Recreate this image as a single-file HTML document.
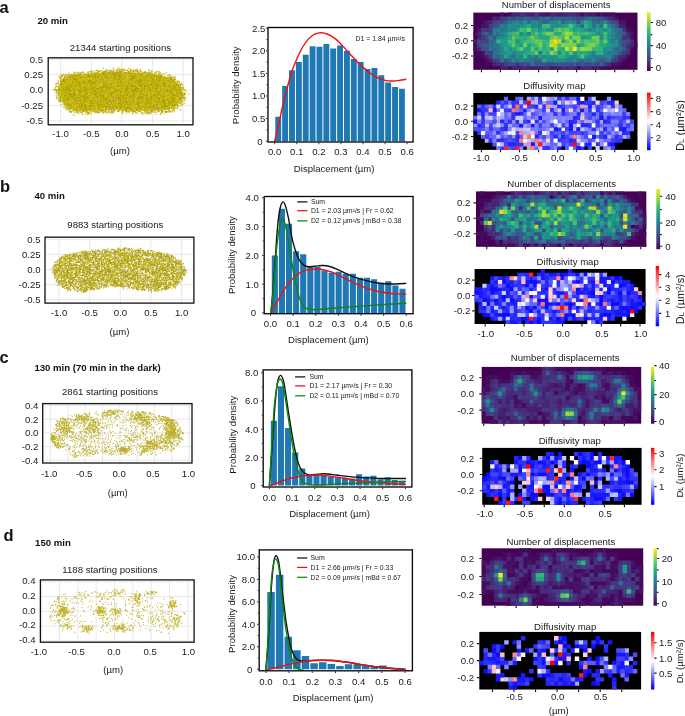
<!DOCTYPE html>
<html lang="en"><head><meta charset="utf-8"><title>Figure</title>
<style>html,body{margin:0;padding:0;background:#fff}svg{display:block}text{font-family:'Liberation Sans', sans-serif}</style>
</head><body>
<svg width="685" height="716" viewBox="0 0 685 716" font-size="9.6" fill="#1a1a1a">
<rect width="685" height="716" fill="#fff"/>
<text x="-.5" y="13.1" font-weight="bold" font-size="16.5" fill="#111">a</text>
<text x="0" y="191.7" font-weight="bold" font-size="16.5" fill="#111">b</text>
<text x="-.5" y="362.9" font-weight="bold" font-size="16.5" fill="#111">c</text>
<text x="3.6" y="541" font-weight="bold" font-size="16.5" fill="#111">d</text>
<text x="37.4" y="24.2" font-weight="bold" fill="#111">20 min</text>
<text x="34.5" y="198.9" font-weight="bold" fill="#111">40 min</text>
<text x="34.4" y="371" font-weight="bold" fill="#111">130 min (70 min in the dark)</text>
<text x="35.1" y="545.9" font-weight="bold" fill="#111">150 min</text>
<path d="M60.6 57.8V124.8M91.25 57.8V124.8M121.9 57.8V124.8M152.55 57.8V124.8M183.2 57.8V124.8M48.2 59.2H193M48.2 74.6H193M48.2 90H193M48.2 105.4H193M48.2 120.8H193" stroke="#e2e2e2" stroke-width=".8" fill="none"/>
<path d="M58.09 90L59.85 83.5L63.36 77.8L75.07 75.36L92.63 73.47L121.9 71.84L151.17 73.74L171.66 78.35L178.69 84.58L183.37 94.88L181.61 100.3L175.76 106.26L168.73 109.24L151.17 110.87L121.9 108.97L92.63 110.33L75.07 110.87L66.29 105.72L60.43 97.59" fill="#c6b60e"/>
<path d="m72.8 77.1h0m46 18.5h0m45.9-1h0m-50.8-15.8h0m-54.4 11.4h0m24.9 4.6h0m28.2-4h0m-28.9 2.3h0m80.8-3.4h0m-93.9 11.2h0m108.2-4.3h0m-82.2-7.3h0m25.7-1.9h0m38.1 6.6h0m-14-11.1h0m-25.8-3.5h0m-58.2 3.3h0m40.8 23.5h0m53.5-15.7h0m-35.4-18.4h0m-30.8 17.3h0m68.9-10.7h0m.6 12.5h0m-31.6 13.7h0m-28.2-6.1h0m36.1-5.6h0m-56.6-3.7h0m79.9-14.4h0m-16 34.9h0m11.9-8.4h0m-54.4 7.8h0m-24.3-6.5h0m21.7-10.4h0m13.8 11.2h0m7.9 2.1h0m-44.9-25.6h0m69.4 6.1h0m15.3 2.7h0m-53.9-2.4h0m-40.9 14.4h0m29-28.1h0m58.5 22.2h0m-20.6 13.5h0m14.5-18.2h0m-65.3-6.9h0m-12.9-.7h0m29.6-7.6h0m-14.4 24.2h0m14.9 7h0m80.3-6.7h0m-60-31.7h0m-51.9 38.6h0m88.4-18.5h0m-54.5 13.9h0m-27.7-12.9h0m-7.9-11.6h0m34.8 10.1h0m30.8 15.7h0m42.3-14h0m-81.6-10.3h0m53.4 29h0m40.4-13.5h0m-96.4-15.4h0m16.7-7.9h0m-15.8 20.3h0m93.1 9.9h0m-83.9 11.2h0m-14.2-26.1h0m60.5-3.7h0m-49 19.5h0m86.8-7h0m-5 .1h0m-80.7-18.6h0m.1 13.6h0m-10.2 21.9h0m41.6-2.5h0m-38.1-31.3h0m-15.4 13.5h0m104.8 17.6h0m-16.2-11h0m12.2 2.5h0m-78.8-24.9h0m67.7 5.1h0m-53.7 27.2h0m-21 2.9h0m37.5-20.6h0m-20.9 7.6h0m32.5-3h0m-37.2 11.5h0m60.2-11.8h0m-38.8-2.5h0m21.5-12.8h0m-28.6 23.1h0m-25-18h0m31.7-11.9h0m46.8 29.1h0m-66.4-17.8h0m77.7 3.2h0m-97.7 1.4h0m59.9-8.2h0m-63.6-.2h0m80.8 2.6h0m-5-5.1h0m-41.1-5.1h0m46.2 20.7h0m-26.3 1.3h0m-46.2-14.4h0m49.4 7.1h0m-45.6 .4h0m-3.6-2.4h0m91.8 3.8h0m-25.2-1.7h0m-84.4-11.2h0m56-2.3h0m-54.7 17.8h0m48.9 5.9h0m-8.3-5.3h0m43.3-9.3h0m-50.4 21.3h0m28.7-28.7h0m50.9 18.4h0m-91.2 12.9h0m10.1-13.7h0m29.3-11.1h0m-14.8-.4h0m17.9 14.9h0m30.3-15.7h0m-66.5 23.2h0m26.9 3.8h0m-12.9 3.6h0m-3.9-13.6h0m10.8-25.3h0m24.5 13.2h0m27.7 14.6h0m-51.7-3.2h0m-45-10.5h0m13.9-1.9h0m-12.2-5.6h0m72-3.7h0m-15.6 23h0m22.8 7h0m26.8-10.7h0m-50.4 7.1h0m-62.1-21.8h0m14.5 2.5h0m-17.9 13.2h0m9 16.6h0m5.3 1.6h0m97.5-29.7h0m-108.7-2.3h0m48.9 13.9h0m41.4-2.6h0m-15.3 7h0m12.6-26h0m-30-3.1h0m25.6 35.6h0m-79.6-23.3h0m-1.6 11.6h0m91.7 15.8h0m-27.5-28.3h0m2.1 15.9h0m2 3.1h0m-10.6-2.7h0m-8.5 10.8h0m-43.2-36.2h0m68.7 9h0m19.4-7.1h0m-8.4 14.6h0m-99.6-.4h0m47.4-7.4h0m17 27.7h0m-64.6-12.5h0m13.5-17h0m22 12.6h0m4 8.4h0m31.9 8.5h0m31.1-27h0m2.8 16.6h0m-42.3 8.3h0m-62.3-29.7h0m33.1 17.9h0m29.1-8.1h0m-21.5 9.5h0m20-23h0m-51.6 17.6h0m88.6-8.6h0m19.7 .7h0m6.4 5.1h0m-38.1-.3h0m-36.4-7.9h0m17.9 20h0m11-11.2h0m29.4-7.1h0m-108.7 16h0m31.2-23.4h0m81.2 20.6h0m-20.3-18.6h0m-69.5 4.5h0m38.9 15.2h0m12 15.7h0m-52.7-12.4h0m-7.5 1h0m108.6-11.3h0m-55.7 2.1h0m-17-7.6h0m10 4h0m-39.8-3.3h0m48.5 10.2h0m47.8-10h0m-10.8 10.5h0m-61.1-15.8h0m11.2 27.1h0m-25.7-31.3h0m33.6 5.9h0m34.7 11.5h0m-88.8 14.6h0m48.5-37.9h0m45 42.1h0m-35.9-24.8h0m1.8 8.1h0m-39.6 5.4h0m79.7-21.8h0m-61.6 3.3h0m68.4 26.4h0m-68-36.9h0m4.5 2.3h0m8.2-.1h0m35.7 24.5h0m-66.3-9.8h0m77 12.7h0m-55.7 4.8h0m22.4-35h0m-57.7 22h0m14.9 9.7h0m11.3-18.7h0m46.7 5.1h0m-.6-2.1h0m-50.5 3.8h0m-21.3 10.2h0m72.1-11.9h0m-64.7-.2h0m13.7-3.4h0m3.7 1.1h0m-1.3 18.3h0m47.9 5.6h0m-77.6-11.7h0m38.3-26.3h0m36.3 28.7h0m36.9-1.9h0m-13.5-12.1h0m-24-1.2h0m-15.8 10.8h0m-.4 14.1h0m-44-16.7h0m7-4.7h0m-21.6 8.4h0m58.4-20.3h0m-67.4 22.6h0m116.7 7.3h0m-11.3-34.1h0m-89.1 1.3h0m-4.8 10h0m92.7 1.6h0m11.6-2.7h0m-3.4 10.9h0m-62.1-23.6h0m-45.2 21h0m4.6 15.2h0m106.6-20.8h0m-87.8-10.5h0m15.2 33.1h0m-7.3-36.2h0m-33.5 20.5h0m99.9 2.1h0m-39.6 17.7h0m-45.4-28.4h0m29.6-10.1h0m-36.3 24.2h0m86.7-6.2h0m.4-12.6h0m-28.7 9h0m-53.3 7.5h0m-9.9 10.5h0m96.5-9.2h0m-105.4-.6h0m118.5-7.8h0m-1.1-6.2h0m-43.7 6.4h0m47.4-6.6h0m-36.5 4.4h0m-71.3-3.7h0m70.6 8.5h0m-45.5 7.9h0m.9-11h0m13.4 16h0m-27.9-28.6h0m48.8 1h0m21.8 20.2h0m-51.4 3.1h0m-27.3-.8h0m50.5 3.4h0m6.8-15.2h0m7 22.1h0m15.1-12.5h0m-79.5-8.8h0m30.5 14.7h0m-1.1-29.5h0m.4 14.2h0m-20.7 2.2h0m50.9-3.6h0m-71-12.5h0m120.7 9.4h0m-43.9 17.1h0m7.3-25.9h0m-73.2 6.3h0m-1.7 24.2h0m47.1-21.2h0m22.7-11.9h0m-28.6 27.4h0m-40.5-11.5h0m8.8-10.9h0m93.5 32h0m-61.9-15.3h0m-32.9-3.4h0m25.2-16.2h0m11.1 1.1h0m59.9 24.6h0m-16.6-23.4h0m16.5 16.2h0m-2.3-1.7h0m-78.3 16.6h0m-2.7-31h0m68 9.7h0m-62.4 10.8h0m32.3-3.9h0m-16.2-2.4h0m-36.9 5.1h0m-2.9 10.9h0m93.4-21h0m-29.8-12.5h0m-10.6 14.5h0m-37.2 19.5h0m-.4-5.1h0m64.9-.2h0m7.6 5h0m4.9-.4h0m-14.4 3.2h0m-19.1-25.4h0m-63.6 23.1h0m23.4-4.4h0m5.9-32.1h0m-8.5 17.3h0m-22.7-12h0m13.7 23.7h0m25.4-16.8h0m39.2 17.1h0m-7.6-16.5h0m10.7 13.3h0m.2-19.2h0m-21.7 10.6h0m17.6-.1h0m-29-11h0m12.1 .4h0m-31.2 7.9h0m73.2 16.3h0m5.3-19.1h0m-64.5-.2h0m42.4 16.5h0m-20.6-20.6h0m-65.3 29.1h0m5.9-25h0m73.6 23.6h0m-17.1-10.8h0m-5.5-2.7h0m9.7-6.6h0m-25.2 14.4h0m45.6-26.7h0m-59.3 17.2h0m9.5-1.7h0m-8.9-2.7h0m32.1 13.9h0m-64.1-9.5h0m90.3-11.4h0m-49 22.1h0m20 7h0m-61.7-28h0m-7.4 8h0m24.3 11.3h0m6 4.1h0m40.9-12.5h0m11.9-13.3h0m35.4 32.6h0m-100.1-35.3h0m17 22.7h0m68.3-15.5h0m-4.7 25.5h0m-71.2-9.5h0m3.8 11.8h0m14.6-16.6h0m32.5-20.4h0m-45.7 4.3h0m47.3 28.9h0m37.3-16.2h0m-20.7 5.5h0m-45.3-4.3h0m-29.2-2.7h0m-4.3 3.9h0m-8.5-9.1h0m11.4-10.3h0m52.2 1.1h0m16.2 33.6h0m-63.9-10.9h0m88-20.9h0m-25 19.1h0m-8.8-26.5h0m29.6 28.5h0m-99.3 7.3h0m6.9-3.6h0m101.5-11.5h0m-63.9-15h0m11.3 22h0m-39.3-18.5h0m-5 18.1h0m57.8-13.3h0m3.3 19.7h0m26.5-19.7h0m-68.3 8.3h0m6.6-3.7h0m-10.4-6.1h0m40.1-7.7h0m-21.9 35h0m-33.5-12.8h0m7.4 2.9h0m9.8-14.7h0m80.6 17.5h0m-47.8-13.4h0m-31.6 7.9h0m32.2-23.1h0m-41.4 5.2h0m-28.6 12.7h0m115.7-13h0m-119.1 11h0m23.7-3h0m83.5 9h0m-67.2 15h0m-17.2-14.2h0m52.4-27.4h0m39 42.9h0m-96.8-10.1h0m5.6-28.2h0m48.3 20.4h0m-47.4-7.5h0m79.6 14.2h0m-53.7-14.7h0m5.8-9.7h0m-47.4 4.3h0m47.8 23.9h0m70-12.9h0m-24.8 14.5h0m.8-17h0m20.6 15.1h0m-4.6 4.1h0m3.4-15.6h0m-48.8 3h0m-7.9 8.4h0m15.9 0h0m-20.5-30h0m-10.9 24.7h0m14.7-4.2h0m12.4 5.6h0m-13.5-7h0m9 8.8h0m1.4-15.8h0m3.4 6.5h0m-6.1 10.1h0m8.1 2.3h0m22.2-5.9h0m-54-11.2h0m56.3-13.4h0m-51.2 8.4h0m.8-9.3h0m49.8 1.9h0m-22.5 21.7h0m-21.9-20.5h0m-38.3 16.5h0m77.7 13h0m-10.9-23.6h0m-58.4 23.7h0m49.4 .3h0m26.3-25.1h0m-56.6 22.6h0m18.2-32.6h0m8.2 34.9h0m44.9-9.2h0m-49.3-22.5h0m22.6 37.4h0m12.9-34.4h0m-53 34.7h0m16.5-27.5h0m-19.5 14.1h0m-.3-10.6h0m-17.9 25.1h0m52.5-26.2h0m-28.7-10.2h0m38.6 8h0m-18 25.5h0m-7.7-25.2h0m-35.7-.8h0m6.7 7.6h0m17.9 .5h0m16.2-8.8h0m.4 11.9h0m-10.5-15.3h0m15-6.1h0m-61.4 9h0m103.1 17.8h0m-44-13.1h0m2.2 13.7h0m-14.5-13h0m29.3 4.6h0m-24.9-7.6h0m-13.9-2.2h0m30.2 15.8h0m26.3 4.2h0m-35.3-6.5h0m-14.5-15.4h0m10.4-2.3h0m21.9 7.5h0m-13.8 .7h0m-21.2-1.2h0m32.6 18.3h0m-84.8-18.1h0m16.7 20.4h0m23.8-24h0m-27.7 2.2h0m18.7-13.6h0m-1.4 19.7h0m-9-12.5h0m82.7 16.3h0m-60-22.2h0m-1.1 1.1h0m-12.3 8.8h0m-19.5 1.3h0m88.7-1.9h0m0 .2h0m-3.3 11h0m12.7-7.6h0m-56 4h0m16.4 14.2h0m2.3-31.1h0m-23.4 8.9h0m-35.1 24.1h0m65.4-3.3h0m-47.2-27.5h0m-15.7 9.3h0m66.3-10.2h0m11.9 27.6h0m-22 8.9h0m-12.2-35.1h0m42.3 18.5h0m10.4 16.1h0m-111.9-12h0m76.5-22.1h0m.4-3.4h0m12 26.8h0m-50.6 .3h0m71.4-22.1h0m-93.7 23.3h0m52.2-27h0m-32.1-1.4h0m-13.5 6.6h0m-1.4 5.9h0m32.7 24h0m9.2-27.5h0m55.7 11.5h0m-94.4 12.3h0m4.8-8h0m-24.8-5.1h0m105.2 9.8h0m-33.4-19.1h0m-50.2 11.7h0m87.7 15h0m-84.1-19.5h0m35.5 9.4h0m-18.8-26.6h0m-44.7 24.9h0m106.5-15.7h0m1.6 28.7h0m-61.3-15.3h0m-25.7-13h0m-24.6 4h0m67.7 18.7h0m-64.2-29.2h0m99.6-.5h0m-43.7 31.3h0m50.9 2.3h0m-46-10.8h0m44.3-4.4h0m-61.2-9.5h0m28.9-7.6h0m-2.7 36.3h0m6.2-33.4h0m-16.6-5.1h0m11 5h0m-56.2 5h0m43.6 11.7h0m-26 14.8h0m47.8-6.9h0m-37.9-18h0m55.8 8h0m-30.7-5.9h0m-34.7 2.2h0m5.9-14.6h0m22.7 19.8h0m-14.7 9.6h0m28.5 1.4h0m42.4-23.2h0m-14.5 4h0m-44.1 11.2h0m-55.3-21.8h0m44.7-.7h0m13.1 29.4h0m-31.3-5.5h0m34.6-.9h0m44.9-17.5h0m-29.6 20.2h0m-53.4 11.1h0m-13.1-17.4h0m51.9-11.1h0m-65.4 8.5h0m73.4 16.7h0m44.7-15h0m-68.6 2.1h0m39.2-3.7h0m-20.5-21.6h0m-55.5 10.2h0m12.8 5.1h0m69.6 13.6h0m-49.4-8.7h0m-41.1 2.8h0m44.7-8.6h0m-44.9 2.8h0m61.9 3.4h0m20.5 3.4h0m-57.9-.2h0m-4.7-16.1h0m-28.1 3.3h0m99.9-6.7h0m-45 12.4h0m57.5-8h0m-110.3-3.8h0m80.2 20.4h0m33.2-16.9h0m-69.9 14.6h0m55.8-2.8h0m-82.7-2.3h0m105.7 14.3h0m-76.5-32.7h0m-25.7 24.9h0m91.2-12.2h0m-37.8-13.7h0m17.2 8.2h0m-12.6 22.1h0m7.4-24.3h0m-28.8 2.3h0m47 30.1h0m-102.6-13.1h0m99.5 11.9h0m8.6-.6h0m-47.4-27.9h0m40.9 32.1h0m-94.3-1.3h0m26.3-8.7h0m65.6-10.2h0m-75.6-4.5h0m19.5-5.2h0m37.6 18.5h0m-58.5-27.9h0m53 32.4h0m-66.1-21.2h0m-.8 26.6h0m12.3-4.6h0m21-30.2h0m-27.3 3.5h0m15.3 25.1h0m50.8-24.6h0m-64.7 23.5h0m76.8-14.7h0m6.1-7.8h0m-95.5 4.2h0m100.3 21.7h0m-64.6-5.8h0m34.3-16.4h0m-41 13.2h0m71.6 6.6h0m-75.1 10.5h0m-12-32.3h0m88.3 13.5h0m-90.1-6.5h0m99.8 1.9h0m-34.7 12h0m-81-1.3h0m80.9-2h0m-44.7-.6h0m34.2-8.2h0m30.3 7.3h0m-16.6-24.7h0m-65.3 .8h0m102.7 25.8h0m-73.3 10.4h0m-23.2-13h0m-26.3-5.1h0m93.6-13.5h0m6.9 22h0m-53.6-27.6h0m3.2 23.8h0m-10.8-9.2h0m24.5 23.4h0m18.7-34.9h0m44.9 15.3h0m-41.8 13.6h0m-56.6 6.3h0m58.3-11.5h0m-67.8 2.3h0m27.9 5.7h0m-42.2-27.1h0m61-.2h0m-13 6.4h0m-4.6 8h0m8.2-3.9h0m-34.9-2.9h0m13.5 14.3h0m43.7-3.3h0m-54.3-23.5h0m-.1 30h0m55.6-19.5h0m-.3 13.4h0m10-29.7h0m-41.1 6.5h0m-16.5-.7h0m41 31.5h0m24.9-2.3h0m-11.2-16.2h0m27.2 5.1h0m-55.3 10.9h0m53.7 7.4h0m3.4-22.9h0m-5.6 22.7h0m-85.4-29.8h0m-.7 26.3h0m76.1-35h0m-32.1 32.3h0m29.6 3.1h0m6.9 .9h0m-92.6-27.2h0m91.1 26.1h0m-29.9-5.9h0m-55.2 8.3h0m68.3-9.6h0m39.4-11.1h0m-31.4-2.3h0m-30.1 18.4h0m2.3-17.1h0m3.8 20.6h0m-27.1-15.3h0m12.5-10.4h0m-40.1 20.6h0m7.3-20.3h0m-16 18.9h0m99.7-11.7h0m-19.1 7.6h0m-47.6 2.8h0m53.3-30.2h0m-33.3 20.8h0m55-6.5h0m-37-14.5h0m28.5 41.1h0m.6-7.6h0m-45.3-22.1h0m-20.2 27.3h0m80.8-7.3h0m-79.7-19.2h0m59.3 3.6h0m14.3 15.4h0m-39.1 7.1h0m-9.1-15.5h0m33.7-14.6h0m17.4 18.1h0m-69.5-22.1h0m-7.2 1.3h0m57.9 2.2h0m-7.6-8.2h0m-52.8-.3h0m-19.6 22.5h0m82.9-.9h0m-12.8 10.3h0m35-9.8h0m-64.4 2.5h0m-33.2-5h0m71.4-7.8h0m-54.8-11h0m25.1 2.9h0m-54.4 8.6h0m-.6-8.2h0m-14.1 26.3h0m16-25.1h0m73.4 5.3h0m-38.8 16h0m8.3-26.9h0m48.3 21.6h0m-8.9 12.9h0m-74-28.5h0m.9 33.8h0m16.5-.5h0m-21.3-30.9h0m66.3 13.6h0m-66.1 18.2h0m97.8-24.1h0m-114.4-3.6h0m38.4 16.4h0m-1.5-18.9h0m-2.6 21.5h0m45.9 4.9h0m-65.5-19.5h0m13.6 .9h0m36.6-1.2h0m-64.6 5h0m88.4-18.2h0m-41.3 39.4h0m13.9-7h0m-25.8-2.9h0m29.5 2.1h0m-7.7-32.5h0m4.8 28.8h0m-59.5-27.9h0m76.7 38.9h0m-47.5-40.7h0m12.6 26.5h0m31.9-17h0m.7 22.8h0m41-2.6h0m-65.5-12h0m3.1 19.6h0m31.1-24.3h0m-12.6-13.8h0m13.3 32.7h0m-59.5-11.7h0m-22.2-10.1h0m73.8 12.9h0m3.8 1h0m-81.8-6.5h0m19.1 2.6h0m93.6 6.7h0m-66.8-14.2h0m-7.2 19.4h0m13.4-26.8h0m20.2 24.1h0m40.4-5.2h0m-53.7-17.6h0m51.8 22.5h0m-11.2-5.9h0m-79 13.9h0m19.7-32.4h0m-13.7 22.8h0m-.1-14.1h0m52.3-3.1h0m-20.3-5h0m17.5 22.9h0m-27.4-1.4h0m70.7 4.5h0m-84.5-25.6h0m81.6 17.1h0m-104 17.8h0m59.4-25.2h0m23.7 26.9h0m-54.5-6h0m-.1-18.3h0m57.1 3h0m-106.7-2h0m9.9 2.9h0m95.9-19.4h0m-60.3 11.4h0m66.5 16.5h0m-69.8 8.7h0m31.1 .6h0m-15.9-12.6h0m2.8 9h0m24.6-.5h0m-52.2-16.2h0m31.2 6.3h0m5.9-11.4h0m-34.7 22.9h0m89.2-6.4h0m-106.2-5.1h0m27.4 4.6h0m41.6-28.6h0m16.6 12.3h0m3.1 10.7h0m9.3-9h0m-61.2-3.2h0m-4.2 12.4h0m16 12.2h0m-49-28.9h0m-7.9 .9h0m57.1 19.7h0m18.1-22.2h0m-66.7 28.6h0m99.6-18.9h0m-102.3-13.7h0m83 32.1h0m-74.6-8.5h0m-14.2 .6h0m62.2-27.8h0m-33.6 39.6h0m45.7-.9h0m-47.1-17.4h0m91.9-2.3h0m-25.6-6.2h0m-6.6-1.9h0m-43.2-1.6h0m59.6 8.2h0m-64.6 16.7h0m58.8-12.3h0m6.4-18.4h0m.4 7.4h0m-11.1 12.6h0m-14.4 4.7h0m-1.5-21.8h0m17.5 6h0m17.5 1.9h0m-60.9-6.7h0m16.5 31.6h0m-63.4-11.3h0m57-19.7h0m18.5-.9h0m21.7 18.4h0m-2.2-7.1h0m-3.3 4.4h0m2 10h0m-83.3 .3h0m29.5-1.3h0m19.7 2.8h0m-36 1h0m83.8-13.2h0m-18.1 6.7h0m-47.6-25.2h0m-48.6 27.1h0m62.9 2.6h0m26.7-14h0m-30.6-17.3h0m34.7 21.3h0m-81.9-6.8h0m58.7-13.6h0m21.6 32.8h0m-94.7-7.1h0m83.3-19.2h0m-38 11.1h0m41.7 14h0m-10.7-23.8h0m-2.3 19.5h0m-63.4 6.7h0m94.7-35.7h0m-20.8 16.1h0m-35.4 5h0m58.2-1.8h0m-17.8 1.1h0m-25.4 5.2h0m-56-25.2h0m55 21h0m-2.3 12h0m-23.1-25.2h0m31.7 13.9h0m-16.8-18h0m37.9 29.9h0m-67.9-26.6h0m6 22.3h0m83.5-2.4h0m-111.4-3.5h0m104.5-11.2h0m-47.5 19.9h0m38.2-24h0m-23.2-1.5h0m-14.2 13.8h0m-18.2 17h0m46.4-21.3h0m-82.5 13.5h0m49.4 8.6h0m48.5-1.6h0m10.8-2.2h0m-68.7-11.7h0m-32.9-5h0m-2.7-6.9h0m69 10.5h0m22.6-19h0m-50 19.9h0m4.7-1.9h0m21.9 14.1h0m19.7-1.1h0m-60.9 4.7h0m-41.2-23.2h0m30.1-13.1h0m11.9 24.9h0m-23.3 7h0m101.3-2.4h0m-55.7-32.3h0m-11.2 29.5h0m28.2-27.2h0m-66.3 18.6h0m93.3 .7h0m-35.8-15.6h0m42.2 6.2h0m-104.2 13.5h0m77.8-3.7h0m-82.6-2.7h0m17.8 0h0m72.1 20.6h0m-72.2 1.1h0m95.3-25.5h0m-57 17h0m62.8-6.1h0m-18.6 3.3h0m18.9-16.3h0m-75.8 12.4h0m29.7 10.7h0m-34-5.9h0m-8.3-16.8h0m48.1-11.6h0m35.8 34.3h0m-93.2-2.8h0m29-6.7h0m39.4-10.4h0m22.2 .6h0m-51.7 2.4h0m56 16.2h0m-73.7-2.6h0m46.1-10.2h0m-28.8-8.4h0m32.9-8.4h0m-40 17.3h0m-25.4 13.4h0m15.8 .4h0m-15.1-7h0m72.8 4.8h0m-45.8 .1h0m-51.4-1.4h0m65.2-13.7h0m11.1 2.5h0m-57.5 3.5h0m94.2 8.6h0m-69.3-7.7h0m68.3-6.5h0m-30.6 15.3h0m14.2-32.9h0m-90.1 24h0m.3-3.9h0m91.3 14h0m-56.7-22.5h0m47.5 23.4h0m-.6-5.4h0m-54.2-14.4h0m26.9-6.9h0m-18.1 21.7h0m41.6-9.3h0m-11.6-9.3h0m12.8-5.6h0m-41.1 .8h0m-30.1 23.2h0m31.3-33.5h0m39 29.7h0m-45-22.7h0m13.5 19.8h0m5-27.3h0m-7.1 10.6h0m59-2.1h0m-88.9 18.7h0m76-17.3h0m-73 24.4h0m15.8-28.8h0m1 23.9h0m71.4-4.4h0m-114.3-3.9h0m21.3-2h0m7.5 7.6h0m5.7-9.8h0m66.5 9.1h0m-38.3 1.2h0m-25-23.7h0m11.2 35.3h0m-49.6-16.5h0m31.9-6h0m31.8-13.9h0m53.9 10.8h0m-23.9 11.6h0m-28.1-17.6h0m-39.7 2.5h0m83 21.4h0m-64-32h0m60.5 42.3h0m-38.9-11.5h0m-9.8-2.9h0m19.9-11h0m-23.2-9.9h0m45.8 22.2h0m-94 3.5h0m34.3-7.5h0m40.5 8.7h0m-12.5-13.3h0m2-10.4h0m-18.4-.4h0m65 26.2h0m-73.9-30.4h0m58 28.5h0m-50.7-9.1h0m52.2 9.5h0m-54.3-5.8h0m-28.4-23.6h0m41.1 10.6h0m-20.9 19.4h0m-13.1-.8h0m2.7-25.2h0m.4-7.3h0m29.4 22.5h0m4.9 4.1h0m-13.9-5.8h0m12.2-5.8h0m-16.3 1.5h0m47.2-4.8h0m1.3 1h0m-10.8 17.5h0m-34-24.2h0m56 34.2h0m-45.5-9.7h0m-12.9-9.9h0m-23.7 13h0m84.5-13.9h0m-37.9 3.5h0m-36.3 7.6h0m-33.9-21.4h0m80.5 26.1h0m-23.3-15.3h0m-8.5-17.3h0m-4.2 21.5h0m35.2-26.6h0m-35 42.6h0m46.2-31.9h0m-33.5 11.2h0m61.4 3.2h0m-12.2 10.5h0m-77.5 .8h0m34.6-32.8h0m-28.9 9.7h0m-2.6-9.5h0m1.8 19.7h0m74.2 .1h0m-107.5-7.2h0m43.4 25.5h0m-28.7-39h0m40.9 26.4h0m58.1 5.6h0m-14.8 3.6h0m-36.7-17.7h0m58.5 1.7h0m-72.4 14h0m60.6-20.2h0m-84 5.4h0m-18-14.9h0m5 34.8h0m62.1-25.9h0m41 7.1h0m-64.2 2.9h0m-28.6 13.2h0m90.6-27h0m-36.7 25.3h0m-21-24.2h0m-46.9 11.7h0m76.5-3.6h0m-83.7-14.8h0m55.1 10.6h0m19.6-15.7h0m-24.9 15.1h0m34.1 7.1h0m-86.1-5.1h0m122.9 1.1h0m-82.5 9.9h0m11.7-6.8h0m41.9 17.9h0m4-8.2h0m9.9-24.1h0m5 28h0m-80.2-18.2h0m-20.9-3.2h0m64.5-.5h0m7.6-11.3h0m14.8-.7h0m-70.7 1.2h0m78.5 15.5h0m-100.2 12.3h0m44.6-14.3h0m-16.4 10h0m68.4-1.9h0m-15.7 2.5h0m-50.3-16.6h0m5.5 30.5h0m38.4-.2h0m-50.6 .7h0m-15.4-7.2h0m56.2-9.9h0m7.3 16.7h0m-14.8-5.6h0m1.8-13.4h0m24.4-8.4h0m-19.3-9.7h0m-36.1 4.5h0m-15.9 4.6h0m59.7-7.6h0m-18.6 8.2h0m63.1 1.5h0m-39-12.1h0m13 30.2h0m-21.5 8h0m27.9-28.2h0m-20.4 7.5h0m-68.6 1.9h0m83-5.9h0m-29-14.3h0m10.3 17.5h0m-36 20.2h0m28.5-23.4h0m46.5 3.7h0m-1 .4h0m-50.1 15.7h0m-33.1-31.3h0m31.1 13.9h0m30.3 6.9h0m-22.6 2.2h0m19.1-5.1h0m-1.9-8.2h0m-18.4 8.3h0m-66.3-11h0m92.3 17.4h0m-57.9-4.4h0m82.8-1.4h0m-25.6-6.5h0m-97.5-2.2h0m40.7-9.4h0m51.1 9.9h0m-44.6-4.9h0m-29.4 5.3h0m-13.6 1.3h0m22.7 4.1h0m11.5-9.7h0m-27.9 11h0m55 7.7h0m18.9-4h0m-29.2-5.5h0m45-2.7h0m-53.7 18.2h0m-39.5-8.8h0m111.2-15.3h0m-69.9 21.2h0m-50.3-19.4h0m51.8 27.8h0m70.9-19.1h0m-24.3-1.4h0m-77.6 13.5h0m51.6-12h0m-35.3-7.6h0m27.1 15.5h0m31.3-20.1h0m-4.1 13.4h0m-37.1 7.6h0m-8.8 2.3h0m-35.4 1.7h0m38.9-17.3h0m20.5-15.7h0m40.1 16.4h0m-5.9-13h0m-76 17.1h0m66.4 8.5h0m7-9.4h0m-16.6 10h0m-44.1-16.8h0m59.7 21.7h0m-55.7-30.9h0m-38.6 18.1h0m16-3.5h0m41.7-9.6h0m22.2 11.5h0m12.3-1.2h0m-53.1-20.7h0m.6 14.7h0m-40.2 3.9h0m43.7 20.3h0m-28.2-1.7h0m29-12.6h0m-14.9-4.4h0m-15.9 10.6h0m71.8 12.5h0m-66.6-17.8h0m55.9 14.4h0m-37.3-14.8h0m21.7-2.4h0m-37.3-6.9h0m1.6-11.9h0m45.1 30.3h0m-21-27.9h0m-23.3 32.4h0m55.1-14.5h0m12.5-19.4h0m-61.1 28.1h0m33.9-23.4h0m7.2-5.2h0m-74.9 17.1h0m55.1-5.7h0m11.6-6.7h0m-46.4 2h0m57.4-6.9h0m6.5 23.3h0m-52-7.8h0m22.9 6.4h0m-51.3 2.8h0m33.6-28.9h0m54.5 32.9h0m19.9-13.5h0m-67.1 20.3h0m7.1-33.5h0m21.8 9.4h0m-24.9-10h0m37.7 12.6h0m-11.6 2.6h0m-48.3 6h0m72 6.4h0m-87.4-26.9h0m21.3 31.3h0m35.1 .8h0m10.1-28.8h0m-57.3 1.6h0m90.3 28.4h0m-30.1-27.4h0m-14 12.5h0m45.9-9.6h0m-66.6 23.7h0m63.1-30.6h0m-67.1 6h0m51.7 6.9h0m-43.5 11.1h0m27.6 2.4h0m7.3-27h0m3.3 33.4h0m-45.3-36.3h0m-22.4 2.8h0m54.2 10.3h0m9.4 4.6h0m-56.8 15.3h0m86.6-18.1h0m1.1 7.9h0m-22.2 7.7h0m-52.9-17.3h0m-19.1-10.5h0m4.4 33.7h0m30.4-23.7h0m-51.7-2.6h0m45.5-9.3h0m55.3 21.9h0m-66.1-14h0m41.9 2.6h0m-16.9 17.7h0m6.2-18.2h0m-16-7.3h0m-1.8 10.8h0m41.6-3.8h0m-5.8-12.9h0m-74.7 35.2h0m31.7-35.6h0m-43.2 25.9h0m54 9.9h0m19.5-36.4h0m-14.2 35.8h0m-44.5-19.4h0m89.1 5.8h0m-10.3-3.1h0m-73.9 19.9h0m32.3-16.2h0m60.3 4.5h0m-47.8-15.3h0m-42.1 9.1h0m-6.8-3.5h0m79.3-14.9h0m-69.3 10.9h0m58 9.4h0m1.3-6.5h0m6.6-16.8h0m12.9 9.5h0m18.1 6.5h0m-90.6 13.3h0m-29.1-4.5h0m31-15.3h0m5.5 20.6h0m20.6-22.1h0m-4.9-3.2h0m.6 13.9h0m-11.5 14.8h0m-1-26.4h0m56.3 31.7h0m-16.7-17h0m6 17.7h0m-36.1-39.4h0m49.6 27.1h0m-75.9-18.1h0m79.1 25.2h0m-55.5-26h0m3.8-1.6h0m34.3 30.7h0m-19.1-5.9h0m-52.4-4.7h0m8.6 10.3h0m90-9.5h0m-1.2-9.3h0m-78.2 1.5h0m25.9 9.9h0m-48 8.7h0m7.7-10.9h0m6-11.4h0m50.9-15.2h0m38.1 28.1h0m-109.1-5.1h0m6-16.2h0m88.7 13.2h0m-60.1 17.9h0m44.6-1.5h0m-16.3-36.4h0m-46.5 9.9h0m48.2-.9h0m36.1 29.3h0m-24.3-17.4h0m14.1 5.1h0m-97.5-9.5h0m30.6 19.9h0m41.6-15.4h0m37.6-2.6h0m-98.8 11.6h0m29-22.5h0m73 2.4h0m-116.8 9.8h0m34.2-18h0m34.9 .2h0m40.5 9.2h0m-51.1 13.9h0m-47.2-19.3h0m78.5 9.1h0m12.3 9.7h0m-2.5-20.6h0m-66.8-.5h0m-21.9-1h0m82.2 22.8h0m18.7-13.9h0m-35.5-2.9h0m-52-5.4h0m11.4 20.9h0m21.7 14h0m-6-34.1h0m-28.6 34.5h0m94.8-26.9h0m-71.1 28.7h0m.6-27.4h0m46-5.7h0m5.3-5.7h0m-43.7 9.2h0m-42.2 17.7h0m32.5 8.2h0m-26.2-20.3h0m104.8 11.6h0m-40.6-2.6h0m-47.6 1h0m33.7 2.4h0m-8.9-4.1h0m27.2 13.6h0m-13-39.8h0m-25.6 33.8h0m24 0h0m-45.3-24.7h0m62 22.2h0m29.4 3h0m-19.9 4.1h0m-17.3-17.5h0m-54.3-8.2h0m-23.9 8.8h0m77 14.2h0m-29.6-9.5h0m-11.2-12.8h0m19.3-11.1h0m36.3 20.3h0m-74.5-8.3h0m-6.4 5.3h0m11.4 1.2h0m29.7 8.9h0m-3.9-25.7h0m3.1 37.6h0m35.2-23.1h0m33-4.8h0m-52.6-9.4h0m-7.2 11.5h0m27.3 4h0m-65.9 14.6h0m-4-5h0m76.3-21.8h0m-80.2 9.1h0m52.2 18.1h0m1.1-17.8h0m5.3 23.5h0m-11-28.7h0m-32.7-3.7h0m3.8 12.5h0m-21.8 20.2h0m32.1-18.8h0m19.3 11.8h0m-12.2-20.3h0m39.4 12.3h0m35.6 1.1h0m-32.1-1.3h0m-32.4-8h0m-52 11.7h0m-4-24.7h0m79.3 26.4h0m22.3 6.6h0m-87.9-27.2h0m67 20h0m22.2 3.1h0m-32.1-30.7h0m-34.9 11.6h0m30.7 16.9h0m42.1-.9h0m-61.1-.4h0m.6-28.4h0m-34.6 37.4h0m56.6-23.2h0m22.8 0h0m-1.2 27.8h0m-74-36h0m-1.1 13.5h0m85.5 8.6h0m11.1-16.1h0m-6.3 12.1h0m-22 12.7h0m21.7-31.9h0m-16.4 31.7h0m-36.9 2.1h0m16.6 .4h0m46.7-20.3h0m-56.8-20.1h0m-20.7-2.3h0m7.6 13.1h0m-40.2-2.6h0m34.6-7.4h0m-30.7 10.5h0m53.3 29.6h0m24.5-5.1h0m18.3-29.2h0m-92.2 22.7h0m73 7.9h0m-68.4-29.2h0m13 10.2h0m27.1 20.2h0m-6.3-13h0m-39.4-23.4h0m73.2 10.6h0m-9.2 11.5h0m-25.4-13.9h0m57.1 13.6h0m-68.6-8h0m34.6 24h0m-57.1-31.6h0m55.2 31h0m-15.9-38.3h0m-52.3 18h0m32.7 8h0m-19.3-11.6h0m-5.2 21.6h0m44-20.9h0m22.2-13.1h0m-16.4 35.1h0m-16.8-22.7h0m49.3-9.9h0m-55.2 .8h0m6.4-3.8h0m26 17.3h0m-15.5-.6h0m-1.6-8.2h0m46.8 .6h0m-93.5 24.4h0m54.2 4.5h0m-69.5-21.4h0m59.4-15.1h0m32.3 26.6h0m5.4 5.7h0m-74.2-3.6h0m17.1-29.5h0m37.5 9.8h0m9.4 15.4h0m-20.4 8.5h0m-34.9-27.1h0m47.7-11.7h0m-12.9 .3h0m-28.4 12.3h0m-7.3 12.7h0m-7.9-10.9h0m24 15.1h0m77.7 2h0m-83.8-4.6h0m44.7-3.3h0m-24.7 18.4h0m-41.5-7.4h0m30.2-33.1h0m-50.4 16.1h0m72 24.5h0m1.8-40.8h0m-13.2-.9h0m1.3 22.6h0m-40.8 5.7h0m82.6 5.4h0m-10.8-6.5h0m-47.1 12.2h0m-23.2-26.3h0m42.8 24.7h0m1.9-21.9h0m-49.8 30.1h0m58.7-11.8h0m-55.4-7.7h0m54.7-16.6h0m24.4 24h0m-39.4-31.8h0m-9.3 5.6h0m-31.2 33.4h0m70.9-5.6h0m7.4-16.5h0m-48.2 1.7h0m-3.5 3h0m-4.7-10.6h0m7.8 19.9h0m64.5-.1h0m-46.5-15.5h0m23.7 27.2h0m-86.6-19.9h0m31.5 7.5h0m13.2-9.8h0m47.5 5.6h0m-43.5 11.5h0m-45.1-18.2h0m59.7-1.1h0m31.2 9.7h0m-84.2 1.3h0m100.4-9.2h0m3.9 4.2h0m-100.4 16.2h0m44.1-40.9h0m-17.8 22.1h0m-18.1 12.3h0m-8.8-12h0m16.2 14.6h0m-11-13.6h0m42.6-21.6h0m28.7 31.4h0m-59.5-23.4h0m10.3 3.2h0m1.1 10.2h0m-42.4 11h0m67.8-16.8h0m.3 7.6h0m41.2 9.5h0m-26.3-11.1h0m-62.8 7h0m28.7-27.8h0m-44.3 31.3h0m91.5-32.7h0m-14.2 32.9h0m11.8-18.3h0m-41.8-18.1h0m49.3 41.2h0m-86.2-22.7h0m55.9 .3h0m-4.1-15.3h0m-.1 16.4h0m-33.1 7h0m31.6 6.8h0m21.8 9.9h0m-76.7-12h0m-8.2-14h0m104.8 16.7h0m-45.9-8h0m-32.4-9.1h0m81.9 22.5h0m-48.5-19h0m43.5 2.9h0m-70.2-16.3h0m64.8 16.2h0m-78.4 .1h0m66.5-16.6h0m-88.8 15.4h0m107.3-2.8h0m-84.5-15.6h0m85.2 8.2h0m-86.1 26h0m99.6-21.9h0m-48 2.4h0m30 22.3h0m-4.7-14.3h0m-23.4-19.3h0m-23.1 20.6h0m43.8-18.4h0m20 3.7h0m-30.3-2.1h0m-27.6-8.9h0m57.1 30.6h0m-40.4 5.1h0m30.1-16.9h0m.9 8.7h0m-96.5-8h0m31.9-17.6h0m9.3 10.7h0m27.7 3.5h0m-40.9 18.7h0m46.9-11.7h0m-44.9-3.2h0m-34.7 14.1h0m13.5-6.4h0m17-8h0m-25.9 7.3h0m73 8.6h0m3.9-7.6h0m-51.6-6.5h0m26.4-15h0m24.8 17.6h0m20.6 1.2h0m-60.7 13.2h0m-23.4-1.6h0m.6-9.9h0m48.6 12.3h0m28.3-9.9h0m8.8 10.6h0m-56.1-29.9h0m66.3 13.5h0m.3 7.1h0m-49.2-29.6h0m-16 11.1h0m-18.7 26.7h0m22.1-6.2h0m45.4-10.9h0m-51 4.5h0m57.8-13h0m-4.9-5.3h0m-47.7-4.5h0m-43.9 30.5h0m100-14.7h0m-107.4 16h0m60.8-30.2h0m-58.1 3.6h0m97.9 8.5h0m-83.7 12.6h0m-12.7-12.1h0m96.4 24h0m13.9-15.3h0m-32.1-3.6h0m-40.5-13.6h0m-9.9 4.1h0m-1.7 19.8h0m-13.9-9.2h0m36.5-7h0m-7.1-15.9h0m-31.1 24.6h0m58.7-17.9h0m15.4 18.3h0m-89-12.4h0m19.9 24.6h0m4.1-17.7h0m66.6 8.9h0m-63.6-22.8h0m33.1 7.9h0m-45.8 3.6h0m-16.6-14.8h0m111.7 29.4h0m-72.9-30.1h0m-29.7 5.9h0m10.6 9.1h0m-10.3 3.8h0m31.2-11.1h0m15.8 20.5h0m-21.6-25.6h0m-33.8 6h0m16.9-1.9h0m82-.3h0m-92.1 5.6h0m55-7.3h0m-47.9-5.8h0m62.8 10.7h0m-57.8 27.3h0m3.6-2.8h0m33.9-37.8h0m-5.6 11.1h0m17.2 2.4h0m40.2-3.5h0m-102.4 18.6h0m101.5 8.1h0m-21 1.8h0m-91.3-21h0m83.2-5.5h0m-52.1 9.3h0m74.2 6.1h0m-34.7 5.4h0m-8.1-30.2h0m-19.6 17.8h0m28.2-18.1h0m-34.9 5.6h0m5 12.3h0m71.5-2.6h0m-90.8 25.7h0m34.3-13h0m-38.5 2.9h0m44.3 5.5h0m-6.1-33.3h0m-58.4 21.5h0m41.6-23.3h0m18.7 19.9h0m12 14.9h0m14.8-11.8h0m-70.5-11.5h0m63.6-8.6h0m10.2 22.5h0m-77.5-12.3h0m14.3-6.9h0m16.6 29.6h0m22.4-15.9h0m-46.8 7.5h0m91.5-6.8h0m-77 3h0m1.2 14.8h0m62.9-28.2h0m-26.1 4.8h0m-1.3 15.6h0m-30.7-10.5h0m-15.2-14.7h0m2.7 4.5h0m44.6-8.9h0m35.1 13.2h0m-14.1-7.1h0m-44.2 26.8h0m18.1-16.8h0m-38.9 20.1h0m-12.4-1.4h0m37.9-11.1h0m60.9 7h0m-80.1-8.4h0m63.6-21.4h0m-2 28.9h0m-35-3.8h0m-24.6-3.6h0m9.6 14.3h0m-23.4-1.2h0m58-3.4h0m-34.3 6.6h0m-31.2-27.6h0m116.3 8.8h0m-75.4 9.2h0m66.4-9h0m-100.4-20.3h0m-12.9 8.4h0m45.3 22.5h0m2.3-22.9h0m40.4 5.3h0m-93.4-8.6h0m5.8-.8h0m-1.8 27.6h0m108.4-14.1h0m-90.3-17h0m62.1 10.9h0m6.1-8.7h0m-88 25h0m20.3-15.9h0m11-4.4h0m50.4 24.5h0m-57.4-1h0m-.9 1.9h0m88.2-27.7h0m-83.5-7.2h0m-23.3 7h0m61.4 9.9h0m-60.2-10h0m-7.5-2.3h0m78.4 1.2h0m-75.9 6.3h0m52.5 24.5h0m-38.1-.8h0m-6.3-5.1h0m74.6 9h0m-4.6-39.2h0m-62.2 39.3h0m99.5-19.2h0m-21.3-3h0m-.9 5.7h0m-8.6 .4h0m-73.7 9.4h0m10.3-23.1h0m89.2 19.8h0m-103.5-16.8h0m94.8 21.1h0m-88.4-7.3h0m23.7 0h0m30.3 1.6h0m-42.5 3.3h0m53.6-18.4h0m-46.2 20.9h0m-39.5-15.3h0m92.7-18.7h0m-82.9 15.9h0m12.8 10.4h0m22.9-2.6h0m64.5-17.1h0m9.7 5.2h0m-47.8 10.7h0m-58.1-2h0m86.9-.3h0m5.6 6.1h0m-41 13.9h0m-66-22.1h0m111.7 15.1h0m-108.3-4.4h0m53.8-15.7h0m-39-6.5h0m54.7 8.7h0m10.9 18.7h0m-10.9-37.5h0m-14.7 33h0m-4.4-16.2h0m27.3-13.7h0m9.3 28.6h0m-32.2-6.7h0m-18.6 6.5h0m-27.4-14.9h0m86.9-4.9h0m-24.5 9.7h0m-46.7 6.9h0m-.8 6.1h0m5.3 7.5h0m23.8 .9h0m-11.8-5.6h0m66.1-12.1h0m-23.7 12.6h0m-27 1.9h0m-14.5-6.2h0m2-24.1h0m-13.9 20.2h0m45.9-3h0m-34.5-12.1h0m68.4 18.8h0m-14.2 1.4h0m-28.5 4.3h0m-40.3 3h0m53.2-27h0m-45.5-5.1h0m41.6 17.6h0m-43.9 17h0m78-30.5h0m-14.7 13.5h0m23.9-10.3h0m3.8 11.9h0m-29.1-5.1h0m-13.1-12.3h0m-9.6 1.7h0m-32.1 22.1h0m30.1-18.6h0m36.4-6.5h0m-39.4 8.9h0m55 8.3h0m-51.6 1h0m-19 .8h0m-29 14.4h0m43.2-16.3h0m30.6-18.5h0m-50.1 7.8h0m0-9.1h0m56.7 34.5h0m-53.8-36h0m17.4 28.8h0m31.5-26.3h0m11.3 20.1h0m-22.5 13.8h0m-68.8-16.3h0m-13.2 .2h0m57.3-2h0m8.4-18.6h0m45.5 6h0m-41.6-10.2h0m-27.7 18.9h0m24.6 17.9h0m32.7-3.8h0m-74.9-.5h0m52-31.9h0m-7.9 33.6h0m30.4 2.1h0m-79.9-21.2h0m77 9.6h0m-45 9.7h0m-13.4-23.2h0m-11.2 12.8h0m-4.7 17.6h0m81.7-30.7h0m-74.7-9.7h0m.9 26.8h0m3.5-23.9h0m13-2.3h0m-9.4 22h0m45.4-1h0m-38.7-13.1h0m-40.7-3.4h0m8.6 21.3h0m59.7-12.8h0m18 8.1h0m-14.8-9.9h0m-35.9-1h0m81.1 4.9h0m-66.9-5.7h0m-26.5 26.4h0m27-32.6h0m37.9 33.2h0m-6.2-15.6h0m13.5 3.2h0m-59-1.6h0m-34-19.5h0m77.8 13.9h0m-39.4 23.6h0m-47.2-26.3h0m51.2-3.9h0m21.5 28.9h0m-66.2-14.3h0m70.6-11.4h0m7 19.4h0m-34.2-28h0m-17.8-2.3h0m54.3 38.3h0m-21.4-2h0m-10.1-12.9h0m-31.4-23.6h0m-5.9 4h0m40.6 6.8h0m-57.3-5.6h0m61.9 10.1h0m-18.8-11.5h0m44.7 19.5h0m-27.7 2.7h0m-29.9-4h0m-7.2 1.1h0m34.6-4.5h0m-15.8-13.5h0m-26.1-3.8h0m62.8 35.8h0m-8-5.8h0m-27.9-26.3h0m66.2 13.4h0m-9.8 10.8h0m22.6-13.5h0m-100.5 9.2h0m15.9-13.7h0m24.9 21.2h0m-16.5-36h0m4.7 31.1h0m49.4-3.6h0m-97.1-18h0m77.6 22.5h0m-10.7 7.2h0m32.3-16.4h0m-83.4 13.6h0m94.8-9.2h0m-57 6.6h0m-.4-19.2h0m61.2 23.1h0m-22.1-23h0m-.4 25.3h0m-71.9-15.6h0m-3.9 16.4h0m22.5-25.6h0m83.2 14.8h0m-100.8-25.2h0m28.5 37.7h0m-19.4-10.9h0m-1.2-9.1h0m59.1-16.7h0m-55.1 29.2h0m-31.9-21.2h0m4.1-4.9h0m90.1-5.5h0m-5.5 37.2h0m-62-39.9h0m37.2 21.6h0m-16.5-11.7h0m11.9-3.4h0m10.3 10.8h0m-45.2 23.9h0m14.8-28.5h0m1 22.8h0m7.9-27.5h0m49.7-1.8h0m-87 24.7h0m86.9-22.6h0m7.5 30h0m-97.9-9.5h0m87.3-24.5h0m-30.9-1h0m-50.2 6h0m46.5 .5h0m-31.7 21.5h0m66.3 .3h0m-48.2-11.4h0m74.8 2.6h0m-70.6-17.4h0m-11.4 8.2h0m-5.9-.6h0m37-8h0m24.6 35.2h0m-54-27h0m-10.1 27.8h0m65.6-2h0m-69.4-20.3h0m31.8-17.6h0m-66.6 13.9h0m111.1 16.9h0m-100.9-27.7h0m62.8 29.7h0m13.8-15.5h0m-14.6 4.8h0m-30 11.2h0m44.9-17.2h0m-49.6 8.4h0m-27.5 9.1h0m97.3-21.8h0m-46.3 10.5h0m22.4 14.8h0m3.8-13.9h0m-21.2-1.5h0m-54.7 8.9h0m75.6-28h0m-10.4-.9h0m-59 35.1h0m48.6-37.6h0m32.8 37.6h0m22.6-11.5h0m-80-13h0m6.3 8.7h0m3.1-6.2h0m-8.2 23.5h0m-24.2-36.6h0m76.8 37.5h0m-54.4-8.6h0m80.1-14.7h0m-51.3-6.8h0m.8 28.5h0m.5-29h0m-43.7 23.2h0m79.5-9.6h0m-99.3-15.4h0m101.4 23.1h0m-62.1 3.6h0m38.4-30.1h0m1.1 .4h0m37.6 27.3h0m-98.3-25.8h0m24.7 9.5h0m-29.7-11.9h0m101 25.9h0m-82.3-15.1h0m58.7 17.9h0m-52.8-18.4h0m42.9-10.8h0m-13.1 30.1h0m-34.8-23.3h0m36.1 2h0m-6.7 11.8h0m55.6 6.4h0m-120.8-19.1h0m43.3-5.2h0m44.1 2.1h0m36.4 20.3h0m-9.5-20.1h0m-107.5-1.5h0m88.6-6.8h0m-97.4 22.1h0m57.7-.1h0m-.9 11.6h0m-53-3.4h0m13-23.9h0m6.5 16.2h0m54.1-23h0m-29.9 14.9h0m35.4-14.1h0m-64.5 34.1h0m-.4-30.4h0m63.6 36.3h0m-.8-7.3h0m-13.1 8.6h0m14.8-25h0m-29.2-1.7h0m20.3-8.9h0m-57.4-.2h0m56 8.8h0m-29.3 12.5h0m18.2 3.8h0m39.7-6h0m-13.7 4.2h0m-69.7-.4h0m86.7-17.9h0m-70.8 22.8h0m4.4 6.9h0m52.8-38.3h0m-50.3-3.3h0m-30.9 23.1h0m103.5 14.7h0m-14.3-29.4h0m-56.2 28.9h0m-34.3-6.1h0m77.4-3.3h0m-36.7-25h0m17.2 19.6h0m-53.4 14.2h0m16.1-19.1h0m47.2-12.7h0m-44.4-2h0m88.2 8.2h0m-83.3 18.2h0m60-19.4h0m-86.7 7.2h0m68.4 5.5h0m13.3 16.1h0m-47.3-8h0m-42.2-16.5h0m80.7-2.4h0m-60.7 17.7h0m-4.5 6h0m63.3-3.5h0m-13.3-7.3h0m-12.7 5.2h0m50.1-14.5h0m-19.2 10.4h0m-25.5-3.9h0m56.1-15.7h0m-27.9 6.2h0m-36.4 3.9h0m23.6 2h0m17.2-8.1h0m-1 19.3h0m-15.2-7.9h0m-64.7-13h0m46.6 21.1h0m63.6 9.6h0m-28-20.2h0m-14.8 17.8h0m-75.6-14.4h0m-2.7 .2h0m106.8 18.4h0m8.5-12.8h0m-88.2 9.8h0m40.9-1.1h0m-28.6-4.1h0m22 4.4h0m-50.3-26.1h0m36.8 18.8h0m-8.1-10.4h0m-1.2 5h0m48.5 14.7h0m-58.9-25.2h0m15 18.3h0m61.9-20h0m-26.3 2h0m-65.6 25.9h0m36.3-32.9h0m-29.6 29.2h0m-4.4-27.3h0m84.3-5h0m-81.6 9h0m26.7 15.1h0m-38.1 5.6h0m105.7-17h0m-103.1 14.2h0m.1-4.3h0m-3.8 5.5h0m-6.1-26h0m66 .7h0m-3.3 9h0m32.7-.6h0m11 13.4h0m-30.2-17h0m-57.3 31h0m43.6-20.1h0m-34.1-1.5h0m3.3 16h0m-16-2.5h0m-6.9-23.2h0m89.7 12.3h0m-13.8-.7h0m-61.6 3.5h0m55.9-25.5h0m-62.2 9h0m69.5-7.9h0m35.2 14.6h0m-73 7.5h0m17.9-19.5h0m-10.3 8.7h0m33.7 12.2h0m-44.1-22.3h0m2.6-.9h0m-40.8 30h0m101.4-13.9h0m-82.9-10.5h0m37.2-5.9h0m20.4 26.4h0m-17.1-3.2h0m40.9-16.1h0m-61.7 3.4h0m-19.7 3.4h0m92.8 9.2h0m-121.2 2.7h0m81-22h0m41.7 17.4h0m-119.3-5.4h0m78 4.7h0m-79.7-12.9h0m21.6 30.6h0m86.3-4h0m-78.1-30.1h0m-5 28.6h0m87.7 2h0m4.2-10.8h0m-14.9-19.6h0m-17.9 33.3h0m-17.4-27.6h0m11.8 14.2h0m-32.5 5.7h0m-10.9 6.1h0m61.4-34.1h0m-80.8 4.9h0m106.1 16.4h0m-68.9 4.2h0m-7.4-6.4h0m2.8 15.6h0m25.4-3.7h0m32.4-2.8h0m-81.2-6.2h0m-21.6-6.7h0m85.8 1.8h0m-22.9-8.2h0m-12.5 16h0m15.6-14.5h0m-52.6 18.7h0m-13.4-14.5h0m89.6-3.3h0m-5.2 13.7h0m-81.4-1.1h0m74.3-25.9h0m-67.6 23.4h0m61.9-11.4h0m31.2-.9h0m-73.8 10.9h0m-4.2-7.7h0m-10.6 19.3h0m22.3-28.9h0m80.6 25.6h0m-91.8-29.7h0m-11.1 13.8h0m61.5 6h0m16.8-.5h0m-17-4.2h0m17.3-4.7h0m-41.8 16.4h0m4.1-2.3h0m.4-9.2h0m32.1-9.8h0m-77.5 21.3h0m-5.7-8.9h0m31.3-17.5h0m8.7 35.3h0m61.3-7.3h0m-21.4-7.8h0m-26 11.3h0m18.1-13h0m-54.5 14.3h0m10.3 4.6h0m78.9-17.7h0m-37.3-1.2h0m30 9.7h0m-97-1.6h0m16.9 8.9h0m41.6-14.8h0m43.6-7.9h0m-26.4-11.8h0m-56.9 9.2h0m72.4-1.7h0m-85-3.2h0m75.7 27.3h0m-40.6-35.4h0m28 9.2h0m-43.4 14.1h0m-6-16.3h0m35.1 10.6h0m-61.4 9.3h0m100.5 10.7h0m-57.3-11h0m9.5-25.5h0m40.4 8h0m-38.3-8.6h0m50.8 37.1h0m-20.3 2.2h0m-59.7 4h0m34.8-12.7h0m-6.9 5.3h0m-6.7-13.6h0m-41.8 16h0m68.6-3.5h0m-60.2-29.3h0m101.5 24.7h0m-44.4 3.9h0m-11.1-.9h0m-52-15.7h0m58 1h0m-35.4-16.6h0m22.7 11h0m-35.3-.8h0m25.7 12.6h0m-26.9-4.7h0m38.9-9.9h0m-28.4 16.6h0m19-.2h0m-20-19.2h0m33-4.3h0m13.5 4.3h0m4 18.1h0m-16.6-19.2h0m28.7 6.8h0m29.3 5.2h0m-70.2 23h0m-24.5-24.9h0m82.2 15.4h0m-1.7-11.4h0m-36.6 5.8h0m-18.4 11.1h0m-17.6-9.9h0m70.9-15.9h0m-5.4-7h0m-83.3 29h0m-6-6.8h0m108-16.3h0m-113.8 14.5h0m47.5-5.9h0m42.5 14.5h0m30.7-11.1h0m-27.2-13h0m-94.2 19.2h0m10.2 1.9h0m97-21.7h0m-94.6 32.2h0m71.7-3.5h0m11.6-32.8h0m-54.3 30.9h0m-13.7-8.6h0m-9-8.6h0m50.5 .6h0m-6.1 13.8h0m-42.3 3.8h0m43-18.7h0m-42.3 9.9h0m75.4 6.1h0m-54.4 .9h0m45.7-32.8h0m24.3 22h0m-86.4-7.1h0m21.6-9.8h0m18-7.1h0m24.1 39.8h0m-60.7-22.6h0m7.8-10.2h0m-25.2-5.6h0m-10.7 29.2h0m-10-12.4h0m6.8-.5h0m38 2.6h0m22.8 18.9h0m27.2-7.6h0m20.4-21.8h0m-50.9 4.8h0m20.3-14.4h0m-78.5 29.8h0m72-28.6h0m-39.4 4.6h0m53.2 11h0m-51.4 1.3h0m61.3-9.6h0m6 9.4h0m-94.7 2.3h0m63.5 1.4h0m-36.3 12.3h0m60.3 3.5h0m-87.3-8.7h0m31.6 4.6h0m67.1-9.1h0m-1-17.8h0m-6.5 8.9h0m2.2-12h0m-2.8 29.2h0m24.1-8.9h0m-43.2-16.3h0m-64.7-2.9h0m35.7 3.9h0m7.7-.2h0m28.2-3.5h0m-7.4 6h0m-65.4 7.5h0m6 9.9h0m-11.5 .1h0m37.5-17.9h0m70.1 17.2h0m-6.4-6.7h0m-14.6 11.7h0m20.1-4.8h0m-52.2-24.5h0m33.1 5.7h0m-79.9 5.8h0m12.5-9.6h0m48.1-6.2h0m28.3 15h0m-69.8 8.5h0m80.8 11.3h0m-74.6 .7h0m70.6-20.2h0m-33.1-13.9h0m-3.1 35.6h0m-3.6-25.4h0m-19.9 12.4h0m71.4-3.6h0m-112.8 7.2h0m70.1-15.3h0m3.3 31.8h0m-28.2-29.8h0m65.7 3.3h0m-97.9 5.3h0m-19.9 1.6h0m32.3-21.5h0m-25.9 34h0m55.5-2.9h0m22-30.8h0m15.2 6.9h0m-48.5 21.1h0m-24.1-9.1h0m33.3-10h0m15.3 28.5h0m-64.4-14.7h0m.1-11.6h0m72.3 11.5h0m-57.1 .4h0m71.5-8h0m-47.8 15.4h0m-21.5-26.6h0m56.3 21.8h0m32.3-17.3h0m-15.1 3.1h0m-31.4 10h0m-42.1 7.9h0m-1.2-10.5h0m-3-7.4h0m35 23.3h0m49.3-32h0m-6.3 .6h0m-33.7 16.8h0m35.5 8.6h0m-22.5-26.6h0m-81.8 12.9h0m69.1-.7h0m-38.8 20.6h0m13.6-5.7h0m-9.1 .9h0m-3.9-28h0m41.9 14.3h0m-5.1 6.5h0m32.6 15.2h0m-3.1-10.4h0m-30.1 3.5h0m-55.9-15h0m42-11.2h0m-18.7 12h0m-.3 8.8h0m25.7 11.5h0m-15-10.2h0m2.5-1.2h0m-39.4 3.2h0m88.9 .2h0m-71.2-15.3h0m-2.3-13h0m71.6 23.4h0m-10.9 8h0m-48.5-5.4h0m48.3-7.6h0m30.2-5.8h0m-53.9-.2h0m-40.8-11.9h0m12.3 29.1h0m76 3.5h0m-80.9-18.6h0m-5.1 20.7h0m-15.2-1.5h0m54.5 3h0m10.8-26.7h0m-44.3 4.6h0m26.6 15.7h0m39.9-6.9h0m5.9-11.9h0m-40.2 14.5h0m.8 7.4h0m-40.2-9h0m56.9-25.3h0m-2.2 21.7h0m-37.1-15h0m32 8.7h0m49.3-.5h0m-123 1.4h0m78.3-2.4h0m19.5-6.8h0m-89.6 27.9h0m76.3-20.8h0m37.6-3.1h0m-45.8-3.7h0m-35.1-10h0m-34.8 33.5h0m46.7 .6h0m-8.2-2.7h0m68.9 4h0m-93.4 .6h0m78.2-15.8h0m-48.7-15.9h0m27.1 22h0m-6.4-11.9h0m31.2-13h0m-80.6 38.3h0m-7.4-25.8h0m-1.1-4.2h0m34.6 2.6h0m46.3 25.9h0m30.4-10.5h0m-60.5 6.2h0m27.8-11.8h0m-75.6-7h0m20.8-9.2h0m46.2 32h0m33.1-6.8h0m-22.6-11.5h0m-90-10h0m12.4 19.2h0m47.1-18.9h0m11 13.5h0m-44.9-6h0m4.7 21.3h0m23-23.2h0m-2.9-4h0m61.9-1.4h0m-55.4 25.3h0m-30.5-.3h0m18.4-16.3h0m6.2-11.1h0m61.4 28.5h0m-40.2 .4h0m17 6.1h0m.4-27.3h0m7.7 4.9h0m-19.8-10.1h0m-2.8 .6h0m-9.8-6.2h0m-7.5 1.8h0m28.1 10.9h0m-56.8-10.3h0m34.2 1.4h0m-21.2-2.7h0m-42.5 11h0m25.2-7.6h0m44.2 24.5h0m-4 3.6h0m-63.1-28.8h0m4.7 22.4h0m44.6-14.2h0m7.6 12.4h0m-6.7-.8h0m8.2-13.3h0m-8.8 14.7h0m-40.4-16.5h0m47.3 25.8h0m6-22.9h0m-32.7 6.1h0m16.3 0h0m-15.8-18.7h0m31.4 8.2h0m37.6 8.8h0m-41.6 13.9h0m2.7 3.3h0m12.1 4.5h0m-2.8-26.8h0m-55.6 19.8h0m62.4-9.8h0m-26-.9h0m-51.2 4h0m84.4-11.9h0m-37 11.5h0m-37.3-24.3h0m101.2 28.6h0m-75-31.6h0m47.3 20.5h0m-38.4 12.9h0m31.9-31.4h0m-58.9 34.3h0m57.9-31.7h0m26.1 19.3h0m-41.1-9.1h0m-47.4 3.5h0m64.5-11.7h0m-31.4-3.2h0m11.1 6.3h0m-37.7 30h0m10.3-31.3h0m50.3 6.7h0m-55.9 25.8h0m2.6-28.1h0m-1-3.3h0m.9-.5h0m8.5 14.3h0m78.8-2.2h0m-98-6.2h0m95.7 18.3h0m-72.1-33.2h0m25.8 40.4h0m40.5-36.9h0m-102.8 32.7h0m3.6-9.2h0m-7 2.7h0m25.8-22.5h0m17 26.3h0m18.5-11.2h0m-17.4-11.9h0m8.1 18.6h0m-8.9-13.7h0m-20.6-5h0m64.2 31.1h0m-36-3.6h0m-44.5-23h0m109.8-1.9h0m-103.6 6h0m44.7-15.8h0m-19.2 32.6h0m18.4-18.5h0m36.9 10.8h0m-36.1-21.4h0m38.1 13.1h0m26.6 7.2h0m-52.2-21.4h0m-52.7 .2h0m58.2 17.9h0m-42.3-7.4h0m-13.1 2.4h0m30.5 1.7h0m-20.9 18.1h0m20.1-11.8h0m28.2-16.9h0m-49.6 4.2h0m47.5 20.9h0m37.5-17.6h0m-38.2-15.7h0m43.4 32.7h0m-108.6 1.6h0m34.9-9.1h0m42-20.7h0m-75 19.1h0m107.2-13.7h0m-87.7-6h0m4.1-6.1h0m-18.7 38.5h0m19.7-29.5h0m42.5-2.9h0m-36.9-5.1h0m-.6 40.7h0m-12.7-23.3h0m-6.3-2.3h0m38.3 15.1h0m-18.2-19.1h0m26.3 12.5h0m30.6 .8h0m-40-2.1h0m27.4-10.7h0m-12.5 3h0m-43.5 12.1h0m33 12.8h0m-38.9-30.1h0m38.5 11.3h0m-69.6 2.6h0m104.5 18h0m17.3-18h0m-107.5-10.1h0m102.6 23.9h0m-44.1-17.6h0m-63.2 6.6h0m80.3 1.6h0m2.4-9.4h0m4.3 9.7h0m-64.8-28.1h0m15.4 21.4h0m51.9-3.4h0m-13.2 15.6h0m-45.5-1.3h0m31.9-5.6h0m-19.6-18.4h0m17.7 12.3h0m6.3-16.5h0m33 33.3h0m-73-28.6h0m52.6 3.3h0m-68.3 15.4h0m76.7-18.9h0m-63 11.7h0m11.8 4.1h0m45.1-8.3h0m14.9 11.6h0m-55.9 7.7h0m56.1-20.7h0m-96.6 17h0m22-20.6h0m77.9 4h0m-91.4 3.9h0m66.7 5.6h0m-58.5 14.7h0m34.9-12h0m12.7-12.8h0m-33.8-4.9h0m9.8 16.5h0m-.9-3.3h0m-45.1-7.6h0m65.9 17.7h0m44.8-26.6h0m-100.1 34.1h0m88.4-32.3h0m-23.3 26.3h0m-67.5-8.6h0m45-19.2h0m9.7-5.2h0m-45.9 3.2h0m55.6 19.3h0m-29.7 8.5h0m.3-21.7h0m-3.8 8.3h0m46.6 2.6h0m31.1-.6h0m-112.8-4.7h0m22.8 22.7h0m9.6 .6h0m-7.4-25.2h0m-23.9 4.2h0m35.9-3.5h0m44.5 18.8h0m14.2-20.8h0m-28.1 19.9h0m-59.1-14.3h0m15.4 22.9h0m11.9-33.6h0m-21.9 28.4h0m89.4-8.2h0m6.5-5.3h0m-83-12.1h0m24.6 10.9h0m38.6 15.8h0m-82.5-9.9h0m76.7-9.2h0m-33.7-6.9h0m2.7 4.9h0m-3.2 15.8h0m-15.8-3h0m-21.6-23.9h0m96.2 25.4h0m3.7-21.7h0m-62.7 8.2h0m40.7 10.9h0m-76.1 7.7h0m76.1-16.3h0m4.2-17.5h0m-66.8 6.8h0m66.6 2h0m-20.9 9.5h0m-75.4-9.1h0m84.2 18.8h0m-26.3-6.4h0m43.4-12h0m-97.2 23.5h0m14.6-14h0m9.6-18.9h0m64 16h0m-72.1 11.8h0m-14.6-25.8h0m-4 .6h0m109.5 9.5h0m-100.5 22.1h0m42.1-19.3h0m-12.1 6.5h0m43.7 16.9h0m-53.6-30.6h0m24.1-9.4h0m-62.3 17.4h0m62 1.6h0m-11-13.6h0m12.4-8.5h0m58 27.9h0m-105-7.3h0m32.4-16.7h0m4.7-2.7h0m5.1-.3h0m61.3 29.8h0m-51.9-22.4h0m28.3 29.4h0m-89.2-17.1h0m21.1-13.4h0m34.2 1.9h0m-11.8 2.9h0m3.3 30.8h0m36.8-26.3h0m3.8 10h0m-37.1 .8h0m-2.2 9.4h0m.2-4.2h0m-51.3-9.9h0m109.8 2.3h0m-9.2 5.4h0m-58.6-14.7h0m13.9 10.9h0m19.1-8.5h0m-60.1-10.5h0m48.3 1.2h0m-51.9 34.1h0m27.7-13.2h0m-38.5-21.4h0m6 1.4h0m20.9 20.7h0m12.4 3.6h0m37.1-17.6h0m-49.5-7.5h0m-23.5 29.2h0m85.2-7.5h0m-60.3 4.1h0m-3.6 5.6h0m67-6.6h0m-40-13.6h0m1.1 20h0m43.1-1.7h0m-9.2-27.2h0m-37.8 18.3h0m3.4 12.5h0m-51.4-25.4h0m69.7 .7h0m-13.6 2.9h0m34.6-.7h0m-78.7 20.1h0m34.4-10.4h0m48.3-11.3h0m-31.6-12.6h0m-19.1 25h0m75.6-10.5h0m-83.6-9.4h0m3.6-6.4h0m29.5 4.6h0m42.1 14.8h0m-13.4-1.1h0m-57.9 2.9h0m-35.7-13.5h0m19.8-6.6h0m49 33.7h0m-4-29.6h0m28.4 31.2h0m-70.8-32.1h0m15 6.2h0m26.4-6.6h0m45.3 24.6h0m-8.7-6.2h0m-89.6 15.8h0m92.9-14.9h0m-78.6 2.2h0m46.7 14.6h0m-42.8-34.2h0m26-3.7h0m-60.2 14.1h0m54.4-15.2h0m-12.4 37.3h0m69.9-3.3h0m-52.4 1.3h0m-39.4-34.4h0m51.2 1.6h0m31.5 18.9h0m-80.2 14.2h0m17.2 .2h0m-30.1-7h0m40.6-23.2h0m12.9 .8h0m-27.8 18.1h0m2-23.4h0m20.8-4.9h0" stroke="#cdbd10" stroke-width="1.5" stroke-linecap="round" fill="none"/>
<path d="m68.5 88.9h0m-5.5 11.3h0m55.2-14.5h0m44.3 25.7h0m-54.2-32.7h0m-25.5 26h0m95.2-17.3h0m-72.4 3.7h0m-21 10.2h0m26.7-17.9h0m62.2 15.5h0m-106.4 .3h0m70.7 3.1h0m-58.6 1.9h0m59-11.5h0m-18.1 14.1h0m60.9-15.7h0m-122.8-1.3h0m27-1.9h0m11.6 4.5h0m-24.3-14.6h0m106.7 15.9h0m-75.5-2.8h0m-43.2-6.6h0m37 16.9h0m78.7-7.1h0m-106 1.1h0m29.2 10.3h0m-15.4-17.6h0m17.4-12.2h0m55.2 3.6h0m-70.7 11.4h0m-27.3 4.6h0m57.4 13h0m11.7-21.7h0m-48.6-3.1h0m79 17.6h0m20.4 5h0m-64-13.2h0m35.9-17.8h0m17.6 5.6h0m-66.4 14h0m19.1-2.6h0m16.2 6.1h0m-42 14.7h0m-29.5-24.9h0m46.4 23.4h0m11.9 1.2h0m9.2-26.7h0m31.6 8.7h0m-59.3-12.3h0m-21.3 28.2h0m-14.9-6h0m55-35.3h0m32 19.8h0m-28.8-11.2h0m22.8 23.6h0m-29-18.6h0m-24 18.6h0m-11.6-13.1h0m66.4 23h0m-24.4-22.9h0m19.4-5.5h0m-88.3 12h0m62.6 9.5h0m28.5 1.8h0m-17.7-14.5h0m-20.5-20.5h0m-22.4 31.7h0m30.7-27.7h0m-.4 2h0m22.6 8.8h0m-43.4 26.6h0m-3.2-25.5h0m-17.9 20.1h0m35.5 3.1h0m-11.7-28.4h0m52.6 14.4h0m-51.8 8.5h0m46-30.5h0m-41.9 33.5h0m65.5-30.7h0m-60.9 24.4h0m45-29h0m-44.2-1.6h0m2.4 28.8h0m-34.6-23.8h0m45.9 .6h0m10 13.5h0m-54 7.4h0m91.8-1.8h0m-69.1 7.8h0m41.5 .1h0m-81.8-11.4h0m99.7-8.5h0m-12.2 20h0m-70.1-3.7h0m100.5-10h0m-72.7 15.3h0m22.6-20.2h0m6.5 6.1h0m-3 5.4h0m12 2.3h0m19.5 1.8h0m-7.4-1.5h0m-40.3-1h0m-38.8-3.1h0m64.7-14.9h0m-49.3 10h0m13.6 2.4h0m15 5.1h0m50.3-3.7h0m-50.8 8.1h0m8.1-5.9h0m-44.7 8.8h0m7.4-22.4h0m-14.7 7.9h0m16.2 4h0m45.8-12.5h0m-27.4 8.9h0m66.2 14.8h0m-35.1-19.5h0m-34.9 6.3h0m38.5 16h0m-38.5-8.6h0m24.7-5.6h0m19.1 12.7h0m-34.2-10.3h0m41.8 12.5h0m8.5-27h0m-45 19.2h0m-27.8-4.2h0m23.5-24.9h0m-48.8 39.7h0m92.9-2.2h0m-34.5-1h0m-56.5-28.4h0m-3.7 27.7h0m-.2-17.6h0m-1.6 10.5h0m7.3-8.1h0m72.2 14.6h0m-41.2-20.2h0m2.2-14.7h0m8.5 1h0m44.1 28.6h0m-.3 4.1h0m-24-17h0m23.5 3.4h0m-6.1-9.2h0m-52.1-3.8h0m-1.7 11.9h0m-37.7-3.8h0m61.6-1.4h0m25.5-12.1h0m-26.4 28.8h0m-29.5-29.6h0m-31.7 29.2h0m110.9-25.7h0m-89.6-.5h0m40.8 32.1h0m50.3-10.2h0m-47.7 9.1h0m6-12.6h0m-60.1-.1h0m91.5 12.5h0m-24.3-23h0m-34.7 12.3h0m38.2 .9h0m-69.9-13.9h0m59.9 12.4h0m15.9 17.1h0m-67.8-2.6h0m-11.9-1.5h0m110.6-24.5h0m-62.5-4.8h0m-6-6.9h0m20.6 28.8h0m-4.6-25.4h0m1.8 14.1h0m-28.2 17.3h0m40-17.6h0m-29.5 10.8h0m9.9 2.7h0m-1.9 6.4h0m-29.3-.6h0m72.9-7.3h0m-2.8-25h0m-42 17.3h0m47.5-16.7h0m-55.8 34.2h0m53.8-27.7h0m-49.8 22h0m13.3-18.1h0m-2.3 21h0m4.4-34.1h0m.1 22h0m37.9 2.3h0m-54.8 10.2h0m23.8-38.8h0m8.7 13h0m12 27.6h0m14.9-18.3h0m-67.7 17.3h0m39.8-14.6h0m13.2 2.7h0m-81.1 2.2h0m34.1-30h0m-8.4 17.2h0m40-8.2h0m-22.4 19h0m18.3-18.8h0m-4.3 14.8h0m-52.3-3.9h0m14.9 13.9h0m70.8 7.2h0m-52.4-5.9h0m47.5-2.9h0m-89.5-9.8h0m21.7-17.2h0m6.8 25.1h0m54.3-23.4h0m-22.7 13.3h0m-10.9 5.3h0m16.5-10.2h0m-34.2 2.8h0m24 8.3h0m-26.4-10.5h0m66.6-4.8h0m-58.7 5.7h0m53.8 9.5h0m-59.9-25h0m-22.1 41.3h0m58.8-34.1h0m9.2 19.4h0m-55.5-7.7h0m62.8 2.3h0m-41.2 4.1h0m-42.9 4h0m57.2 1.2h0m14.1-29.5h0m-45.5 31.4h0m34.5-33.3h0m31.8 35h0m-37.4-33.7h0m-59.3 17h0m80 23.4h0m-80.4-12.7h0m21.3 9.1h0m-19.9-17.7h0m49.2 13h0m-39.1-4.3h0m6.4-15.8h0m4.4-8.3h0m14.9-4.1h0m76.3 15.2h0m-96.8 12.1h0m-18.5-10h0m51.1-15.6h0m33.6 10.4h0m3.8 8.2h0m-66.6 13.4h0m75-23h0m-46.7 13h0m-54-18.6h0m27 3.7h0m-11.4 9.2h0m-7.2 22.3h0m-7.5-32.7h0m40.2-5.7h0m22.4-.6h0m54 11.6h0m-41.8 21.4h0m6.4 7.5h0m-30.2-36.6h0m50.5 5.3h0m-11.4 23.2h0m18.7-3.9h0m-31.9-30.2h0m24.3 33.8h0m-77.8-7h0m74.7 4.9h0m-15.5 2.3h0m-56.5 7.3h0m11.4-36.6h0m-10.7 19.4h0m-11.4 1.9h0m41.2-5h0m14.5-20.1h0m-54.7 20h0m66.1 15.7h0m2.7-4.9h0m-68.5-26.2h0m46.1 11.1h0m-35.4-11.9h0m27.3 22.6h0m23.3-24.9h0m-24.4 35.5h0m-1.3-10.9h0m25.1 4.2h0m34.8-3.3h0m-13.3-9.2h0m-7.7-4.3h0m4.5 13.5h0m-29.5-20.8h0m4.1-1.8h0m-1.7 34.1h0m14.6-12.1h0m10.7-13h0m-70.8 11.5h0m34.7-19.3h0m51.3 16h0m-16.8-2.8h0m15.5 16h0m-71.1-4.8h0m-9.4 7.2h0m-32.8-22.8h0m69.8-2.4h0m-48.2-1.3h0m-23.8 2.9h0m110.7 4.8h0m-12.3 18.3h0m-80-14.5h0m32.5 14.5h0m1.2 3.6h0m-42-33.5h0m44.2-2.8h0m66.6 32.2h0m-27.7-5.3h0m-75.1-10.5h0m74.1-2.6h0m-57.8-3.7h0m41.4 .2h0m47.9 11h0m-55-24.9h0m-11.7 35.1h0m-18.2-25.8h0m-16.4 10.2h0m75.7 20.2h0m2.1-30.2h0m-68.2 26.5h0m86.7-6.1h0m-40.5 5.8h0m-70.4-19.8h0m92.5-12.1h0m-82.4 19.2h0m44.5-13.4h0m-50.1 23.6h0m14-2.8h0m92.1-24.8h0m-39.8 21.2h0m22.3-10.9h0m-49.6-3.5h0m15.6-15.5h0m-39.1 12h0m68 17.1h0m-84.2-12.3h0m109.6-4h0m-28.5 5.1h0m10.1-3.8h0m-94.2-1.7h0m76.5-1.2h0m-40.5 9.4h0m47.3-1.7h0m-8.7-12.1h0m-14.8 2.5h0m-17.6 6.1h0m13 18.2h0m51.9-9.6h0m-76.1-11.7h0m14 28h0m70.5-10.8h0m-70.6-5.9h0m49.2-.3h0m-7.3-17.3h0m-21.8 32h0m-49.3-29.8h0m73.7 33.7h0m-40.7-11.9h0m.4-20.9h0m-27.5 31.3h0m71-34.4h0m-2.5-3.3h0m-19.5 14h0m-30.4 .3h0m-19.1 12.7h0m82.7-13.4h0m-53.1-9.2h0m-30.4 6.5h0m78.5 10.6h0m8.9-16.7h0m-117.2 15.4h0m76.1 1.7h0m2.5 6.8h0m18.1 .7h0m-6.6-15.6h0m9.1 9.1h0m13.4 14.4h0m-74.5-16.3h0m79-15.9h0m-61.3 28.8h0m42.8-1.2h0m-64.2-24.6h0m38.6 27.9h0m-42.3 3.4h0m9.8-19.6h0m79.9 3.5h0m-108.5-3.9h0m3.3-6.3h0m39.4-13h0m64.1 23.6h0m-1-2.3h0m-23.5-4.6h0m-48.5-1.1h0m-2.3 0h0m32.7 5.7h0m9.9-20.4h0m27.6 12.9h0m-109.6 9h0m17.5-15.6h0m1.8 18.9h0m26.3 6.5h0m-11.5-10.7h0m11.8-7.8h0m-9.5 6.7h0m-8.1 8.5h0m19.9-.8h0m17 5.4h0m-61-2.1h0m68.9-19.8h0m-47.6 14.6h0m30 1.5h0m36.7 0h0m-79-4.2h0m90.5 3.2h0m18.9-2h0m-110.8-7.2h0m56.9 14.2h0m22.6-25.6h0m-69-5.4h0m90.5 24h0m-63.5-8.4h0m58.5 1h0m-52 20.3h0m52.7-11.5h0m-50.7-7.3h0m-14.4-12.9h0m-21.3 30.6h0m81.1-19h0m-88.1 1h0m2.4 17.2h0m75.6 3.2h0m30.7-7.7h0m-36.1-17.7h0m22.6 5.2h0m-1.9 17.1h0m15.4-11.8h0m-6.6-11.8h0m-8.8 6h0m-1.9 2.9h0m-94.8 11.3h0m74.3-33.4h0m-47.9 13.7h0m69 15.1h0m-49.9-25.2h0m-35.7 30.2h0m67-16.9h0m-50.1 9.9h0m37.4 1.8h0m-18.1-26.4h0m17.7 22.2h0m-54.4-6.9h0m64.9-1.9h0m-43.6 .3h0m15-6.2h0m-34.3-9.5h0m-23.5 16.7h0m44.1-15.2h0m35.7 32.7h0m-35.2-8h0m26.7 13.8h0m17.8-31.6h0m-55.9 13.1h0m38.3-14.1h0m28.8 12.9h0m-5.4 14h0m2.9-8.7h0m-14.4-11.9h0m27.7 .5h0m-7.3 13.7h0m-20.8 2.3h0m-9 9h0m-10.4-1.9h0m-25.9-1.1h0m28.3-3.1h0m11.4-13.5h0m-15.6 1.2h0m22 5.9h0m7.2-25.7h0m-34.8 29.7h0m28.8-26.6h0m-74.4 7.9h0m15.8 11.9h0m83.4-7.6h0m-34.9 23.7h0m-42.8-8.6h0m-3.6-11.9h0m78.3-3.6h0m-46.3-4.6h0m-1.5 20.2h0m34.2 8.7h0m-92.8-17.4h0m61.4-12h0m-40 5.4h0m44.1 1.5h0m-43.5-12.6h0m36.1-5h0m31 13.4h0m14.2 9.1h0m-80.6 10.4h0m.8-8.9h0m77.9-.5h0m-1.4 14.1h0m-68-4h0m25.8-34.7h0m34.1 30.5h0m5.4-23.9h0m-55.8 25h0m76-17.9h0m-69.6 9.2h0m48.9 17.2h0m-13.6-27.6h0m12.2 9.3h0m-.8 13.3h0m19.2-11.8h0m-110.7 0h0m21.9-12h0m54.1-9.5h0m35.7 34.8h0m-45-25.5h0m-60.8 20.2h0m61.9-9.1h0m-5.1 11.3h0m13.5-9.3h0m-77.9 1.2h0m110.2 5.3h0m-73.3-21h0m66.8 25.1h0m10.3 1.1h0m-41.7-28.6h0m-40.7 30.8h0m-24.7-22.5h0m38.4 2.9h0m69.7-.2h0m-53.7 6.7h0m-.5 9h0m-31.3-24.8h0m62.8-6.3h0m-27.8 32.2h0m-12.9-.7h0m-52.7-9.2h0m84.9-13h0m-76 20.3h0m34.7-25.6h0m36.2 26.8h0m16-21.9h0m-53.5 6.5h0m-1.8 16h0m-35.4-12.1h0m1.3-10.8h0m106.4-5.2h0m-5.6 14.2h0m-46.8 9h0m11.8-4.4h0m2.2 8.9h0m21.1-21.3h0m-34.4 18.2h0m-2.3 .7h0m46-15.6h0m-81.6 4h0m64.6 11.7h0m-3.4-7.7h0m-12.9-19.9h0m-37.9 7.2h0m48.5-8.3h0m-51.8 34.8h0m21.9-13.3h0m52.3-10.8h0m3.3-4.1h0m-18.2 27.3h0m28.7-11h0m-96.1-23.9h0m90.6 32.5h0m-46.4-14.9h0m-34.1-15.8h0m-8.7 32.6h0m5.1-25.7h0m42.6 14.9h0m-57.8-3.5h0m62.4-11.1h0m-61.7 13.6h0m12.8-5h0m68.8 18.2h0m-86.1-11.7h0m50.2 13.8h0m-49.8 1.2h0m99.7-6.5h0m-47.5-5.3h0m54.1 1.6h0m-68.1-3.4h0m38.9-1.2h0m33-7.2h0m-94.5 15.2h0m94.4-19.7h0m-33.2 7.8h0m24.7-14.1h0m-64.6 6.5h0m-16 8.8h0m44.1 7h0m5.4-13.4h0m34.4 16.3h0m-38.5-13.7h0m18.5 15.1h0m-26-31.5h0m-61.8 17.9h0m73 4.2h0m-8.4 8.8h0m-15-26.5h0m-39.2 2.8h0m56.1-3h0m32 10.7h0m-38.5 12.6h0m13.1-20.3h0m-44.6-4.7h0m28.8 21.9h0m-32.7 11.9h0m37.2-27.6h0m3.3-3.4h0m36.6 .2h0m-17.2-2.8h0m-43.8 24.9h0m-39.6 1.9h0m94.3 7.6h0m-40.8-41.8h0m18.3 30.1h0m-33.1-1.4h0m2.3-3.7h0m-36.4 5.5h0m91.7 .7h0m-79.1-10.9h0m80.6 14h0m8-25.2h0m-88 28.4h0m13-30.2h0m29.1 10.1h0m-32.1 13.8h0m19.3-24.8h0m56.9 9.4h0m-58.5-13.2h0m-29.6 5.4h0m62.9 30.3h0m34-20.3h0m-29.2 23.2h0m-21.1-35.1h0m-61.5 16.5h0m-1.1 4.9h0m41.6 5.4h0m1.6 7.4h0m-34.3-25.1h0m-15.7 5h0m19.6 2h0m54.6-5.4h0m9.7 3.9h0m-7.7-10.1h0m19.2 15.8h0m-45.4-19.7h0m68.8 25.9h0m-57-24.7h0m10 18.5h0m-42.1-14.6h0m-10.6 22h0m-5.7 .3h0m10.6-5.2h0m44.6-6.8h0m9.1 9.9h0m-.5-26.2h0m-6.5 20.3h0m-62.2-7.6h0m39.9-10.8h0m48.6 24.7h0m-83.8-28.4h0m-12.4 4.6h0m80.5 7.9h0m-9.6-13h0m-75 19h0m65.3-23.3h0m36.8 38.2h0m-93.1-20.9h0m61.3 21.1h0m-43.9-10.9h0m51.5-22h0m-6.7 6.1h0m43 26h0m-97.3-13.4h0m110.2 .9h0m-87.8-21.1h0m13.2 .9h0m-41.5 4.9h0m66 23.4h0m-33.2 9.7h0m-11.2-16.6h0m25.5-21.1h0m35.5 10.4h0m-17.3-13.7h0m-56.7 15.4h0m27.3 5.6h0m69.5 8h0m-88.7-13.5h0m48.1-5.4h0m-7.1 29.2h0m-48.9-10h0m-6.5-3.8h0m53.7-25.4h0m29.5 38.7h0m-68.9-13h0m55.9-10.4h0m-9.8 18.8h0m15.5-6.9h0m-65.6-6h0m37-5.8h0m-49.2-2.2h0m55.3 17.1h0m-38.1-26.8h0m83.3 33.6h0m-10.9-.7h0m-71-30.5h0m33.2 32h0m-20.4-13.4h0m72.7-5.5h0m-43.7 5h0m-64.6-.1h0m73.4-6.1h0m35.7-8.3h0m-97.2 21.8h0m85.7 5.1h0m-9.6-26.1h0m-21.9-.7h0m41.1 23.9h0m-47.4-22.6h0m11.2 6.2h0m-29.5-3.3h0m58.5-2.6h0m-66.4 28.8h0m38.4-.2h0m-60.7-35.9h0m42.4 20.1h0m41.6-14.5h0m-78.4 26.2h0m89.7-27.2h0m3.6 26.8h0m-12.8-18.3h0m-64.2 11h0m35.4 4.8h0m32.5 .9h0m-14.2 7h0m-41.3-2.5h0m-43.5-8.7h0m90.7 11.4h0m-44.6-10.6h0m-25.7-9.5h0m73.1 11h0m-46.8-4.8h0m-15.3 7.6h0m54.6-26.3h0m-60.1 2.1h0m-11.4 16h0m61.7-2.5h0m-62.3 17.5h0m-3.5-8.2h0m28.2-12.6h0m40.1 1.4h0m32.6-6.1h0m-69.6 17.2h0m9.9-17.9h0m-15.2 20.1h0m59-9h0m-8.2-9.1h0m-34.4-12.7h0m-55.8 27.9h0m71.3 8.2h0m-49.8-22.2h0m77.2 15.2h0m12-26.3h0m-103.6 31.6h0m88.9-2.6h0m-61.2-17h0m35.7 .5h0m-21.4-16.7h0m20.5 37.4h0m.5-33.3h0m-18.8-3.9h0m66 16.3h0m-5.3 2.1h0m-43.8 12.1h0m-60.3 4.5h0m66.1-.9h0m-26.3 1h0m47.7-15.6h0m-55.7-1.2h0m70.5 17.5h0m-63.7-39.8h0m41.5 13.5h0m8.4 16.4h0m-15.4 11.2h0m-17.3-16.3h0m28.5-3.3h0m-52.1-8.9h0m-25.3 18.7h0m32.9 9.3h0m-34.4 .1h0m20.6-26.4h0m32.7-6.4h0m45.1 9.5h0m-68.5-14.1h0m35.2 3.2h0m-22.4 30.1h0m-4.8-29h0m-2.1 26.5h0m-32.1-13.8h0m40.5-16.6h0m17.9 7.9h0m19.9-2.5h0m-56.4 33.3h0m24.8-17.6h0m48.9-10.5h0m.1 14.5h0m-57.5 4.5h0m-35.1-16.3h0m29.7 11.6h0m-8.1-.2h0m.4-21.1h0m-40.5 32.4h0m106 .2h0m-41.5-36.5h0m20.1-1.2h0m-2.3 22.5h0m-54.8-22.7h0m66.3 38.9h0m-58-6.5h0m-40-22.6h0m33 13.5h0m23.3 13.6h0m-3.3-19.9h0m-8.6 21.5h0m-1.3-16.1h0m68-13.6h0m-59.4 12.4h0m-19.3 17.5h0m49.5-4.3h0m-8.8-32.7h0m-13.2 21.7h0m7.2-9.4h0m-72.3 .8h0m48.3-1.2h0m-24.9 8.9h0m85 2.6h0m-83.8-19.4h0m9.6 32.1h0m14.5-30.4h0m-37.2 9.6h0m100.2 11.4h0m7.2-17.8h0m-55.8-10h0m50.4 7.7h0m-73.1 9.3h0m55.8 7.2h0m-19.4-20.7h0m42.2 2.5h0m-9.1 4.5h0m-37.4 8.8h0m48.6-8h0m-102.6 5.7h0m4-.1h0m75.6 6.6h0m-13.6 .5h0m36-11h0m-66.3-.7h0m63 15.6h0m-51-.7h0m31-12.8h0m-49-13.2h0m2.8 .3h0m43.7 21.4h0m-76.7-18.4h0m83 9.2h0m-86.3-9.8h0m73.9 11.7h0m-10.2-3.9h0m-23 .1h0m-22.5-8.2h0m39.9-4.2h0m18.2 16.4h0m25.8 12.8h0m-98.3-14.9h0m52.4-3.3h0m-59.6 16.5h0m50.2-1.5h0m21.7-17.2h0m-59 11.6h0m-8.7 2.2h0m36.5 13h0m66.7-7.7h0m-100.8 6.8h0m52.3 4.6h0m36.9-21.1h0m-93.2 8h0m93.5-6.9h0m.7 11.1h0m-9.2-15.5h0m-39.1 9.3h0m54.9-6.1h0m1.1-3.6h0m-82.2 18.4h0m83.6-1.4h0m-105.9-26.4h0m16.7-4.6h0m78.9 23.4h0m-28.2-20.5h0m-41.1 19.4h0m33.5-1.3h0m28.5 14.4h0m-61.2 2.4h0m91.9-12.4h0m-25.6-7.9h0m-76.1 17.6h0m-8.2-12.6h0m25 4.2h0m60.2 11.9h0m-81.1-38.8h0m-13.4 14.3h0m24.3-2.8h0m-5.4 21.5h0m-23.1-15.4h0m117.3-3.9h0m-20.7 12.2h0m-50.1-6.5h0m35-6h0m27.6 19.6h0m-68.4 5.1h0m34.4-22.2h0m9.2 11.4h0m-76.8 6.8h0m-1.6-12h0m35.5-20.7h0m6.8 26h0m-53.8-8.8h0m80.1 12.3h0m20.2 4h0m-49.8-6.7h0m31.7 2.7h0m-1.6 .9h0m-71.2-9h0m106.3-7.9h0m-103.7 17.4h0m72.4-6.1h0m33.7-13.2h0m-33.7 28.1h0m-48.6-7.5h0m-12.3-32.3h0m87.1 33h0m-37.7-16.1h0m28.2 7.5h0m-43.6-11.1h0m14.1 1.4h0m6.6 10.9h0m-45-7.2h0m8.9 2.8h0m34.5-24.6h0m-6.6 10.1h0m-16 12.6h0m-5.4 17.4h0m57-3.4h0m-103-9.1h0m104.8 10h0m18.6-12.1h0m-95 2.6h0m-20.4-11.6h0m-2.2 3.4h0m62.4-16.7h0m43.6 5.5h0m-3.8 22.2h0m-78.6-17.6h0m38.3 18.2h0m-12.4-29.8h0m15.5 16.2h0m16.3 6.5h0m-21.8 10.4h0m-5.6-12h0m-45.1-4.6h0m111.1 8.6h0m-109-17h0m32.2-7.9h0m-10 5.7h0m-1.5 14.6h0m25.7 9.4h0m25.5-.8h0m-87.1-13.4h0m56.4-2.8h0m3.2-3.6h0m-32.2-5.6h0m91.3 22.4h0m-21.5-13.9h0m-70.2-7.4h0m22.2-5.9h0m4.4 3.5h0m-2.9 .7h0m3.3 8.8h0m-12.1-.3h0m-9.4 19.2h0m61.9-21.2h0m-100.1 2.4h0m102.5 14.2h0m16.9-9.5h0m-17.3 5.5h0m-60.3-20.8h0m-17.2-.1h0m90.9 18.2h0m-92.4-17h0m55.1 24.2h0m-5.1-8.5h0m-72.8-6.5h0m34.1 5.6h0m10.3-14.4h0m43.2-2.2h0m22.4 6h0m-85.5 29h0m-25.5-18.4h0m115.5 3.4h0m-20 6.3h0m28.3 3.5h0m-101.1-5.3h0m31.8 3h0m-9.4 10.7h0m-13.4-.2h0m31.4-30.7h0m-41.1 4.8h0m31.2 16.6h0m5.8 4.5h0m-23-23.5h0m-19.5 28.8h0m48.5-35.5h0m13.4 7.9h0m-1.6 5.8h0m-59.8-15.1h0m25.9 27.7h0m-20.8-26.2h0m30.7 11.7h0m13.3-12h0m-55.7 23.7h0m85.8 6.1h0m-56.4 1.2h0m68.8-6.4h0m-42.8-8.8h0m22.6 7.8h0m-34.6-18.5h0m-42 9.5h0m15.3 14.6h0m32.7-26.6h0m37 6.7h0m-42.8 3h0m-25.3 22.5h0m-19.4-6.1h0m47.5-.3h0m23.1-4h0m29.2-13.6h0m-48.2-11.9h0m-36.7 19.8h0m100.6-.7h0m-36.5 8.2h0m-85.2-3h0m59.9-10.5h0m-2.5 21.4h0m34.1-25.1h0m15.9 6.8h0m-46.4 17.7h0m-49.8-32.3h0m66.7 27.5h0m-73.6-19.6h0m7.9 26.9h0m90.4-35.6h0m-104.3 14.2h0m54.7 2.6h0m-12.4-3.8h0m-6.8-5.2h0m-21.7-7.9h0m77.8 16.4h0m-71 6.9h0m-8.4 .2h0m78.2 11.5h0m-6-30.9h0m-55.8 1.7h0m5.2 8.4h0m21.7 1.6h0m-4.5 .3h0m-14.8-15.7h0m87.8 16.4h0m-47.2-2.3h0m-14.6 7.4h0m23.5 .6h0m-49.5-9.5h0m8-9h0m-24.6 17.7h0m5.7 1.9h0m69-3.7h0m-68.1 5.9h0m92.5-11h0m-78 21.9h0m66.2-38.8h0m-77.3 20.5h0m67.5-14.1h0m-1.2-.1h0m4.4-7.2h0m8 34.9h0m-8.5-23.4h0m-39.5-5.3h0m41.4 16.5h0m6 9.7h0m-106.4-11.4h0m94.2-20.7h0m-.5-1.2h0m-52.3 24.6h0m39.7 4.7h0m-35.5-6.2h0m70.2-7h0m-38.7 17h0m-36.1-32.7h0m7.2 16.6h0m10.8 19.8h0m20.9-25.1h0m-46 19.5h0m11.5-16h0m38.2 3.4h0m-60.6 12.6h0m29.4-10h0m-30-8.8h0m53-5.4h0m-44.6-5.5h0m8 16.1h0m-17.2 11.8h0m22.1-11.2h0m53.7 7.9h0m-90.6-1.2h0m2.4 10.1h0m35.8-1.5h0m34.4-18.3h0m-11.7 4.8h0m24.6-21.4h0m23.5 29.2h0m-23.4-22.6h0m-72.8 26.2h0m85.7-6.8h0m-93.3-5.7h0m25.4 3.3h0m47.9-6h0m-32.5 .5h0m-21.3-16.7h0m-20.7 33.4h0m50.8-7.4h0m-31.7 .4h0m85.5-12.2h0m-38.9-5.1h0m-6.5 9h0m41.3 14.3h0m-11.1-13.7h0m-56.1 5.4h0m-14.7 16.6h0m41.2-6.1h0m-29.6 .5h0m72.1-3.9h0m-102.3-8.7h0m27-17.8h0m-33.3 5.2h0m71-3.9h0m5.4 20.4h0m-18.6 .1h0m-37.6 6.6h0m48.7-6.2h0m-62.2-5.9h0m110.5 6.6h0m-44.1-22.3h0m-77.7 6h0m51.4 6.6h0m-39.9 19.3h0m94.3-6.9h0m2-16.8h0m-38.5 13.4h0m24.1-18.5h0m4.3 .4h0m-52 20h0m33.9-19.1h0m-39.6-5.4h0m16 4.1h0m-10.6 25h0m-23.2-20.9h0m52-4.8h0m23.4 32.4h0m-68.4-17.6h0m52.6 15.5h0m19.2-29.4h0m-71 20.1h0m-17.8-1.5h0m78.5 .3h0m-17.6-1.9h0m27.5 10.7h0m-7.7-8.4h0m-29.1 5.7h0m-47.2-28.7h0m9.9 25.4h0m30.1-27.7h0m32-2.6h0m27 36.9h0m-53-1.1h0m2.7-25.9h0m-26.8 27.7h0m15.4-28h0m22.2-4.9h0m-6.2 12.7h0m38.3 16.3h0m-51.2-8.8h0m62-4.6h0m-17.4-14.4h0m-50.5 30.2h0m39.1-35.6h0m-50 20.8h0m5.2-20.3h0m-20.5-.7h0m87.7 4.7h0m-105.4 6.6h0m36.3-11.9h0m69.4 30.8h0m-18.6-25.2h0m-52.1 30.1h0m-12.1-18.2h0m19.6-12.8h0m-29.7 34.8h0m32.6-11.9h0m6.4-8.2h0m17.2 16.8h0m-2.3-32.2h0m-31 12.4h0m10.4 3.5h0m20.2-21.7h0m-59.2 28.6h0m3.8-19.9h0m76.9 .8h0m-53 20.5h0m75.1-4.4h0m8.1-1.3h0m-58.6 1.5h0m36.2-10h0m-43.7 21h0m-10.8 2.1h0m-5.3-13.9h0m39-.9h0m8.1 2.2h0m8.6-10h0m-71 14.4h0m40.8-14.1h0m29.1 14.6h0m-94.7 .4h0m98.3 8.7h0m-39.1-34.9h0m24.9-3.3h0m-64.2 31.5h0m4.8 .9h0m-19.5-12.5h0m65.8 17.3h0m-11.1-39.5h0m37.9 24.8h0m-36.9-7.6h0m-13.8-14.6h0m6.4 15.7h0m3.3 23.7h0m45.9-29.5h0m-76.5 5.6h0m93.1 9.8h0m-76.2-1.7h0m-37.9-.8h0m7.6 19h0m62.6-37.7h0m5 17h0m-36-16.5h0m-39.6-1.4h0m112.5 19.9h0m-76 3h0m51.8-10.3h0m-42.5 10.4h0m-28.6-15.3h0m15.4-5.7h0m75 11.4h0m-52.1 7h0m-29.2 4.1h0m92.1-1h0m-64.8 8h0m-59.7-11.3h0m104.9 5h0m-91.7-18h0m46.5-7.7h0m56.8 4.2h0m-20.7-2.9h0m19.7 5.8h0m-43.4 4.6h0m8 10.8h0m-42-26.8h0m-23.2 28.6h0m67.3-4.9h0m-20.8-15.4h0m19.2 28.1h0m-1.8 2.5h0m-67-34.1h0m80.2 14h0m-62.7-6.9h0m57 12.2h0m-70.8-9.4h0m-5.1-10h0m113.6 13.5h0m-108.4-9.1h0m-3.3 14h0m56.4-4.2h0m34.5-9.5h0m-45.3-3.6h0m-31.1 30.9h0m23.7 1.7h0m50.1-.7h0m-10.5-18.7h0m-85.8-.5h0m57.6-17.5h0m33.6 2.9h0m-63.9 12.3h0m62.2 .1h0m-29.4 14.2h0m-18.1-29.8h0m14.7 14.3h0m6.1 3.6h0m18.9-3.8h0m19.1 17.7h0m-26.4-11.9h0m30.7-5.7h0m-53.5-3.2h0m20.7-11.7h0m4.3 11h0m-47.1 2.3h0m60.5 10h0m-10.8 2.4h0m-16.6 14.5h0m57.7-12.8h0m-32-13.5h0m-57.6 13h0m16.7-24.3h0m63.4 33.1h0m-105.9-31.7h0m64.5 .9h0m-45 37h0m68.9-26.8h0m-82.6-10.7h0m65.7 11.1h0m-47.1-.4h0m-8.4-8.2h0m78.9 19.2h0m-12.8 10.6h0m-88-26.1h0m85.7 19.1h0m-76.4 5.7h0m92.3-11.3h0m16.6-10.5h0m-17-1.2h0m.8 22.9h0m-12.9-9.1h0m-78.1-21.4h0m19.9 6.7h0m8.3-3h0m-9.1 23.7h0m-21.4-7h0m41.9-25h0m-12.6 18.8h0m77-1h0m-36.8-7.9h0m-35.5 17.6h0m-29.7-19h0m57.3 11.3h0m21.8-16.8h0m11.1 37.5h0m-82.7-.2h0m-4.3-19.8h0m85.8 3.5h0m-73.1-8.4h0m27.9 2.8h0m2.3-3.7h0m62.6 10.8h0m-32-6.1h0m-29.9-3.8h0m-58.6-6.1h0m96.4-3.7h0m-76 18.6h0m51.2-21.5h0m-9.8 21.1h0m12.9-11.8h0m-37.2 27.1h0m48.5 1.2h0m-2.1-21h0m-85.5 .4h0m46.2 12.3h0m-47.5-21.2h0m40.6 13.5h0m73.4-8.1h0m-65.8-.1h0m52.2 2.2h0m-94.2-12.1h0m66.1 18h0m-65-15.7h0m83.3 17h0m-39.5-13h0m38.9 6h0m-47.4-5.2h0m39.1-3.6h0m-34.5 7.5h0m18.1 15h0m7.9-11.1h0m31.3-7.1h0m-77.6 8.5h0m63.4-18.9h0m-10.1 21.6h0m-69.3 8h0m104.8-18.6h0m-40.7 3.4h0m-39.9 1.6h0m23.1 20.4h0m-48.8 .3h0m32.2-21.2h0m55.4 11.8h0m-22.2-13.2h0m9.1 18.8h0m26.1-17.8h0m-52.3-11h0m-21.8-3.6h0m7.5 35.4h0m48.2-3.4h0m-51.2-28.6h0m56.1 26.1h0m-60.8-7.7h0m54.8 13.3h0m-71.7-24.7h0m-7.1-1.8h0m109 8.6h0m-1 1.2h0m-20.7-15.5h0m-45.5-5h0m8.7 6.1h0m-32.7 27.6h0m-9.5-20h0m33 1.4h0m5.9-10.3h0m-8.4 16.7h0m-40.1-18.8h0m54.9 26.1h0m-5.1 4h0m-22.5 .9h0m49.5-5.7h0m-7.9-25.8h0m-54.3 14.5h0m51.1-1.3h0m-72.2-7.5h0m-.9 .3h0m16.4 8.5h0m59 7.8h0m-37.8-8.3h0m-2.7-7.2h0m1.1 30.3h0m38-8.8h0m-55.3 8.2h0m-7.4-37.9h0m79.7 38.5h0m-28.5-23.5h0m-52.3 15.2h0m38-10.4h0m28.3-19.8h0m-46.6 14.6h0m61.1 6.9h0m-49.3 11.7h0m-7.3 3h0m17.5-19h0m49.4-11.4h0m-74.2 21.5h0m12.5-14.1h0m-21.8-11.5h0m5.3 4.5h0m-14.8-4.3h0m85.2 31.5h0m-10.5 5.7h0m-74.5-27.7h0m2.6-5.6h0m57.6 29.8h0m24.6-5.6h0m-63.4-15h0m63.8 20.7h0m6.8-26h0m-66.3 19h0m58.1 4.8h0m-70-16.5h0m-.6 2h0m74.4-12.3h0m-101.1 8.3h0m11.9-14.6h0m51.5 9.9h0m-18.6-5.5h0m40.8 33.9h0m-44.9-15.1h0m29.3-14.6h0m-52.6 7.6h0m62.2-9.7h0m-59.7 25.8h0m9.9-25.7h0m59.2-1.1h0m9.5 1.7h0m-86.1 5.2h0m51.2-2.6h0m51.4 3.7h0m-39.4 1.5h0m-69.8 .7h0m10.2 5.4h0m65.5-17.1h0m-55.7 29.2h0m-24.1-8h0m120.2 4.6h0m-38.2-15.2h0m5 7.9h0m25.7-10.7h0m-67.4-9.8h0m-45 21.4h0m24.6 2.1h0m23.3-24.9h0m-28 11.1h0m-19.7 3.8h0m32.4-2.2h0m-7.6 1.1h0m60.1 12.6h0m31.5-9.1h0m-45.4 3.9h0m20.1-1.8h0m-59-6.6h0m46.5-2h0m24.2 14.9h0m-27.6 7.2h0m1.7-8.9h0m10.4-.9h0m-72.2-3.9h0m-.7 18.7h0m69.4-2.3h0m-31 1.9h0m7.5-26.9h0m39.3 1.3h0m-27.2-15.7h0m11.6 33.4h0m-71-13.9h0m100.4-5.8h0m-51.6 23.8h0m14.5-5.5h0m2.2-23h0m-32.7 6.4h0m-4.3 24h0m-.1-14.9h0m22.9-3.5h0m-10.1-19h0m-35.5 33.8h0m79.3-21.4h0m-22.7 3.6h0m46.1 6.6h0m-92.8-15.1h0m91.4 12.6h0m-40.9 17.9h0m-43.6-18h0m-15.3-19.1h0m41.4-3.1h0m23.1 30.9h0m-13.4 .2h0m31.8-21.2h0m-.3 32.3h0m14.3-16.8h0m-66.3 6h0m16.1-16.6h0m29.4 8.7h0m-79.2 11.5h0m54.6-20.3h0m8.5 16.2h0m9.4 5.9h0m19.5-24.5h0m-36.9 17.8h0m-72.6-.5h0m79.6-15.7h0m-11.7 13.1h0m30-15.7h0m-35.3 17.4h0m-12.3-22.3h0m9.8 23.1h0m-36.3-19.6h0m-16 17.8h0m14.4-9.1h0m-21 11.4h0m22.7-19.4h0m59.6 26.2h0m-18.1-17.5h0m8.3 .5h0m-5.8 17.9h0m-1-38.1h0m-56.9 28.6h0m91.7 13.4h0m-13.6-31.2h0m-43.6 17.5h0m-26-11.7h0m48.4 7.2h0m14.6-18.9h0m22.6 26.2h0m-24.1-18.3h0m43.7 9.1h0m-125 6.5h0m47.2 .5h0m42.5-13.7h0m-27.8 22.6h0m24.8-22.3h0m.4 11h0m11.6 10.8h0m-54.4-10.6h0m28-19.2h0m14.8-1.8h0m-38.5 21h0m14.4-1.8h0m.8-10.4h0m3.7 19h0m-.6-1.4h0m-62.4-21.5h0m71.2 8.1h0m-41 8.4h0m49.8-14.3h0m-4.6 20.4h0m-61.3-24h0m47.6 28.5h0m-24.7 2h0m68.5-7.4h0m-79.2 3.6h0m35.4-36.5h0m-50.5 5.6h0m17 1.9h0m79.9 29h0m-21.6-7.7h0m-25.5-8.9h0m4.2 11h0m22.4-8.6h0m-75.4 5.4h0m56.2-20.8h0m-11.7 17.2h0m33.7 1.2h0m-50.5-22h0m37.7 18.9h0m-13.5-21.8h0m23 2.9h0m-21.3 9.8h0m-.6 1.2h0m-38.9-2.1h0m5.4 2.8h0m17.2 11.9h0m-40.7-20.9h0m73.5-3.9h0m15.4 6.1h0m-16.8 13.1h0m-79.9-11.9h0m21.7 25.4h0m80.2-25.8h0m-98.6 6h0m51.4 11.6h0m-19.1-3h0m37.2-6h0m-62.7 10.8h0m11 10.5h0m55.3-23.9h0m18.8 17.4h0m-77.9 4.9h0m2.3-23.6h0m-19.9 14.7h0m22.1-1.7h0m-4.7-.5h0m-13-1.8h0m58.7-21.2h0m-48.7 38h0m69.1-37h0m-35.1 12h0m-14.7 5.2h0m34.5 18.1h0m46.3-28.2h0m-67.8 22.8h0m28.4-14h0m11.4 12.3h0m-44.6-2.4h0m55.4 8.7h0m-31.2-3.3h0m-6.4-23h0m-29.1 12.6h0m62.7-10h0m-92.4 14.5h0m80.8-21.4h0m-26.7 21.3h0m24.4-2.7h0m-22.7-16.1h0m-45.8 18.9h0m97.6-.9h0m-109.1-22.8h0m22.4 12h0m-23.8 9.7h0m41.1-13.5h0m62.2 19.6h0m-81.9-12.2h0m39.7-5.5h0m5.7 4.5h0m-24.7-2.1h0m-12.1 12.4h0m-11.9-25.1h0m23 19.2h0m45.9 6.2h0m-12.8-18.4h0m36.6 8.1h0m-114.8-3.7h0m44.3-13.1h0m-11.1 10.4h0m-11.9-.5h0m-13.5 8.6h0m3.8 .1h0m22.2 10h0m-35-11.6h0m81.5 10.7h0m-45.6-9.7h0m-15.5 5.2h0m13.9-18.7h0m30.6 26.9h0m56.7-3.1h0m-8.4-.1h0m-82.5-18.8h0m21.3 9.7h0m48.8 12.6h0m-74.1-8.1h0m43.8-27h0m-5.8 5.5h0m35.3 12.5h0m-61-13.5h0m73.3 28.2h0m-15.9-19.1h0m-76.5-6.7h0m6 28.6h0m86.1-11h0m-20.3 8.2h0m-72.5-17.5h0m42-4.8h0m-55.5 19.7h0m98.7 9.6h0m-20.4-2.2h0m37.6-2.4h0m-47.9-19.9h0m-57.6 12.1h0m68.9 15.1h0m-9.1-29.3h0m-60.7 1.4h0m100.8 1.2h0m-12.4 6.2h0m-34.2 5.8h0m38.3 13.7h0m-98.3-36.7h0m18.1 22.2h0m62.8-20.1h0m-3 11.3h0m34 16.3h0m-81.8-9.3h0m-19.3-20.8h0m63.1 19.2h0m-46.2 7.1h0m-19.2-5.2h0m101 9.4h0m-44.8-30.8h0m9.9-3.6h0m14.9 23.4h0m9.6 7.3h0m-38.4 8.3h0m54.3-21.8h0m-52.6 16.3h0m-46-23.2h0m44.1 14.7h0m14.1 1.9h0m-.5-15.3h0m-16.1 15.4h0m3.3-6.3h0m33.1 4.2h0m-94.3 8.6h0m-5.7-3.4h0m30.4 .9h0m16.3-21.8h0m65.6 30.8h0m-68-25h0m74.3 6.4h0m-109.1 15h0m51.1-.1h0m31.3 .6h0m-35.2-18.8h0m-34 1.1h0m52.8-3.4h0m43.2-4h0m-63.2 3.5h0m-16.7-14.9h0m64 30.3h0m-72.2-.3h0m-15.7-13.5h0m20.4 13.6h0m29.4 8.8h0m25.5-3.6h0m-56.6-35.8h0m25.5 29.3h0m5.3-24.3h0m-7.6 10.9h0m-12.9 14.3h0m16.9 4h0m-56.7-2.2h0m11.8 .2h0m58.8-25.9h0m-12.7-6.7h0m-7.6 29.8h0m-10 6.4h0m-17.7-13.1h0m66.9 12.9h0m8.8-25.6h0m-16.5 29h0m2.7-37h0m-15.9 12.6h0m-7.3 13.9h0m52.1-9.7h0m-59.9 .4h0m-52.7 13.7h0m-3-9.5h0m56.7-15.7h0m40.2 16.8h0m-51.7 8.1h0m2 3.3h0m26.6-27.9h0m-28.1 17.6h0m1.8 4.5h0m12.9-9.5h0m7.7-1.9h0m-56.7-11.2h0m-12.8-.5h0m105.8 34.1h0m-39.2-2.9h0m7.7 3.1h0m-68.7-14.3h0m84.6-7.4h0m-26.3-1h0m13.2 10.5h0m-69.1-25.1h0m63.8 17.6h0m-36.2-4.2h0m25 19.3h0m8-4.3h0m45.9-26h0m-105.2 10.6h0m80.5 15.4h0m-92.2-10.3h0m14.7 4.4h0m-13.6-7.4h0m89.2-16.7h0m-27.3 1.5h0m-10.1-1.8h0m10.3 16.9h0m12.7-3.6h0m-64.2-7.3h0m76 15h0m-76.5-11.9h0m37.6 28.3h0m-6.5-20h0m-42.4 6.7h0m50.5 8h0m-49.3-16.1h0m11.3 1.5h0m105.8 15.6h0m-80.4-10.3h0m-9.4 14.7h0m-7.8-28.8h0m35.9 11h0m-44.5-15.1h0m55.9 30.1h0m41.3-18.1h0m-50.4 17.9h0m40.3-20.5h0m3.1-11.1h0m-79 16.8h0m49.6 10.1h0m3.3-10.2h0m30.5 13.8h0m-3.6 1.7h0m12-2.4h0m-96.1-23.9h0m39.8 22.3h0m-19.7 8.8h0m-1.9-35.2h0m-24.3 13.8h0m85.5 10.3h0m-35.5-17.9h0m37.5 7.4h0m-82.1-15.8h0m9.6 33.1h0m-27.8-27.1h0m13.3 15.7h0m91.9-13.7h0m-73.2 1.1h0m7.3-12.2h0m36.1 39.8h0m-11.3-23.5h0m-62 13.6h0m67.2-9.3h0m-8.4 10.9h0m11.5-30.2h0m-3.9 36.3h0m-16.1-15.4h0m19.6-11h0m30.8-9.3h0m-71.8 2.5h0m93.6 16.4h0m-113.2 1.2h0m54.5-16.5h0m23.3 32.7h0m-72.9-32.1h0m80.2 21.5h0m13.8 10.6h0m-6.3-25.2h0m-73.7 12.2h0m78 14.4h0m-92.4-32.5h0m49.2-.6h0m-15.8 10h0m-48.7 11.3h0m81.3-1.2h0m17.8-12h0m14.1 12.8h0m-89.9 5.9h0m12.4-29.4h0m5.9 15h0m14.3 8.4h0m31.8-3.7h0m-61.7 13.3h0m2.2-12.2h0m66-14.7h0m-49.5-1.7h0m50 18.3h0m-56.9-22.2h0m40.2 36.1h0m-69.1-23.6h0m26.9 13.9h0m25.1-31.9h0m-3.6 19.7h0m-30.8 3.3h0m9.5-15h0m17.4 13.4h0m12.8-6.9h0m-36.9 27h0m58-6.5h0m-51.9-14.6h0m74.1-.3h0m-57.7 11.2h0m58.3 6.1h0m-39.4 .9h0m-17.3-35.9h0m-15.2 38.5h0m8.1-36.1h0m-4.7 36h0m32.4-19.8h0m21.3-4.5h0m-28.4 1.3h0m29.6-.5h0m-58.7 15h0m58.3-23.1h0m-23.6-4.3h0m-6.3-5.5h0m33.8 7.1h0m-47.2 5.8h0m-6.4 27.8h0m-.9-39.9h0m17.3 5h0m59.8 22.2h0m-49.6-13.2h0m21.3 5.4h0m-26.2-19.9h0m5.3 27.4h0m-28.3-13.8h0m48 26.5h0m-42.7-39.9h0m72 24h0m-67.7 15.2h0m34.5-35.9h0m10.3 2.8h0m-91.6 9.3h0m66.7 12h0m-42-5.4h0m-18.6-11.2h0m92.2-6h0m-92.3 13.2h0m2.2 21h0m61.5-.5h0m-37.7-8.7h0m-14.5 8.7h0m-.2-8.1h0m45.4-18.7h0m-50.7 .1h0m71-6h0m21.2 31.9h0m-14.9 3.9h0m-18.4-40.9h0m26.2 29.4h0m-59.9-17.6h0m-6.6-2h0m34.4 .3h0m-11.6-8.8h0m-30.2 15.5h0m16.6 15h0m-21.6 3.7h0m74.7-9.1h0m7.7-2.6h0m8.9-5.6h0m-70.6-16.9h0m19.5 31.9h0m18.7-26.2h0m11.2 5h0m-84.6 10.6h0m105.6-1.2h0m-91.9 11.7h0m21.6-22h0m46 14.4h0m-90.1-21.9h0m41.7 21.9h0m36.9-13.5h0m-19.9 16.2h0m-29.6 5.9h0m4.6-24.3h0m62.1 26.3h0m12.5-5.5h0m-5.1-16.7h0m-67.5 2.9h0m38.5 5.6h0m-41.6 6.1h0m59.1-25.3h0m-61.1 7.4h0m-36 11h0m36.2 11h0m23.6-1.9h0m-55.8-27.3h0m46.2-3.7h0m13.8 30.3h0m24.9-23.6h0m-30 22.1h0m29-18.9h0m-48.5 29.9h0m-11.5-37.5h0m37.9 32.7h0m29.9-31.5h0m-10.4 28.1h0m14.8-11.9h0m-76.2 9.8h0m-8.8 7.7h0m22.1-33h0m22.2 14.1h0m-1-11h0m40.4 10.4h0m-46.2 17.6h0m-16.4-16.2h0m48.2 2.3h0m-10.2-19.5h0m38.5 3h0m-65.8 22.1h0m9.6 1.8h0m-42.3-5.8h0m64.4-23.2h0m-32.6 2.9h0m-9 9.5h0m-6.3 27.3h0m78-1.3h0m-82.6-9.5h0m65.3 0h0m-18.8-23.1h0m-62.3 18.4h0m57.2-.4h0m9.8-18.4h0m-67.9 25.6h0m104.2-14.4h0m-2.2 2.6h0m-56.4 4.2h0m36.8-9.3h0m-66.8 9.7h0m69.2 10.9h0m-56.7-28h0m79.9 20.8h0m-60.5 1.4h0m19.7-13.9h0m-68.4-5.1h0m77.9 28.5h0m26.3-7.2h0m-35.5-4h0m-75.3-4.8h0m33.5-5.4h0m9 13.5h0m-38.1-15.5h0m93.9-9.9h0m-45.7 31.4h0m1.6-20.8h0m5.8-7.7h0m64.5 25.6h0m-45.9-13.7h0m-28.8-14.5h0m-47 .8h0m112.5 24h0m-33.8 6.4h0m10.4 4.8h0m-87.9-29h0m101.5 9.1h0m-10.2-1h0m-72.1-8.9h0m63 10.8h0m-21.9 4.2h0m-2.3-15.7h0m37.5 28.7h0m6.5-11.9h0m-90 2.1h0m109.6-3.6h0m-51.4-9.2h0m7.8-2.3h0m-40 1.5h0m-2 .7h0m48 15.7h0m-46.2-11.2h0m72.8 4.6h0m-69.2-22.7h0m-25.2 17.9h0m59.7-8.9h0m-72.3 12.6h0m54.6 7.5h0m54.3-17.7h0m-26.7-9.9h0m18.4 11h0m4.1-.3h0m-37.5 2.5h0m-71.7-3.6h0m31 17.3h0m-8.5-5.7h0m15.3-21.7h0m12.7 11.7h0m29.9 9.6h0m-71.5-7.7h0m20.6-8.4h0m68 11.6h0m24 2.1h0m-15.5 11.5h0m-93.3-30.7h0m101.3 6h0m-56.4 30.1h0m14-18.5h0m43.9 4.7h0m-29.5-17.4h0m-34.9-10h0m-32.3 29.4h0m41.3-22.3h0m50.9 .9h0m-93.2 4.6h0m70.1-7.2h0m17.4 30.8h0m-59.8-.6h0m17.4-6.7h0m-47.1-18h0m38.8-4.6h0m-57 6.9h0m80.8 20h0m-49.7-27.8h0m21.8 9h0m-1.7-.8h0m-35.4 9h0m-.4 17.3h0m-4.6-23h0m37.3 24.6h0m12.7-21.3h0m-21.3 13.9h0m-25.9-22.3h0m97.9 9.3h0m-7.1-14.8h0m-17.9 35.7h0m-73.7-17.5h0m-7.3-16.9h0m-1.7 2.2h0m29.9 10h0m21.5 7.5h0m-8.5-14.5h0" stroke="#9a8c10" stroke-width="1" stroke-linecap="round" fill="none" opacity=".75"/>
<path d="m117.3 102.6h0m37.2-15.3h0m13.2 22.8h0m10.6-7.8h0m-66.1-2.6h0m-3.9-7.4h0m9.7-4h0m-8.7-7.1h0m-36.7 19.3h0m91-19.1h0m-72.4-3.5h0m-22.4 30.1h0m58.8-34.1h0m21.2 35.6h0m-11.7 1.9h0m-65.1-19.1h0m81.5 19.7h0m9.1-25h0m-83.2 15.3h0m75.2-11.5h0m-49.9 18h0m-22.9-10.7h0m93.9-5.3h0m-30.3 .6h0m32.8 5.3h0m3.7-8h0m-51.7-16.1h0m15.7 23.1h0m7.9-4.6h0m-47.8 3h0m-4-17.5h0m25.5-1.3h0m3.8 16.3h0m-34.6 6.8h0m69.4-20.8h0m-67.3 5.4h0m15.9 14.3h0m59.4-6.2h0m-9.1 .9h0m-66.3 4.1h0m1.6-8h0m69.9 16.1h0m-35.8-5.9h0m-32.1-16.3h0m-14.1 20.8h0m41.2-22.9h0m4.5 22.8h0m-22.6-21.9h0m39-8.5h0m-26.4 15.9h0m23.5-1.3h0m-3.9 19.8h0m-68.8-2.5h0m97 .4h0m4.6-8.2h0m-86-3.6h0m87.3-6.9h0m-93.3 24h0m9.2-16.5h0m-17-3.2h0m39.2-5.5h0m16.8-3h0m3.4 18.6h0m19.8-25.2h0m13 11.1h0m-9.7 19.4h0m-52.7-35.4h0m19.7 33.3h0m.9-33.9h0m-8.4 36.6h0m41.1-2.1h0m-9.3-5.3h0m-27.2-.5h0m6.1-10h0m-7.3-5.3h0m-44.3 8h0m64.5 11.2h0m20.6 5.4h0m-28.8-1.1h0m-2.8-9.2h0m-62.1-21h0m35.5 10.5h0m-18 15.2h0m50.8-9.9h0m-20.5-16.8h0m46 12.8h0m-52.4 1.5h0m15.9-21.2h0m-49.1 34.6h0m34.4 .3h0m10.5-10.5h0m50.1-7.1h0m-65.8 6.1h0m-41.1-9h0m36.4-.6h0m34 14.8h0m41.3-1h0m-54.5-21h0m16.5 10h0m9.4 8.8h0m-50.6-8.5h0m38.2 13.3h0m24.6 8.5h0m-44.4-24.8h0m65 8h0m-112.6 10h0m1.7-3.5h0m44.7-1.8h0m57.1-11h0m-67.5-6.3h0m-27.1 13.1h0m6.3-15h0m25.7 25.8h0m-43.1-25.6h0m30.3 31.1h0m5.1-35.1h0m6.5 34.6h0m24.5-2.5h0m-5-22.7h0m-17.8-7h0m-13.2 30.6h0m13.9-7.8h0m8.3-6.2h0m-38-16.8h0m69.2 .3h0m17.2 25.1h0m-11.6-19.6h0m-26.5-5.3h0m-45.8-1.3h0m46.2 14.8h0" stroke="#f1ecc0" stroke-width=".9" stroke-linecap="round" fill="none" opacity=".9"/>
<rect x="48.2" y="57.8" width="144.8" height="67" fill="none" stroke="#111" stroke-width="1.3"/>
<text x="120.4" y="50.96" text-anchor="middle">21344 starting positions</text>
<text x="60.6" y="136.86" text-anchor="middle">-1.0</text>
<text x="91.25" y="136.86" text-anchor="middle">-0.5</text>
<text x="121.9" y="136.86" text-anchor="middle">0.0</text>
<text x="152.55" y="136.86" text-anchor="middle">0.5</text>
<text x="183.2" y="136.86" text-anchor="middle">1.0</text>
<text x="43" y="62.66" text-anchor="end">0.5</text>
<text x="43" y="78.06" text-anchor="end">0.25</text>
<text x="43" y="93.46" text-anchor="end">0.0</text>
<text x="43" y="108.86" text-anchor="end">-0.25</text>
<text x="43" y="124.26" text-anchor="end">-0.5</text>
<text x="119.9" y="153.86" text-anchor="middle">(µm)</text>
<path d="M275.3 141.2H281.2V116.79H275.3ZM282.17 141.2H288.07V86.06H282.17ZM289.04 141.2H294.94V70.24H289.04ZM295.91 141.2H301.81V62.1H295.91ZM302.78 141.2H308.68V54.87H302.78ZM309.65 141.2H315.55V46.28H309.65ZM316.52 141.2H322.42V46.73H316.52ZM323.39 141.2H329.29V44.02H323.39ZM330.26 141.2H336.16V48.54H330.26ZM337.13 141.2H343.03V45.38H337.13ZM344 141.2H349.9V50.8H344ZM350.87 141.2H356.77V58.94H350.87ZM357.74 141.2H363.64V62.1H357.74ZM364.61 141.2H370.51V68.88H364.61ZM371.48 141.2H377.38V67.98H371.48ZM378.35 141.2H384.25V75.21H378.35ZM385.22 141.2H391.12V82.44H385.22ZM392.09 141.2H397.99V86.96H392.09ZM398.96 141.2H404.86V88.77H398.96Z" fill="#1f77b4"/>
<path d="M274.38 141.97C275.01 139.44 276.81 132.73 278.18 126.79C279.54 120.85 281.09 112.68 282.55 106.35C284.01 100.02 285.38 94.67 286.93 88.83C288.49 82.99 290.19 76.42 291.9 71.31C293.6 66.2 295.3 62.31 297.15 58.18C299 54.04 301.05 49.76 302.99 46.5C304.94 43.24 306.89 40.66 308.83 38.61C310.78 36.57 312.63 35.21 314.67 34.23C316.72 33.26 318.91 32.77 321.09 32.77C323.28 32.77 325.47 33.26 327.81 34.23C330.15 35.21 332.68 36.72 335.11 38.61C337.54 40.51 339.98 43.09 342.41 45.62C344.84 48.15 347.27 51.17 349.71 53.8C352.14 56.42 354.57 58.95 357.01 61.39C359.44 63.82 361.87 66.25 364.31 68.39C366.74 70.54 369.17 72.58 371.61 74.23C374.04 75.89 376.47 77.25 378.91 78.32C381.34 79.39 384.01 80.22 386.2 80.66C388.39 81.09 389.85 81 392.04 80.95C394.23 80.9 396.96 80.66 399.34 80.36C401.73 80.07 405.18 79.39 406.35 79.2" fill="none" stroke="#f01010" stroke-width="1.4" stroke-linejoin="round"/>
<rect x="268" y="27.5" width="145.1" height="114.5" fill="none" stroke="#0a0a0a" stroke-width="1.35"/>
<text x="274.7" y="155.06" text-anchor="middle">0.0</text>
<text x="296.76" y="155.06" text-anchor="middle">0.1</text>
<text x="318.82" y="155.06" text-anchor="middle">0.2</text>
<text x="340.88" y="155.06" text-anchor="middle">0.3</text>
<text x="362.94" y="155.06" text-anchor="middle">0.4</text>
<text x="385" y="155.06" text-anchor="middle">0.5</text>
<text x="407.06" y="155.06" text-anchor="middle">0.6</text>
<text x="265.4" y="31.66" text-anchor="end">2.5</text>
<text x="265.4" y="54.26" text-anchor="end">2.0</text>
<text x="265.4" y="76.86" text-anchor="end">1.5</text>
<text x="265.4" y="99.46" text-anchor="end">1.0</text>
<text x="265.4" y="122.06" text-anchor="end">0.5</text>
<text x="262.6" y="144.66" text-anchor="end">0</text>
<path d="M274.7 142.5v1.7M296.76 142.5v1.7M318.82 142.5v1.7M340.88 142.5v1.7M362.94 142.5v1.7M385 142.5v1.7M407.06 142.5v1.7M267.5 28.2h-1.7M267.5 50.8h-1.7M267.5 73.4h-1.7M267.5 96h-1.7M267.5 118.6h-1.7M267.5 141.2h-1.7M267.5 39.5h-1.1M267.5 62.1h-1.1M267.5 84.7h-1.1M267.5 107.3h-1.1M267.5 129.9h-1.1" stroke="#1c1c1c" stroke-width=".9" fill="none"/>
<text x="334.2" y="171.66" text-anchor="middle">Displacement (µm)</text>
<text x="238.66" y="85.3" text-anchor="middle" transform="rotate(-90 238.66 85.3)">Probability density</text>
<text x="355.5" y="41.08" font-size="6.9">D1 = 1.84 µm²/s</text>
<rect x="473.3" y="12.6" width="164.2" height="57.2" fill="#440154"/>
<path fill="#471365" d="M500.03 12.6h4.17v4.16h-4.17zM542.03 12.6h7.99v4.16h-7.99zM587.86 12.6h4.17v4.16h-4.17zM599.31 12.6h4.17v4.16h-4.17zM614.59 16.41h4.17v4.16h-4.17zM618.41 20.23h7.99v4.16h-7.99zM480.94 24.04h7.99v4.16h-7.99zM477.12 27.85h4.17v4.16h-4.17zM629.86 31.67h4.17v4.16h-4.17zM480.94 50.73h4.17v4.16h-4.17zM610.77 62.17h7.99v4.16h-7.99zM549.67 65.99h4.17v3.81h-4.17zM591.68 65.99h4.17v3.81h-4.17z"/>
<path fill="#460a5d" d="M507.67 12.6h4.17v4.16h-4.17zM580.22 12.6h4.17v4.16h-4.17zM595.5 12.6h4.17v4.16h-4.17zM603.13 12.6h11.81v4.16h-11.81zM480.94 20.23h4.17v4.16h-4.17zM626.04 27.85h7.99v4.16h-7.99zM473.3 31.67h4.17v4.16h-4.17zM629.86 35.48h4.17v4.16h-4.17zM473.3 43.11h4.17v4.16h-4.17zM633.68 43.11h3.82v4.16h-3.82zM473.3 46.92h4.17v4.16h-4.17zM629.86 46.92h4.17v4.16h-4.17zM477.12 50.73h4.17v4.16h-4.17zM480.94 54.55h4.17v4.16h-4.17zM626.04 54.55h4.17v4.16h-4.17zM484.76 58.36h4.17v4.16h-4.17zM622.23 58.36h4.17v4.16h-4.17zM484.76 62.17h4.17v4.16h-4.17zM618.41 62.17h4.17v4.16h-4.17zM507.67 65.99h4.17v3.81h-4.17zM576.4 65.99h4.17v3.81h-4.17zM599.31 65.99h11.81v3.81h-11.81z"/>
<path fill="#482475" d="M511.49 12.6h7.99v4.16h-7.99zM549.67 12.6h7.99v4.16h-7.99zM561.13 12.6h7.99v4.16h-7.99zM576.4 12.6h4.17v4.16h-4.17zM584.04 12.6h4.17v4.16h-4.17zM492.39 16.41h4.17v4.16h-4.17zM610.77 16.41h4.17v4.16h-4.17zM488.57 20.23h4.17v4.16h-4.17zM477.12 31.67h4.17v4.16h-4.17zM626.04 31.67h4.17v4.16h-4.17zM629.86 43.11h4.17v4.16h-4.17zM477.12 46.92h4.17v4.16h-4.17zM618.41 54.55h7.99v4.16h-7.99zM492.39 62.17h4.17v4.16h-4.17zM500.03 62.17h4.17v4.16h-4.17zM564.95 65.99h4.17v3.81h-4.17zM572.58 65.99h4.17v3.81h-4.17zM580.22 65.99h11.81v3.81h-11.81z"/>
<path fill="#472d7b" d="M519.12 12.6h7.99v4.16h-7.99zM568.77 12.6h7.99v4.16h-7.99zM606.95 16.41h4.17v4.16h-4.17zM622.23 27.85h4.17v4.16h-4.17zM626.04 35.48h4.17v4.16h-4.17zM629.86 39.29h4.17v4.16h-4.17zM626.04 43.11h4.17v4.16h-4.17zM626.04 50.73h4.17v4.16h-4.17zM496.21 62.17h4.17v4.16h-4.17zM515.3 62.17h4.17v4.16h-4.17zM606.95 62.17h4.17v4.16h-4.17zM522.94 65.99h4.17v3.81h-4.17zM542.03 65.99h7.99v3.81h-7.99zM561.13 65.99h4.17v3.81h-4.17zM568.77 65.99h4.17v3.81h-4.17z"/>
<path fill="#481c6e" d="M526.76 12.6h7.99v4.16h-7.99zM538.22 12.6h4.17v4.16h-4.17zM557.31 12.6h4.17v4.16h-4.17zM591.68 12.6h4.17v4.16h-4.17zM496.21 16.41h4.17v4.16h-4.17zM484.76 20.23h4.17v4.16h-4.17zM618.41 24.04h7.99v4.16h-7.99zM477.12 35.48h4.17v4.16h-4.17zM473.3 39.29h4.17v4.16h-4.17zM484.76 54.55h4.17v4.16h-4.17zM488.57 58.36h4.17v4.16h-4.17zM618.41 58.36h4.17v4.16h-4.17zM500.03 65.99h7.99v3.81h-7.99zM511.49 65.99h11.81v3.81h-11.81zM526.76 65.99h15.62v3.81h-15.62zM553.49 65.99h7.99v3.81h-7.99zM595.5 65.99h4.17v3.81h-4.17z"/>
<path fill="#443b84" d="M534.4 12.6h4.17v4.16h-4.17zM500.03 16.41h7.99v4.16h-7.99zM488.57 24.04h4.17v4.16h-4.17zM480.94 27.85h4.17v4.16h-4.17zM488.57 27.85h4.17v4.16h-4.17zM484.76 39.29h4.17v4.16h-4.17zM488.57 50.73h4.17v4.16h-4.17zM622.23 50.73h4.17v4.16h-4.17zM488.57 54.55h4.17v4.16h-4.17zM492.39 58.36h4.17v4.16h-4.17zM595.5 62.17h4.17v4.16h-4.17zM603.13 62.17h4.17v4.16h-4.17z"/>
<path fill="#38598c" d="M507.67 16.41h4.17v4.16h-4.17zM530.58 16.41h4.17v4.16h-4.17zM480.94 43.11h7.99v4.16h-7.99zM622.23 46.92h4.17v4.16h-4.17zM599.31 58.36h4.17v4.16h-4.17zM553.49 62.17h4.17v4.16h-4.17zM564.95 62.17h4.17v4.16h-4.17zM580.22 62.17h4.17v4.16h-4.17zM591.68 62.17h4.17v4.16h-4.17z"/>
<path fill="#414487" d="M511.49 16.41h4.17v4.16h-4.17zM603.13 16.41h4.17v4.16h-4.17zM492.39 20.23h4.17v4.16h-4.17zM614.59 20.23h4.17v4.16h-4.17zM488.57 31.67h4.17v4.16h-4.17zM480.94 39.29h4.17v4.16h-4.17zM477.12 43.11h4.17v4.16h-4.17zM484.76 50.73h4.17v4.16h-4.17zM610.77 58.36h4.17v4.16h-4.17zM503.85 62.17h4.17v4.16h-4.17zM526.76 62.17h4.17v4.16h-4.17zM568.77 62.17h4.17v4.16h-4.17z"/>
<path fill="#355f8d" d="M515.3 16.41h4.17v4.16h-4.17zM526.76 16.41h4.17v4.16h-4.17zM542.03 16.41h4.17v4.16h-4.17zM557.31 16.41h15.62v4.16h-15.62zM584.04 16.41h4.17v4.16h-4.17zM595.5 16.41h4.17v4.16h-4.17zM503.85 20.23h4.17v4.16h-4.17zM542.03 20.23h4.17v4.16h-4.17zM606.95 20.23h4.17v4.16h-4.17zM496.21 24.04h4.17v4.16h-4.17zM484.76 31.67h4.17v4.16h-4.17zM618.41 39.29h4.17v4.16h-4.17zM614.59 46.92h4.17v4.16h-4.17zM603.13 58.36h4.17v4.16h-4.17zM557.31 62.17h4.17v4.16h-4.17zM572.58 62.17h4.17v4.16h-4.17z"/>
<path fill="#3b528b" d="M519.12 16.41h4.17v4.16h-4.17zM549.67 16.41h4.17v4.16h-4.17zM572.58 16.41h4.17v4.16h-4.17zM580.22 16.41h4.17v4.16h-4.17zM599.31 16.41h4.17v4.16h-4.17zM576.4 20.23h4.17v4.16h-4.17zM614.59 24.04h4.17v4.16h-4.17zM622.23 31.67h4.17v4.16h-4.17zM492.39 35.48h4.17v4.16h-4.17zM622.23 39.29h4.17v4.16h-4.17zM484.76 46.92h4.17v4.16h-4.17zM618.41 50.73h4.17v4.16h-4.17zM503.85 58.36h4.17v4.16h-4.17zM507.67 62.17h4.17v4.16h-4.17zM522.94 62.17h4.17v4.16h-4.17zM534.4 62.17h11.81v4.16h-11.81zM561.13 62.17h4.17v4.16h-4.17z"/>
<path fill="#31668e" d="M522.94 16.41h4.17v4.16h-4.17zM538.22 16.41h4.17v4.16h-4.17zM553.49 16.41h4.17v4.16h-4.17zM591.68 16.41h4.17v4.16h-4.17zM580.22 24.04h4.17v4.16h-4.17zM618.41 27.85h4.17v4.16h-4.17zM618.41 31.67h4.17v4.16h-4.17zM618.41 35.48h4.17v4.16h-4.17zM488.57 39.29h4.17v4.16h-4.17zM488.57 43.11h4.17v4.16h-4.17zM618.41 43.11h4.17v4.16h-4.17zM492.39 46.92h4.17v4.16h-4.17zM496.21 54.55h4.17v4.16h-4.17zM610.77 54.55h4.17v4.16h-4.17zM507.67 58.36h4.17v4.16h-4.17zM534.4 58.36h4.17v4.16h-4.17zM580.22 58.36h4.17v4.16h-4.17zM595.5 58.36h4.17v4.16h-4.17z"/>
<path fill="#3e4a89" d="M534.4 16.41h4.17v4.16h-4.17zM576.4 16.41h4.17v4.16h-4.17zM496.21 20.23h7.99v4.16h-7.99zM610.77 20.23h4.17v4.16h-4.17zM492.39 24.04h4.17v4.16h-4.17zM480.94 31.67h4.17v4.16h-4.17zM484.76 35.48h4.17v4.16h-4.17zM477.12 39.29h4.17v4.16h-4.17zM626.04 39.29h4.17v4.16h-4.17zM622.23 43.11h4.17v4.16h-4.17zM480.94 46.92h4.17v4.16h-4.17zM614.59 54.55h4.17v4.16h-4.17zM496.21 58.36h4.17v4.16h-4.17zM511.49 62.17h4.17v4.16h-4.17zM519.12 62.17h4.17v4.16h-4.17zM545.85 62.17h7.99v4.16h-7.99zM576.4 62.17h4.17v4.16h-4.17zM584.04 62.17h7.99v4.16h-7.99z"/>
<path fill="#2c728e" d="M545.85 16.41h4.17v4.16h-4.17zM507.67 20.23h4.17v4.16h-4.17zM599.31 20.23h4.17v4.16h-4.17zM591.68 24.04h4.17v4.16h-4.17zM500.03 27.85h4.17v4.16h-4.17zM614.59 27.85h4.17v4.16h-4.17zM614.59 31.67h4.17v4.16h-4.17zM614.59 35.48h4.17v4.16h-4.17zM496.21 43.11h4.17v4.16h-4.17zM488.57 46.92h4.17v4.16h-4.17zM618.41 46.92h4.17v4.16h-4.17zM538.22 50.73h4.17v4.16h-4.17zM606.95 50.73h4.17v4.16h-4.17zM614.59 50.73h4.17v4.16h-4.17zM492.39 54.55h4.17v4.16h-4.17zM500.03 54.55h4.17v4.16h-4.17zM515.3 58.36h4.17v4.16h-4.17zM530.58 58.36h4.17v4.16h-4.17zM587.86 58.36h4.17v4.16h-4.17zM606.95 58.36h4.17v4.16h-4.17zM530.58 62.17h4.17v4.16h-4.17z"/>
<path fill="#2f6c8e" d="M587.86 16.41h4.17v4.16h-4.17zM526.76 20.23h4.17v4.16h-4.17zM545.85 20.23h4.17v4.16h-4.17zM561.13 20.23h4.17v4.16h-4.17zM591.68 20.23h7.99v4.16h-7.99zM599.31 24.04h4.17v4.16h-4.17zM610.77 24.04h4.17v4.16h-4.17zM492.39 39.29h4.17v4.16h-4.17zM492.39 50.73h4.17v4.16h-4.17zM511.49 54.55h4.17v4.16h-4.17zM538.22 58.36h4.17v4.16h-4.17zM599.31 62.17h4.17v4.16h-4.17z"/>
<path fill="#25848e" d="M511.49 20.23h7.99v4.16h-7.99zM549.67 20.23h4.17v4.16h-4.17zM557.31 24.04h4.17v4.16h-4.17zM606.95 24.04h4.17v4.16h-4.17zM496.21 27.85h4.17v4.16h-4.17zM511.49 27.85h4.17v4.16h-4.17zM587.86 27.85h4.17v4.16h-4.17zM492.39 31.67h4.17v4.16h-4.17zM500.03 31.67h4.17v4.16h-4.17zM496.21 35.48h4.17v4.16h-4.17zM610.77 35.48h4.17v4.16h-4.17zM500.03 46.92h4.17v4.16h-4.17zM511.49 50.73h4.17v4.16h-4.17zM507.67 54.55h4.17v4.16h-4.17zM542.03 54.55h4.17v4.16h-4.17zM572.58 54.55h4.17v4.16h-4.17zM587.86 54.55h7.99v4.16h-7.99zM591.68 58.36h4.17v4.16h-4.17z"/>
<path fill="#2a788e" d="M519.12 20.23h4.17v4.16h-4.17zM538.22 20.23h4.17v4.16h-4.17zM503.85 24.04h4.17v4.16h-4.17zM492.39 27.85h4.17v4.16h-4.17zM496.21 31.67h4.17v4.16h-4.17zM492.39 43.11h4.17v4.16h-4.17zM496.21 50.73h4.17v4.16h-4.17zM534.4 54.55h4.17v4.16h-4.17zM595.5 54.55h7.99v4.16h-7.99zM500.03 58.36h4.17v4.16h-4.17zM522.94 58.36h4.17v4.16h-4.17zM564.95 58.36h4.17v4.16h-4.17zM576.4 58.36h4.17v4.16h-4.17zM584.04 58.36h4.17v4.16h-4.17z"/>
<path fill="#21918c" d="M522.94 20.23h4.17v4.16h-4.17zM534.4 20.23h4.17v4.16h-4.17zM587.86 20.23h4.17v4.16h-4.17zM519.12 24.04h4.17v4.16h-4.17zM534.4 24.04h4.17v4.16h-4.17zM553.49 24.04h4.17v4.16h-4.17zM595.5 24.04h4.17v4.16h-4.17zM515.3 27.85h4.17v4.16h-4.17zM545.85 27.85h4.17v4.16h-4.17zM584.04 27.85h4.17v4.16h-4.17zM503.85 31.67h4.17v4.16h-4.17zM515.3 39.29h4.17v4.16h-4.17zM606.95 39.29h4.17v4.16h-4.17zM614.59 39.29h4.17v4.16h-4.17zM500.03 43.11h4.17v4.16h-4.17zM610.77 43.11h4.17v4.16h-4.17zM503.85 50.73h4.17v4.16h-4.17zM603.13 50.73h4.17v4.16h-4.17zM553.49 54.55h4.17v4.16h-4.17zM584.04 54.55h4.17v4.16h-4.17zM519.12 58.36h4.17v4.16h-4.17zM553.49 58.36h4.17v4.16h-4.17zM561.13 58.36h4.17v4.16h-4.17zM572.58 58.36h4.17v4.16h-4.17z"/>
<path fill="#238a8d" d="M530.58 20.23h4.17v4.16h-4.17zM553.49 20.23h4.17v4.16h-4.17zM568.77 20.23h4.17v4.16h-4.17zM580.22 20.23h4.17v4.16h-4.17zM603.13 20.23h4.17v4.16h-4.17zM511.49 24.04h7.99v4.16h-7.99zM530.58 24.04h4.17v4.16h-4.17zM576.4 24.04h4.17v4.16h-4.17zM507.67 27.85h4.17v4.16h-4.17zM549.67 27.85h4.17v4.16h-4.17zM591.68 27.85h4.17v4.16h-4.17zM603.13 27.85h4.17v4.16h-4.17zM519.12 31.67h4.17v4.16h-4.17zM610.77 31.67h4.17v4.16h-4.17zM500.03 35.48h4.17v4.16h-4.17zM614.59 43.11h4.17v4.16h-4.17zM603.13 46.92h4.17v4.16h-4.17zM500.03 50.73h4.17v4.16h-4.17zM557.31 50.73h4.17v4.16h-4.17zM530.58 54.55h4.17v4.16h-4.17zM568.77 54.55h4.17v4.16h-4.17zM606.95 54.55h4.17v4.16h-4.17zM511.49 58.36h4.17v4.16h-4.17zM545.85 58.36h7.99v4.16h-7.99zM557.31 58.36h4.17v4.16h-4.17z"/>
<path fill="#1e9c89" d="M557.31 20.23h4.17v4.16h-4.17zM522.94 24.04h4.17v4.16h-4.17zM561.13 24.04h4.17v4.16h-4.17zM587.86 24.04h4.17v4.16h-4.17zM572.58 27.85h4.17v4.16h-4.17zM599.31 27.85h4.17v4.16h-4.17zM599.31 31.67h4.17v4.16h-4.17zM606.95 31.67h4.17v4.16h-4.17zM580.22 35.48h7.99v4.16h-7.99zM503.85 43.11h4.17v4.16h-4.17zM507.67 50.73h4.17v4.16h-4.17zM587.86 50.73h4.17v4.16h-4.17zM538.22 54.55h4.17v4.16h-4.17zM564.95 54.55h4.17v4.16h-4.17zM576.4 54.55h4.17v4.16h-4.17z"/>
<path fill="#277e8e" d="M564.95 20.23h4.17v4.16h-4.17zM572.58 20.23h4.17v4.16h-4.17zM500.03 24.04h4.17v4.16h-4.17zM538.22 24.04h4.17v4.16h-4.17zM503.85 27.85h4.17v4.16h-4.17zM610.77 27.85h4.17v4.16h-4.17zM526.76 31.67h4.17v4.16h-4.17zM488.57 35.48h4.17v4.16h-4.17zM610.77 39.29h4.17v4.16h-4.17zM496.21 46.92h4.17v4.16h-4.17zM610.77 46.92h4.17v4.16h-4.17zM591.68 50.73h4.17v4.16h-4.17zM610.77 50.73h4.17v4.16h-4.17zM519.12 54.55h4.17v4.16h-4.17zM526.76 54.55h4.17v4.16h-4.17zM603.13 54.55h4.17v4.16h-4.17zM526.76 58.36h4.17v4.16h-4.17zM568.77 58.36h4.17v4.16h-4.17z"/>
<path fill="#22a884" d="M584.04 20.23h4.17v4.16h-4.17zM526.76 24.04h4.17v4.16h-4.17zM530.58 27.85h7.99v4.16h-7.99zM542.03 27.85h4.17v4.16h-4.17zM522.94 31.67h4.17v4.16h-4.17zM538.22 31.67h4.17v4.16h-4.17zM553.49 31.67h7.99v4.16h-7.99zM538.22 35.48h11.81v4.16h-11.81zM587.86 35.48h4.17v4.16h-4.17zM572.58 39.29h4.17v4.16h-4.17zM599.31 39.29h4.17v4.16h-4.17zM507.67 43.11h4.17v4.16h-4.17zM599.31 43.11h7.99v4.16h-7.99zM503.85 46.92h4.17v4.16h-4.17zM511.49 46.92h4.17v4.16h-4.17zM561.13 46.92h4.17v4.16h-4.17zM545.85 50.73h4.17v4.16h-4.17zM580.22 50.73h7.99v4.16h-7.99zM542.03 58.36h4.17v4.16h-4.17z"/>
<path fill="#1f968b" d="M507.67 24.04h4.17v4.16h-4.17zM549.67 24.04h4.17v4.16h-4.17zM538.22 27.85h4.17v4.16h-4.17zM595.5 31.67h4.17v4.16h-4.17zM503.85 35.48h4.17v4.16h-4.17zM599.31 35.48h4.17v4.16h-4.17zM606.95 35.48h4.17v4.16h-4.17zM503.85 39.29h4.17v4.16h-4.17zM519.12 43.11h4.17v4.16h-4.17zM576.4 43.11h4.17v4.16h-4.17zM606.95 43.11h4.17v4.16h-4.17zM507.67 46.92h4.17v4.16h-4.17zM549.67 46.92h4.17v4.16h-4.17zM606.95 46.92h4.17v4.16h-4.17zM515.3 50.73h7.99v4.16h-7.99zM572.58 50.73h4.17v4.16h-4.17zM515.3 54.55h4.17v4.16h-4.17zM545.85 54.55h7.99v4.16h-7.99z"/>
<path fill="#38b977" d="M542.03 24.04h7.99v4.16h-7.99zM511.49 31.67h4.17v4.16h-4.17zM572.58 31.67h4.17v4.16h-4.17zM580.22 31.67h4.17v4.16h-4.17zM526.76 35.48h4.17v4.16h-4.17zM534.4 35.48h4.17v4.16h-4.17zM603.13 35.48h4.17v4.16h-4.17zM522.94 39.29h4.17v4.16h-4.17zM542.03 39.29h4.17v4.16h-4.17zM580.22 39.29h4.17v4.16h-4.17zM545.85 46.92h4.17v4.16h-4.17zM595.5 46.92h4.17v4.16h-4.17zM561.13 50.73h4.17v4.16h-4.17z"/>
<path fill="#1fa287" d="M564.95 24.04h4.17v4.16h-4.17zM572.58 24.04h4.17v4.16h-4.17zM580.22 27.85h4.17v4.16h-4.17zM595.5 27.85h4.17v4.16h-4.17zM606.95 27.85h4.17v4.16h-4.17zM500.03 39.29h4.17v4.16h-4.17zM561.13 39.29h4.17v4.16h-4.17zM526.76 43.11h4.17v4.16h-4.17zM522.94 46.92h7.99v4.16h-7.99zM534.4 46.92h4.17v4.16h-4.17zM522.94 50.73h4.17v4.16h-4.17zM564.95 50.73h4.17v4.16h-4.17zM503.85 54.55h4.17v4.16h-4.17z"/>
<path fill="#50c46a" d="M568.77 24.04h4.17v4.16h-4.17zM515.3 31.67h4.17v4.16h-4.17zM534.4 31.67h4.17v4.16h-4.17zM530.58 39.29h4.17v4.16h-4.17zM564.95 39.29h4.17v4.16h-4.17zM591.68 39.29h4.17v4.16h-4.17zM584.04 43.11h4.17v4.16h-4.17zM538.22 46.92h4.17v4.16h-4.17zM576.4 46.92h4.17v4.16h-4.17zM553.49 50.73h4.17v4.16h-4.17zM568.77 50.73h4.17v4.16h-4.17zM580.22 54.55h4.17v4.16h-4.17z"/>
<path fill="#2fb47c" d="M584.04 24.04h4.17v4.16h-4.17zM522.94 27.85h4.17v4.16h-4.17zM568.77 27.85h4.17v4.16h-4.17zM507.67 31.67h4.17v4.16h-4.17zM530.58 31.67h4.17v4.16h-4.17zM587.86 31.67h4.17v4.16h-4.17zM515.3 35.48h7.99v4.16h-7.99zM568.77 35.48h4.17v4.16h-4.17zM496.21 39.29h4.17v4.16h-4.17zM545.85 39.29h4.17v4.16h-4.17zM530.58 43.11h4.17v4.16h-4.17zM515.3 46.92h4.17v4.16h-4.17zM557.31 46.92h4.17v4.16h-4.17zM591.68 46.92h4.17v4.16h-4.17zM599.31 46.92h4.17v4.16h-4.17zM530.58 50.73h4.17v4.16h-4.17zM542.03 50.73h4.17v4.16h-4.17zM522.94 54.55h4.17v4.16h-4.17z"/>
<path fill="#44bf70" d="M603.13 24.04h4.17v4.16h-4.17zM519.12 27.85h4.17v4.16h-4.17zM553.49 27.85h4.17v4.16h-4.17zM561.13 27.85h4.17v4.16h-4.17zM542.03 31.67h4.17v4.16h-4.17zM576.4 31.67h4.17v4.16h-4.17zM584.04 31.67h4.17v4.16h-4.17zM603.13 31.67h4.17v4.16h-4.17zM561.13 35.48h4.17v4.16h-4.17zM507.67 39.29h7.99v4.16h-7.99zM526.76 39.29h4.17v4.16h-4.17zM587.86 39.29h4.17v4.16h-4.17zM534.4 43.11h4.17v4.16h-4.17zM545.85 43.11h4.17v4.16h-4.17zM557.31 43.11h4.17v4.16h-4.17zM595.5 43.11h4.17v4.16h-4.17z"/>
<path fill="#463480" d="M484.76 27.85h4.17v4.16h-4.17zM480.94 35.48h4.17v4.16h-4.17zM622.23 35.48h4.17v4.16h-4.17zM626.04 46.92h4.17v4.16h-4.17zM614.59 58.36h4.17v4.16h-4.17z"/>
<path fill="#6ccd5a" d="M526.76 27.85h4.17v4.16h-4.17zM557.31 27.85h4.17v4.16h-4.17zM549.67 31.67h4.17v4.16h-4.17zM530.58 35.48h4.17v4.16h-4.17zM591.68 35.48h7.99v4.16h-7.99zM534.4 39.29h4.17v4.16h-4.17zM595.5 39.29h4.17v4.16h-4.17zM522.94 43.11h4.17v4.16h-4.17z"/>
<path fill="#5ec962" d="M564.95 27.85h4.17v4.16h-4.17zM561.13 31.67h4.17v4.16h-4.17zM511.49 35.48h4.17v4.16h-4.17zM549.67 35.48h4.17v4.16h-4.17zM557.31 35.48h4.17v4.16h-4.17zM538.22 39.29h4.17v4.16h-4.17zM584.04 39.29h4.17v4.16h-4.17zM603.13 39.29h4.17v4.16h-4.17zM511.49 43.11h4.17v4.16h-4.17zM519.12 46.92h4.17v4.16h-4.17zM530.58 46.92h4.17v4.16h-4.17zM568.77 46.92h4.17v4.16h-4.17zM534.4 50.73h4.17v4.16h-4.17z"/>
<path fill="#28ae80" d="M576.4 27.85h4.17v4.16h-4.17zM591.68 31.67h4.17v4.16h-4.17zM507.67 35.48h4.17v4.16h-4.17zM522.94 35.48h4.17v4.16h-4.17zM519.12 39.29h4.17v4.16h-4.17zM515.3 43.11h4.17v4.16h-4.17zM542.03 43.11h4.17v4.16h-4.17zM580.22 43.11h4.17v4.16h-4.17zM542.03 46.92h4.17v4.16h-4.17zM526.76 50.73h4.17v4.16h-4.17zM576.4 50.73h4.17v4.16h-4.17zM595.5 50.73h7.99v4.16h-7.99zM557.31 54.55h7.99v4.16h-7.99z"/>
<path fill="#7ad151" d="M545.85 31.67h4.17v4.16h-4.17zM572.58 35.48h7.99v4.16h-7.99zM538.22 43.11h4.17v4.16h-4.17zM564.95 43.11h11.81v4.16h-11.81zM587.86 43.11h7.99v4.16h-7.99zM587.86 46.92h4.17v4.16h-4.17z"/>
<path fill="#9bd93c" d="M564.95 31.67h4.17v4.16h-4.17zM553.49 46.92h4.17v4.16h-4.17zM580.22 46.92h4.17v4.16h-4.17z"/>
<path fill="#8bd646" d="M568.77 31.67h4.17v4.16h-4.17zM553.49 35.48h4.17v4.16h-4.17zM568.77 39.29h4.17v4.16h-4.17zM576.4 39.29h4.17v4.16h-4.17zM561.13 43.11h4.17v4.16h-4.17zM584.04 46.92h4.17v4.16h-4.17zM549.67 50.73h4.17v4.16h-4.17z"/>
<path fill="#addc30" d="M564.95 35.48h4.17v4.16h-4.17zM549.67 39.29h4.17v4.16h-4.17zM553.49 43.11h4.17v4.16h-4.17z"/>
<path fill="#efe51c" d="M553.49 39.29h4.17v4.16h-4.17z"/>
<path fill="#bddf26" d="M557.31 39.29h4.17v4.16h-4.17zM564.95 46.92h4.17v4.16h-4.17z"/>
<path fill="#cde11d" d="M549.67 43.11h4.17v4.16h-4.17z"/>
<path fill="#fde725" d="M572.58 46.92h4.17v4.16h-4.17z"/>
<text x="556.2" y="7.56" text-anchor="middle">Number of displacements</text>
<text x="468.2" y="29.03" text-anchor="end">0.2</text>
<text x="468.2" y="44.26" text-anchor="end">0.0</text>
<text x="468.2" y="59.49" text-anchor="end">-0.2</text>
<linearGradient id="gv1" x1="0" y1="0" x2="0" y2="1"><stop offset="0" stop-color="#fde725"/><stop offset=".1" stop-color="#bddf26"/><stop offset=".2" stop-color="#7ad151"/><stop offset=".3" stop-color="#44bf70"/><stop offset=".4" stop-color="#22a884"/><stop offset=".5" stop-color="#21918c"/><stop offset=".6" stop-color="#2a788e"/><stop offset=".7" stop-color="#355f8d"/><stop offset=".8" stop-color="#414487"/><stop offset=".9" stop-color="#482475"/><stop offset="1" stop-color="#440154"/></linearGradient>
<rect x="647" y="12.3" width="3.6" height="58.7" fill="url(#gv1)"/>
<text x="655.7" y="25.96">80</text>
<text x="655.7" y="49.06">40</text>
<text x="655.7" y="70.96">0</text>
<path d="M473.3 25.57h-2.4M473.3 40.8h-2.4M473.3 56.03h-2.4M481.45 69.8v2.4M500.49 69.8v2.4M519.52 69.8v2.4M538.56 69.8v2.4M557.6 69.8v2.4M576.64 69.8v2.4M595.68 69.8v2.4M614.71 69.8v2.4M633.75 69.8v2.4M650.6 22.5h2.2M650.6 45.6h2.2M650.6 67.5h2.2M650.6 34.6h1.6M650.6 58.5h1.6" stroke="#111" stroke-width="1.1" fill="none"/>
<rect x="473.3" y="93" width="164.2" height="56.9" fill="#000000"/>
<path fill="#6666ff" d="M503.85 96.79h4.17v4.14h-4.17zM530.58 96.79h4.17v4.14h-4.17zM568.77 96.79h7.99v4.14h-7.99zM545.85 100.59h7.99v4.14h-7.99zM477.12 104.38h4.17v4.14h-4.17zM484.76 104.38h4.17v4.14h-4.17zM564.95 104.38h4.17v4.14h-4.17zM519.12 108.17h4.17v4.14h-4.17zM599.31 108.17h4.17v4.14h-4.17zM622.23 108.17h4.17v4.14h-4.17zM503.85 111.97h4.17v4.14h-4.17zM522.94 111.97h4.17v4.14h-4.17zM534.4 111.97h4.17v4.14h-4.17zM542.03 111.97h4.17v4.14h-4.17zM584.04 111.97h4.17v4.14h-4.17zM503.85 115.76h4.17v4.14h-4.17zM522.94 115.76h4.17v4.14h-4.17zM530.58 115.76h4.17v4.14h-4.17zM584.04 115.76h4.17v4.14h-4.17zM503.85 119.55h4.17v4.14h-4.17zM564.95 119.55h4.17v4.14h-4.17zM580.22 119.55h4.17v4.14h-4.17zM511.49 123.35h7.99v4.14h-7.99zM599.31 123.35h4.17v4.14h-4.17zM614.59 123.35h4.17v4.14h-4.17zM492.39 127.14h7.99v4.14h-7.99zM538.22 127.14h4.17v4.14h-4.17zM626.04 127.14h4.17v4.14h-4.17zM488.57 130.93h4.17v4.14h-4.17zM614.59 130.93h4.17v4.14h-4.17zM480.94 134.73h4.17v4.14h-4.17zM488.57 134.73h7.99v4.14h-7.99zM538.22 134.73h4.17v4.14h-4.17zM595.5 134.73h4.17v4.14h-4.17zM591.68 138.52h4.17v4.14h-4.17zM603.13 138.52h4.17v4.14h-4.17zM549.67 142.31h7.99v4.14h-7.99zM564.95 142.31h4.17v4.14h-4.17zM534.4 146.11h4.17v3.79h-4.17zM549.67 146.11h4.17v3.79h-4.17zM572.58 146.11h4.17v3.79h-4.17z"/>
<path fill="#5858ff" d="M515.3 96.79h4.17v4.14h-4.17zM500.03 100.59h4.17v4.14h-4.17zM603.13 100.59h4.17v4.14h-4.17zM568.77 104.38h4.17v4.14h-4.17zM572.58 108.17h4.17v4.14h-4.17zM564.95 111.97h4.17v4.14h-4.17zM587.86 111.97h4.17v4.14h-4.17zM622.23 119.55h4.17v4.14h-4.17zM480.94 127.14h4.17v4.14h-4.17zM610.77 127.14h4.17v4.14h-4.17zM484.76 130.93h4.17v4.14h-4.17zM553.49 130.93h7.99v4.14h-7.99zM500.03 134.73h4.17v4.14h-4.17zM519.12 134.73h4.17v4.14h-4.17zM549.67 134.73h4.17v4.14h-4.17zM507.67 138.52h4.17v4.14h-4.17zM549.67 138.52h4.17v4.14h-4.17zM507.67 146.11h4.17v3.79h-4.17zM564.95 146.11h4.17v3.79h-4.17z"/>
<path fill="#7272ff" d="M519.12 96.79h4.17v4.14h-4.17zM561.13 96.79h4.17v4.14h-4.17zM507.67 100.59h4.17v4.14h-4.17zM576.4 104.38h4.17v4.14h-4.17zM618.41 104.38h4.17v4.14h-4.17zM496.21 108.17h4.17v4.14h-4.17zM534.4 108.17h7.99v4.14h-7.99zM477.12 111.97h4.17v4.14h-4.17zM568.77 111.97h4.17v4.14h-4.17zM595.5 111.97h4.17v4.14h-4.17zM606.95 111.97h4.17v4.14h-4.17zM473.3 115.76h4.17v4.14h-4.17zM492.39 115.76h4.17v4.14h-4.17zM507.67 115.76h4.17v4.14h-4.17zM591.68 115.76h7.99v4.14h-7.99zM603.13 115.76h4.17v4.14h-4.17zM488.57 119.55h4.17v4.14h-4.17zM557.31 119.55h4.17v4.14h-4.17zM591.68 119.55h4.17v4.14h-4.17zM603.13 123.35h11.81v4.14h-11.81zM622.23 123.35h4.17v4.14h-4.17zM629.86 123.35h4.17v4.14h-4.17zM542.03 127.14h4.17v4.14h-4.17zM587.86 127.14h4.17v4.14h-4.17zM629.86 127.14h4.17v4.14h-4.17zM500.03 130.93h4.17v4.14h-4.17zM534.4 130.93h4.17v4.14h-4.17zM564.95 130.93h4.17v4.14h-4.17zM603.13 130.93h4.17v4.14h-4.17zM503.85 134.73h4.17v4.14h-4.17zM557.31 134.73h4.17v4.14h-4.17zM568.77 134.73h4.17v4.14h-4.17zM580.22 134.73h4.17v4.14h-4.17zM610.77 134.73h4.17v4.14h-4.17zM626.04 134.73h4.17v4.14h-4.17zM542.03 138.52h4.17v4.14h-4.17zM606.95 138.52h4.17v4.14h-4.17zM576.4 142.31h4.17v4.14h-4.17z"/>
<path fill="#a6a6ff" d="M526.76 96.79h4.17v4.14h-4.17zM545.85 96.79h4.17v4.14h-4.17zM553.49 96.79h4.17v4.14h-4.17zM542.03 100.59h4.17v4.14h-4.17zM568.77 100.59h4.17v4.14h-4.17zM549.67 104.38h7.99v4.14h-7.99zM584.04 104.38h4.17v4.14h-4.17zM606.95 108.17h4.17v4.14h-4.17zM500.03 115.76h4.17v4.14h-4.17zM496.21 119.55h4.17v4.14h-4.17zM584.04 119.55h7.99v4.14h-7.99zM599.31 119.55h4.17v4.14h-4.17zM492.39 123.35h4.17v4.14h-4.17zM507.67 123.35h4.17v4.14h-4.17zM522.94 123.35h4.17v4.14h-4.17zM572.58 123.35h4.17v4.14h-4.17zM599.31 127.14h4.17v4.14h-4.17zM503.85 130.93h4.17v4.14h-4.17zM522.94 130.93h4.17v4.14h-4.17zM576.4 134.73h4.17v4.14h-4.17zM530.58 138.52h4.17v4.14h-4.17zM538.22 138.52h4.17v4.14h-4.17zM522.94 142.31h4.17v4.14h-4.17zM534.4 142.31h4.17v4.14h-4.17zM542.03 142.31h4.17v4.14h-4.17zM526.76 146.11h4.17v3.79h-4.17zM606.95 146.11h4.17v3.79h-4.17z"/>
<path fill="#b2b2ff" d="M534.4 96.79h4.17v4.14h-4.17zM530.58 100.59h4.17v4.14h-4.17zM591.68 104.38h4.17v4.14h-4.17zM606.95 104.38h4.17v4.14h-4.17zM614.59 104.38h4.17v4.14h-4.17zM500.03 111.97h4.17v4.14h-4.17zM580.22 111.97h4.17v4.14h-4.17zM496.21 115.76h4.17v4.14h-4.17zM549.67 119.55h4.17v4.14h-4.17zM515.3 127.14h7.99v4.14h-7.99zM572.58 127.14h4.17v4.14h-4.17zM526.76 130.93h4.17v4.14h-4.17zM618.41 130.93h4.17v4.14h-4.17zM606.95 134.73h4.17v4.14h-4.17zM622.23 134.73h4.17v4.14h-4.17zM484.76 138.52h4.17v4.14h-4.17z"/>
<path fill="#2626ff" d="M538.22 96.79h4.17v4.14h-4.17zM496.21 100.59h4.17v4.14h-4.17zM576.4 100.59h4.17v4.14h-4.17zM591.68 100.59h4.17v4.14h-4.17zM606.95 100.59h7.99v4.14h-7.99zM534.4 104.38h4.17v4.14h-4.17zM557.31 104.38h4.17v4.14h-4.17zM587.86 104.38h4.17v4.14h-4.17zM522.94 108.17h4.17v4.14h-4.17zM480.94 111.97h4.17v4.14h-4.17zM519.12 111.97h4.17v4.14h-4.17zM576.4 111.97h4.17v4.14h-4.17zM591.68 111.97h4.17v4.14h-4.17zM480.94 115.76h4.17v4.14h-4.17zM572.58 115.76h4.17v4.14h-4.17zM606.95 115.76h4.17v4.14h-4.17zM500.03 119.55h4.17v4.14h-4.17zM515.3 119.55h4.17v4.14h-4.17zM526.76 119.55h4.17v4.14h-4.17zM568.77 119.55h4.17v4.14h-4.17zM603.13 119.55h4.17v4.14h-4.17zM477.12 123.35h4.17v4.14h-4.17zM580.22 123.35h7.99v4.14h-7.99zM503.85 127.14h4.17v4.14h-4.17zM603.13 127.14h4.17v4.14h-4.17zM618.41 127.14h4.17v4.14h-4.17zM622.23 130.93h4.17v4.14h-4.17zM515.3 134.73h4.17v4.14h-4.17zM534.4 134.73h4.17v4.14h-4.17zM553.49 134.73h4.17v4.14h-4.17zM561.13 134.73h4.17v4.14h-4.17zM603.13 134.73h4.17v4.14h-4.17zM496.21 138.52h4.17v4.14h-4.17zM568.77 138.52h4.17v4.14h-4.17zM507.67 142.31h7.99v4.14h-7.99zM584.04 142.31h7.99v4.14h-7.99zM606.95 142.31h4.17v4.14h-4.17z"/>
<path fill="#f2f2ff" d="M542.03 96.79h4.17v4.14h-4.17zM572.58 100.59h4.17v4.14h-4.17zM500.03 108.17h4.17v4.14h-4.17zM603.13 108.17h4.17v4.14h-4.17zM576.4 123.35h4.17v4.14h-4.17zM561.13 127.14h4.17v4.14h-4.17zM507.67 130.93h4.17v4.14h-4.17zM595.5 130.93h4.17v4.14h-4.17zM595.5 138.52h4.17v4.14h-4.17zM603.13 142.31h4.17v4.14h-4.17z"/>
<path fill="#8c8cff" d="M549.67 96.79h4.17v4.14h-4.17zM606.95 96.79h4.17v4.14h-4.17zM526.76 108.17h4.17v4.14h-4.17zM553.49 108.17h4.17v4.14h-4.17zM576.4 108.17h4.17v4.14h-4.17zM484.76 111.97h4.17v4.14h-4.17zM507.67 111.97h4.17v4.14h-4.17zM549.67 111.97h4.17v4.14h-4.17zM610.77 111.97h4.17v4.14h-4.17zM618.41 111.97h4.17v4.14h-4.17zM526.76 115.76h4.17v4.14h-4.17zM549.67 115.76h7.99v4.14h-7.99zM561.13 115.76h4.17v4.14h-4.17zM511.49 119.55h4.17v4.14h-4.17zM538.22 119.55h4.17v4.14h-4.17zM561.13 119.55h4.17v4.14h-4.17zM576.4 119.55h4.17v4.14h-4.17zM473.3 123.35h4.17v4.14h-4.17zM500.03 123.35h4.17v4.14h-4.17zM553.49 123.35h4.17v4.14h-4.17zM564.95 123.35h4.17v4.14h-4.17zM545.85 127.14h4.17v4.14h-4.17zM584.04 127.14h4.17v4.14h-4.17zM595.5 127.14h4.17v4.14h-4.17zM492.39 130.93h4.17v4.14h-4.17zM591.68 130.93h4.17v4.14h-4.17zM610.77 130.93h4.17v4.14h-4.17zM511.49 134.73h4.17v4.14h-4.17zM545.85 134.73h4.17v4.14h-4.17zM580.22 138.52h7.99v4.14h-7.99zM599.31 138.52h4.17v4.14h-4.17zM545.85 142.31h4.17v4.14h-4.17zM599.31 142.31h4.17v4.14h-4.17zM519.12 146.11h4.17v3.79h-4.17zM553.49 146.11h4.17v3.79h-4.17z"/>
<path fill="#3232ff" d="M557.31 96.79h4.17v4.14h-4.17zM564.95 96.79h4.17v4.14h-4.17zM503.85 100.59h4.17v4.14h-4.17zM511.49 100.59h7.99v4.14h-7.99zM584.04 100.59h7.99v4.14h-7.99zM480.94 104.38h4.17v4.14h-4.17zM492.39 104.38h4.17v4.14h-4.17zM511.49 104.38h4.17v4.14h-4.17zM542.03 104.38h4.17v4.14h-4.17zM610.77 104.38h4.17v4.14h-4.17zM480.94 108.17h4.17v4.14h-4.17zM507.67 108.17h4.17v4.14h-4.17zM549.67 108.17h4.17v4.14h-4.17zM587.86 108.17h4.17v4.14h-4.17zM595.5 108.17h4.17v4.14h-4.17zM511.49 111.97h4.17v4.14h-4.17zM553.49 111.97h4.17v4.14h-4.17zM561.13 111.97h4.17v4.14h-4.17zM599.31 111.97h4.17v4.14h-4.17zM511.49 115.76h4.17v4.14h-4.17zM576.4 115.76h4.17v4.14h-4.17zM622.23 115.76h7.99v4.14h-7.99zM480.94 119.55h4.17v4.14h-4.17zM507.67 119.55h4.17v4.14h-4.17zM534.4 119.55h4.17v4.14h-4.17zM572.58 119.55h4.17v4.14h-4.17zM595.5 119.55h4.17v4.14h-4.17zM606.95 119.55h4.17v4.14h-4.17zM503.85 123.35h4.17v4.14h-4.17zM587.86 123.35h4.17v4.14h-4.17zM618.41 123.35h4.17v4.14h-4.17zM500.03 127.14h4.17v4.14h-4.17zM557.31 127.14h4.17v4.14h-4.17zM591.68 127.14h4.17v4.14h-4.17zM477.12 130.93h4.17v4.14h-4.17zM496.21 130.93h4.17v4.14h-4.17zM538.22 130.93h4.17v4.14h-4.17zM580.22 130.93h4.17v4.14h-4.17zM626.04 130.93h4.17v4.14h-4.17zM614.59 134.73h4.17v4.14h-4.17zM488.57 138.52h4.17v4.14h-4.17zM500.03 138.52h4.17v4.14h-4.17zM515.3 138.52h4.17v4.14h-4.17zM557.31 138.52h4.17v4.14h-4.17zM572.58 138.52h4.17v4.14h-4.17zM614.59 138.52h7.99v4.14h-7.99zM515.3 142.31h7.99v4.14h-7.99zM595.5 142.31h4.17v4.14h-4.17zM500.03 146.11h4.17v3.79h-4.17zM542.03 146.11h7.99v3.79h-7.99zM580.22 146.11h4.17v3.79h-4.17z"/>
<path fill="#1818ff" d="M576.4 96.79h4.17v4.14h-4.17zM553.49 100.59h4.17v4.14h-4.17zM580.22 100.59h4.17v4.14h-4.17zM477.12 108.17h4.17v4.14h-4.17zM492.39 108.17h4.17v4.14h-4.17zM561.13 108.17h4.17v4.14h-4.17zM580.22 108.17h4.17v4.14h-4.17zM515.3 111.97h4.17v4.14h-4.17zM538.22 115.76h4.17v4.14h-4.17zM599.31 115.76h4.17v4.14h-4.17zM473.3 119.55h4.17v4.14h-4.17zM519.12 123.35h4.17v4.14h-4.17zM530.58 123.35h4.17v4.14h-4.17zM568.77 123.35h4.17v4.14h-4.17zM553.49 127.14h4.17v4.14h-4.17zM568.77 127.14h4.17v4.14h-4.17zM576.4 127.14h4.17v4.14h-4.17zM622.23 127.14h4.17v4.14h-4.17zM591.68 134.73h4.17v4.14h-4.17zM530.58 142.31h4.17v4.14h-4.17zM610.77 142.31h4.17v4.14h-4.17zM557.31 146.11h4.17v3.79h-4.17zM576.4 146.11h4.17v3.79h-4.17z"/>
<path fill="#fffefe" d="M580.22 96.79h4.17v4.14h-4.17zM614.59 108.17h4.17v4.14h-4.17zM496.21 111.97h4.17v4.14h-4.17zM553.49 119.55h4.17v4.14h-4.17zM591.68 123.35h4.17v4.14h-4.17zM480.94 130.93h4.17v4.14h-4.17zM530.58 134.73h4.17v4.14h-4.17zM587.86 134.73h4.17v4.14h-4.17zM522.94 138.52h4.17v4.14h-4.17zM553.49 138.52h4.17v4.14h-4.17zM496.21 142.31h4.17v4.14h-4.17zM580.22 142.31h4.17v4.14h-4.17zM568.77 146.11h4.17v3.79h-4.17z"/>
<path fill="#4c4cff" d="M587.86 96.79h4.17v4.14h-4.17zM599.31 104.38h4.17v4.14h-4.17zM530.58 111.97h4.17v4.14h-4.17zM587.86 115.76h4.17v4.14h-4.17zM614.59 115.76h7.99v4.14h-7.99zM492.39 119.55h4.17v4.14h-4.17zM542.03 119.55h4.17v4.14h-4.17zM488.57 123.35h4.17v4.14h-4.17zM473.3 127.14h7.99v4.14h-7.99zM576.4 130.93h4.17v4.14h-4.17zM584.04 130.93h4.17v4.14h-4.17zM606.95 130.93h4.17v4.14h-4.17zM507.67 134.73h4.17v4.14h-4.17zM542.03 134.73h4.17v4.14h-4.17zM584.04 134.73h4.17v4.14h-4.17zM618.41 134.73h4.17v4.14h-4.17zM564.95 138.52h4.17v4.14h-4.17zM587.86 138.52h4.17v4.14h-4.17zM492.39 142.31h4.17v4.14h-4.17z"/>
<path fill="#c0c0ff" d="M591.68 96.79h4.17v4.14h-4.17zM519.12 100.59h4.17v4.14h-4.17zM534.4 100.59h4.17v4.14h-4.17zM507.67 104.38h4.17v4.14h-4.17zM530.58 108.17h4.17v4.14h-4.17zM557.31 108.17h4.17v4.14h-4.17zM610.77 108.17h4.17v4.14h-4.17zM484.76 115.76h4.17v4.14h-4.17zM519.12 119.55h4.17v4.14h-4.17zM626.04 119.55h4.17v4.14h-4.17zM484.76 123.35h4.17v4.14h-4.17zM522.94 127.14h4.17v4.14h-4.17zM549.67 127.14h4.17v4.14h-4.17zM580.22 127.14h4.17v4.14h-4.17zM545.85 130.93h4.17v4.14h-4.17zM496.21 134.73h4.17v4.14h-4.17zM500.03 142.31h4.17v4.14h-4.17z"/>
<path fill="#4040ff" d="M522.94 100.59h4.17v4.14h-4.17zM538.22 100.59h4.17v4.14h-4.17zM599.31 100.59h4.17v4.14h-4.17zM500.03 104.38h4.17v4.14h-4.17zM519.12 104.38h4.17v4.14h-4.17zM526.76 104.38h7.99v4.14h-7.99zM561.13 104.38h4.17v4.14h-4.17zM572.58 104.38h4.17v4.14h-4.17zM595.5 104.38h4.17v4.14h-4.17zM484.76 108.17h4.17v4.14h-4.17zM503.85 108.17h4.17v4.14h-4.17zM542.03 108.17h4.17v4.14h-4.17zM488.57 111.97h7.99v4.14h-7.99zM622.23 111.97h4.17v4.14h-4.17zM610.77 115.76h4.17v4.14h-4.17zM522.94 119.55h4.17v4.14h-4.17zM618.41 119.55h4.17v4.14h-4.17zM629.86 119.55h4.17v4.14h-4.17zM480.94 123.35h4.17v4.14h-4.17zM538.22 123.35h4.17v4.14h-4.17zM549.67 123.35h4.17v4.14h-4.17zM561.13 123.35h4.17v4.14h-4.17zM595.5 123.35h4.17v4.14h-4.17zM626.04 123.35h4.17v4.14h-4.17zM488.57 127.14h4.17v4.14h-4.17zM564.95 127.14h4.17v4.14h-4.17zM515.3 130.93h4.17v4.14h-4.17zM549.67 130.93h4.17v4.14h-4.17zM561.13 130.93h4.17v4.14h-4.17zM568.77 130.93h7.99v4.14h-7.99zM599.31 130.93h4.17v4.14h-4.17zM484.76 134.73h4.17v4.14h-4.17zM564.95 134.73h4.17v4.14h-4.17zM599.31 134.73h4.17v4.14h-4.17zM503.85 138.52h4.17v4.14h-4.17zM511.49 138.52h4.17v4.14h-4.17zM561.13 138.52h4.17v4.14h-4.17zM610.77 138.52h4.17v4.14h-4.17zM503.85 142.31h4.17v4.14h-4.17zM561.13 142.31h4.17v4.14h-4.17zM568.77 142.31h4.17v4.14h-4.17zM511.49 146.11h4.17v3.79h-4.17zM587.86 146.11h4.17v3.79h-4.17zM610.77 146.11h4.17v3.79h-4.17z"/>
<path fill="#ff0000" d="M526.76 100.59h4.17v4.14h-4.17z"/>
<path fill="#ccccff" d="M557.31 100.59h4.17v4.14h-4.17zM538.22 104.38h4.17v4.14h-4.17zM526.76 111.97h4.17v4.14h-4.17zM477.12 115.76h4.17v4.14h-4.17zM488.57 115.76h4.17v4.14h-4.17zM515.3 115.76h7.99v4.14h-7.99zM496.21 123.35h4.17v4.14h-4.17zM526.76 127.14h4.17v4.14h-4.17zM526.76 138.52h4.17v4.14h-4.17zM576.4 138.52h4.17v4.14h-4.17zM557.31 142.31h4.17v4.14h-4.17zM538.22 146.11h4.17v3.79h-4.17z"/>
<path fill="#8080ff" d="M561.13 100.59h4.17v4.14h-4.17zM488.57 104.38h4.17v4.14h-4.17zM503.85 104.38h4.17v4.14h-4.17zM603.13 104.38h4.17v4.14h-4.17zM515.3 108.17h4.17v4.14h-4.17zM564.95 108.17h4.17v4.14h-4.17zM584.04 108.17h4.17v4.14h-4.17zM618.41 108.17h4.17v4.14h-4.17zM538.22 111.97h4.17v4.14h-4.17zM545.85 111.97h4.17v4.14h-4.17zM557.31 111.97h4.17v4.14h-4.17zM572.58 111.97h4.17v4.14h-4.17zM603.13 111.97h4.17v4.14h-4.17zM614.59 111.97h4.17v4.14h-4.17zM626.04 111.97h4.17v4.14h-4.17zM534.4 115.76h4.17v4.14h-4.17zM542.03 115.76h7.99v4.14h-7.99zM557.31 115.76h4.17v4.14h-4.17zM564.95 115.76h7.99v4.14h-7.99zM477.12 119.55h4.17v4.14h-4.17zM484.76 119.55h4.17v4.14h-4.17zM545.85 119.55h4.17v4.14h-4.17zM610.77 119.55h7.99v4.14h-7.99zM526.76 123.35h4.17v4.14h-4.17zM534.4 123.35h4.17v4.14h-4.17zM542.03 123.35h7.99v4.14h-7.99zM484.76 127.14h4.17v4.14h-4.17zM507.67 127.14h4.17v4.14h-4.17zM530.58 127.14h7.99v4.14h-7.99zM606.95 127.14h4.17v4.14h-4.17zM587.86 130.93h4.17v4.14h-4.17zM492.39 138.52h4.17v4.14h-4.17zM496.21 146.11h4.17v3.79h-4.17zM603.13 146.11h4.17v3.79h-4.17z"/>
<path fill="#ffcccc" d="M564.95 100.59h4.17v4.14h-4.17zM614.59 100.59h4.17v4.14h-4.17zM568.77 108.17h4.17v4.14h-4.17zM545.85 138.52h4.17v4.14h-4.17z"/>
<path fill="#ffd8d8" d="M595.5 100.59h4.17v4.14h-4.17zM530.58 119.55h4.17v4.14h-4.17z"/>
<path fill="#d8d8ff" d="M496.21 104.38h4.17v4.14h-4.17zM545.85 108.17h4.17v4.14h-4.17zM591.68 108.17h4.17v4.14h-4.17zM557.31 123.35h4.17v4.14h-4.17zM511.49 127.14h4.17v4.14h-4.17zM595.5 146.11h4.17v3.79h-4.17z"/>
<path fill="#ff7272" d="M515.3 104.38h4.17v4.14h-4.17zM511.49 108.17h4.17v4.14h-4.17zM526.76 134.73h4.17v4.14h-4.17z"/>
<path fill="#ffbebe" d="M522.94 104.38h4.17v4.14h-4.17zM488.57 108.17h4.17v4.14h-4.17zM580.22 115.76h4.17v4.14h-4.17zM530.58 130.93h4.17v4.14h-4.17zM522.94 134.73h4.17v4.14h-4.17z"/>
<path fill="#ff9898" d="M545.85 104.38h4.17v4.14h-4.17zM580.22 104.38h4.17v4.14h-4.17z"/>
<path fill="#fff2f2" d="M614.59 127.14h4.17v4.14h-4.17zM511.49 130.93h4.17v4.14h-4.17zM542.03 130.93h4.17v4.14h-4.17zM591.68 142.31h4.17v4.14h-4.17z"/>
<path fill="#ff7e7e" d="M519.12 130.93h4.17v4.14h-4.17zM572.58 134.73h4.17v4.14h-4.17zM519.12 138.52h4.17v4.14h-4.17zM534.4 138.52h4.17v4.14h-4.17zM530.58 146.11h4.17v3.79h-4.17z"/>
<path fill="#ff8c8c" d="M526.76 142.31h4.17v4.14h-4.17z"/>
<path fill="#ff1818" d="M538.22 142.31h4.17v4.14h-4.17zM515.3 146.11h4.17v3.79h-4.17z"/>
<path fill="#ff0c0c" d="M572.58 142.31h4.17v4.14h-4.17z"/>
<path fill="#ff2626" d="M503.85 146.11h4.17v3.79h-4.17z"/>
<text x="554.4" y="89.06" text-anchor="middle">Diffusivity map</text>
<text x="468.2" y="109.53" text-anchor="end">0.2</text>
<text x="468.2" y="124.76" text-anchor="end">0.0</text>
<text x="468.2" y="139.99" text-anchor="end">-0.2</text>
<text x="481.45" y="160.96" text-anchor="middle">-1.0</text>
<text x="519.52" y="160.96" text-anchor="middle">-0.5</text>
<text x="557.6" y="160.96" text-anchor="middle">0.0</text>
<text x="595.68" y="160.96" text-anchor="middle">0.5</text>
<text x="633.75" y="160.96" text-anchor="middle">1.0</text>
<linearGradient id="gb1" x1="0" y1="0" x2="0" y2="1"><stop offset="0" stop-color="#ff0000"/><stop offset=".1" stop-color="#ff3232"/><stop offset=".2" stop-color="#ff6666"/><stop offset=".3" stop-color="#ff9898"/><stop offset=".4" stop-color="#ffcccc"/><stop offset=".5" stop-color="#fffefe"/><stop offset=".6" stop-color="#ccccff"/><stop offset=".7" stop-color="#9898ff"/><stop offset=".8" stop-color="#6666ff"/><stop offset=".9" stop-color="#3232ff"/><stop offset="1" stop-color="#0000ff"/></linearGradient>
<rect x="647" y="92.6" width="3.6" height="57.6" fill="url(#gb1)"/>
<text x="655.7" y="101.86">8</text>
<text x="655.7" y="115.06">6</text>
<text x="655.7" y="128.26">4</text>
<text x="655.7" y="141.16">2</text>
<path d="M473.3 106.07h-2.4M473.3 121.3h-2.4M473.3 136.53h-2.4M481.45 149.9v2.4M500.49 149.9v2.4M519.52 149.9v2.4M538.56 149.9v2.4M557.6 149.9v2.4M576.64 149.9v2.4M595.68 149.9v2.4M614.71 149.9v2.4M633.75 149.9v2.4M650.6 98.4h2.2M650.6 111.6h2.2M650.6 124.8h2.2M650.6 137.7h2.2" stroke="#111" stroke-width="1.1" fill="none"/>
<text x="683.83" y="125.5" text-anchor="middle" transform="rotate(-90 683.83 125.5)" font-size="11.2">D<tspan font-size="7.84">L</tspan> (µm²/s)</text>
<path d="M59 237.2V303.1M89.65 237.2V303.1M120.3 237.2V303.1M150.95 237.2V303.1M181.6 237.2V303.1M45 239.3H193.9M45 254.4H193.9M45 269.5H193.9M45 284.6H193.9M45 299.7H193.9" stroke="#e2e2e2" stroke-width=".8" fill="none"/>
<path d="m163.5 260.4h0m-30.9 5.3h0m-23.5 11.4h0m69.5-9.1h0m-65.7 9h0m9.3-9.7h0m-29.6 18.8h0m50.6-1.4h0m7.1-31h0m1.7 6.8h0m-36-8.9h0m-16.2 2.3h0m27.9-1.2h0m-46.4 25.4h0m92.8 2.4h0m5.2-19.3h0m-40.4 4.6h0m-18.7-14.4h0m42 9.1h0m-10.9 29.3h0m-68.5-36.6h0m83.9 26.6h0m-57.6-19.3h0m-32.8 1.2h0m85 22.3h0m-105.7-6.3h0m12-.7h0m87.9-16.6h0m11.4 .7h0m-25.9 16.5h0m27.4 9.1h0m-47.1-1h0m12.6-12.2h0m-63 15.8h0m-8.5-25h0m20.4 7.2h0m52.5-13.9h0m-26.7 11.4h0m40.6 12.1h0m-67.3 1.4h0m11.7-20.1h0m16.1 7.3h0m-1.8-1h0m49.9 7.4h0m-23.5 3.2h0m-68.5 .2h0m-12.8-7.7h0m27.1-5.8h0m22.7-15.4h0m-26 15.9h0m76.3 7.9h0m-15.5-24.1h0m2.4 8.6h0m-40.2 13.6h0m23.8-1.1h0m-32.7 10.3h0m19-18.9h0m50 22.9h0m-88.3-12.1h0m66.9 12.2h0m2.4-23.9h0m-73 6.8h0m-3.5 1.2h0m107.2 2.6h0m-43.1 13h0m3.4-32.8h0m-15.9 23.2h0m31-4.4h0m4.8-6.9h0m-70.8-.4h0m-28.2 8.9h0m87.9-16.9h0m10.1 10.1h0m-85.6-9.4h0m86.8 8.2h0m-82.4-.1h0m58.6 4.7h0m-12.1-13.2h0m.4 5.5h0m-53.6-4h0m93.5 17.4h0m11.6 10h0m-53-6.4h0m65.7-2.9h0m-70-23.1h0m6.1 15.6h0m44.7 11h0m-22-4.6h0m-4.2 .1h0m23.3-11.1h0m-45.9 16h0m-46.5-24.2h0m27.8 32.6h0m18.3-8.2h0m-.7-15.9h0m-46.2 16.2h0m36.6-3.6h0m57.1-13.4h0m-60.7-9.5h0m45.8-2.2h0m-53.7 13.6h0m14.9 19h0m11-33.1h0m-48.1 38.8h0m85.1-17.1h0m9.9 .9h0m-91.1 4.3h0m-1.5 4h0m14.5-5.8h0m47.5-.1h0m33.2-2.8h0m-44.7-19.5h0m13.1 20.7h0m-19.6-11.1h0m15.1 3.2h0m-17.4 7.2h0m31.1-22.2h0m-77.4 24.4h0m76.5 11.8h0m-58.9-16.9h0m77.7-.6h0m-90.7-.3h0m-4 12.3h0m36.8-16.5h0m44.9 4h0m-83-13.4h0m36.2 22h0m3.9-20.6h0m9.8 23.6h0m-33.2-19.3h0m-26.2 5.1h0m72.7-2.8h0m18.6 6.2h0m14.8-15.2h0m-84.7 32.2h0m37-9.9h0m32.2 2.4h0m-39.6-5.7h0m33.1 12.5h0m33.4-5.4h0m-68.6-12.5h0m50.7-6.7h0m-43.4 14.2h0m-34.5-6.3h0m51.5 7.1h0m37.2 5.4h0m4-21.2h0m-4.8 17h0m-87.5-1h0m70.1-1h0m-18 8.6h0m0-32.5h0m-56.5 26.4h0m6-17.3h0m66.4 6.7h0m-85.4-6.5h0m44.3 10.9h0m10.6 1.8h0m9.1-19.4h0m17.4 34.8h0m-21.7-20h0m26-10.5h0m-30 26h0m6.5-19.3h0m-56.5 .6h0m43.7 17.8h0m4.8-34.5h0m61.7 14.4h0m-76.9-13.1h0m72.5 18.1h0m-73.7-14.3h0m68 33.4h0m-56.2-14.8h0m-51.2-7.7h0m83.2 12.8h0m-56.9-21.1h0m88.2 29.2h0m-89.8-3.6h0m35-3.8h0m1.1-11.8h0m-51.8 5.1h0m113.6-6h0m-70.9-15.6h0m-36.8 14h0m53.5 15.2h0m-18.7-1.8h0m-15.6-23.4h0m34.9 5.4h0m-28.4-6.1h0m24.9 13.4h0m26.9 5.4h0m.9-10.1h0m-22.2 .7h0m50.5 11.5h0m-35.3 1h0m-74.4-13.2h0m48-13.9h0m54.3 16.9h0m-16.9-12.7h0m20.9 23h0m-101.7-21.5h0m57.4 19.4h0m-77.2-4.1h0m41.8 1.6h0m71.2-7.9h0m-35.3 19h0m-6.1-23.2h0m-8 5.4h0m-35.2-8.4h0m46.8 25.1h0m-11.4 2.2h0m-18.9-1.4h0m34-25.9h0m-71.5 .4h0m43.1-2.1h0m-14 11.6h0m65.7-13.9h0m2.4 16.4h0m-80 3.5h0m34.3 10.1h0m42.4 1.1h0m-21-26.2h0m-72.1 .2h0m71.3 18.7h0m-57.1-9.1h0m60.1-6.3h0m-67.1-1.6h0m46 18.7h0m-17.8-24h0m28.1-.9h0m49.2 13.8h0m-79.7 19.7h0m10.3-23.3h0m68.4-.8h0m5.5-.1h0m-78.7 11h0m-14.5-5.5h0m76.2-8.9h0m-29.7 1.5h0m-16 20.2h0m-52.8-.1h0m61.6-22.7h0m-29 22.1h0m-23 4.3h0m33.4-22.6h0m-5.6 15.4h0m-15.5 2.1h0m72.6-1.8h0m5.1-19.4h0m-6.2 20.8h0m-30.1-1.6h0m34.2-8h0m-89.8 13.6h0m111.9-10.1h0m-65.3-20.5h0m39.8 33h0m-16.8-3.3h0m-16.4-29.5h0m32.3 .3h0m3.5 16.1h0m-76.1 21.8h0m70.3-8.4h0m23.2-19.1h0m-120.9 12.3h0m84.1-22.6h0m-36 27.9h0m-37.5-20.7h0m4.3-3.7h0m108.5 9.6h0m-27.2 5.2h0m-21-5.6h0m-54.1-4.6h0m-24.4 5.5h0m9.9-3.1h0m42.7 18.7h0m40.3-14.5h0m-64.4 12.1h0m58.9 4h0m36.7-17.2h0m-35-13.6h0m13.5 27.1h0m-81.4 1.8h0m84.5-14.5h0m-68.9 20h0m42-11.1h0m2.9 11.1h0m-53.7-23.7h0m49.9 6.5h0m-31.9-7.3h0m-3.9 14.4h0m18.9 0h0m-24.3-19.7h0m-12.5-2.7h0m-13.9 12.6h0m87.1 17.3h0m9.7 4h0m-38.7-7.7h0m31-2.5h0m-41.7-14.5h0m-16.6 24.6h0m57.1-35.3h0m-43.9 3.2h0m-21 8.3h0m42.1 17.4h0m-14.5-20.6h0m-3.3 12.1h0m34.1-19.7h0m-8.1-.6h0m-16.2 20h0m30.7-20.4h0m16.8 1.5h0m-2.3 3h0m-64.3 16.1h0m-33.4-10.3h0m15.7-6h0m11.5 30h0m68.3-.5h0m-85.5-5.5h0m-.7-10.8h0m-23.9 3.3h0m67.7-18.6h0m40.1 27.8h0m-92.1-15.7h0m24.2-9.4h0m41.2 16.3h0m-.9 13.3h0m45.2-27.2h0m-101 4.9h0m74.3 5.7h0m-23.5 1.5h0m-46.1 8.2h0m62.3-19.1h0m18.2-1.1h0m-60.1 13.4h0m-15.4-15.3h0m48.7 23.6h0m33.8-5.8h0m-106.4-16h0m95.2 19.8h0m-6.6 .1h0m-24.7-13.3h0m-9.1 19.1h0m21.7 1.4h0m23.8-7h0m-113-10.5h0m117.5 12.8h0m-6-3h0m17.3-16.2h0m-97-.5h0m16.8 15.1h0m-26.7-20.4h0m69.7-4.9h0m-79.1 20.2h0m114.7-11.3h0m-118.8 9.3h0m99.2 4.2h0m13.7-3.9h0m-56.5 9.5h0m65.5-6.4h0m-91 8h0m5.1-26.6h0m20.5 11.5h0m47.9 13.3h0m-50-16.1h0m62.6 6.9h0m-55.2 12.7h0m-1.6-5.6h0m15.8-16.7h0m18 .1h0m-27 11h0m13.5-16.2h0m-58 9.5h0m63.6-14.6h0m-69.9 39.5h0m26.9-24.4h0m-10.5 .1h0m35.8 4.5h0m27.5 11.8h0m-44.7-6.8h0m-25.5 11.3h0m15-13.3h0m34.7 6.9h0m-36.1-22.5h0m-.7 19.4h0m19.1-10.3h0m5.5 7.9h0m-41-2.3h0m36.8-9.4h0m-56.2 21.1h0m41-16h0m44.9 18.2h0m8.3-24.6h0m-55-7h0m27.4 3.7h0m26.2 15.2h0m-34.1 10.6h0m-43.9 3.8h0m81.3-6h0m-105-10.6h0m36.6 12.5h0m54.3 1.3h0m-89.2-25.7h0m88.3 21h0m-62.6-20.4h0m22.8-.3h0m55.4 19.5h0m-29.3-22.4h0m3.2 11.7h0m45.5-6.2h0m-65-6.9h0m-4.3 21.8h0m-17 10h0m4.7-25.1h0m-28.2 16.3h0m57.9-31.3h0m-37.8 36.1h0m-28.1-14.6h0m107.5-3.2h0m-21.7-4.9h0m32 9.1h0m-87.8-18.6h0m27.3 16.3h0m-20.3-10.1h0m29.8 17.9h0m-44.1 3.8h0m22.3-5.9h0m11.4-19h0m-33.6 14.2h0m-25.3-10.6h0m54.4 26.2h0m10.3-4.8h0m36.6-15.8h0m-48.1 5.6h0m12.8-10.1h0m24.4 4h0m6.2 15h0m-33.5-29h0m-6.6 9.6h0m-30.7 6.6h0m34.5 8.8h0m47.1 2.1h0m-82.9 11.5h0m35.3-15.7h0m24.9-5.3h0m-34.4-10.7h0m-16.3 28.2h0m-.8-5.4h0m52.9-6.2h0m-72.3-17.6h0m33 10.9h0m16.4 .9h0m-34.8 19.5h0m82.9-21.4h0m-21.3-1.5h0m32.2 8.7h0m-69.9-4.9h0m69.5 5.8h0m-42.2 7.6h0m34.1-9h0m-23.5 11.6h0m-77.9-19h0m82 9.8h0m-88.8-6.9h0m31.1 8h0m72.8-16.1h0m-89.2-.8h0m38.4 14.1h0m-41.6-19h0m79.7-1.2h0m-69.8 30.3h0m52.6-21.5h0m-27.2 11.1h0m30.6-14.8h0m-18.3 6.7h0m23-12.6h0m-90.1 13.3h0m42.4-5.8h0m5.2 12.8h0m15.9-6h0m33.4-5.3h0m-51.2-7.3h0m-36.1 7.8h0m87.9-7.8h0m-38.5 23.8h0m-40.3-21.8h0m9.8 13.6h0m7.9 4.9h0m45.9-16.1h0m-67.1 12.8h0m40.1 13.7h0m49-5.8h0m-20.3-13.9h0m8 4.3h0m-87 2.1h0m43.2-12.2h0m-46.8 .9h0m16.6-3.9h0m14.2 27.8h0m-10.1-27.9h0m103.5 14.4h0m-105 8.3h0m37.7-9.7h0m-40.9 3.5h0m30.2-18.3h0m26.2 24.2h0m-11-23h0m-44.5-2.1h0m55.6-2.3h0m23.2 29.3h0m16.7-3.4h0m-33.9 2.9h0m38.6-17.1h0m-90.1-9.9h0m48.9 10.4h0m11.9-13.2h0m-59.9 25.6h0m-2.8 13.4h0m24.3-2.9h0m-3-16h0m33.8-20.6h0m-5.2 22.4h0m-8.3-18.9h0m-3 10.8h0m-5.6 1.6h0m-27.8-12.6h0m2.7 27.7h0m9-16.6h0m-28.5 4.9h0m72.3 12.1h0m18.8-13.8h0m-105.7-7.4h0m76.8 16.1h0m25.5 7.5h0m-72.5-30.2h0m79.3 15h0m-30 10.2h0m-14.1-24.9h0m20.2 25.4h0m-63.4-4.3h0m-2.7-2.8h0m8.3 14.7h0m-12.1-24.9h0m49.5-8.7h0m13.4 28.7h0m4.8-25.9h0m-12.8 12h0m-24.1-9.6h0m45 4.5h0m6.5-7.4h0m-45.7 4.1h0m65.2-1.5h0m-9.3 26.3h0m-20.2-26.1h0m-26.7 23h0m8.1-4.1h0m45.8-20.8h0m-108.2-2.1h0m12.1 27.3h0m8.4 2.5h0m44-12.3h0m-46.7 14.8h0m3.9-19.8h0m7.1 9.6h0m35.5-9.2h0m-15.6-9.7h0m-21.4 20h0m30.4-28.2h0m-16.2 31.6h0m-10.1-23.4h0m-6.7 2.5h0m24.8 21.4h0m-16-26.6h0m-1.7 14.1h0m-10.7 19.7h0m71.9-23.6h0m-43.2-1.9h0m17.5-1.6h0m-61.5 15h0m43.4-9.6h0m-53.5-4.7h0m110.3 6.8h0m-101.1 .9h0m88.1-3.4h0m-52.6-16.4h0m55.6 31.5h0m-57.6-18.5h0m73.5 3.9h0m-109.9 18.4h0m48.5-17.8h0m45.7-8.2h0m-20.4 27.8h0m-48.1-.4h0m5.6-13.7h0m-31.1-16.9h0m61.5 19h0m-31.2-16.9h0m19.9-5h0m10.5 0h0m-64 8.1h0m50.9-8.9h0m38.4 7.4h0m1.9-6.6h0m7.9 12.3h0m-94.1 15h0m89.2-28.3h0m-97.5 28.5h0m18.9-11.2h0m63.8 3.9h0m-51.3 10.4h0m38.9-13.3h0m-55-3.8h0m31.9 14.3h0m53-.8h0m-57.2 7.6h0m80.6-13.4h0m-121.7 1.3h0m3.1-10.1h0m96.5 0h0m-.4 .3h0m-18-13.6h0m-26.3 16.8h0m9.9 6.8h0m-62.9-12.9h0m85-2h0m16.6 8.9h0m-59.7 9.7h0m-13.9-9.2h0m-24.9 18.1h0m-11-16.6h0m99.6 18.1h0m5.3-32.3h0m-.6 11.2h0m-80.6-1.3h0m44.8 4.4h0m-12.7 8h0m-50.9-7.3h0m114.3 8.6h0m-99.6-8.7h0m-11 13.8h0m11.4-3.3h0m105.7-5h0m-10.4 3.1h0m-83.8 6.2h0m2.6-11.6h0m76 7.7h0m16.4-13.5h0m-23.5 .2h0m-24.4 15.2h0m-32.6-15.5h0m-12.4-13.4h0m86 5.5h0m-95.4 2.2h0m93.1-3.5h0m-17.8 20.5h0m-85.4-24.1h0m17.2-2.1h0m41.3 7.7h0m-10.6-1.6h0m-43.6 15.9h0m-9.4 8.3h0m101-30.4h0m-62.5 4.4h0m-1.3-7.6h0m76.8 30.3h0m-74-31.6h0m-32.4 32.7h0m61-12.7h0m47.1 6.8h0m-88.2-26.2h0m11.8 34.6h0m62-18.8h0m-27.5-2.4h0m-15.9 17.5h0m-63.4-23.7h0m54.9-5.1h0m61.7 19.9h0m-33.1-3.7h0m14 11.8h0m-23.6 1.2h0m20.3-17.1h0m-67.5 4h0m80.4-13.6h0m-76.8 15.1h0m-5.1 17.2h0m11-23.6h0m18.9 5.3h0m9.5-21.6h0m-15.8 11.9h0m42.8 30.5h0m-77.7-30.8h0m33.5 24.1h0m11.4-35.3h0m-49.6 9.4h0m91 4.1h0m-91-.7h0m27 10.4h0m18.5-4.5h0m11.5-19.7h0m25.9 9.6h0m-6.1 6.2h0m-35.1 17h0m39.5-14.6h0m18.5-9.7h0m-74.8 14.9h0m76.2 .9h0m-84.4 11.7h0m70.4-28.9h0m-28 23.1h0m-41.7-16.2h0m-22.9-2.3h0m84.7 6.1h0m-33.6-8.2h0m-12.4 25.8h0m26.6-24.7h0m17.7 29.5h0m-37.9-26.7h0m-20.7 .5h0m77.5-2.7h0m-21.3 7.5h0m6 15.9h0m12.5-14.6h0m-103.1 .9h0m117.1 7.3h0m-118.9-2.9h0m43.1 7h0m-20.1 1.3h0m68.4-1.3h0m-1.6-21h0m.7-7.7h0m2.3 33.2h0m16.5 2.8h0m-105.8-27.7h0m15.2 22.5h0m-9 5.9h0m21.6-20.6h0m-27.5 3.7h0m54.6-7.1h0m8.8-11.8h0m61.5 18.4h0m-62.2-22.5h0m-50.1 10.7h0m65.8 13.8h0m-78.4 11.6h0m112.9-4.4h0m-35.9 8.1h0m11.3-24.6h0m-31.8-9.1h0m-34.2 3.4h0m28.2 5.4h0m-17.7 10.3h0m-29.6 2.6h0m54.1 .3h0m-57.9-.9h0m1.1-18.9h0m109.6 18.1h0m-31.2 2.1h0m12.6-11h0m-28.8-5h0m15.4 23.6h0m-54.9-31.9h0m30.3 .6h0m-8.9 .5h0m10.3 27.8h0m-20.4-25.1h0m54.5 6.5h0m-91.6 19.5h0m54.5-33h0m46.8 27.2h0m-69.5-16.2h0m86.4 18h0m-86.4 5.4h0m-7.6-12.5h0m83.8-13.8h0m-5.4 1.8h0m-63.4 17.7h0m60.9-18h0m-13.2 6.3h0m-79.3-8.7h0m81.8 4.1h0m36.4 10.2h0m-30.1-10.6h0m-49.1-3.6h0m38 27.7h0m16.5-12.5h0m-55.6 .6h0m34.8 12.5h0m-23.4-2.6h0m60.1-2.5h0m-42-22.5h0m-42-2.1h0m30.3 4.5h0m.6 3.2h0m45-2.5h0m-19-8.1h0m-6.5-1.4h0m-23.2 19.1h0m8.4 4h0m45.6 1.6h0m-43.1-25.4h0m-70.8 17.5h0m89.9-11.6h0m-34.6 25.7h0m65.4-13.5h0m-58.5-2.2h0m-38.8-8h0m64.9 10.9h0m-41.5-1h0m-16.2 6.7h0m12-5.9h0m37.3 13h0m9.5-25.3h0m-62 27.4h0m57-14.9h0m23.9 19.5h0m-30-24.4h0m15.5 19h0m-43.6-26.8h0m28.8 2.8h0m-4.1 19.6h0m-19.4-8.5h0m35.3-3.6h0m-15.2 .9h0m-18.1-.7h0m-41.3 7.7h0m70.6-15.6h0m-50.2 .7h0m83.2 20.1h0m-13.3 3.5h0m-59.9 3.6h0m34.9-6.8h0m-36.4-2.8h0m-11.7 7.1h0m72.2-2.4h0m-26.8 8.1h0m15.2-37.4h0m26 30.7h0m-122.1-20.8h0m18.6 12.5h0m30.7 10.8h0m-7.8-11.6h0m68.9-9.7h0m9.2 10.3h0m-120.9-7.3h0m73 19.2h0m-55.8-7.8h0m4-15.6h0m74.8 17.7h0m-62 .5h0m43.3-6.4h0m34.4-5.2h0m-2.4-10.8h0m-13.9 23.5h0m-63.6-22.5h0m-12.4 16.2h0m93.1-12.4h0m15.3 10.7h0m-106.2-19.7h0m60.9 26.7h0m-40.6-3.9h0m-26.8 8h0m111.1-20.7h0m-121.9 16.7h0m63.7 7.4h0m16.6-5.2h0m-2.8-5.5h0m12.9 9h0m-42-7.3h0m26.9-11.4h0m-53.4 12.9h0m30 0h0m20.3-17.8h0m8.9 24.4h0m-50.8-21.2h0m8.7 16.3h0m65.6-12.5h0m-48.1 10.9h0m-51.3-15.1h0m74.5 .4h0m-63.3 1.7h0m8.3-3.2h0m92.5-4.1h0m-107.2 13h0m-6.3 1.5h0m47.9-19h0m35.8 4.4h0m4.9-.6h0m-2.5-.5h0m-25 .7h0m46.9 3.7h0m-103 4.7h0m84.4 16.4h0m-94.9-9.7h0m114-19.8h0m-43.6 .5h0m-30.6 13.5h0m-6.6 17.6h0m30.4-21.8h0m11.8-10.5h0m23.9 28.3h0m-95.7-2.4h0m22.4-5.2h0m52.8 7.9h0m2-24.2h0m2.5-2.2h0m29.7 1.6h0m-61.3 17.6h0m15.1-16.9h0m8.2 18.3h0m-58.1-8.2h0m57.5 9.3h0m-65.8-8.1h0m77.3-19h0m-37.3 18.3h0m39.9 1h0m-90.1-9.5h0m113 6h0m-88.6-15.6h0m27.3 15h0m15.5 18.4h0m-27.9-2.8h0m76.3-27.3h0m-3.2 4.8h0m-84 17.9h0m-10.8 3.9h0m12 3.3h0m-.2-6.1h0m43.4-2h0m7.5-1.4h0m2-24.6h0m28.4 20.7h0m-92.8 6.5h0m76.7-.8h0m-20.6-13.7h0m-32.5 24.1h0m68.2-21.2h0m7.3 3.7h0m-47.2-15.4h0m-35.8 31.6h0m48.3-29.8h0m-17.6 24.4h0m-32.2 .5h0m20.8 0h0m-17 6.5h0m-2.9-34.9h0m-2.2 5.6h0m17.6-6h0m-41.2 17.7h0m117.1 7.2h0m-70-25.8h0m21.8 33.5h0m29.8-15.7h0m-47.8-1h0m20.8 15.3h0m-51.7-15.7h0m60.4 21.4h0m-36-26.8h0m-3.8-5.5h0m-28.8 17.1h0m35.1 10.9h0m-18.5-12h0m75.9 2.3h0m-111.2-10.9h0m102-11h0m-41.8 29.1h0m-39.4-26.7h0m.3 6h0m75.2 21.8h0m-62.4-6.5h0m4.8-10.6h0m47.6 19.8h0m-33.5-26.6h0m27.8 3.9h0m-34.5-3.1h0m14.8 15.1h0m40.3 .3h0m-99.9-14.5h0m2.9 20.4h0m79.1-33.5h0m-41.9 14.1h0m49 23.8h0m-77.9-27.6h0m-2.6 13.2h0m100 0h0m1.4-15.4h0m-84.4 17h0m55.6 0h0m-70.4 13.8h0m60.2-11.2h0m-35.1 3.1h0m18.6-5.8h0m-28.1-15.6h0m40 16.9h0m-20-11.8h0m-49.5 9.9h0m42.4 13.5h0m-10-23.7h0m61-9.7h0m11.6 21.7h0m-94.2-.9h0m8.5 15.5h0m61.5-34.6h0m-44 21.8h0m.5-18.3h0m-23.2 21.5h0m62.4-3.2h0m-64 1.4h0m9.2-24.4h0m107.6 21.5h0m-30.9 .5h0m-8.8-6.9h0m10.8-.1h0m-21.9-4h0m-49.9-12.6h0m-4.5 27.5h0m18.8-15.6h0m-39.7 10.6h0m122.9-7.7h0m-83-12.2h0m-18.4 20.2h0m39.1-14.2h0m-26.5-1.9h0m54.7 18.5h0m-78-22.6h0m-8.5 2.4h0m37.6 6.4h0m-34.2 22.5h0m12.7-16.2h0m-3.7-6.3h0m68.8 25.3h0m-26.4-31.4h0m20.1-.2h0m-12.4 15.6h0m-27.9-.3h0m-17.3-11.9h0m52.9 11.9h0m44.1-1.6h0m-54.4-17.3h0m-16.6 12.1h0m-21.5 12.5h0m83.1-9.6h0m-51.8 15.5h0m24.6 5.5h0m-51-12.5h0m68.8-4.2h0m-50 13.9h0m-13.1-10.9h0m82.3-1.7h0m-14.7-21h0m-35 27.1h0m-40.2-14.2h0m52.1-10.1h0m-60.7 30.9h0m91.9-25.3h0m-42.5-1.4h0m48.8 3.4h0m-28.7 12.1h0m-25.7 1.2h0m-36.3-5h0m47.6-12.4h0m-14-4.7h0m-32.3 30.4h0m57.1-10.9h0m16.4-11.1h0m-64.7-8.4h0m68.1 26.1h0m-2.6-7.1h0m12.4-8.6h0m-29.1 20h0m-63.8-16.2h0m2.1 19.6h0m-.7-36.8h0m-14 33.1h0m46.9-26.9h0m-33.1-2.6h0m27.9-3.3h0m4.5 25.8h0m-45.4 4.3h0m-5.7-20.9h0m4.4 10.7h0m112.6 5.9h0m-74.5 1h0m23.3-5.1h0m-29.7-6.1h0m48.7 3.1h0m-27.7-18.9h0m-45.1 14.8h0m37.9 9.3h0m-3.6-18.6h0m39 .9h0m-16.7 25.2h0m6.5-12.3h0m12.3 2.2h0m-87-11.2h0m47.2-3.3h0m30.2 11.2h0m-23.7 11.9h0m43.1-12.7h0m-88.2 12.5h0m11.1-16h0m49-14.2h0m-37.7 30.3h0m46.9-2.4h0m29-5h0m-7.4-14.2h0m22.3 14.3h0m-64.3-2.5h0m-15.3-21.8h0m-32 25.2h0m58.1 3h0m31-15h0m-39.5 15.6h0m52.7-.4h0m-109.2-2.9h0m-.4-21.4h0m100.2 34.1h0m4.1-3.6h0m-23.8-25.2h0m-27.9 6h0m39.3 23.1h0m-14.6-1.9h0m-8.6-18.6h0m-54.7 4.2h0m13.8-16.6h0m15.6 3.6h0m10.9 22h0m-16.3-14.6h0m38 2h0m-56.4-14.6h0m.6 1h0m-6.5 15.4h0m67.3-16.3h0m8.1 19.3h0m21.3 .4h0m-95.6-2.8h0m-15.5 5h0m84 3.5h0m-22 1.4h0m-61.8-20.1h0m32.3 26.4h0m-9.9-35h0m83.7 9.9h0m-39 15.4h0m-13.8-13.5h0m8.3-2.5h0m12.7-5.1h0m36.6 26.6h0m-83-5.6h0m-18.7-12.9h0m104.9 12.8h0m-93.2-25.5h0m26.6 16.7h0m-46.3-10.6h0m65.4 21.4h0m-63.3-9.6h0m79.3-.2h0m-84.1 4h0m27.4-3h0m47.9 11.1h0m3.2-13.7h0m9.2 18.6h0m-12.6-27.6h0m31.6 3.1h0m-86.5 10.9h0m43.8 9.3h0m-64.9-19.4h0m96.5 7.6h0m16.5 15.4h0m-101.1 1h0m-8.3-18.8h0m27.2-7.9h0m18.4 10.3h0m21.7-19.1h0m-10.8 28.3h0m38.3-26.4h0m-40.3 19.8h0m32.1-20.9h0m-16.6 20.7h0m-43.1 6.7h0m21.5-17.7h0m18.2 6.4h0m9.1 3.7h0m-49.8 8h0m6.5-30.5h0m33.8 19.4h0m8.7-9.9h0m-66.4 19.8h0m20.8-25.2h0m72.4 23.6h0m-27.9-7.9h0m-15.8 16.2h0m-62.5-9.6h0m111-2.7h0m-66-15.1h0m58 14.1h0m-1.7 8.6h0m-17.9-20.9h0m37.1 2.8h0m-37.4 15.3h0m-18.4-29.8h0m3.4 30.5h0m-18.8-8.5h0m-.2-2.6h0m-5.2-5.5h0m71.2 1.4h0m-96.1 24.2h0m81.1-18.5h0m-66.6-7.3h0m-.7-9.5h0m6.7 6.2h0m7.9 1.8h0m-7.9-1.3h0m71.7 9.3h0m-90.6-13.5h0m47.6-1.2h0m-31.4 11.8h0m-20.2 9.4h0m92.8-15.4h0m-57.2 6.4h0m-21.5 14.3h0m48.3-27.6h0m-41.7 18.8h0m78-7.5h0m-94.4 16.3h0m20.1-16.1h0m40.9-.4h0m-46.4 23.6h0m-16.4 1.6h0m100.5-12.1h0m-8.2 7.1h0m-68.1 2.7h0m49.8-27.1h0m-1.9-5.1h0m7.5 27.3h0m-21.5 7.2h0m-30.5-35.9h0m-21.3 5.2h0m76.4 .7h0m-17.1 9.5h0m-16.8 6.8h0m23.1-4.1h0m-20.9-13.2h0m-35.2 10.1h0m54-5.8h0m26.7-1.4h0m-17.8 9.3h0m-32.5 4.4h0m-33.6-11.1h0m77.3 23.2h0m-37-4.2h0m-71-1.7h0m12.2 3.2h0m13.9-30.5h0m-16.2 10.9h0m56.4 11.1h0m-35.6 1.3h0m64.1-6h0m-30.7 4.9h0m41-19.3h0m-23.9-4.7h0m16.5 32.7h0m-88.7-21.3h0m24.8 22.1h0m2.3-13.4h0m-5 5.9h0m28.3-20.3h0m52.8 24.9h0m-50.8 3.6h0m29.4-18.8h0m-63.3 6.7h0m46.1 .6h0m18.8-20.1h0m-96.2 23h0m10.2 10.7h0m-7.2-25h0m113.6-.3h0m-29.7 8.1h0m8.3 17.8h0m20.1-21.3h0m-2.4-.9h0m-107.8 6.6h0m23.2-9.4h0m68.6-2.5h0m-40.3 10.5h0m6.3-.9h0m55.1 10.6h0m-54-20.3h0m52.9 20.9h0m-33.3-27.5h0m-12 6.8h0m-9.3-3.7h0m40 11.3h0m-12.8-4.2h0m-59.7 17.4h0m38.2-27h0m-16.4 17.2h0m-48.4 10.9h0m-3.8-12h0m74.6-13.2h0m7 29.2h0m27.1-20.9h0m-61.7-8.9h0m42.8 .7h0m-43.3-6.5h0m7.3 24.1h0m47-18.4h0m-9.9 5h0m-40.4 .7h0m-6.9-6.7h0m68.5 16.8h0m-90.3-13.9h0m-8.1 23.3h0m48.6-18.7h0m1.7-10.5h0m8.6 15.9h0m38-7.5h0m-43.6 1.1h0m-69.4 5.2h0m128.1 1.5h0m-89.5 5.3h0m16.1-4.2h0m57.8-5.3h0m-64.8 20.5h0m-15-7.1h0m20.1-8.6h0m52.5-3.8h0m-55.1-15.2h0m34 12.9h0m10.8 3.2h0m-69.6-3.7h0m83.2 .3h0m-76.8 9.5h0m25.8 2.2h0m-22.9-17.7h0m66.4 3.8h0m-71.6 23.8h0m25.4-18.2h0m-23.1 10h0m26.9-18.2h0m31.2 26.5h0m-79.9-19.7h0m3 15.3h0m17.1 .7h0m70.6-.9h0m11.8-17.2h0m-58.4-7.7h0m-49.8 10.1h0m56.4 17.2h0m60.2-.9h0m-52.7-4.2h0m-54.8-19.1h0m50.2 4.8h0m-16.8-9.9h0m42.9 16.3h0m-8.8-4.8h0m-19.9-9.2h0m36.7 27.9h0m-87.2-28h0m-8.2 25.3h0m29.4 7.7h0m96.5-16.3h0m-59.3-10.3h0m49.1 13.9h0m-14.1-1.7h0m-23.4-19.8h0m-44 4.3h0m-12 12.3h0m1.2 19.8h0m76-19.3h0m-76.5-3.4h0m69.1 4.4h0m-17-6.3h0m4.1-2.9h0m18.1 22.3h0m-18.6-30.5h0m-3.4 1.8h0m28 22.6h0m-72.8-1.5h0m70.1 1.5h0m1.6-16.1h0m-88.4-5.1h0m2.9 4.9h0m45.4-7.6h0m-21.8-.2h0m-41.9 17.2h0m30.9-17h0m-10.5 20h0m78.6-.7h0m-83.2-8.4h0m25.5-4.4h0m39.2 25.8h0m-11.3-22.3h0m-32.8 16.3h0m-7.6-20.9h0m86.4 6.2h0m-36.8 0h0m-63.1 7h0m60.6-5.9h0m-11.4-18.8h0m-51.7 26.6h0m87.9 13.1h0m18.1-5.7h0m-85-17.1h0m-15.9 18.4h0m38.6-9.1h0m26.4-14.2h0m-37.8 12.8h0m27.2-12.1h0m-43.8 .3h0m23.7 12.1h0m22.2 6.8h0m-4.7-24.3h0m-66.5 19.8h0m125.3-4.9h0m-85.8 2.9h0m-3.5-15.6h0m-42.4 9.9h0m74.5-.5h0m-8.8-7.6h0m7.7-2h0m-70.6 16.1h0m17.4 3.6h0m46.9-30.5h0m-31.1 4.3h0m52.7 36.1h0m-53.2-36.1h0m77.8 22.1h0m-58.6-27.4h0m12.6 9.3h0m34.3 21.7h0m-81.6 1.7h0m109.5-7.9h0m-122-14.7h0m101.5 25.9h0m-92.3-4.7h0m21.1-5.9h0m-16.4-6.2h0m-5-6.4h0m52.8 4.4h0m7.3-13.2h0m-26.4 24.8h0m30.1 9.2h0m-75.6-8.7h0m38.9-20.8h0m-25.3 14.9h0m67.2 6.7h0m-3.3-9.9h0m-44.6-9.1h0m4.9 20.5h0m41.1 6.3h0m-54.7 3.8h0m61.3-27.1h0m-27.9-8.2h0m.8 11.4h0m21.5 21.3h0m-69.8-21.7h0m86.9-.2h0m-3.6 8.7h0m-21.4-18.8h0m33 21.7h0m-42.7-12h0m21.9-9.4h0m-83.7 24.8h0m49.5 .4h0m-15.7-.6h0m38.7-13.3h0m-14.2 7.3h0m-58.3-4h0m109.3-1.6h0m-90.8 8.2h0m-1.4-18.2h0m37.2 25.9h0m32.4-2.2h0m-25.2-10.1h0m44.1 1.4h0m-25.6-13.9h0m-37.4 27.2h0m64.4-27.1h0m-70.9 15.9h0m62.2-12.9h0m-101.8 8.9h0m91.8-19h0m-80.8 10.7h0m-7.5 4h0m110.9-3h0m-112 6h0m29.1 .2h0m36.7-22h0m-6.4 32.4h0m-21.6-8.4h0m48-21.6h0m18.9 34.4h0m-7.4-23.7h0m-63.2 16.2h0m-8.6 9.7h0m15.5-10.9h0m44.7-23.9h0m-47.3 31.3h0m-13.8 1.7h0m76.2-15.6h0m-25.8 6.5h0m-35 2.6h0m84.7-5.3h0m-92.6-7.2h0m47.6 6.4h0m-49.3-17h0m65.2-2.2h0m-78 1.1h0m9.3 3.8h0m12.7 15.5h0m72.1-14.8h0m-81.2-1.2h0m-25.9 17.7h0m43.8-8.7h0m-12 2h0m-34.5-6.1h0m56.6 8.9h0m52.1-7.4h0m-40.5-6.5h0m32.3 17.9h0m-27.8-21.9h0m-63 17.8h0m7.7-.5h0m-5.3-12.4h0m71 23.8h0m-19.9 3.2h0m32-22.2h0m-30.1-5.5h0m27.3 13h0m-67.2-9.7h0m65.6 19.8h0m-58 3.6h0m20.8-13.6h0m-26.5-3.2h0m49.4-12h0m-21.4 8.8h0m24-13.7h0m-15.2 10.8h0m-36.2 25.7h0m82.3-16.8h0m-31.8 14.8h0m-75.4-5.3h0m81.6-19.8h0m10.8 25.3h0m-62.6 2.3h0m31.5-11.4h0m-3.1-21.6h0m12 28.1h0m15.7-28.5h0m-76.3 22.7h0m79.3 3.8h0m-57.1-8.8h0m25.9-3.1h0m31.7-4.3h0m-59.3-6.5h0m-10.3 .4h0m77-4.2h0m-65.6 30.3h0m73.2 4.6h0m-65.3-18.8h0m22.7-2.2h0m58.5 10.2h0m-2.5-2.8h0m-90.6-7.8h0m-26.2 17.5h0m96.8-11.5h0m-7-7h0m-38 13.4h0m0-25.7h0m-9.7-2.1h0m27.7 4.7h0m-41.9 32h0m12.3-27.3h0m-3.1 10.5h0m44.5-8.1h0m16.4 17.9h0m-8.2 3.6h0m-46.2-12.7h0m27.2-5.4h0m-35.1 15.6h0m44 3.4h0m29.8-21.7h0m-4.6 4.2h0m-60.2 .1h0m61.4 11.2h0m-69.8-18h0m-5.5 0h0m10.7-11.3h0m-44.8 15.4h0m28.4 5.2h0m87.7 3.8h0m-29.3-13.2h0m4 20h0m8.6-14.7h0m-36.9-6.2h0m11 15.6h0m-67.3-2.4h0m4.5-6.9h0m24.8-16.8h0m-41.9 19.3h0m40.9-15.4h0m7 25.2h0m-34.5 6.4h0m4-9.8h0m45.7-26.2h0m1.8-.6h0m-12.3 19.7h0m-13.7 6h0m-4.8 2.6h0m-13.4 5.7h0m94.4-25.1h0m-78-.3h0m19 3.1h0m-18.3-8.8h0m54.7 15h0m-40.8 13h0m-11.6-5.1h0m23.4-23h0m1.1 22.3h0m32.7 4.1h0m-81.2-5.5h0m94.5-9.1h0m-66 2.1h0m-10.4-14h0m-6.7 7.2h0m55.1 7.3h0m8.7-4.5h0m-27.5 22h0m34.2-14.5h0m11.8-1.6h0m-6.9 19.2h0m13.8-4.5h0m-83.4-28h0m-14-.6h0m-10.3 28.5h0m72.3-30.7h0m-40.4 .1h0m-31.3 23h0m23.6-4.5h0m-6.5-5.6h0m36.9 2.1h0m26.7-1.1h0m26.4-7.3h0m-3.9 22.4h0m-71.2-28.2h0m-28.3 22h0m48.9-20.9h0m-13.4 16.3h0m3.5-20.5h0m-50.7 23h0m97.9-10.2h0m-18 16.4h0m-80.8-11.3h0m44.8 12.7h0m59.9 .9h0m24.4-7.6h0m-11.3 3.8h0m-91.6 3.8h0m73.2-21.8h0m-68.5 27.7h0m73.1 2.4h0m-64.9-16.3h0m38.4-4h0m-29.7-15.5h0m21.5 5.4h0m10.5 26.3h0m-72.3-11.3h0m21.8-7.1h0m-11.8 14.6h0m63-19.9h0m-1.5 6.8h0m-68.1-6.5h0m50.3 14.4h0m-4.6-10.2h0m14.8-10.1h0m-68.8 23.7h0m87-23.4h0m-22.8 27.7h0m13.5-24.4h0m14.3 17.1h0m-16.8-3.4h0m-21.4-22.9h0m-40.4 21.2h0m63.8 16.1h0m23.7-20.6h0m-85.8 14.7h0m25.4-16.4h0m5 10.1h0m-12.3 5.8h0m72.6-10.6h0m9.1 12.4h0m-97.6 4h0m73.1-20.3h0m-59-.9h0m32.5-15.6h0m20.7 21.7h0m-4.7-.3h0m-15.6 0h0m16.1 10.6h0m-39.8-15.1h0m17.6-16.6h0m-25.5 9.3h0m-11.1 23.2h0m63.6-26.9h0m-28.4 9.5h0m5.9-4h0m-45.5-2.9h0m75.8 3.3h0m-47.4-3.3h0m-24 24.3h0m42.2-1.3h0m54.4 2.9h0m-32.3 3.4h0m-67.4-17.6h0m11.9 7.2h0m58.8 .1h0m-18.8-15.8h0m-15.8-11.7h0m-24.6 22.7h0m5.3 8.5h0m65.9 5.4h0m-62.1-8.7h0m83.3-18.1h0m-55.7-4.6h0m-28.3 25.9h0m-27.5-26.1h0m78.9 19.1h0m-12.9-19.6h0m-64.5 9.1h0m89 17.7h0m-5.4-1.5h0m-46-15.4h0m41 1.6h0m-81.1 17.1h0m22.1-24.6h0m93.1 3.7h0m-38.3-4.7h0m-81.2 27.5h0m89.5-9.5h0m10.7-3.7h0m-64 14.7h0m-26.1-32.4h0m-1.7 2.3h0m19.8 13.7h0m-10.1-5.6h0m4.2 10.3h0m59.4 11.2h0m-6.3-26.5h0m6.2 .4h0m-7.1-9.2h0m-26.4-.1h0m-16 11.8h0m21.3-8.7h0m10.3 11.1h0m-54.7 2.6h0m91.1-10.7h0m-105.6 20.9h0m16.2-2.3h0m18.3 2.3h0m-32.1-2.2h0m97.6-10.5h0m-1.6 13.9h0m-40.7-2.1h0m69.3-4.9h0m-64.3-5.4h0m-47.8 3h0m40.6-12.1h0m35.4-3.9h0m-37.5 25.3h0m0-1.3h0m17.5-8.2h0m-52.6-5.9h0m-17.6 14.5h0m99.4-14h0m-68.4 17.1h0m9.2-5.1h0m-34.8-2.1h0m91.4-3.7h0m17.6 5.6h0m-25.9-11.7h0m-16.2 9.1h0m-54.6-.8h0m4.4-5.5h0m72.1-.7h0m-87.9-6.6h0m36.4 15.7h0m-15.8-11.3h0m84.1-10.4h0m-115.5 17.4h0m92.3-5h0m5.1 9.3h0m-79.2-12h0m69-6.4h0m-24.7-2.9h0m-18.4 3.6h0m-18.1-6.7h0m79.9 11.9h0m-80.9 1h0m9.1-5.9h0m-7.3-4.6h0m65 13.7h0m-34 2.9h0m65.2 2.2h0m-69.6 1.2h0m52.4 15.5h0m-58.5-38.3h0m76.6 31.4h0m-56.8-23.2h0m-30.3 4h0m-17.8 7.4h0m82.9 4h0m-90.5-2.9h0m84.9 2.3h0m-20.9-5.6h0m-12.6 4.5h0m30.5 14.3h0m-3.3-6.9h0m-19.8-1.5h0m40.4 6.4h0m-22.2-16.1h0m35.3 5.4h0m-70.1-6.3h0m69.6 1.6h0m-65.1-16.6h0m-56.1 16.6h0m118.4 6.8h0m-56.3-21.4h0m-15.5-2.2h0m51.4 25.1h0m-62.4 1.5h0m38.2 4.3h0m-.6-22.9h0m-17.5-1.1h0m-49.8 20.6h0m8 4.7h0m29-25h0m-12.3-8.3h0m17.7 33.1h0m26.6-4.5h0m26.5-8.2h0m-73.9-.7h0m35.3-14.4h0m48.5 19.7h0m-.8-10.5h0m-12.1-9.5h0m-71.6 31.6h0m2.3-31.8h0m57.5-2.1h0m-59.3 11h0m70.3 1.5h0m-63.7-9.2h0m25.7-9.1h0m-28.1 32.7h0m20-1.9h0m69.6-10.7h0m-72.1-9.8h0m-10.3-6.5h0m-17.2 7.2h0m61.7 23.6h0m32.1-17.4h0m-56.1-13.2h0m17.1 0h0m-57.4 20h0m100.3-4.5h0m-23-4.3h0m29.8 3h0m-100.9-.3h0m15.7-15.3h0m-11.7 15.1h0m52-1.9h0m-20.7 17.9h0m40.3 .4h0m-60.8-32.5h0m22.6 15.4h0m-46.6 12h0m18.8-11.2h0m58.4-11.6h0m25.9 30.7h0m-99.8-17h0m64.6-7h0m-58.9-3.8h0m7.1-2.4h0m-1.2 28.6h0m78-15.8h0m-2.9-1.1h0m-57.5 10.2h0m42.2-17.1h0m28.2 9.3h0m-103.9 12.8h0m86.8 2.7h0m-2.1-4.8h0m-58.4-15.1h0m36.7 22.6h0m-57.5-31.7h0m69.1-2h0m-21.9 25.3h0m-57.5-13.8h0m103.2-2.3h0m-13.1 13.2h0m-39.8-14.4h0m2-4.4h0m1 16.8h0m11.8-22.4h0m-15.6 6.3h0m-47.5 12h0m-1.3-5.2h0m55.9 9.5h0m-65.7-3.6h0m51.1-3.3h0m6.1 15.5h0m-41.8-23.8h0m-3.9 9.2h0m97.2 6.5h0m-59.2-25.4h0m-18.4 16.4h0m21.3-2.5h0m16.7-6h0m-20 13.4h0m28.4 10.1h0m2.2-13.9h0m42.9 2.1h0m-69.5-17.2h0m17.9 26.1h0m-7-24.7h0m-32.7 17.3h0m67-12.1h0m-5.2 12.9h0m-52-8.4h0m13.7 9.7h0m-21.6-1.1h0m23.5-10.8h0m-45.5 14.8h0m91.9-24.4h0m-60.8 4.5h0m-42.6 17.2h0m126 .4h0m-119.7-6h0m91-15.7h0m-77.7 18.5h0m31.9-7.2h0m26.1 9.7h0m50.2-.6h0m-115.1 15.2h0m67.1-9.6h0m-15-24.7h0m-1.9 22.4h0m-18.8-1.6h0m3.4-15.4h0m3.4 22h0m13.7-3.3h0m43 4.6h0m-101.9-9.6h0m69.6 5h0m-12.3-28.1h0m36.3 10.4h0m-25.9 4.7h0m-69-2.9h0m35.1-12.2h0m-.5 36.4h0m70.9-13.7h0m-36.9-23.3h0m2.5 20.1h0m11.2-10.1h0m-17.6 3.4h0m-17.7-1.9h0m-48.9 13.9h0m116.9-12.1h0m4.5 16.1h0m-7.3-18.4h0m-32.2-9.8h0m-37.6 21.4h0m8.8 12.4h0m16.6-26.1h0m-61.8 5.1h0m88.8 10.2h0m-71.6-2.7h0m71.8 9.7h0m-47-1h0m1.2-27.2h0m-13.9 25.9h0m-25.5-1.7h0m51.1-16.1h0m4.9 10.8h0m17.9-4.9h0m23.1 7.9h0m-75.9 9.8h0m70.9-15.6h0m-35.3-16.8h0m-62.3 30.8h0m8.3-2.7h0m67.4-28.1h0m-31.2 19.3h0m67.3-4.9h0m-43.4 4.4h0m27.3-3.2h0m15.8-7.2h0m-102.7 21h0m55.5-32.5h0m-42.1 27.1h0m.2-23.7h0m64.5 21.9h0m-13.2 2.1h0m-1.1 3.6h0m-44.6 6h0m29.2-2.7h0m-8.2-2.8h0m-45.8 2h0m15-9.9h0m54.6-13.4h0m32.2 16.6h0m-84.2-12.4h0m36.7-4.4h0m54.4 16.9h0m-118.1 1.1h0m56.4 8.6h0m-20-20.5h0m68.2 23.9h0m-75.5-21.4h0m78-9.6h0m-50.1-3.4h0m6.2 30.3h0m12.4-2.3h0m32.7-6.5h0m-73.1-24.1h0m51.6 25.4h0m-54.7-19.7h0m-23.5 25.7h0m13.9-16h0m15.6 10h0m-32.7-.3h0m92.3 1.9h0m-29.1 4.9h0m-19.6 1.5h0m39.2-12h0m19.8 4h0m-104.5-18.2h0m101.4-4.7h0m-39.6 21.2h0m-35.4 10.5h0m-22.9-.8h0m44.2-31.6h0m39.1 17.8h0m23-13.5h0m-81.7 27.4h0m34.5-34.3h0m4.4 6.3h0m21.3 12.9h0m15.3-5.3h0m-106.2 15.9h0m48.8-25.2h0m38.6-1.4h0m-46.7-.7h0m42.2 2.3h0m-78.6 9.1h0m17.1 15.3h0m8.6 1.9h0m14.2-11.9h0m59.1 .1h0m-62.3-9.9h0m15.1 11.9h0m12.6-15.9h0m-34.5 29.7h0m39.4-33.1h0m24.5 31.7h0m1-10.9h0m-100.7-3h0m66.7-17.5h0m15.7 30.1h0m-51.5-23.1h0m66.8 23.7h0m-30.7-24.1h0m-33.3 2.5h0m12.7 7.4h0m2.5 12.4h0m11.9-3.6h0m36.9-1.2h0m-87.6-6.2h0m81.4 13.9h0m-31.5-5.4h0m-42.2 4.7h0m64.5-28.2h0m10.8 25.2h0m-86.2-20.5h0m24.1 14.7h0m36.9-14.5h0m2.7-7.8h0m-14.6 22.9h0m-51.8-10.6h0m35.7 21h0m-25.1-15.7h0m35.1-1.4h0m-6 5h0m41.8-23.6h0m17.7 18h0m-23.8-3.9h0m11.7 19.3h0m-61.9-4.1h0m51-24.4h0m-78.1 25.3h0m63.1 2.4h0m35.4-29h0m-44.2 16h0m21.3-3.9h0m-7 5.7h0m-44.3-6.9h0m-3.5 5.3h0m-19.2 11.4h0m103.2 5.9h0m-98-4.4h0m63.8-26.9h0m54.2 13.2h0m-105.3-4.2h0m31.6-3.4h0m-6.6 13h0m25.4 7.5h0m38.3-2.5h0m.5-14.4h0m-16.5-15.3h0m-7.2 33h0m-69.2-6.3h0m81.7 .7h0m-63.9-20.1h0m63.8 8.7h0m-19.9-8.2h0m20.1 5.9h0m24 2.2h0m-20.2 .9h0m-73.3 1.7h0m34.3 15.2h0m35.6-6.3h0m-27.4-17.6h0m32.3 5.8h0m-20.9 15h0m17.9-27.8h0m-44.9 15.3h0m-16.3 5.8h0m-7.8 13.8h0m24.9-5.2h0m-55.7-4.7h0m97.8 3.4h0m4.2-12.4h0m-79.6-11h0m-21.6 2.8h0m66.2 3.8h0m13-7.8h0m3.4 9.4h0m-62.7 6.4h0m27.4-5h0m-15.5 12.8h0m25.8 4.3h0m58.4-21.5h0m-112.5 17.5h0m34.2-19.2h0m59.3 6.4h0m-96.1 0h0m-.5-.8h0m86.2 16h0m-72.1 5h0m42.7-21.1h0m58.1-.6h0m-16.4 23.1h0m-28.1-28.4h0m19.7 21.3h0m-38.9-29.3h0m18.9 21.4h0m12.8 13.9h0m31.1-31.2h0m3.6 16h0m-94.7-3.7h0m92.7-4h0m-35-10.7h0m19.4 6.4h0m-29.8 .4h0m21.3 10.7h0m-97.7 5.4h0m35.6 .3h0m-30.9 4.3h0m36.9-2.6h0m-11.2-24.3h0m89.4 26.8h0m-111.6-26.6h0m4.4 15.5h0m-.8 5.4h0m57.3-18.8h0m-41.3-5.2h0m86 35.3h0m-63.1-2.7h0m25.2-27.1h0m18.4 18.8h0m-26.8-4.9h0m33.6 11.4h0m-15.7-21h0m-85 2.1h0m26.4 10.6h0m66.1-10.1h0m-68.3 11.9h0m73.7-21.1h0m-47-3.4h0m69.3 5.6h0m-84 8.6h0m77.3 3.6h0m4.4-1.1h0m-36.3-12.1h0m-25.5 2.8h0m-22.8 22.1h0m33.2-29.3h0m42.3 27h0m-12.6 .4h0m-94-.8h0m65.9-3.3h0m8.6 1.2h0m-72.3 3.9h0m8-18.5h0m69.5 23.5h0m-9-13.5h0m-63.4 5.4h0m-.7-.9h0m14 .9h0m49.4 8.2h0m-36.3-13.4h0m42.4 3.3h0m-75.3 4.8h0m102.4-27.9h0m-71.3 25.4h0m69.1 .6h0m-82.8 4h0m10.3-31.7h0m92.8 21.7h0m-109.8-9.5h0m42.2-14.2h0m8.2 36.2h0m2.1-35.2h0m.2 7.3h0m29.2 1.2h0m-52 4.3h0m41.6-12h0m-77.4 26.7h0m94.3-10.8h0m-31.3-12h0m-16.2 14.7h0m38.4 16.4h0m-70.8-17.5h0m59.7 9.7h0m19.8 10.4h0m-29.2-14.5h0m-5.2-11.2h0m58.9 14.3h0m-52.8-7.4h0m1.4 3.7h0m-48.6-19.1h0m65.5 16h0m-66.1 14.4h0m-14.4-.2h0m60.5-7.1h0m-2.6-2.7h0m-24.9-9.4h0m24.6-10.8h0m37.2 34.9h0m2.6-24.3h0m-100.8 17.7h0m48.3-34h0m-51.2 28.8h0m108.6-19.4h0m-63.6-3.3h0m69.1 21.9h0m-10.6-7.7h0m-30.2-3.2h0m31.5 7.6h0m-65.5-2.4h0m-5.5 3.9h0m72.5-2.3h0m-97.5-6.2h0m-2.9 21.2h0m65.8-25h0m11.2 26.6h0m-83.6-30.6h0m-1.5 23.6h0m39.2 1.2h0m19.2-18.3h0m53.6 21.4h0m-1.7-21h0m-98.5 15.5h0m-4.4-23.2h0m46 6.6h0m-27.8-3.1h0m55 26.5h0m-27.9-13.1h0m37.8-22.5h0m-48.1 16.3h0m24.1-5.8h0m-43.4 20.2h0m59.9-26.4h0m4 22.6h0m10.3 11.1h0m-38.1-5.5h0m-23.4-8.6h0m41.7 7.3h0m-20.9-7.2h0m10.6-19.5h0m39-4h0m-1.3 20h0m-48-6.7h0m40-6.4h0m-87.9 14.7h0m56.8-9.2h0m-2.7 12.6h0m2.9-25.4h0m45.1 24.6h0m-14.2 1.5h0m-51.7 3.6h0m-42.7-18.9h0m114.9 16.2h0m-34.5-30.9h0m-39.2 23.3h0m11.6 8.4h0m56.2-21.6h0m-66.6 21.6h0m70.4-.8h0m-30.2-13.6h0m-81.1 5.7h0m40.6 12h0m47.6-4.3h0m-83.2-9h0m78.9-14.8h0m-28.3 8.2h0m9.5-12h0m-12.2 13.9h0m4.2 6.3h0m21.2-4.7h0m-14.5 9.4h0m-30.9 12h0m50.6-16.7h0m-77.5 2.4h0m-5.9 2.4h0m101.5 3.1h0m-26.5-21.6h0m-47.1-3.6h0m-4.4 28.4h0m-13.7-9.6h0m55.8-13.9h0m10.3 29.9h0m-77.5-30.9h0m102.7 7.2h0m-29.6-6.5h0m32.6-.9h0m-31.9 22.9h0m33.2-27.6h0m1.9 12.7h0m-70.4-2h0m44.6-14.1h0m1.3 10.1h0m17.1 23.2h0m-43.7-20.8h0m-51.8 25.4h0m2.9-22.1h0m-10.1-2.1h0m18.9 24.1h0m-.9-14.3h0m80.7-12h0m5.3 18h0m-95.6-22.2h0m55.6 5.6h0m-51.6 19.6h0m75.6-20h0m-41.7 12.3h0m-43.5 5.9h0m14.3-1.3h0m78-10.1h0m8.2 3.7h0m-89.5-15.7h0m31.4 6.9h0m-37.1 7.6h0m69.1-6.2h0m-22.1-2.1h0m-23.5-3.3h0m69.8 11.7h0m15.8 8.1h0m-113.8-12.7h0m82.6-2.2h0m-1.9-.3h0m4.2 14h0m-84.8-3.6h0m66.4-15h0m-71.8 8.1h0m53.5-9h0m-9.3-2.9h0m5.3 20.6h0m15.1-14.6h0m-37.9-9h0m23.7 4.3h0m-21.2-4.2h0m76.7 2.7h0m-91.5 7h0m106.6 18.3h0m-11.7-15.1h0m-65-3h0m74.7-2.1h0m-44 7.9h0m8.4-7.8h0m-18.6-1.8h0m-7.9-7.6h0m21 2.7h0m39.6 7.3h0m-45.1 16.8h0m-50-20.8h0m57.9 14.1h0m35.6-15.6h0m-62.3 14.7h0m-47 5.4h0m71.3-7.3h0m-42.7 13.9h0m16-6.6h0m-44.5-1.4h0m2.2-17.4h0m49.6 22.3h0m27.4-16.4h0m-53.5 5.7h0m64-14.4h0m-31 28.2h0m18.1-24.5h0m-82.8 14.9h0m44.4-18.9h0m-26.6 4.7h0m74.8 17.4h0m-88.8-4.9h0m59.8 10.8h0m-24.6-6.4h0m63 5.9h0m-40.1-33.3h0m-36.5 32.5h0m56-29.9h0m32.4 6.5h0m-70.4 26h0m-24.9-19.3h0m37.6 21.5h0m-38.3-15h0m49.6-6.8h0m-49.6-7h0m-11.5 9.5h0m8.7-11h0m82.3 2.2h0m-61.9 21h0m28.4-24.3h0m19.8 8.9h0m-59.5-12.4h0m-15.2 8.6h0m46.6 12h0m31 13.8h0m-54.3-34.5h0m69.8 17.8h0m-25 15.3h0m40.8-18.9h0m-65.2-14h0m-51 25.5h0m20.8 8.4h0m50.3-12.1h0m-17.8-9.2h0m5 13.8h0m21.7-12.2h0m-52.9 11.2h0m-1.7-21.8h0m21.7 8.2h0m-13.2 19.2h0m17.7-13.9h0m64.5-3.9h0m-33.4 5.4h0m-72.4-14.5h0m93.6 3.8h0m-97.6 8.6h0m-3.7-2.4h0m42.3 2.2h0m60.5 16.4h0m-31.4-19.6h0m-18.3 19.1h0m43.3 3.4h0m-75-6.8h0m80.8-10.6h0m-31.6-17.5h0m-71.4 14.2h0m40.3-1.6h0m-18.8-.1h0m24.5 19.2h0m31.5-18h0m-86.5 2h0m81.7 17h0m-68.7-4h0m18.5 6.4h0m77.6-24.1h0m-68.5 14.1h0m72.2 8.5h0m-39.7-9.6h0m-42 15.8h0m88.7-21.8h0m-32.6-6.3h0m20.1-3.4h0m-38.4 21.6h0m8.5-18h0m53.7 6.7h0m-55.9 4.9h0m31.5-15.9h0m-68.5 25.8h0m66.1-1.8h0m-12-24.3h0m-9.8 6.1h0m-63.4 9.6h0m-.2-1.6h0m64.6-15.3h0m30.8 26.1h0m-93.4-23.8h0m-6.5 23.7h0m41.9-5.2h0m48.3-20.5h0m-43.2 2.7h0m14.4-13h0m43.9 18.2h0m-2.3-9.3h0m-102 8.3h0m25.7 3.8h0m55.4 1.4h0m19.7-14.4h0m-47.6 5.6h0m29.4 20.5h0m10.7-18.7h0m-103 21.1h0m112.4-23.8h0m-78.6 3.6h0m-31.1 .4h0m120.1 11.6h0m-83.1 2.6h0m1.7-25.9h0m-31.1 19.5h0m64.3-20.5h0m-52.4 19.9h0m33.9-4.5h0m-4.8 12.9h0m-1.5-3.3h0m12.9 6.2h0m30.5-2.1h0m16.1-24.6h0m-112.1 9.3h0m104.1-13.9h0m-33.5 30.3h0m-51.7-24h0m-16 10.8h0m9.8-1.3h0m106.7 13.1h0m-22.4-4.1h0m-33.1-15h0m-36.4 7.9h0m64.9-19.8h0m33.3 28h0m-9.8 5.2h0m-55.8-17.1h0m-11.3-13.4h0m38.2 12.6h0m-22.7-13.6h0m-.4 23.8h0m43.8 5.7h0m-68.2 4.9h0m-12.2-17.4h0m95.4 5.7h0m-7.3 2.3h0m-107.3-.2h0m46.4 .5h0m28.6-21.3h0m19-2.4h0m-49.3 29h0m-34.7-21h0m75.6 4.4h0m24.4 11.7h0m-30.4-2.4h0m-40.7-1.1h0m-20.5-5.3h0m-20.9-2.6h0m70.6-14.2h0m-55.2 21.4h0m54.8 9.4h0m-24.3-13.5h0m-47.9 5.4h0m63.1-4.8h0m-53.2 12.5h0m83.2-28.1h0m-97.2 16.9h0m9.4-12.8h0m19.5 10.9h0m-6.9 10.5h0m69.9-10.9h0m-7.4-11.9h0m-36.5 21.5h0m36.9-19h0m-2.8 4.8h0m4.7 20h0m5.3-28.8h0m-82 3.6h0m78.1 19.8h0m-45.3 9.1h0m86.5-20.1h0m-36.6 12.6h0m6.3-23.5h0m-58 28.3h0m-12.9 4.4h0" stroke="#cbbc1e" stroke-width="1.5" stroke-linecap="round" fill="none" opacity=".92"/>
<path d="m177.3 278.9h0m-98.9 9h0m2.3-1.5h0m-12.2-13.2h0m50.5 0h0m14.8 6h0m23.6-6h0m-29 .8h0m-56.9-13h0m8 24.6h0m94.5-1.8h0m-12.7-1.5h0m-10.5-13.3h0m-33.6 1.8h0m-51.4-3.6h0m39.9 .7h0m.6-16.5h0m-16.1 32.3h0m73.3-5.5h0m-29.1-12.3h0m29 11.3h0m-38.5-25.3h0m42 14.5h0m-87.1-.3h0m19.6-.5h0m-21.3-8.3h0m53.1 .7h0m-20.8 18.7h0m19.3 11.7h0m34.8-29.7h0m5.2 19.6h0m13.4-6.9h0m-56.2 .5h0m44.6-14.3h0m-84.9-4h0m-2.6 11h0m37.3 8.2h0m-18.8-16.9h0m18.3 20.6h0m16.7-1.8h0m-35.4-24.3h0m-19.8 12.1h0m43 14.1h0m17.9-21.6h0m19.5 2.9h0m-61.8 18h0m24.6 10.1h0m-38.3-19.5h0m-3 11h0m24-3.6h0m18.8 15.1h0m-6.8-2.6h0m17.4-.8h0m-1.7-32.1h0m-49.4 36.3h0m62-36.7h0m-4.8 .9h0m-22.9 15.4h0m-31.2 12.4h0m25.4-30.7h0m-54.1 14.7h0m112.5-.9h0m8.8 2.6h0m-103.3 4h0m79.3-11.3h0m-42.7 26.8h0m-52.1-17.2h0m-1.6-1.3h0m46.5 1.2h0m-38-14.5h0m38.6 18.6h0m44.4-5.8h0m4.2 9.4h0m8-1.8h0m-17.5 1h0m-63-1.3h0m70.9-1h0m-76.4-3.8h0m-9.1 15.3h0m71.2 1h0m-1.6-26.2h0m30.2-.9h0m-57.6 25h0m-24.5-21.9h0m5.9 5.2h0m56.4 21.6h0m22.1-16.4h0m-101.4 10.2h0m51.5-30.9h0m24.6 16.7h0m-17.8 16h0m18.6-26h0m-39 15.6h0m19.3-11.2h0m-29.1 19.7h0m4.7-4.9h0m43.5-3.7h0m-79.8-3.5h0m-7.9-7.6h0m58.8 14.7h0m63.1-2.6h0m-34.6-14.7h0m-46.2-2.8h0m4.9 12.3h0m42.6-20.1h0m-93.8 22.9h0m52 .4h0m8.6-3.3h0m18.3 12.5h0m51.1-12.2h0m-25.1 6.3h0m-73.9-23.7h0m-6.4 15h0m9.9 14.2h0m-2.2-27.3h0m78.5 29.8h0m.4-1.9h0m11-3.6h0m-58-25.6h0m-43.9 10.8h0m-14.7 2.4h0m40.9-14h0m-37.9 27.8h0m55 3.7h0m40.4-13.6h0m-.3-11.2h0m-90.8 11.7h0m80.4 6.8h0m-60.1-8.8h0m79 1.9h0m-94.5-2h0m79.7-.6h0m-23.2 18.5h0m-63.2-27.9h0m3.5 5.6h0m79.9 7h0m2.3-16.6h0m18.3 2.4h0m-107.4 4.5h0m49 11.9h0m-37.7 14h0m50.5-32.6h0m6.2 13.1h0m-28.5-2.4h0m19.5 6.6h0m-29.8 14.3h0m24.7-35.1h0m-3.9 27.9h0m19.5-23.6h0m50.2 11.6h0m-60.6 18.1h0m26.4-4.3h0m6.4-18.4h0m-8.1 .7h0m22.3 .7h0m-3.7-9.8h0m-67.6 19.5h0m57.2-2.4h0m-47.1-15.5h0m72.5 8.6h0m-73.6-3.2h0m-23.3 13.5h0m30.3-17.5h0m-44.5 22.6h0m50.3-9.8h0m-40.5-12.6h0m81 14.1h0m-46-7.8h0m25.7-3.8h0m35.1 2.3h0m-91.1 18.4h0m41.3-22h0m2.3 2.7h0m-35.7 7.5h0m31.3 14.3h0m12.9-8.9h0m-10-2.2h0m33.3 .2h0m-92-5.1h0m42.1 5.9h0m-50.1 1.5h0m97.2-13.4h0m-68.7 17.9h0m73.9-7.1h0m4.6-3.5h0m-108.1 1.2h0m112.9-13.1h0m6.9 28h0m-53.7-7.9h0m-28.3 6.6h0m30.8-22.3h0m-33.6 17.3h0m39.8 4.2h0m31.6-28.6h0m-12.7 6.7h0m-48.9 8.2h0m66.8 7.4h0m-54.1-24.8h0m21.3 0h0m4 25h0m-56.3-1.5h0m81.7-19.6h0m-80.9 16.6h0m47.9-18.9h0m23.3 36.5h0m5.6-33h0m-69.5-6.6h0m91.9 22.2h0m-21.5 5h0m4.2 4h0m-52.4-7.2h0m-28.9 1.9h0m10-5.3h0m-1 14.2h0m36.6-7.1h0m8.2 9.3h0m-25.1-6.7h0m59.4 .2h0m-67.7-6h0m9.7-11.1h0m-30.1 22.8h0m-15.3-24.3h0m53.9 25.3h0m8.6 .9h0m-7-12.5h0m-48.4-14.1h0m-.6 14.5h0m68.9-12.9h0m-39 7.3h0m-20.2-7.1h0m-30.3 .8h0m89 16.7h0m-63.2-3.3h0m43.3 .2h0m-33.6-.3h0m.5-.4h0m72.7-16.9h0m-6.8 17.5h0m-12.9 6.8h0m23.4-13.4h0m-111.4-6.6h0m54.5 12h0m65.8 4.9h0m-87.1-28.2h0m12.2 9.8h0m-42.1 17.7h0m40.6-21.2h0m-41.1 2.9h0m56.8 23.2h0m-32.7 6.3h0m89.5-12.8h0m-105.5-6h0m28.3-13.3h0m53.7 3h0m-94.4-.8h0m116.1 3.7h0m-36 14h0m42.3-7.2h0m-118.7-5h0m42.9 2.3h0m-34 1.9h0m53.9 13.6h0m11-13.2h0m-9.4-2.3h0m10.9 7.5h0m-56.1-5.7h0m35.6 3.1h0m-42.3 9.5h0m66.1-16.1h0m46.9 1.9h0m-27.5 5.9h0m-49.2-25.1h0m67.3 36.1h0m-42.7-29.7h0m-48.1 32.1h0m-17.1-24.3h0m109.9 11.4h0m-80.9 2.1h0m9.1-20.4h0m-6 23h0m29.6-22.5h0m-17.9 24.1h0m-8.8-25.5h0m41.9 4.6h0m-50.9 26.8h0m-7.2-20.6h0m35.5 15.3h0m51.7-7.5h0m-77.4-17.9h0m-11.4 20.3h0m15.1-12.3h0m8.7-11.7h0m-23.3 35.7h0m-5.7-32h0m31.4 12.1h0m-26-16.1h0m-2.1 22.9h0m-23-11.8h0m57-12.8h0m51.5 32.3h0m-107.6-2.1h0m38-31.8h0m66.9 37.3h0m-95.2-25.4h0m86.5 5.2h0m-52.7 6.9h0m43.4-14.6h0m-25.3 20.9h0m-59.6-13.6h0m92.4-9.7h0m.7 15h0m-74.6 14.9h0m-19.1-2.2h0m83.2-33.5h0m-23.5 10.9h0m25.9-7.2h0m-58-2.3h0m-3.1 13h0m78.6-10.9h0m-107.1 21.4h0m85.9-8.4h0m-3.7-18.1h0m38.7 31.2h0m-78.7-25.7h0m57.5-.1h0m-25.9 3.2h0m-61.9 11.5h0m51.3 1h0m26.6-17.3h0m-41.7 17.3h0m-47 10.1h0m100.1-8.7h0m-1.9-5h0m-75.5-1.8h0m11.8 22.9h0m78.8-24.9h0m-90.9-3.8h0m63.2 20h0m-63.3-24.4h0m34.2 4.2h0m3.4 20.2h0m-31.4 1.9h0m.4 7.8h0m-14.9-4.1h0m8.9-21.6h0m8 13.6h0m6.6-25.4h0m55.4 36h0m-59.7-24.1h0m60.6-8.2h0m-38.7 13.6h0m66.5 4h0m-64.9-15.1h0m-42.4 28.2h0m44.7-27.3h0m-53.8 16.5h0m77.4-15h0m-4.3-10.6h0m-69.2 25h0m8.5-2.6h0m99.1 .3h0m-22.9-19.5h0m-89.1 22.3h0m15.8 1h0m56.7-19.1h0m-53.2 7.6h0m35.2 2.3h0m-52.7-7.2h0m68.4 22h0m26-2.6h0m1.8-5h0m-5.7-18.7h0m4.9 28.2h0m9.6-.1h0m-53.7-17.6h0m19.5-12.3h0m39.7 5.3h0m-121.4 9.7h0m63.6 11.9h0m4.4-28.3h0m5.9 3.7h0m56.3 13.5h0m-115.2-15.1h0m38.1 4.3h0m2.4 23.9h0m27.3-6.6h0m-53.1-26.2h0m-26.2 18h0m100.8-6.7h0m-5.5 2.4h0m-31.5 18.2h0m-55-7.3h0m57 2.8h0m-1.3-22.9h0m20.6 14.4h0m-5.8-1.9h0m-35.4-15.9h0m14.1 15.7h0m-29.5 .1h0m-16.4-7.6h0m-14.4 2h0m110.1 24.5h0m-23.6-8.6h0m-21-14.5h0m-33.3 7.3h0m34.3-10.6h0m35.8 27.2h0m-104.1-22.1h0m4.8 17.5h0m2.3-20.3h0m-4.5 4.7h0m34.5 18.7h0m21.5-36.2h0m-27 8h0m-1.5-1.6h0m-9.5 11.3h0m34.8 12.5h0m-3.5 5h0m61.2-10.4h0m-67.8 6.8h0m31.3 3.4h0m29-28.4h0m10.9 10.9h0m-54.9 18.9h0m49.2-21.7h0m-59.5-2h0m-25.2-5.7h0m63.9 13.3h0m-72.1 2.3h0m82.6 1.2h0m-71.9 13.7h0m75.4-34.5h0m-44.4 19.9h0m48.4-18.2h0m10.7 10.4h0m-8.6 19.5h0m.5 1.9h0m-90.2-32.1h0m47.6 7.7h0m14.6 11.6h0m-34.7 10.9h0m22.4-23.5h0m2.2 11.2h0m.4-19.6h0m-46.4 5.2h0m37.7 .2h0m-3.9 13.9h0m33.8-12.1h0m-19.9-3.9h0m-64.6 13.5h0m8.3 7.8h0m89.9 13.8h0m-95.7-16.3h0m36.2-6.9h0m36.9-12.4h0m-70.7 25.2h0m64.1-31.1h0m-48.6 33.9h0m96.8-10.5h0m-28.8-8.4h0m-70 22.4h0m-10.9-20.3h0m46.5 15.9h0m37.7-28.9h0m-27.5 7.2h0m13.7 22.7h0m8.7-28.3h0m-18.5 22.6h0m-60-3.6h0m1.6 3.4h0m-6.2 10.8h0m108.5-26.2h0m-84.6-2.2h0m17.3 12.5h0m63.6-.3h0m-62.7 3.5h0m44.2-23.9h0m23.1 11.8h0m-48.3-.8h0m33.1-9.5h0m-4.8 18.1h0m27.8-4.7h0m-86.1 11.3h0m63.4 8.6h0m-73.3-6.8h0m-5.5-26.3h0m7.6 20.1h0m70.5-20.3h0m-73.6 14.5h0m76.2-5.5h0m-2.3-6.7h0m-39.8 24.7h0m-5.2 2.2h0m-38.2-17h0m-10.4-.7h0m68.7-2.6h0m6.3 17.2h0m-.7-8h0m-61.6-12.1h0m77.1 22.6h0m-28 4.8h0m27.6-31.9h0m-81.5-1.5h0m85.2 13h0m-92.8 19.4h0m109.4-16.4h0m-122.5 3.8h0m12.2-.8h0m103.2-1.7h0m-2.7 4.4h0m-9.8-18.8h0m-8.9 13.9h0m1.9-5.5h0m-31.8-10.5h0m-30.6 .3h0m60.4 5.9h0m-1.5 .5h0m-47.8 16.6h0m-23-11.7h0m36.2 6.1h0m-51 .7h0m47-11.2h0m27.2 18.3h0m2.2-2.1h0m-12.5-22.8h0m-57.8 .9h0m-4.9 13.4h0m88.3 15.3h0m-.5 1h0m-.1-1.1h0m-11.3-32h0m-67.8 5.3h0m11 6.2h0m75.1 20h0m-77.3 2.9h0m85.4-15.5h0m-29.4 11.9h0m-82.9-15.4h0m61.3 11.9h0m19.3-10.1h0m40.7 7.5h0m-71.1-6.2h0m1.5 11.6h0m-7.3-30.9h0m79.8 26.3h0m-77.1-2.4h0m37.8 4.1h0m-48.6-5.8h0m-25.2 13h0m25.1-17.2h0m83.8 8.7h0m-65.4-2.8h0m36.6-15h0m-77.8 18.1h0m76.8-13.7h0m21.1 22.8h0m-95-22.7h0m29.7 9.4h0m43.9-4.6h0m10.1 17.1h0m18.6-13.2h0m-65.9-14h0m-20.2-1.5h0m88.8 8.8h0m-50.4 9.7h0m-39.3 3.3h0m50.4-3.4h0m17.5-17.5h0m-51.5 21.8h0m-4.3-19.3h0m54.8-3.3h0m-87.1-.1h0m28.9 31.9h0m79.2-26.1h0m-47.9 3.7h0m-6.9 16.4h0m-47-14.2h0m26.6 3.8h0m32.1-17.8h0m25.7 26.9h0m-26.8-32.4h0m-53.6 9.5h0m31.4-4.3h0m-10.3-1.5h0m-30.1 13.6h0m97.1 21h0m-53.2-36h0m-22.8 4.9h0m47.7 2.8h0m-25.6 0h0m48.1 12.1h0m16.8-4.6h0m-69.3-15.3h0m-7.5 5.9h0m-27.5 26h0m40.3-11.5h0m21.4 14.9h0m25.6-15.1h0m-90.4-1.4h0m47.7 9.7h0m-.6-27.8h0m-32.5 35.9h0m95.3-9.3h0m-49-20.6h0m-36.4 20.6h0m-31-18h0m118.7 1.9h0m-109.5 18.6h0m96.1-25.4h0m-56.7-5.6h0m-22.5 23.3h0m-2.6-2.3h0m-14.4 5.7h0m-2.8-1.7h0m-9.2-4.1h0m108.2-7.4h0m-66.7 13.4h0m67.9-11h0m-18-1.2h0m28.8 6h0m-106.6-4.8h0m100.9 1h0m-35.7-5.6h0m-43.7 21.9h0m35.4-28.7h0m-25.4 7.8h0m-15.1 10.6h0m46-2.8h0m-47.1 5.1h0m-24.2-7.8h0m34.3 11.4h0m23.4 5.3h0m-49.9-3h0m11.2 1.4h0m69.9-30.5h0m-25.3 13.6h0m-54.7 12.8h0m25.5-11.5h0m.3-7h0m33.4 4.7h0m-31.7-6.6h0m38.8-6.4h0m-64.4 21.6h0m11.2 6.7h0m11.3-6.1h0m30.4-15.1h0m-18.4-3.9h0m-13.4 6.5h0m-10.8 12.5h0m27.9-12.6h0m64.2 6.8h0m-65.4 1.3h0m8.1 4.5h0m46.6 13.4h0m1.6-25.4h0m-96.2-5.4h0m29 16.6h0m-27.1 5.3h0m-3.5-9h0m3.2-4.6h0m43.7 13.8h0m-35.5-17.5h0m56.9 6.2h0m-59.4 3.6h0m20.6 8.8h0m2.6-22.2h0m22.4 25.6h0m-25.5-23.6h0m26.5-1.4h0m-52.2 25.1h0m57.4-19h0m27.5 19.2h0m-74.2-9.6h0m93.8 6.4h0m-107-8.4h0m-11-3.2h0m99.7 14.9h0m-79.8-25.1h0m75.4 .3h0m-35.2-7.9h0m32 32.8h0m-82.7-13.4h0m85.7-1h0m23.2 13h0m-30.1-4.7h0m-79-19.5h0m8.6 11.2h0m-7.2-3.9h0m60.7 15.1h0m-47.6-22.1h0m71.8 24h0m-62.1-13.4h0m-33.4-5h0m26.7 .5h0m-13.3 .5h0m12.9 16.1h0m72.9-5.4h0m-24.9 11h0m-44.2-26.7h0m37.6 20.3h0m-44.6 9.7h0m-9-22h0m63.1 5.9h0m-49.1-18h0m57.5 27.3h0m-73-13.4h0m40.3-12.7h0m3.8-5.9h0m-21.3 3.5h0m-16.8 32.2h0m24.2-13.8h0m-1.7-9.8h0m14.2 8.2h0m-15.4-11.2h0m-11.8 5.9h0m-16.1-11.6h0m58.1-5.6h0m-43.2 6h0m79.8-.9h0m-4.5 15.8h0m11.9 9.1h0m-65.6-16.1h0m-47.7 18.1h0m46.5-29.1h0m54 17.6h0m7.1 16.7h0m-24.9-20h0m-5.4-5.1h0m9.4-8.7h0m31.4 26.9h0m-39.5 .3h0m-37.6-28.3h0m32.3 3.4h0m-61.1 22.6h0m79-19h0m-30 21.1h0m-55.2-15.2h0m69.9 .8h0m-2.8 21.1h0m20.2-15h0m-32.7-.9h0m41.3 16.1h0m-22.1-38.1h0m31.4 7.7h0m-83.1 26.1h0m-5.6 4.9h0m35.7-17.4h0m-38 9.4h0m99.3-9.7h0m-28.4 5.7h0m-79.4 11h0m42.7-36.7h0m49.1 13.6h0m-94.1 11.4h0m27.9-7.7h0m3.6 3.8h0m-7.7 12.6h0m36.4-28h0m-33.9 1.2h0m64.6 23.5h0m-82.6 5.6h0m58.8-7.1h0m-19.7-.4h0m-38.9-23.3h0m42.6-1.5h0m-27.8 8.2h0m92.1 1.8h0m-114.9 20.4h0m86.4-18.1h0m25.9 .9h0m-49 4.9h0m7.3 16.2h0m-74.3-4.7h0m47.3-1.4h0m-11 4.3h0m66.3-22h0m13.3 11.9h0m-15.2 1.4h0m-86.3 .8h0m92.4 10.4h0m-100.7-30.8h0m50.7 9.3h0m-23.9-.2h0m-2.9-8.1h0m30.2 4.5h0m-64.1 11.1h0m11.6-2.1h0m9.6 0h0m13.5-15.2h0m65.8 16.6h0m-18 5.3h0m-83.8 3.2h0m105.5 .1h0m-56-11h0m12.1 2.7h0m-2.6 5.1h0m-12.3-.6h0m75.4-7.5h0m-52.5-6.7h0m-11.7 7.5h0m11.8 6.5h0m24.7-7h0m-80.3-3.2h0m79.5 2.7h0m-7.7-5.7h0m-59.8 25.3h0m-19-20h0m13.2-15.4h0m28.6 11.4h0m-23-7.5h0m6.4 8.6h0m59.6 23.2h0m-30.5-23.1h0m16.5 9h0m-41.7-24.4h0m68.7 4h0m-7.5 13h0m-68.3 11.4h0m42.8 1.8h0m-76.5-5.3h0m82-3.2h0m-57.1-18.2h0m16 19h0m30.9-22.1h0m15-2.1h0m25.8 12.9h0m-70 4.5h0m68.9 6.6h0m-96.1 15.9h0m97.7-22.4h0m-56.9-5.5h0m20 6.1h0m28.1 15.2h0m7.8-21.2h0m-64 16.4h0m-17.3-23.8h0m43.1-.5h0m43.5 30.5h0m-99.4-17.1h0m99.9-2.4h0m.1 11.1h0m-11.3-15.9h0m-91.5 25.3h0m111.1-18.5h0m-46.8 16.1h0m-15.1-15.1h0m-27.4-11.6h0m.7 18.3h0m47.7 9.9h0m28.3-1.5h0m-89.9-9.7h0m23.8 1h0m4.4-23.4h0m-52.5 10.1h0m17.9 20.6h0m53.2-33.5h0m-55.4 6.8h0m37.4 3.8h0m35.7 22.1h0m18.7-20.6h0m-77.6 9.9h0m36.1 11.4h0m31.4 3.1h0m-47.8 .1h0m-18.3-25.8h0m7-4.6h0m49.9-1.1h0m-73.2 33.3h0m81.7-3.2h0m-65.4 7.6h0m7.7-28.7h0m13.1 9.3h0m28.5 3.5h0m-62-23.3h0m63.3 34.9h0m-54.4-26.6h0m71.7 2.8h0m4.8-3.5h0m14.6 25.1h0m-28.1-5.5h0m10.2-21.2h0m-22.1 25.1h0m-10.4 3h0m-48-32.8h0m38.4 3.7h0m27.1 9.2h0m20-13.5h0m-36.2 7.7h0m-2.2 18.6h0m11.6-15.7h0m32 25.3h0m-57.8-37.3h0m-18.3 33h0m-23.7 .2h0m72.2-17.6h0m-62 2.7h0m-8.7-.7h0m5.6 8.8h0m-3.5-15.5h0m100.3 16.4h0m-97 .6h0m19.6-3.4h0m75-16.9h0m-12.6 5.1h0m-7.5-10.6h0m-90.1 24.5h0m7.1 1.7h0m74.4-2.8h0m-28.5-22.9h0m-17.3 16.7h0m-13.8 .3h0m54.6 9.1h0m5.2 7.4h0m8.8-9.7h0m-93.3-4.1h0m23.6 7.2h0m12.1-19.9h0m94.4 8h0m-47.9 2.1h0m44.7-5.7h0m-109.9 2.7h0m-7.8 2.6h0m118.1 6.9h0m-7.9-10.9h0m-16.9-10.5h0m-55.1 22.6h0m-16.6 1.3h0m-6.5-22.9h0m29.6 .9h0m-24.1 8.8h0m96.5-6.3h0m-75.6-3h0m-10.3 21.7h0m-5.6-7h0m-18.5 5.1h0m81.2 9.8h0m-61.2-27.7h0m82.2 6.2h0m-111.4-4.8h0m13.4-4.8h0m2.5 30.7h0m12.7-9.4h0m-1-19.8h0m92.2 7.6h0m-4.9-5.1h0m-7 24.5h0m-12.2-23.4h0m-46.9 6.3h0m13.9-19.2h0m18.4 20.6h0m-38.8 10.8h0m55.5-9h0m-82.4 18.9h0m27.9-26.9h0m42.1 3h0m12.1-10.1h0m-56.3 23.6h0m15.4 5.9h0m12.6-.2h0m38 1.7h0m5.3-24.6h0m-106.1 29.2h0m27.1-33.3h0m41.9 9.9h0m36.5-6.3h0m-17.8 2.2h0m7.6 3.8h0m-56 7.8h0m-19.2-19.9h0m20.7 13h0m-37.8 9.9h0m3.4-.5h0m4.5-15.9h0m-18.9 8.1h0m3.1 15.8h0m91 1.5h0m-17.5-6.5h0m-62.4-4.4h0m58 2.2h0m-40.7 10.4h0m66.1-28h0m-59.7 16.9h0m18 5.3h0m-21.4-19.9h0m85.1 16.4h0m-14.2-16.3h0m-72 18.7h0m.1-4h0m-28.4 9.7h0m-8.4-8h0m38.2-7.3h0m1.7 14.6h0m-4.2-22.5h0m80.1 10.2h0m1.3 1.1h0m-70-20.6h0m-17.7 6.6h0m77 12.5h0m-15.4 10.2h0m-56.7-3.7h0m63-14h0m-35.7 10.7h0m-19.1-2h0m-11.9-20.1h0m18.6 23.8h0m-23.9-13.1h0m52.2-8h0m-62.5-4h0m77.7 35.8h0m-13.5-4.2h0m-4.8-25.5h0m35.7-5.1h0m-40.9 .3h0m43.9 12.1h0m-30.7 5h0m-60.4 .1h0m58-20.3h0m-21.8 21h0m22.8-.7h0m-9.4 9.8h0m-54.4-13.3h0m13.6-14.1h0m48.7-.6h0m-38.1 10.8h0m-28.2-4.8h0m17 22.6h0m52.1-12.1h0m39-4.7h0m-72.8 1.4h0m49 11.3h0m-17.5-7.1h0m-25.8 7.3h0m-13.1-16.4h0m36-3.3h0m-29.4 17.6h0m-50.1-6.9h0m38.9-6.8h0m-4.1 20.9h0m-27.1-9.8h0m42.8-5.2h0m-7.7-17.6h0m-36.9 8.8h0m42.9 9.9h0m33.6 1.6h0m-30.5 .3h0m72.5 2.4h0m-35.4 8.5h0m-74.7-28h0m33.5 10.2h0m58 4.1h0m-16.2-7.4h0m13.2 5h0m-65.6 19h0m54.3-27.5h0m17.6-1.5h0m-96.7 26.8h0m30.7-12.5h0m19.8 11h0m41.8-14.9h0m-26.9-13.9h0m3.7 27.1h0m-4.1-13.3h0m-54.6 22.2h0m101.7-25.6h0m-60.7 17.2h0m48.4-7h0m-5.7-7.1h0m-56.6 18h0m-30-17.6h0m90-4h0m-97.6 10.3h0m48.7-8h0m48.8 1.4h0m-52.3 17h0m-6.2-3.8h0m-8.3-8.2h0m12.5-.3h0m-33.5-4.7h0m49.4 11.9h0m1.2 0h0m54.3-14.5h0m-86.4-9.6h0m-28.5 10.9h0m79.8 5.5h0m-32.6 12.5h0m54.2-18.2h0m4.4 13.1h0m-78.3-22h0m3.6 15.1h0m17.1-15.9h0m34 14.2h0m-48.8-7.4h0m84.4 5.5h0m-74.7 .7h0m18.5 4.2h0m-31.9-3.2h0m63.9 12h0m8.6-8.9h0m-67.4-1.4h0m84.7-2.2h0m-101.9-4.1h0m60.7 19.5h0m-54-13h0m40.5 .7h0m30.6-20.5h0m-61.6 13.9h0m14.2-13.1h0m9.8 26.7h0m-8 .6h0m-5.9 .4h0m5.2 2h0m18.8-7.9h0m-66.3-20.7h0m114.2 18.5h0m-44.3 9.6h0m-44.1 2h0m30.2-21.5h0m-47.4-.9h0m25.1-3.2h0m-13.6 11.6h0m78 3.1h0m-25.5-9.6h0m-55.4-4.2h0m52.7 26.1h0m-6.3-14.3h0m-38.3-8.4h0m-30.6 10.8h0m-8.4-1.5h0m33.8 5.8h0m-1.3-26.2h0m72.1 32.3h0m-40.2-36.7h0m12.6 35.1h0m-35.4-8.4h0m48.3 11.6h0m14.8-.6h0m-71.3-12.6h0m4.1 15.3h0m71.1 .5h0m-83.2-29.8h0m101.4 1.6h0m-118.2 4.7h0m100.2-5.6h0m-17.7-8.1h0m-58.4 30.8h0m-5.8-14.7h0m53.1 .4h0m-46.9-6h0m76.8 8.6h0m-70.5-.2h0m-18.4-13.6h0m72 26.3h0m2.8-29.4h0m-47.7 19.8h0m-33.1 3.4h0m48.5-7.5h0m59.4 3.6h0m-14.7 15.2h0m-52.8-19.2h0m35-15.3h0m-46.3-3.7h0m42.1 32.6h0m-30.4-22.2h0m10.4 6.5h0m8.6 11.2h0m6.2-27.1h0m-44.7 32h0m65-9.6h0m-60.5-22.3h0m34.7 12.5h0m-52.7 6.2h0m46.6-12.4h0m30.2 28.4h0m-48.8-10h0m7.6-9.3h0m17.7-6.9h0m-23.7 2.1h0m13.5-7.5h0m-59.9 12.1h0m29.5-1.6h0m18.4 17.4h0m15.2-31.7h0m-42.8 10.5h0m-1.2 22.3h0m1.2-20.5h0m-8.3-4h0m74.1 15.9h0m-89.5-4h0m11.9-9.4h0m26.7 12.7h0m-22.5 6.6h0m-7.7-5.8h0m105.8-5.6h0m-72.5-5.3h0m16.8 20.4h0m3.5-21.8h0m46.9 4.3h0m-12.2-10.2h0m-25.3 10.3h0m8.8-3.1h0m-33.7 2.5h0m65.1 2.4h0m-52.9-14.2h0m-8.2 14.6h0m-7.7-7.8h0m-32.1-4.7h0m47 4.5h0m-56.7 4.1h0m89.3 19.9h0m27.1-14.1h0m-18-4h0m-10.1 4.2h0m-62.1-19h0m63.7 24.4h0m-14-20.1h0m-15.2 30h0m-35.7-7.4h0m25.9-8.4h0m45.6 5.2h0m-16.8 13.5h0m9.7-12.5h0m-47.6-5.7h0m-28.9-3.6h0m108.1 13.8h0m.4-18.9h0m-11 25.5h0m-101.3-10.4h0m94.6 5.9h0m12-2.6h0m-1.2-19.9h0m-74.4-7.3h0m62.5 3h0m-70.8 27.1h0m-9.4-1.4h0m-14.9-10.7h0m110.7-6.1h0m-57.6-5.7h0m5.5 14.2h0m17.9-6.4h0m-80.3-2.9h0m74.3-9.2h0m1.6-5.6h0m-57.7 22.3h0m93.9 1.5h0m-72 11.9h0m11.5-19h0m-8.2 7.9h0m24.1-14.7h0m-10.5 25.7h0m-42.9-9.4h0m88.9-3.1h0m-26.3-18.2h0m-43.2 21.7h0m29.9-6.3h0m-38.9 21.4h0m38.7-41.8h0m-50 23.5h0m34-1.8h0m19.2 5.2h0m40.1 11.9h0m-63.8-17.5h0m66.9-9.5h0m-12.9 19h0m-56.9-9.3h0m27.6-12.3h0m6.9 13.6h0m-72.2 14.4h0m105-20.8h0m-86.2-.7h0m11.1-9.4h0m55.7-2.3h0m-42.3 29.2h0m10.3-24.3h0m-38.6 25.5h0m89.1 2.1h0m-28.4-25h0m-15.6 23.4h0m45.9-25.9h0m8.7 5h0m-69.4-8h0m20.7-6h0m48.8 9.4h0m-64.7 21.7h0m-13.9 7.8h0m36.5-34.8h0m-10.4 27.5h0m-24.2-2.6h0m-2.8-2.8h0m28.2-17.7h0m39.9 11.1h0m-45.3 9.7h0m45.6 1.3h0m-35.6-6.1h0m36.1 .7h0m-54 8.3h0m25.6-3.4h0m39.9-.3h0m-57-18.5h0m-37.4 9.4h0m89.6-12.7h0m-99.2 22.9h0m35.1-9h0m-43.4 12.9h0m-9.1-5.4h0m116 2.1h0m-26-11.5h0m-2.2 5.6h0m-77.7 2.5h0m82.1 10.5h0m-47.8-16.9h0m5.8-.1h0m60.5-6.7h0m-32.8-12.7h0m-65.4 12.3h0m68.9 22h0m29.1-29.6h0m-22.7 19.6h0m-31.1-17.5h0m-19.9 7.9h0m3.2 12.6h0m-7-14.5h0m18.4-1.3h0m-19.3 6.9h0m65.1 10.9h0m3.2-16.3h0m-73.5 18.8h0m78.7-15.5h0m-80.8 13.5h0m-15.9-16.1h0m96.9-4.2h0m-22 12h0m-57.4 6.4h0m48.7-4.4h0m-57.1-2.1h0m55.9 9.5h0m-14.7 .7h0m59-5.3h0m-6.5 .9h0m-40.6 5.3h0m-40.8-10.9h0m61.1 12.5h0m12-32.5h0m-15.4 24.2h0m-81.5-21.2h0m47.4 6.9h0m57 11.1h0m-25.8 14.5h0m21-22.5h0m-42.7 .8h0m-53.4 9.8h0m71-26.4h0m-13.1 22.2h0m30.9 9.1h0m2 4.7h0m-27.8-37.3h0m-45.5 4.4h0m40.5 21.7h0m-26.7-12.7h0m59.6 22.1h0m-51.6-13.6h0m67.7 5h0m-80-23.6h0m83.1 30h0m-64.1-1.3h0m23.9-26.2h0m41 11.2h0m-72.8 15h0m57.8-13.9h0m-11.4 12.8h0m-66.1-6.9h0m21.1 3h0m14.9-14.4h0m15.8 19.4h0m-48.7 2.8h0m38.7-34.5h0m38.7 7.4h0m14.9 7.9h0m-17 10.3h0m-55.3-10.7h0m49.3-7.2h0m-89.2 1.6h0m115.6 8.5h0m-48.8-12.2h0m20.1 3.9h0m-42.3-5.8h0m49 18.4h0m-45.1 3.1h0m-28.2-7.5h0m-5.3 17.4h0m55.7-28.9h0m12.7 14.8h0m-85.9 16.3h0m57.9-9.4h0m-37.9-9h0m86.1 14.9h0m-95.1 7.6h0m28.7-27.5h0m52.3-6.3h0m-81.3 0h0m76.9 28.8h0m-93.5-13h0m13.1-18.1h0m3.5 .8h0m72.4 10.2h0m-73.1 24.2h0m46.3-12.2h0m-25.3-7.7h0m2.1-11.4h0m20.8-8.9h0m4 11.6h0m-20.2 23.2h0m37.6 1.6h0m25.8-6.5h0m-111-12h0m105.6 11.5h0m-6-10h0m-16.7 14.2h0m26.8 4h0m-23.8-14.8h0m11.5 11h0m-81.7-27.8h0m12 23.7h0m53.2-6.7h0m-1.8-10.5h0m3.6-10h0m-84.7 21.1h0m14.2 5h0m-11.7-15.6h0m89.2-9.7h0m11.2 21.8h0m-86.7-13.9h0m28.7 27h0m36.3-30h0m7.1 8.4h0m-4.3-12.6h0m-47.3-.3h0m35.7 8.6h0m36.4 5.5h0m-43.4-7.4h0m15.5 21.4h0m-79.9-4.6h0m40-2.5h0m73 7.6h0m-87.9 2h0m59-3.6h0m20-20.6h0m-71.9-2.6h0m-30.5 6.7h0m62 15.4h0m-43.3-4.7h0m22.6-24.5h0m-28.6 25h0m49.9 4.6h0m28.1 6.9h0m-56.1-36.8h0m-10.9 39.7h0m32.6-27.1h0m-30.6 16.4h0m-27.1 2.3h0m20.6-6.5h0m58.9-1.9h0m-72.9-15.8h0m31.5 3.8h0m79.6 16.2h0m-84.8-11.5h0m-3.3 23.4h0m-2.9-4.8h0m94.1-9.8h0m-.5-12.9h0m-9.5-6h0m-23.3-2h0m24.5 34.3h0m-85.1-18.5h0m80.1-1.9h0m-10.5-17h0m-60.3 26.4h0m59.4-15h0m-40.8 1.6h0m49 12.8h0m-45-11.4h0m36.4-.5h0m-70.2-4.2h0m66 25.4h0m32.4-8.5h0m.1-15.1h0m-97.4 19.4h0m-4.8-6.2h0m60.3-1.9h0m9.6 14.1h0m-49.9-7h0m32.2-5.7h0m-44.2-1h0m73.7 9.3h0m-105.3-12.9h0m81.4-6h0m-4.5 0h0m46.9-1.2h0m-54.2 8.8h0m21.8 .7h0m-68.1-7.7h0m77.6 .7h0m-25.5 21.1h0m34.8-28.3h0m-51.6 .1h0m-9.1 26.3h0m-41.7-22.6h0m63.9 13.4h0m-11.9-11.5h0m-35.7-11.7h0m85.1 17.3h0m-16.9-4.9h0m6.5 14.3h0m-93.8-13h0m81.7-12.8h0m-60.1 4.9h0m8.6 2h0m27.8 12.7h0m34.9 5.9h0m-.4-16.2h0m-55.7-7.9h0m81.2 24.5h0m-106.8-11h0m15.3 23.4h0m-9.8-5.4h0m57.6-7.9h0m-10.7-3h0m29.9 12.7h0m-86.9-2.4h0m-9.5-13.3h0m74.6-10.5h0m-10 11.6h0m-9.1 3.7h0m-27.3 13h0m1.6-35.2h0m95.1 9.5h0m-68 10.6h0m.3 10.9h0m2.1-33.6h0m39.5 8.5h0m9.8 .5h0m-51.6-8.9h0m44.6 .1h0m-91.7 7.5h0m59 22.6h0m-54.4 1.9h0m4.4 5.6h0m11.8-6.5h0m9.2-28.5h0m-8 26h0m-3.2-29.2h0m75.3 23.8h0m-3.5 12.7h0m14-2.9h0m-76-29.6h0m45.5 8.7h0m-77.6 19h0m67.3 4.2h0m31.3-24.1h0m-61.5 4h0m65.2 10.2h0m1.8 3.1h0m-44.9-6.6h0m38.6-19.1h0m-39.3-2.3h0m45.7 12.7h0m-111.2 4.5h0m107.2 .8h0m-86.5-6.1h0m23.1-6.7h0m4.6 22.1h0m-16.2-13.8h0m20.6-1.3h0m68.2-2h0m-76.7 20.9h0m-39.9-12.5h0m24.7 13h0m-26.5-8.3h0m68-9.2h0m-12.2 13.6h0m-6.6-26.7h0m8.8-3.1h0m55.7 20.8h0m-95.3 .5h0m81.6-11.8h0m-9.1 18h0m11.5 7.9h0m10.2-7h0m-4.1-2h0m-58.3-22.3h0m21.6-6.5h0m-31 12.8h0m.8-2.8h0m52.5 11h0m30.1 8.2h0m-51.2-22.1h0m5.9 13h0m5.9 17.9h0m-81.2-7.4h0m18.6-25.9h0m52.8 29.7h0m-.5-18.1h0m-72.7-1.2h0m-2 7.1h0m15.7-17.4h0m14.6 3.2h0m-10.7 33.3h0m81.4-4.2h0m-30.1-6.6h0m-65.3 5.2h0m97-8.3h0m4.9 2.5h0m-58.5 3.7h0m-41.5-19.1h0m56.3 6.2h0m-67.2 5.8h0m15.9 1.2h0m25.4 4.4h0m-8.3-8.9h0m78.4-11.7h0m-11.2 25.3h0m-68.9 6.1h0m-22.7-13.4h0m52.2-2.5h0m68.1-3.7h0m-117.9 1h0m93.7 13.3h0m-47.5-10.2h0m45 2.2h0m-87-9.9h0m62-7.4h0m-70.9 13.7h0m57.4-8.3h0m-29.9-6.1h0m72.5 13.9h0m-6.3-16.5h0m-41.3 22.2h0m41.3-21.6h0m11.6 12.1h0m-63.4 9.1h0m-5.2-25.1h0m45.2 1.6h0m15.4 19.6h0m-82.6-18.5h0m59.8 6.7h0m-4.4 6.1h0m32.1 12.9h0m-32-5.2h0m-45.5 5.4h0m14.7-5h0m36.7-10.8h0m-59 10.6h0m80.9-1.6h0m-97.7-3.9h0m105.1-6.9h0m-59.8 14.6h0m42.2-11h0m-74.5 18.2h0m60.3-35.6h0m3.2 1.1h0m38.3 29.8h0m-48.7-11.6h0m-2.2-10.2h0m30.8 20.1h0m-96.5-9.5h0m65.4-17.6h0m35.8 23.5h0m17.5 7.8h0m-120.2-5.3h0m56.8-16.1h0m-3.6 10.5h0m34.8-21.5h0m-52.7 5h0m40.4-7.1h0m10.5 11.5h0m-37.7 8.2h0m-6.7-9.8h0m48.1-.8h0m-63.6 26.4h0m-22.7-7h0m43.3-.7h0m-29.3-15.6h0m39.6 18.1h0m43.7-21h0m1 15h0m-40.3-15.9h0m56 25.4h0m-71.4-23.7h0m-12.3 12.8h0m78.1 4.3h0m.3-2.7h0m4-7.1h0m-84.4 20.1h0m-2.2-15.3h0m7.5 10.1h0m15.7-20.1h0m21.8-6h0m14-2.5h0m23.3 8.3h0m-30.7-11.4h0m-6.9 36h0m-1.4-13.3h0m18.7-10.4h0m-78.7 0h0m12.8 8.3h0m90.7 14.5h0m-95.3-14.8h0m8.8-18.2h0m94 26.1h0m-78.6-22.3h0m77.4 15.5h0m-100.4-.2h0m84.6-1.7h0m-36.6-20h0m-59.5 17h0m11.8-12.2h0m4.9 31.5h0m31.2-21.8h0m-2.4-13.4h0m38.4 13h0m-81.7 .8h0m99.6 17h0m-106.1-4h0m1.3-17.7h0m108.6 23.5h0m-6.7-25.3h0m4.8 1.4h0m-117.9 6.1h0m76.5-9.6h0m-30.3 16.4h0m76.4-.6h0m-103.4-7.4h0m103.3 14.4h0m-11.6-.5h0m-46.9-27.7h0m9.4 15.5h0m-44.6 12.5h0m86.5-13.8h0m-6.4-4.9h0m-4.5 27.3h0m-4.7-14h0m-51.8-22h0m58.5 5.2h0m-.6 28h0m-92.4-14.6h0m-3.5-6.6h0m98.9-1.4h0m-46.3 21.7h0m27.9-31.9h0m-6.4 11.2h0m-74.6 9.7h0m63-16.8h0m1.3 26.6h0m43.9-12.5h0m-90-16.5h0m28.1 9.8h0m1.3 1.5h0m30.4 11.4h0m16.8 10.3h0m-49-16.5h0m-48.5-5h0m47.5 4.5h0m39.4 1.7h0m9.7-4.9h0m6.9-12.1h0m-29.2 5.5h0m-16.9 5.3h0m-13.4-8.1h0m-27 4.1h0m27.9 23.3h0m27.9-2.1h0m-9.8-11.3h0m5.3-3h0m-4.6 14.5h0m56.8-13.6h0m-80-6.4h0m-18.8 7.1h0m87.2-7.6h0m-97.5 4.3h0m90.3-6.6h0m-90.2 9.7h0m-11.3-9.8h0m43 15.6h0m64.8 .5h0m-75.1 11.9h0m-4.6-12.9h0m-5.8-13h0m24.5 7.7h0m44.1 15.1h0m-46.5-34.5h0m-52 16.5h0m33.5 23.2h0m33.2-39.1h0m13.1 18.6h0m-31.2 .1h0m60.8 14.4h0m-.3-15.7h0m-55.8-6.7h0m-5.2 1.1h0m37.1 1.4h0m22.8-8.2h0m-80.9 .8h0m5.6 31.4h0m10.2-21h0m48.5 7.4h0m24.8 8.4h0m-83.3-24h0m80.2 23.8h0m-91.1-18.4h0m24.1 5.1h0m45.7 1.9h0m-5.6 13.1h0m-9.3-5.7h0m16-8.9h0m-51-3.9h0m61.6 4h0m-4.2-1.2h0m.1 3.7h0m-78.2-4.4h0m79.5 22.7h0m-43.1-39.3h0m-38.8 26.4h0m-7.5-5.5h0m90.3 13h0m-62.2-6.7h0m23 2.7h0m-60.1-11h0m88.8 14.6h0m-72.7-19.6h0m74.9 15.2h0m-58.1-9.2h0m51.1 4h0m33.6-16.1h0m-90 9h0m22.2-12h0m32.9-6.1h0m26.1 30.2h0m6-.5h0m.8-23.5h0m-76.1 16.8h0m82.4 .5h0m-.7 2.7h0m-8.2 3h0m-75.3 1.1h0m-16.3-6.1h0m-13.8-9.1h0m5 15.6h0m10.6-1.2h0m-9.9 9.5h0m.1-13.9h0m12.9 2h0m-16.2 4.8h0m55.3-16.6h0m-64.9 5h0m9.8-14.4h0m-6.6 13.6h0m36.6-9.2h0m34.7-2.1h0m-28.7 7h0m-33.8-7.9h0m54.7 28.7h0m-44-17.4h0m31.3-11.2h0m66.6 15h0m-16.1-14.6h0m8.4 24.6h0m-35.8-17.4h0m-82.3 4.6h0m31.9-9.7h0m57.3 15.9h0m-80.6-15.6h0m117.9 8.6h0m-20 22.2h0m-28.5-30.5h0m24.3 11.6h0m-35.2-18h0m41.3 23.8h0m-9.8-14.4h0m-26.9 6.9h0m-33.9-15.2h0m35.7-5h0m4.9 14.7h0m-9.1-1.8h0m-37.6 11h0m5.4-22.7h0m11.3 .3h0m68.9 9.8h0m-79.4 20.3h0m59.4 3.8h0m-54.9-23.6h0m-16.1 12.9h0m-11-13h0m59.9 13.4h0m-8.8-12.1h0m-15-1.4h0m-5.9 12.1h0m-19.6-12.4h0m88.9-5.3h0m-101 7.1h0m45.7 13.7h0m-21.6 3.9h0m.1-.9h0m3.2-29h0m11.2 24.1h0m79.1-5.6h0m-44.1-18.1h0m-58.1 24.1h0m10.7-2h0m15.9-9.1h0m18.3 11.3h0m29.4-24.7h0m-78 16.3h0m63.7 17.8h0m-76.7-14.2h0m91.7-.2h0m-35.5 9.7h0m-21-11.4h0m53.7 19.1h0m-66-16.9h0m9.7-14.8h0m52.5 12.1h0m-64.5 19.5h0m81.1-1.9h0m-39-14.5h0m36.6-.7h0m-10.5-16.4h0m8 1.7h0m-23-3.9h0m3.9 10.3h0m-23.5-2.3h0m-10.5 17.4h0m19.2 7.4h0m-14.4-8.6h0m62.8-12h0m-95.1 3.6h0m12.7-9.5h0m82.9 12.1h0m-119.3 4.6h0m50-25.7h0m26.8 29.3h0m.8-3.5h0m6.9-.4h0m-80.9-2.1h0m34.5 2h0m58.8-12.6h0m-73.6 20.1h0m87.1 3.3h0m-3.5-15.3h0m-36.4-10.1h0m-45.5 27.9h0m18.7-22.5h0m73 9.2h0m-108 13h0m26.2-9.3h0m-30.6-8h0m81.9-5.3h0m-86.7 .1h0m42.4 15h0m-8.3-4.3h0m24.2 6.2h0m51.4-4.3h0m-57.6-12.3h0m51.3-6.9h0m17.1 18.5h0m-56.2 7.4h0m-22-29.7h0m80.5 23.3h0m-57.7 7.3h0m52.3-29.1h0m7.2 25.3h0m-49-24.1h0m-16.5 13.2h0m21.5 10.4h0m-37.2-7.7h0m42.3 15.6h0m-27.3-33.7h0m8.4 13.9h0m56 6.6h0m-53.3-12.4h0m-57.4 13.9h0m-4 3.4h0m87.4-9.2h0m-.6 13.3h0m-87-5.5h0m56.4-23.7h0m16.4 33.1h0m-50-38.2h0m15.1 16.4h0m-16 13.7h0m22-30h0m55.8 17.6h0m7.7-13h0m-44.1 5.3h0m30.5 21.6h0m-87.9 .1h0m6.7-29.3h0m24.3 8.6h0m10.2 20.8h0m54.6-22h0m15.9 13.8h0m-13.9 12.2h0m-32.4-27.3h0m-72.3 18.9h0m70.7-13.1h0m28.3 4.2h0m-25.4 11.3h0m-6.6-28.9h0m-29.9 35.3h0m37-23.8h0m-4-1.5h0m25.3 15.7h0m-1.1-13.6h0m-73-9.5h0m21 31h0m-8.7-19.4h0m28.3 14.7h0m15-28.5h0m-51.6 34h0m-8.2-13.8h0m16.1-10.9h0m17.4 .6h0m67.1 15.2h0m-37.6-24.8h0m-41.9 1.8h0m-1.7-.3h0m-34.9 27.6h0m21-25.5h0m29.6 11h0m13-4.9h0m-52 18h0m58-20.6h0m22.4 12.9h0m-73.3 18h0m-9.7-34.1h0m94.2 7.3h0m-10 24.2h0m-16.1-31.8h0m-25.5 17.6h0m51.4 4.9h0m-27.3-6.8h0m-17.8-8.1h0m-8.8-1.8h0m-48.2 21.3h0m109.8 4.9h0m-51.4-12.1h0m-68.4-3h0m18.1-4.4h0m1.9-4.5h0m91.1 10.9h0m7.9-13.6h0m5.9 13.3h0m-53.9-26.3h0m31.4 15.7h0m-19.1-.3h0m9.4 13.6h0m-52.4-24.1h0m2.4 27.1h0m64.4-12.2h0m-87.1-5.7h0m18.4 7h0m41-18.2h0m2 5h0m-.9 9.1h0m31.3-12h0m-82.8 12.3h0m25 7.6h0m-16.2-19.6h0m53.6 .1h0m-55.8 24h0m82-19.5h0m-79.6 14.8h0m-18.4-8.4h0m10.8 16.8h0m43.4-7.4h0m20.3-19.5h0m-9.3 5.3h0m-81.3 9.5h0m77-18.5h0m-10 2.9h0m-51 1.2h0m10.7 12.9h0m1.9 5.1h0m21.9-5.8h0m54.8-10.8h0m-56-6.8h0m22.3 28.4h0m-63.8-3h0m20.2 13.8h0m-19.7-.7h0m40.2-33.9h0m60.9 8.4h0m-79.6 7h0m6.6-1.7h0m-29.5 2.4h0m67 6.6h0m-62.3-23.7h0m-3.5 19.9h0m84.7 9.1h0m8.9-1.1h0m.4-15.8h0m17.9 10.9h0m-7.4-6.5h0m-90.3-.3h0m35-5.1h0m45.6 15.5h0m-44.8-4.1h0m56.7-.2h0m-73.9-2.1h0m49.7 13.2h0m-94.5-20.7h0m62.6-16.3h0m-37.6 6h0m-11.8 34.4h0m85-37.2h0m1.8 11.4h0m4.7-6.5h0m-98 1.4h0m107.9 12h0m-41.6-8h0m-16.4 13.5h0m-46.1-.3h0m82.5-10.3h0m24 6.1h0m-73.5 17.1h0m-37.1-8.9h0m95.1-.1h0m-92-20.4h0m33.8 6.3h0m74.5 6.4h0m1.4 .6h0m-36-19.6h0m25.4 6.3h0m-8.6 29.6h0m-84.5-24.3h0m75.2 25h0m-45.5-12.6h0m-14.9-19.1h0m-10.6 1h0m65.7 15.7h0m-67.9 10.2h0m-2.8-21.3h0m65.8 14.6h0m24.1 7.9h0m-21-31.4h0m11.8-.4h0m-57.9 25.6h0m69.1-26.1h0m-51.6 1.5h0m17.4 4.4h0m21.4 2.8h0m-35.3-8.6h0m41.2 30.4h0m-28.7 1.9h0m27.9-5h0m-10.8-2.4h0m-24.8 6.8h0m17.2-30.7h0m-80.2 19.9h0m23.8 8.7h0m69.4 1h0m11.2 2.5h0m-88.8-29.2h0m31.6 15h0m-34 8h0m19.8-22.4h0m19.2 6.6h0m-43.1 16.3h0m8.5-22.7h0m77.2-4.2h0m-42 19.7h0m11.8-18.9h0m-20.1 25.4h0m-13.3-4.7h0m67.9 13.9h0m-13.3-11.7h0m-76.8-9.8h0m107.7 17h0m-26.5-16.8h0m-68.4-4.4h0m31.9-1.8h0m47.8 15.8h0m11.3-23.1h0m-17.9-1.8h0m-44.8 11.6h0m-29.9 3.4h0m98.3-.2h0m-113.4-8.1h0m51.8 16.1h0m22.3-4.5h0m4.5-4.5h0m4.8 10.3h0m5.3-19.3h0m-78.6-2.6h0m71.9 11.9h0m-40.2-3.1h0m53.8-7.4h0m-83.8 2h0m5.8 9h0m-11.1-4.7h0m18.9 6.7h0m39.7 8h0m-67.1-2.2h0m55.6-23.3h0m54.1 2.2h0m-12.7 33.8h0m-18-18.9h0m-66.2 13h0m54.4-12.3h0m11.2 12.2h0m20.7 .7h0m-23.9-11.7h0m-16.3 12.2h0m49.2-12h0m-31.9 1.9h0m-66 13h0m56.1-8.2h0m-49.1-2.8h0m61.3-13.7h0m-58.6-1.3h0m21.5 7h0m47.9 16h0m-4.9-9.4h0m-58.9-10.6h0m8.7 19.2h0m6-9h0m-23.8 .1h0m2.3-19.1h0m36.2-4.6h0m7.6 5.8h0m-4.2 2.4h0m39 21.3h0m-80.5-20h0m97.3 7.8h0m-101.1 18.2h0m92.4-15.2h0m-48.3-19.6h0m-44.2 34.5h0m60.6-21.6h0m-16-2.7h0m12 4.3h0m20.8 5.9h0m-63.5-2.2h0m16.9 .8h0m48.5-5.4h0m-71.7 11.2h0m53.7 1.7h0m-6.7-5.6h0m-56.4 6.3h0m69 7h0m-59.5-2.5h0m.8-.7h0m59.3 .7h0m23.1-25.1h0m-71.7 23.9h0m40.4-1.1h0m-5.3-14.2h0m-26.3 18.7h0m-38.1-15h0m93 11.1h0m3-25.8h0m-86 30.2h0m64.4-20.8h0m-34.2-.6h0m-1.8 11.7h0m52.6 3.9h0m-79.9-18.4h0m19.8 26.4h0m-27-22.6h0m97.1 23.7h0m-28.9-31.4h0m0 29.9h0m30.3-13h0m-103.8 10.7h0m52.7-6.3h0m-44.2 9.1h0m82.3-37.3h0m11.4 19.1h0m14.7 .7h0m-122.2 3.5h0m63.1 0h0m-53 1.6h0m71.4-6h0m-28.3-17.9h0m34.2 17.1h0m12.5 19.4h0m-46.4-33.3h0m36.8 0h0m-25.7 2.7h0m49.1 10h0m7.3-4.9h0m-31.1 5.7h0m-66.1-2.5h0m-13.4 12.8h0m21.7 8.3h0m88-13.2h0m-21-8.5h0m21.7 0h0m-.8 21.4h0m-111.5 .8h0m118.2-13.4h0m-54.3 7.8h0m-15.3-18.9h0m41.5 11.8h0m-71.7-17.8h0m20 28.1h0m16.2-21.9h0m-8.6 .7h0m-13.3-4.8h0m52.7 29.6h0m-63.4-7h0m8.9-7.8h0m64.5-19.5h0m13.6 6.1h0m-3.2 23.9h0m-96.6-27.7h0m27.5 29.9h0m16.1-28.3h0m31.1-2.6h0m-52.6 29.4h0m37.6-28.1h0m-40.3 31.3h0m20.9-31.8h0m8.2 22.3h0m-18.9-7.8h0m55-.4h0m-38.4-10.8h0m-4.5 2.1h0m-25.5 9.4h0m4.5-.9h0m8.3 .9h0m-32-12.7h0m106.1 15h0m-57.7 12.2h0m56.1-18.8h0m-67 18.9h0m52.4 3.8h0m8.2-33.5h0m-61.8 16.7h0m-15.6 12.4h0m60-24.6h0m-3-.6h0m31.4 22.4h0m-24-25.6h0m-64.5 25.1h0m3.8-15.9h0m-11.3-5.3h0m79.4-6.8h0m-71.5 16h0m-14.3-12.8h0m14.5 14h0m-30.7-12.2h0m18.9-2.9h0m21.2 19.5h0m3.8-8.9h0m69 8.2h0m-40.2-4.4h0m23.6 .8h0m-7.2 18.8h0m-40.9-8.8h0m67.3-10.4h0m-85-4.6h0m42.1-5h0m-58.9 27.4h0m75-36.5h0m1.5 20.4h0m26.3-10.8h0m-57.6 0h0m53.8 6.2h0m-82.3 .1h0m2.6-12.5h0m19.4-5.9h0m48.7 4.3h0m-19 36.2h0m-74.6-15h0m20.3 14.7h0m16.6-27.6h0m-15.1 25.5h0m81.4-9.1h0m-54.7-3.4h0m-31.8-11.6h0m41-5.2h0m-65.1 6.5h0m26.3 5.5h0m4.3-2.2h0m-18.8 14.2h0m55.1-2.3h0m-56.9-21.1h0m26 25.3h0m25.8-20.5h0m-55.7-3.2h0m36.3-8.9h0m-32.1 31.9h0m60.3-3.4h0m-26.2 .8h0m62.4 5h0m-2-16.6h0m-39.3 12.9h0m43.3-8.7h0m-68.6 7.4h0m-44.9-16.6h0m9.2 .8h0m70.1 9.1h0m21.3 10h0m-72.9-20h0m-9-8.8h0m22.2 16.9h0m-6.2-7.8h0m55.3-12.1h0m12.4 9.2h0m-24.3 4.3h0m-53.4 1.3h0m70.6-7.3h0m-21.3-1.7h0m-56.3 27.7h0m29.2-6.7h0m54.3-19.4h0m28 11.4h0m-58.8-3.8h0m-23.2 6.3h0m-47.8 2.1h0m57.7-16.6h0m25.5 16.5h0m-73.9 6.5h0m95.8-13.5h0m-48.9-14.4h0m30.7 26.5h0m15.3-1.2h0m-17.8-13.1h0m22.3-8.1h0m-70.5 30.7h0m.1-3.1h0m34.6-11.2h0m35.6-20.7h0m-29.2-3.8h0m-28.5 14h0m9.4 14.8h0m70.2-7h0m-36.8-9.8h0m.8 23.1h0m-77.5-30.9h0m104 17.1h0m-113.2 12.9h0m66.7-12.1h0m1.2-5.9h0m-52.6 11h0m43.3-25h0m30.8 8.4h0m-81.6 15.6h0m56.8 6.3h0m48.5-24.2h0m-11.2 25.8h0m-9.5-17.9h0m17.6-2h0m-48.3 21.5h0m47.4-1.8h0m-42.7-6.8h0m0-1h0m2-23.3h0m42.6 5.4h0m-23.3 3.7h0m-79.5 9.9h0m60.4-11.9h0m.1 3.4h0m-18.2 7.9h0m-18-9.2h0m1.5 20.8h0m45.5-21.5h0m-26.6 23.6h0m-24-14.3h0m-4.1 16.7h0m-16.9-28h0m5.1 23.5h0m49.5-10.8h0m14.2-5.5h0m-22.9-2.2h0m-44.6 14.6h0m40.4-23.6h0m44 32.3h0m-43.8-37.1h0m3.1 19.9h0m-23.9-2.7h0m-27.8-10h0m84.4 11.8h0m-51.9 10.7h0m-11.2-9h0m-21.5 4.7h0m70.5-27.7h0m21.8 26.3h0m-58.1-14.5h0m1.8 24.9h0m30.5 1.3h0m14.8-25.2h0m-85.7 3.3h0m11.4-2.2h0m84.9 11h0m29.6-5.6h0m-69.4 14.3h0m14.4-6.6h0m3.3-8.1h0m-60.9 21.5h0m22.1-5.6h0m61.1-14.1h0m-80.4 9.2h0m-12.5 2.7h0m105-13.8h0m-60.8-3h0m52.5-12.2h0m-70.6 .4h0m68.2 12.9h0m-30.1-8.8h0m30.8 12.6h0m-93.7 14.7h0m33.6-27.5h0m72.2 9.1h0m-46.3 6.5h0m47.8 16h0m-18.1 2h0m-33.3-38.4h0m-46.2 22h0m22.9-8.6h0m59.8 9.3h0m-33-23.6h0m-55 14.6h0m68.9-11.2h0m11.4 30.5h0m-3 4.4h0m-41.8-6.1h0m62.7 .2h0m6.7-.5h0m-81.1-29.4h0m.7-1.3h0m75.7 36.4h0m-50-21.5h0m-40.9 17.6h0m85.6-26.8h0m-100.7 17h0m33.1 5.2h0m72.5-6.6h0m-44.6-18.3h0m-45.9 20h0m58-14.6h0m17.4 3.2h0m31.5 17.2h0m-17.3-6.9h0m-32.1-17.8h0m-56.4 25.3h0m-1.4-18.2h0m45.5 3.5h0m-52.5-1.1h0m13.6-13.6h0m97.8 11.5h0m-99.1 5.8h0m23.9-15.1h0m10.3 27.6h0m7.6-22.3h0m-6.5 1.3h0m-4.9 2.9h0m-45.3 18.4h0m62.4-24.5h0m9.4 9h0m-72.2 7.2h0m94.1 11.6h0m-100.5-16.1h0m6.8-13.4h0m42 5.1h0m53.8-3.7h0m-64.9 26h0m73.9-22.6h0m-42.2-3.5h0m-24.6-7.9h0m40.8 18.2h0m12.1-13h0m-72.8 .9h0m-17.2 10.7h0m72.9 12.4h0m-77.8-1h0m87.2-11.9h0m-94.2 6.9h0m102-5.3h0m-21.9-6h0m12.2 17.9h0m19.8-9.1h0m12 9.2h0m-86.8 4.6h0m47.9-14h0m-22.7-19.6h0m37 33.3h0m-35.9 .4h0m-50.6-5h0m87.8-6.8h0m-91.8-1h0m101-3.2h0m-105.3 1.7h0m18.8 16.8h0m40.8-36.8h0m-7.5 32.9h0m46.1-8.4h0m-75.3-22h0m45.6 19.4h0m50.9-11h0m-89.8 22.5h0m24-20.2h0m.4-2.8h0m4.8 .6h0m-42 14.9h0m81.5-18.9h0m-8.5 34.6h0m30.9-20.8h0m-84.3 16.8h0m26.2-36.6h0m-42.9 30.4h0m33.3-6h0m68.8-9.8h0m-25.1 .6h0m-29.6 8.4h0m28.9-12.1h0m-11 27.3h0m-63.6-9.4h0m71.1 12.8h0m-44.8-41.2h0m49.9 4.1h0m-69.5 22.2h0m62.4-1.4h0m-4.9 13.5h0m-62.8-9.1h0m-3.3 7h0m24.2-34.3h0m66.4 33.8h0m-14.2-8.6h0m-39.4-11.3h0m-30.1 6.6h0m-27.5-1.7h0m18.3 13.6h0m69.8-31.1h0m-50.2 22.4h0m-6.8 1.7h0m-16.1-24.8h0m56.2 .1h0m-56 4.2h0m60.5 .6h0m-6.3 16.9h0m30.1 10.2h0m-44.8-27.4h0m25.4-3.6h0m-56.6 20.5h0m-5.6 7.9h0m-1.3-28h0m18.5 25.2h0m53.7 4.1h0m32.3-10.7h0m-72.6-22.9h0m17.4 23.7h0m-32.8-11.9h0m52.9 20.7h0m-.2-6h0m15.8-11h0m-87.5 1.3h0m77.5 19.7h0m-57.6-18.7h0m58-1.5h0m-88.2 10.1h0m118.3 .1h0m-75.2-19h0m-1.7 11.5h0m-42.4 5.6h0m36.3-25.4h0m25.8 2.3h0m36.6 10.5h0m-47.9 21.9h0m-7.3-28.4h0m4.1 23.6h0m57.5 3.3h0m-80.9-8.6h0m73.8-22.1h0m-95.6 18.1h0m88.2-20.1h0m-3.2 13.6h0m-76.9 4.3h0m59.6 13.7h0m-50-4.5h0m47.2-8.1h0m-15.4 16.2h0m39.2-12h0m-5.8-16.4h0m5.7 23.9h0m8.5-6.8h0m9.3-9.4h0m-7.9-8.8h0m-95.9 20h0m53.4-19.9h0m-15.1 10.8h0m-37.2 14.8h0m-2.1-13.2h0m63.8 10.5h0m-3.8-25.2h0m33.2 32.5h0m-20.5-27.5h0m-3.9 10.1h0m11.8 13.2h0m-22.3-11.3h0m29.1 7.7h0m-24.3 5.5h0m-3.1-11.3h0m-57-15.4h0m-5.7 22.2h0m39.6 .7h0m53.6 6.1h0m2.2-3.3h0m-1.6 7.6h0m-100.8-16.4h0m122-11.4h0m-98.5-3.3h0m22.8-3.1h0m-25.2 8.5h0m49.3 6.8h0m-40.2-17.1h0m7.8 31.3h0m66.9-12.7h0m-7.3-11.7h0m6.6 2.3h0m-49 5.4h0m39.2 7.2h0m-29.2 6h0m22.1-1.5h0m-22.4-21.7h0m61.3 9.3h0m-85.9 6h0m18.8-12h0m-23.6-5.3h0m-2.6 29.1h0m21.8-25.3h0m.5 .4h0m28.5 4.7h0m-64.3 12.6h0m-.9 7h0m64.9-3.9h0m-28.3-20.6h0m-33 5.8h0m58.7 7.4h0m-66.4-12.4h0m32.4-6.7h0m15.9 18.3h0m41.6-12.1h0m-4.2 .8h0m-82.1 20.3h0m79.6-27.2h0m-13.7 3.1h0m-54.7 20.7h0m-9.7-2.5h0m60.7-22.7h0m19 28.2h0m-43.2-5h0m-27.4-5h0m26-1.4h0m-22.8 15.9h0m-16-19.1h0m99.7-6.2h0m-62.6 24h0m-35.6-4.2h0m6.5-8.2h0m70.6-4.9h0m23.4 7.7h0m-48-27.4h0m42.7 27h0m-83.9 14h0m73.2-5.1h0m10.3-13.3h0m-71.7 9.1h0m-4.6 4.3h0m20.9-19.8h0m-34.4 17.5h0m-14.3 4h0m19.9-16.8h0m51.6-13.4h0m-37.6 5.2h0m9.3 15.4h0m-41.3 2.1h0m91.5-15.6h0m6.8 14.9h0m-21.2-9.2h0m16.9 17.6h0m-10.2-15.5h0m-45.7 7.7h0m78.9-3h0m-121.2-9.8h0m97.5-11.3h0m-73 27.6h0m-26.9 1.5h0m35.1 4.6h0m17.9-32.7h0m-27.9 11.6h0m62.4-12.2h0m28.8 27.6h0m-57.4-30.3h0m5.1 35.1h0m31.8-30.5h0m30.5 17.1h0m-10.9 3.6h0m-16.6-12.4h0m-67.8 6.8h0m7.9-8h0m45.8 21.3h0m-41.2-24.8h0m52-5.4h0m-10.8 31.9h0m36.2-22.6h0m-109.3-3.6h0m-10.8 3.8h0m57.5 8.4h0m50.4 .1h0m-91.2 6.4h0m45.5-25.6h0m-11.9 25h0m-53.5-10.1h0m122.5-5.9h0m-76.5 23.8h0m56.2 .6h0m-73.6-28.8h0m27.4 15.5h0m-6.7 10.3h0m-38.7 .9h0m13.7 .8h0m101.2-14.1h0m-37.6-9.7h0m-.9-12.4h0m-73.3 38.8h0m76-26.9h0m-68.7 19.7h0m7.8-18.7h0m11.2 2.1h0m44.8-16.5h0m-57.2 43.2h0m31.4-34.2h0m-38.6 21.9h0m2.7 7.3h0m86-18.3h0m-29.8-6.2h0m-20 1.5h0m39.9 21.2h0m6.9-29.4h0m-23.1 4.3h0m-24.4-8.3h0m-14.3 19.7h0m59.5-9.1h0m-7.7 10.9h0m-69.9-15h0m62.3 19h0m-82.1 7.7h0m73.4-6h0m-32.2-20h0m15.1 2.9h0m29.3 4.8h0m26.9 1.1h0m6.1-1.7h0m-55.4 8.2h0m-21.6 11h0m68.9-17.9h0m-.2 5.4h0m-3.6 2.5h0m-92.6-5.3h0m29.4-17.6h0m-9.6 2.3h0m-25.9 5.3h0m-9.5 20.8h0m114.1-11.8h0m-96.9-6.7h0m103.2 8.2h0m-73.8 9.6h0m37.2-18.5h0m11.8 9.3h0m-32-20h0m3.9 31h0m14.2-30.7h0m33.4 17.1h0m-95.4 1.4h0m54 18.3h0m-25-20.7h0m-17.5-9.8h0m-23 15.9h0m73.6-5.4h0m36.4-3.9h0m-42.9-13.6h0m27.4 12.9h0m-75.3-.2h0m59 4.7h0m36.5-1.3h0m-55.8-7.8h0m-23.4 6.4h0m59.7 9.8h0m-28.5 1.7h0m-62.5 4.9h0m23.7-22.6h0m30.3 2.5h0m-42.9 30h0m46.2-7.8h0m50.6-14.2h0m-9.3-1.1h0m-33 4.9h0m29.9-8.3h0m-68.8 22.9h0m56-.4h0m-66.7-25.4h0m-19.4 10.7h0m35.2-9.7h0m12.8 5.6h0m30.6-18h0m7.1 26.2h0m-22.9-11.9h0m-17.1-11h0m66.5 22.1h0m-28.8-20.7h0m7.8 34h0m-54.6-26h0m1 3.1h0m21.6 19.7h0m-66.6-24.2h0m20 22.9h0m5.3 5.3h0m79.2-14.3h0m-78.2-9.9h0m91.2 6.7h0m-13.5-11.1h0m-85.2 20.7h0m40.5-.8h0m21.8-12.2h0m-50.1 19.7h0m69-24.2h0m16.8 11.3h0m-31.9-17.2h0m19.8 11h0m-88.1-.8h0m-9.2-5.8h0m80-3.9h0m-62.5-1.5h0m30.6 3.1h0m-1.2 17.5h0m40.5-3.2h0m-75.3 9.7h0m19.7-23.1h0m15.1-2.8h0m-17.3 1h0m73.1 18.9h0m-85.7 1.7h0m90.4 1.3h0m-55.7-11h0m-30.6-10.7h0m50.2 18.7h0m-20.7-15.2h0m52 6.7h0m-111.8-1.9h0m68.2-2h0m6 15.3h0m-58.7-5.5h0m55-5.2h0m29.9 2.3h0m18.2-4.7h0m-121.8 1.9h0m64.6-15.8h0m5.1 21.8h0m-38.8-19.2h0m-1.8 6.8h0m-2.5 15.9h0m55.2-2.3h0m-25.1 3.6h0m-26.4 2.7h0m47.6-21.1h0m-59.8 4.5h0m87.7 5.9h0m-12.9 13.8h0m-63.7-28.4h0m99.1 12.1h0m-37.2 18.6h0m-4.4-14.1h0m11.7 13.6h0m-91.9-2.2h0m26.1 2.1h0m39.4-1.5h0m-30.7-21.8h0m43 18.7h0m-22.8-35.6h0m9.7 4.7h0m38.1 3.6h0m-2.8-.6h0m-69.8 11.6h0m58.2 7.4h0m-93.9-10.7h0m20.7 25.8h0m65.1-9.5h0m-42.3-2h0m78.7-11.1h0m-55.1-8.6h0m59.7 11.8h0m-102.7 13h0m93.9-4.3h0m-97.7-22.2h0m24.5 20h0m25.1-20h0m40.3 25.8h0m-96-8.8h0m70.6 1.2h0m-46.7-6.4h0m-3.3 8.2h0m70.1 .4h0m-5.7 2.3h0m-69.6-3.4h0m19-15.9h0m-35.8 14.8h0m53.5 9.9h0m-5-30.8h0m1.3 8.8h0m34.3-3.9h0m-72.4 14.2h0m86.3-10.5h0m-24.4 11.2h0m1.6 10.7h0m-78.1-19.2h0m93 9h0m-38.4 .8h0m-30.3 12.2h0m38.4-14.2h0m-69.9-1.7h0m92.1-17h0m-82.6 34.4h0m64.7-18.6h0m.5 16.6h0m-79.6-16.1h0m64.3-6.3h0m-3.2-7.4h0m-31.5-3.8h0m-5.7 8.5h0m63.4 20.1h0m-31.9-15h0m-31.6-12.3h0m92.7 .6h0m-50.8 17.1h0m-27.9-9h0m13.3-5.4h0m-9.9 10.7h0m86.3 5.1h0m-128.9-6.4h0m38.5-16.8h0m30.1 4.9h0m40.9 27.6h0m-16.8-28h0m-10.9 27.2h0m10.4-1.5h0m-20.2 2.8h0m-41-11.4h0m-3.6 6.1h0m-25.6-12.3h0m100.4-13.9h0m-58.3 6.8h0m10.3 19.3h0m-28.6-18.4h0m-9.9 21.2h0m68 1.5h0m-60.7 5.6h0m97-27.2h0m-30.3-2.3h0m-4.5 4.1h0m.8-11.2h0m-9-.9h0m25.3 9.5h0m-40.2 5h0m43.7 1.7h0m-73.9-13.5h0m2.1 30.3h0m-22-15.3h0m13.6 9.8h0m42.6-14.9h0m-31.8-9.3h0m-11.4 .4h0m56.2 32.8h0m21.1-3.2h0m-34.6-23.9h0m-40.9 24.6h0m29.6-29.8h0m5.1-2.4h0m63.5 22h0m-99.9 14.3h0m19.3-30.8h0m73.3 2.6h0m-47.4 9.4h0m15.3-1.8h0m-33.6-14.9h0m35.3 26.7h0m-37.5 2.7h0m47.5-26.9h0m-66.9 10.4h0m76.2 10.9h0m14.9-8.8h0m-37.8 6.3h0m-5-5.9h0m10.1 11.4h0m21.7-5.7h0m-13.4-13.3h0m-59.8-3h0m6 23.4h0m2.6-24.6h0m1.6 18.5h0m3.1-7.2h0m53.3-12.5h0m20.8 5.4h0m-56.2 23h0m-59.7-12.6h0m74.8 5.1h0m23-16.4h0m-15.2 26.8h0m-66.8-5.9h0m92.3-18.3h0m-106.2 16h0m75.3 6.6h0m38.2-16.1h0m-72 6.9h0m46.7-13h0m-36.7 1h0m47.4 24.8h0m-92.5-35.3h0m106.5 19h0m-113.5 6.6h0m17.9-23.3h0m35.6 16.8h0m-37.4-7.4h0m79.7-12.6h0m-55.9 21h0m6.8-1.9h0m57.6 5.6h0m-50.5-16.2h0m64.2 8.6h0m-10-8.7h0m5.3 .2h0m-104.2 22.2h0m30.6-34.3h0m64.1 7h0m-105.6 30.9h0m14.8-6.7h0m42.8-16.5h0m-11.5-5.2h0m-18.2 .1h0m-17 5.2h0m22.2 6.7h0m-12.7-8.4h0m93.7 14.2h0m-101.9-1.1h0m-15.9-2h0m32.5-13.2h0m18.5 17.4h0m36.6-1.1h0m7.5-4.8h0m-86.3-3.6h0m49.7 8h0m-23.3 13.1h0m-14.8-18.1h0m56.8-15h0m-44 5.6h0m15 20.7h0m25.4-12.5h0m43.1-10.8h0m-5.4 23.6h0m-14.2-4.4h0m-12.1-9h0m-80.2-5.1h0m71.1-4.4h0m1.1 28.9h0m-16.9-28.7h0m-42.4 26.7h0m17.3-6.2h0m38-25.8h0m6.3 3h0m-28.6-3.5h0m-17.7 33.2h0m-19-7.9h0m30.2-.8h0m-48.8-2.1h0m28-25.7h0m71.9 30.9h0m-14.2-24.1h0m-43.1 23.3h0m4.8-18h0m-11.6 18.6h0m96.2-9.7h0m-71.2-8.7h0m37.5 17.5h0m10.1-16h0m16.1 7.2h0m-43.5-22.5h0m1.8 20.3h0m-27.9-4.4h0m-34.7-6.4h0m96.3 4.8h0m-35.2 17.5h0m-42.9-4.7h0m21.8 5.1h0m-11.2-27.3h0m68.6 9.7h0m-27.3 20.4h0m-62-12.2h0m2.8 8.1h0m81.4-7h0m-88-3.4h0m9.1 4.6h0" stroke="#a4960f" stroke-width="1.1" stroke-linecap="round" fill="none" opacity=".9"/>
<rect x="45" y="237.2" width="148.9" height="65.9" fill="none" stroke="#111" stroke-width="1.3"/>
<text x="115.3" y="228.36" text-anchor="middle">9883 starting positions</text>
<text x="59" y="316.26" text-anchor="middle">-1.0</text>
<text x="89.65" y="316.26" text-anchor="middle">-0.5</text>
<text x="120.3" y="316.26" text-anchor="middle">0.0</text>
<text x="150.95" y="316.26" text-anchor="middle">0.5</text>
<text x="181.6" y="316.26" text-anchor="middle">1.0</text>
<text x="40.6" y="242.76" text-anchor="end">0.5</text>
<text x="40.6" y="257.86" text-anchor="end">0.25</text>
<text x="40.6" y="272.96" text-anchor="end">0.0</text>
<text x="40.6" y="288.06" text-anchor="end">-0.25</text>
<text x="40.6" y="303.16" text-anchor="end">-0.5</text>
<text x="119.4" y="334.66" text-anchor="middle">(µm)</text>
<path d="M271.8 312.9H277.9V255.4H271.8ZM278.89 312.9H284.99V208.82H278.89ZM285.98 312.9H292.08V223.77H285.98ZM293.07 312.9H299.17V251.37H293.07ZM300.16 312.9H306.26V254.25H300.16ZM307.25 312.9H313.35V266.9H307.25ZM314.34 312.9H320.44V266.9H314.34ZM321.43 312.9H327.53V270.35H321.43ZM328.52 312.9H334.62V272.65H328.52ZM335.61 312.9H341.71V271.79H335.61ZM342.7 312.9H348.8V273.8H342.7ZM349.79 312.9H355.89V273.8H349.79ZM356.88 312.9H362.98V277.82H356.88ZM363.97 312.9H370.07V277.82H363.97ZM371.06 312.9H377.16V279.26H371.06ZM378.15 312.9H384.25V282.71H378.15ZM385.24 312.9H391.34V281.27H385.24ZM392.33 312.9H398.43V285.59H392.33ZM399.42 312.9H405.52V288.75H399.42Z" fill="#1f77b4"/>
<path d="M270.88 312.85C271.22 309.2 272.19 299.95 272.92 290.95C273.65 281.95 274.48 269.54 275.26 258.83C276.03 248.13 276.76 235.23 277.59 226.72C278.42 218.2 279.29 211.87 280.22 207.74C281.14 203.6 282.21 202.04 283.14 201.9C284.06 201.75 284.89 204.18 285.77 206.86C286.64 209.54 287.23 212.21 288.39 217.96C289.56 223.7 291.07 234.5 292.77 241.31C294.48 248.13 296.67 254.79 298.61 258.83C300.56 262.87 302.51 264.23 304.45 265.55C306.4 266.86 308.1 266.67 310.29 266.72C312.48 266.76 315.4 266.03 317.59 265.84C319.78 265.64 321.24 265.4 323.43 265.55C325.62 265.69 327.81 265.79 330.73 266.72C333.65 267.64 337.3 269.49 340.95 271.09C344.6 272.7 348.73 274.84 352.63 276.35C356.52 277.86 360.41 279.08 364.31 280.15C368.2 281.22 372.09 282.14 375.99 282.77C379.88 283.41 384.26 283.75 387.66 283.94C391.07 284.14 393.31 284.04 396.42 283.94C399.54 283.84 404.7 283.45 406.35 283.36" fill="none" stroke="#111111" stroke-width="1.4" stroke-linejoin="round"/>
<path d="M270.88 312.85C271.85 311.14 274.77 306.03 276.72 302.63C278.66 299.22 280.61 295.57 282.55 292.41C284.5 289.25 286.2 286.42 288.39 283.65C290.58 280.88 293.26 277.81 295.69 275.77C298.13 273.72 300.56 272.46 302.99 271.39C305.43 270.32 307.86 269.73 310.29 269.34C312.73 268.95 315.4 269 317.59 269.05C319.78 269.1 321 269.1 323.43 269.64C325.86 270.17 329.27 271.14 332.19 272.26C335.11 273.38 337.54 274.7 340.95 276.35C344.36 278 348.73 280.34 352.63 282.19C356.52 284.04 360.41 285.99 364.31 287.45C368.2 288.91 372.09 290.02 375.99 290.95C379.88 291.87 384.26 292.51 387.66 292.99C391.07 293.48 393.31 293.67 396.42 293.87C399.54 294.06 404.7 294.11 406.35 294.16" fill="none" stroke="#f01010" stroke-width="1.4" stroke-linejoin="round"/>
<path d="M270.88 312.85C271.17 310.17 272.04 302.87 272.63 296.79C273.21 290.71 273.7 284.62 274.38 276.35C275.06 268.08 275.84 255.43 276.72 247.15C277.59 238.88 278.76 231.34 279.64 226.72C280.51 222.09 281.19 220.29 281.97 219.42C282.75 218.54 283.48 219.27 284.31 221.46C285.13 223.65 286.01 227.79 286.93 232.55C287.86 237.32 288.64 242.77 289.85 250.07C291.07 257.37 292.77 268.81 294.23 276.35C295.69 283.89 297.15 290.46 298.61 295.33C300.07 300.19 301.53 303.31 302.99 305.55C304.45 307.79 305.67 308.08 307.37 308.76C309.08 309.44 310.54 309.59 313.21 309.64C315.89 309.68 318.81 309.39 323.43 309.05C328.05 308.71 334.62 308.08 340.95 307.59C347.27 307.1 354.57 306.62 361.39 306.13C368.2 305.64 375.99 305.06 381.82 304.67C387.66 304.28 392.34 304.04 396.42 303.8C400.51 303.55 404.7 303.31 406.35 303.21" fill="none" stroke="#0d860d" stroke-width="1.4" stroke-linejoin="round"/>
<rect x="264.2" y="196.5" width="148.9" height="117.2" fill="none" stroke="#0a0a0a" stroke-width="1.35"/>
<text x="270.5" y="327.16" text-anchor="middle">0.0</text>
<text x="293.12" y="327.16" text-anchor="middle">0.1</text>
<text x="315.74" y="327.16" text-anchor="middle">0.2</text>
<text x="338.36" y="327.16" text-anchor="middle">0.3</text>
<text x="360.98" y="327.16" text-anchor="middle">0.4</text>
<text x="383.6" y="327.16" text-anchor="middle">0.5</text>
<text x="406.22" y="327.16" text-anchor="middle">0.6</text>
<text x="258.9" y="201.36" text-anchor="end">4.0</text>
<text x="258.9" y="230.11" text-anchor="end">3.0</text>
<text x="258.9" y="258.86" text-anchor="end">2.0</text>
<text x="258.9" y="287.61" text-anchor="end">1.0</text>
<text x="256.1" y="316.36" text-anchor="end">0</text>
<path d="M270.5 314.2v1.7M293.12 314.2v1.7M315.74 314.2v1.7M338.36 314.2v1.7M360.98 314.2v1.7M383.6 314.2v1.7M406.22 314.2v1.7M263.7 197.9h-1.7M263.7 226.65h-1.7M263.7 255.4h-1.7M263.7 284.15h-1.7M263.7 312.9h-1.7M263.7 212.27h-1.1M263.7 241.02h-1.1M263.7 269.77h-1.1M263.7 298.52h-1.1" stroke="#1c1c1c" stroke-width=".9" fill="none"/>
<text x="328.4" y="343.26" text-anchor="middle">Displacement (µm)</text>
<text x="235.16" y="255" text-anchor="middle" transform="rotate(-90 235.16 255)">Probability density</text>
<path d="M297.2 201.9L307.4 201.9" stroke="#111111" stroke-width="1.25"/>
<text x="310.9" y="204.38" font-size="6.9">Sum</text>
<path d="M297.2 210.7L307.4 210.7" stroke="#f01010" stroke-width="1.25"/>
<text x="310.9" y="213.18" font-size="6.9">D1 = 2.03 µm²/s | Fr = 0.62</text>
<path d="M297.2 220.9L307.4 220.9" stroke="#0d860d" stroke-width="1.25"/>
<text x="310.9" y="223.38" font-size="6.9">D2 = 0.12 µm²/s | mBd = 0.38</text>
<rect x="476" y="191.4" width="170.3" height="55.4" fill="#440154"/>
<path fill="#460a5d" d="M479.87 191.4h4.22v4.04h-4.22zM495.35 191.4h8.09v4.04h-8.09zM599.85 191.4h4.22v4.04h-4.22zM615.34 191.4h8.09v4.04h-8.09zM638.56 191.4h4.22v4.04h-4.22zM491.48 195.09h4.22v4.04h-4.22zM638.56 195.09h4.22v4.04h-4.22zM479.87 198.79h11.96v4.04h-11.96zM630.82 198.79h4.22v4.04h-4.22zM479.87 206.17h4.22v4.04h-4.22zM634.69 206.17h8.09v4.04h-8.09zM483.74 209.87h4.22v4.04h-4.22zM642.43 213.56h3.87v4.04h-3.87zM476 217.25h4.22v4.04h-4.22zM642.43 224.64h3.87v4.04h-3.87zM638.56 228.33h4.22v4.04h-4.22zM476 232.03h11.96v4.04h-11.96zM642.43 232.03h3.87v4.04h-3.87zM479.87 235.72h4.22v4.04h-4.22zM487.61 235.72h4.22v4.04h-4.22zM476 239.41h8.09v4.04h-8.09zM483.74 243.11h4.22v3.69h-4.22zM495.35 243.11h8.09v3.69h-8.09zM506.96 243.11h8.09v3.69h-8.09zM522.45 243.11h8.09v3.69h-8.09zM541.8 243.11h4.22v3.69h-4.22zM557.28 243.11h4.22v3.69h-4.22zM619.21 243.11h4.22v3.69h-4.22zM626.95 243.11h4.22v3.69h-4.22zM642.43 243.11h3.87v3.69h-3.87z"/>
<path fill="#481c6e" d="M510.83 191.4h4.22v4.04h-4.22zM522.45 191.4h4.22v4.04h-4.22zM568.89 191.4h4.22v4.04h-4.22zM580.5 191.4h4.22v4.04h-4.22zM495.35 195.09h4.22v4.04h-4.22zM623.08 195.09h4.22v4.04h-4.22zM626.95 198.79h4.22v4.04h-4.22zM483.74 202.48h4.22v4.04h-4.22zM491.48 202.48h4.22v4.04h-4.22zM479.87 209.87h4.22v4.04h-4.22zM638.56 213.56h4.22v4.04h-4.22zM483.74 228.33h4.22v4.04h-4.22zM491.48 235.72h4.22v4.04h-4.22zM615.34 239.41h4.22v4.04h-4.22zM623.08 239.41h4.22v4.04h-4.22zM514.7 243.11h4.22v3.69h-4.22zM549.54 243.11h8.09v3.69h-8.09zM565.02 243.11h4.22v3.69h-4.22zM576.63 243.11h4.22v3.69h-4.22zM584.37 243.11h4.22v3.69h-4.22zM611.47 243.11h4.22v3.69h-4.22z"/>
<path fill="#463480" d="M514.7 191.4h4.22v4.04h-4.22zM514.7 195.09h4.22v4.04h-4.22zM522.45 195.09h4.22v4.04h-4.22zM553.41 195.09h4.22v4.04h-4.22zM565.02 198.79h4.22v4.04h-4.22zM615.34 198.79h4.22v4.04h-4.22zM630.82 202.48h8.09v4.04h-8.09zM487.61 206.17h4.22v4.04h-4.22zM638.56 209.87h4.22v4.04h-4.22zM487.61 217.25h4.22v4.04h-4.22zM483.74 224.64h4.22v4.04h-4.22zM491.48 224.64h4.22v4.04h-4.22zM634.69 228.33h4.22v4.04h-4.22zM491.48 232.03h4.22v4.04h-4.22zM514.7 235.72h4.22v4.04h-4.22zM626.95 235.72h4.22v4.04h-4.22zM514.7 239.41h4.22v4.04h-4.22zM607.6 243.11h4.22v3.69h-4.22z"/>
<path fill="#482475" d="M518.58 191.4h4.22v4.04h-4.22zM526.32 191.4h4.22v4.04h-4.22zM537.93 191.4h4.22v4.04h-4.22zM549.54 191.4h4.22v4.04h-4.22zM572.76 191.4h4.22v4.04h-4.22zM611.47 191.4h4.22v4.04h-4.22zM499.22 195.09h8.09v4.04h-8.09zM561.15 195.09h4.22v4.04h-4.22zM495.35 198.79h4.22v4.04h-4.22zM495.35 202.48h4.22v4.04h-4.22zM506.96 202.48h4.22v4.04h-4.22zM518.58 206.17h4.22v4.04h-4.22zM479.87 220.95h4.22v4.04h-4.22zM487.61 232.03h4.22v4.04h-4.22zM495.35 232.03h4.22v4.04h-4.22zM630.82 232.03h4.22v4.04h-4.22zM506.96 235.72h4.22v4.04h-4.22zM495.35 239.41h4.22v4.04h-4.22zM506.96 239.41h4.22v4.04h-4.22zM599.85 239.41h4.22v4.04h-4.22zM611.47 239.41h4.22v4.04h-4.22zM595.98 243.11h4.22v3.69h-4.22z"/>
<path fill="#472d7b" d="M530.19 191.4h4.22v4.04h-4.22zM541.8 191.4h4.22v4.04h-4.22zM565.02 191.4h4.22v4.04h-4.22zM603.72 191.4h4.22v4.04h-4.22zM510.83 195.09h4.22v4.04h-4.22zM576.63 195.09h4.22v4.04h-4.22zM592.11 195.09h4.22v4.04h-4.22zM491.48 198.79h4.22v4.04h-4.22zM487.61 202.48h4.22v4.04h-4.22zM483.74 206.17h4.22v4.04h-4.22zM491.48 206.17h4.22v4.04h-4.22zM634.69 209.87h4.22v4.04h-4.22zM634.69 217.25h4.22v4.04h-4.22zM638.56 224.64h4.22v4.04h-4.22zM491.48 228.33h4.22v4.04h-4.22zM510.83 239.41h4.22v4.04h-4.22zM588.24 239.41h4.22v4.04h-4.22zM603.72 239.41h4.22v4.04h-4.22zM530.19 243.11h4.22v3.69h-4.22zM572.76 243.11h4.22v3.69h-4.22zM580.5 243.11h4.22v3.69h-4.22zM588.24 243.11h8.09v3.69h-8.09zM603.72 243.11h4.22v3.69h-4.22z"/>
<path fill="#471365" d="M534.06 191.4h4.22v4.04h-4.22zM557.28 191.4h4.22v4.04h-4.22zM607.6 191.4h4.22v4.04h-4.22zM487.61 209.87h4.22v4.04h-4.22zM642.43 217.25h3.87v4.04h-3.87zM642.43 220.95h3.87v4.04h-3.87zM634.69 224.64h4.22v4.04h-4.22zM634.69 232.03h4.22v4.04h-4.22zM630.82 235.72h4.22v4.04h-4.22zM503.09 243.11h4.22v3.69h-4.22zM615.34 243.11h4.22v3.69h-4.22z"/>
<path fill="#414487" d="M545.67 191.4h4.22v4.04h-4.22zM588.24 191.4h11.96v4.04h-11.96zM545.67 195.09h4.22v4.04h-4.22zM565.02 195.09h4.22v4.04h-4.22zM580.5 195.09h4.22v4.04h-4.22zM611.47 198.79h4.22v4.04h-4.22zM603.72 202.48h4.22v4.04h-4.22zM479.87 213.56h4.22v4.04h-4.22zM619.21 213.56h4.22v4.04h-4.22zM518.58 220.95h4.22v4.04h-4.22zM626.95 224.64h4.22v4.04h-4.22zM499.22 228.33h4.22v4.04h-4.22zM510.83 235.72h4.22v4.04h-4.22zM588.24 235.72h4.22v4.04h-4.22zM603.72 235.72h4.22v4.04h-4.22zM518.58 239.41h4.22v4.04h-4.22zM545.67 239.41h4.22v4.04h-4.22zM572.76 239.41h8.09v4.04h-8.09zM592.11 239.41h4.22v4.04h-4.22zM518.58 243.11h4.22v3.69h-4.22z"/>
<path fill="#443b84" d="M553.41 191.4h4.22v4.04h-4.22zM561.15 191.4h4.22v4.04h-4.22zM576.63 191.4h4.22v4.04h-4.22zM584.37 191.4h4.22v4.04h-4.22zM599.85 195.09h4.22v4.04h-4.22zM619.21 195.09h4.22v4.04h-4.22zM499.22 198.79h4.22v4.04h-4.22zM584.37 198.79h4.22v4.04h-4.22zM603.72 198.79h4.22v4.04h-4.22zM595.98 202.48h4.22v4.04h-4.22zM638.56 220.95h4.22v4.04h-4.22zM487.61 228.33h4.22v4.04h-4.22zM499.22 232.03h4.22v4.04h-4.22zM615.34 232.03h8.09v4.04h-8.09zM607.6 235.72h4.22v4.04h-4.22zM503.09 239.41h4.22v4.04h-4.22zM565.02 239.41h4.22v4.04h-4.22zM580.5 239.41h4.22v4.04h-4.22zM607.6 239.41h4.22v4.04h-4.22zM537.93 243.11h4.22v3.69h-4.22zM545.67 243.11h4.22v3.69h-4.22zM561.15 243.11h4.22v3.69h-4.22z"/>
<path fill="#2f6c8e" d="M506.96 195.09h4.22v4.04h-4.22zM530.19 195.09h4.22v4.04h-4.22zM603.72 195.09h4.22v4.04h-4.22zM537.93 198.79h4.22v4.04h-4.22zM576.63 198.79h4.22v4.04h-4.22zM561.15 202.48h4.22v4.04h-4.22zM623.08 202.48h8.09v4.04h-8.09zM595.98 206.17h4.22v4.04h-4.22zM522.45 209.87h4.22v4.04h-4.22zM603.72 209.87h4.22v4.04h-4.22zM491.48 213.56h4.22v4.04h-4.22zM626.95 213.56h4.22v4.04h-4.22zM483.74 217.25h4.22v4.04h-4.22zM526.32 217.25h4.22v4.04h-4.22zM499.22 220.95h4.22v4.04h-4.22zM576.63 220.95h4.22v4.04h-4.22zM510.83 232.03h4.22v4.04h-4.22zM572.76 232.03h4.22v4.04h-4.22zM526.32 235.72h4.22v4.04h-4.22zM572.76 235.72h4.22v4.04h-4.22zM615.34 235.72h4.22v4.04h-4.22zM526.32 239.41h4.22v4.04h-4.22z"/>
<path fill="#355f8d" d="M518.58 195.09h4.22v4.04h-4.22zM537.93 195.09h4.22v4.04h-4.22zM568.89 195.09h4.22v4.04h-4.22zM615.34 195.09h4.22v4.04h-4.22zM503.09 198.79h4.22v4.04h-4.22zM545.67 198.79h4.22v4.04h-4.22zM619.21 198.79h4.22v4.04h-4.22zM495.35 206.17h4.22v4.04h-4.22zM530.19 206.17h4.22v4.04h-4.22zM553.41 206.17h4.22v4.04h-4.22zM630.82 206.17h4.22v4.04h-4.22zM510.83 209.87h8.09v4.04h-8.09zM534.06 209.87h4.22v4.04h-4.22zM514.7 213.56h4.22v4.04h-4.22zM495.35 220.95h4.22v4.04h-4.22zM592.11 224.64h4.22v4.04h-4.22zM526.32 228.33h4.22v4.04h-4.22zM615.34 228.33h4.22v4.04h-4.22zM503.09 235.72h4.22v4.04h-4.22zM518.58 235.72h4.22v4.04h-4.22zM561.15 235.72h4.22v4.04h-4.22zM595.98 239.41h4.22v4.04h-4.22z"/>
<path fill="#38598c" d="M526.32 195.09h4.22v4.04h-4.22zM541.8 195.09h4.22v4.04h-4.22zM557.28 195.09h4.22v4.04h-4.22zM584.37 195.09h4.22v4.04h-4.22zM510.83 198.79h4.22v4.04h-4.22zM503.09 202.48h4.22v4.04h-4.22zM506.96 206.17h4.22v4.04h-4.22zM623.08 209.87h4.22v4.04h-4.22zM630.82 217.25h4.22v4.04h-4.22zM638.56 217.25h4.22v4.04h-4.22zM503.09 220.95h4.22v4.04h-4.22zM626.95 220.95h4.22v4.04h-4.22zM634.69 220.95h4.22v4.04h-4.22zM549.54 224.64h4.22v4.04h-4.22zM603.72 224.64h4.22v4.04h-4.22zM514.7 228.33h4.22v4.04h-4.22zM623.08 228.33h4.22v4.04h-4.22zM514.7 232.03h8.09v4.04h-8.09zM537.93 232.03h4.22v4.04h-4.22zM568.89 232.03h4.22v4.04h-4.22zM623.08 232.03h4.22v4.04h-4.22zM619.21 235.72h4.22v4.04h-4.22zM522.45 239.41h4.22v4.04h-4.22zM549.54 239.41h4.22v4.04h-4.22zM557.28 239.41h4.22v4.04h-4.22z"/>
<path fill="#3b528b" d="M534.06 195.09h4.22v4.04h-4.22zM611.47 195.09h4.22v4.04h-4.22zM623.08 198.79h4.22v4.04h-4.22zM526.32 209.87h4.22v4.04h-4.22zM483.74 213.56h4.22v4.04h-4.22zM510.83 217.25h4.22v4.04h-4.22zM491.48 220.95h4.22v4.04h-4.22zM487.61 224.64h4.22v4.04h-4.22zM506.96 228.33h4.22v4.04h-4.22zM557.28 228.33h4.22v4.04h-4.22zM599.85 228.33h4.22v4.04h-4.22zM630.82 228.33h4.22v4.04h-4.22zM495.35 235.72h8.09v4.04h-8.09zM599.85 235.72h4.22v4.04h-4.22zM623.08 235.72h4.22v4.04h-4.22zM584.37 239.41h4.22v4.04h-4.22zM619.21 239.41h4.22v4.04h-4.22z"/>
<path fill="#2a788e" d="M572.76 195.09h4.22v4.04h-4.22zM549.54 198.79h4.22v4.04h-4.22zM545.67 202.48h4.22v4.04h-4.22zM557.28 202.48h4.22v4.04h-4.22zM584.37 202.48h4.22v4.04h-4.22zM611.47 202.48h4.22v4.04h-4.22zM619.21 202.48h4.22v4.04h-4.22zM499.22 206.17h4.22v4.04h-4.22zM514.7 206.17h4.22v4.04h-4.22zM495.35 209.87h4.22v4.04h-4.22zM592.11 209.87h4.22v4.04h-4.22zM530.19 217.25h4.22v4.04h-4.22zM541.8 217.25h4.22v4.04h-4.22zM495.35 224.64h4.22v4.04h-4.22zM518.58 224.64h4.22v4.04h-4.22zM526.32 224.64h4.22v4.04h-4.22zM561.15 224.64h4.22v4.04h-4.22zM568.89 224.64h4.22v4.04h-4.22zM530.19 228.33h4.22v4.04h-4.22zM580.5 228.33h4.22v4.04h-4.22zM549.54 235.72h4.22v4.04h-4.22zM568.89 235.72h4.22v4.04h-4.22zM592.11 235.72h4.22v4.04h-4.22z"/>
<path fill="#31668e" d="M588.24 195.09h4.22v4.04h-4.22zM506.96 198.79h4.22v4.04h-4.22zM534.06 198.79h4.22v4.04h-4.22zM588.24 198.79h4.22v4.04h-4.22zM553.41 202.48h4.22v4.04h-4.22zM580.5 206.17h4.22v4.04h-4.22zM599.85 206.17h4.22v4.04h-4.22zM623.08 206.17h4.22v4.04h-4.22zM518.58 209.87h4.22v4.04h-4.22zM619.21 209.87h4.22v4.04h-4.22zM630.82 213.56h8.09v4.04h-8.09zM603.72 217.25h4.22v4.04h-4.22zM537.93 224.64h4.22v4.04h-4.22zM518.58 228.33h4.22v4.04h-4.22zM626.95 228.33h4.22v4.04h-4.22zM522.45 232.03h4.22v4.04h-4.22zM565.02 235.72h4.22v4.04h-4.22zM580.5 235.72h8.09v4.04h-8.09zM534.06 239.41h8.09v4.04h-8.09zM553.41 239.41h4.22v4.04h-4.22zM561.15 239.41h4.22v4.04h-4.22z"/>
<path fill="#25848e" d="M595.98 195.09h4.22v4.04h-4.22zM541.8 198.79h4.22v4.04h-4.22zM592.11 198.79h4.22v4.04h-4.22zM607.6 198.79h4.22v4.04h-4.22zM514.7 202.48h4.22v4.04h-4.22zM522.45 202.48h8.09v4.04h-8.09zM534.06 202.48h4.22v4.04h-4.22zM565.02 202.48h4.22v4.04h-4.22zM599.85 202.48h4.22v4.04h-4.22zM534.06 206.17h4.22v4.04h-4.22zM603.72 206.17h4.22v4.04h-4.22zM626.95 206.17h4.22v4.04h-4.22zM576.63 209.87h4.22v4.04h-4.22zM557.28 213.56h4.22v4.04h-4.22zM607.6 213.56h4.22v4.04h-4.22zM491.48 217.25h4.22v4.04h-4.22zM506.96 217.25h4.22v4.04h-4.22zM580.5 217.25h4.22v4.04h-4.22zM599.85 217.25h4.22v4.04h-4.22zM626.95 217.25h4.22v4.04h-4.22zM595.98 220.95h4.22v4.04h-4.22zM603.72 220.95h4.22v4.04h-4.22zM506.96 224.64h4.22v4.04h-4.22zM553.41 224.64h4.22v4.04h-4.22zM611.47 224.64h4.22v4.04h-4.22zM495.35 228.33h4.22v4.04h-4.22zM549.54 228.33h4.22v4.04h-4.22zM565.02 232.03h4.22v4.04h-4.22zM603.72 232.03h4.22v4.04h-4.22zM611.47 232.03h4.22v4.04h-4.22zM522.45 235.72h4.22v4.04h-4.22zM595.98 235.72h4.22v4.04h-4.22zM541.8 239.41h4.22v4.04h-4.22z"/>
<path fill="#3e4a89" d="M607.6 195.09h4.22v4.04h-4.22zM526.32 198.79h4.22v4.04h-4.22zM572.76 198.79h4.22v4.04h-4.22zM499.22 202.48h4.22v4.04h-4.22zM630.82 209.87h4.22v4.04h-4.22zM599.85 213.56h4.22v4.04h-4.22zM534.06 220.95h8.09v4.04h-8.09zM619.21 220.95h4.22v4.04h-4.22zM541.8 228.33h4.22v4.04h-4.22zM534.06 232.03h4.22v4.04h-4.22zM530.19 235.72h4.22v4.04h-4.22zM537.93 235.72h4.22v4.04h-4.22zM557.28 235.72h4.22v4.04h-4.22zM530.19 239.41h4.22v4.04h-4.22zM568.89 239.41h4.22v4.04h-4.22z"/>
<path fill="#1f968b" d="M514.7 198.79h4.22v4.04h-4.22zM561.15 206.17h8.09v4.04h-8.09zM537.93 209.87h4.22v4.04h-4.22zM565.02 209.87h4.22v4.04h-4.22zM615.34 213.56h4.22v4.04h-4.22zM514.7 217.25h4.22v4.04h-4.22zM545.67 217.25h4.22v4.04h-4.22zM565.02 217.25h4.22v4.04h-4.22zM565.02 220.95h4.22v4.04h-4.22zM510.83 224.64h4.22v4.04h-4.22zM572.76 224.64h4.22v4.04h-4.22zM537.93 228.33h4.22v4.04h-4.22zM619.21 228.33h4.22v4.04h-4.22zM541.8 235.72h4.22v4.04h-4.22zM553.41 235.72h4.22v4.04h-4.22z"/>
<path fill="#277e8e" d="M518.58 198.79h4.22v4.04h-4.22zM557.28 198.79h4.22v4.04h-4.22zM588.24 202.48h4.22v4.04h-4.22zM619.21 206.17h4.22v4.04h-4.22zM530.19 209.87h4.22v4.04h-4.22zM615.34 209.87h4.22v4.04h-4.22zM510.83 213.56h4.22v4.04h-4.22zM530.19 213.56h4.22v4.04h-4.22zM580.5 213.56h4.22v4.04h-4.22zM534.06 217.25h4.22v4.04h-4.22zM526.32 220.95h4.22v4.04h-4.22zM557.28 220.95h4.22v4.04h-4.22zM568.89 220.95h4.22v4.04h-4.22zM503.09 224.64h4.22v4.04h-4.22zM557.28 224.64h4.22v4.04h-4.22zM615.34 224.64h8.09v4.04h-8.09zM568.89 228.33h8.09v4.04h-8.09zM584.37 228.33h4.22v4.04h-4.22zM530.19 232.03h4.22v4.04h-4.22zM599.85 232.03h4.22v4.04h-4.22zM607.6 232.03h4.22v4.04h-4.22zM611.47 235.72h4.22v4.04h-4.22z"/>
<path fill="#2c728e" d="M522.45 198.79h4.22v4.04h-4.22zM530.19 198.79h4.22v4.04h-4.22zM568.89 198.79h4.22v4.04h-4.22zM595.98 198.79h4.22v4.04h-4.22zM518.58 202.48h4.22v4.04h-4.22zM549.54 202.48h4.22v4.04h-4.22zM592.11 202.48h4.22v4.04h-4.22zM522.45 206.17h4.22v4.04h-4.22zM491.48 209.87h4.22v4.04h-4.22zM545.67 209.87h4.22v4.04h-4.22zM487.61 213.56h4.22v4.04h-4.22zM499.22 213.56h4.22v4.04h-4.22zM495.35 217.25h4.22v4.04h-4.22zM619.21 217.25h4.22v4.04h-4.22zM580.5 220.95h4.22v4.04h-4.22zM630.82 220.95h4.22v4.04h-4.22zM576.63 224.64h4.22v4.04h-4.22zM595.98 224.64h4.22v4.04h-4.22zM503.09 228.33h4.22v4.04h-4.22zM588.24 228.33h4.22v4.04h-4.22zM503.09 232.03h4.22v4.04h-4.22zM592.11 232.03h4.22v4.04h-4.22z"/>
<path fill="#238a8d" d="M553.41 198.79h4.22v4.04h-4.22zM599.85 198.79h4.22v4.04h-4.22zM568.89 202.48h4.22v4.04h-4.22zM549.54 206.17h4.22v4.04h-4.22zM584.37 206.17h4.22v4.04h-4.22zM568.89 209.87h4.22v4.04h-4.22zM584.37 209.87h4.22v4.04h-4.22zM626.95 209.87h4.22v4.04h-4.22zM553.41 217.25h4.22v4.04h-4.22zM522.45 220.95h4.22v4.04h-4.22zM541.8 220.95h4.22v4.04h-4.22zM584.37 220.95h8.09v4.04h-8.09zM611.47 220.95h4.22v4.04h-4.22zM623.08 220.95h4.22v4.04h-4.22zM580.5 224.64h4.22v4.04h-4.22zM599.85 224.64h4.22v4.04h-4.22zM603.72 228.33h4.22v4.04h-4.22zM506.96 232.03h4.22v4.04h-4.22zM541.8 232.03h8.09v4.04h-8.09z"/>
<path fill="#2fb47c" d="M561.15 198.79h4.22v4.04h-4.22zM549.54 209.87h4.22v4.04h-4.22zM572.76 209.87h4.22v4.04h-4.22zM553.41 228.33h4.22v4.04h-4.22z"/>
<path fill="#38b977" d="M580.5 198.79h4.22v4.04h-4.22zM526.32 206.17h4.22v4.04h-4.22zM611.47 209.87h4.22v4.04h-4.22zM537.93 213.56h4.22v4.04h-4.22zM549.54 217.25h4.22v4.04h-4.22zM545.67 220.95h4.22v4.04h-4.22zM607.6 220.95h4.22v4.04h-4.22zM549.54 232.03h4.22v4.04h-4.22z"/>
<path fill="#1e9c89" d="M510.83 202.48h4.22v4.04h-4.22zM607.6 202.48h4.22v4.04h-4.22zM615.34 202.48h4.22v4.04h-4.22zM615.34 206.17h4.22v4.04h-4.22zM561.15 209.87h4.22v4.04h-4.22zM503.09 213.56h4.22v4.04h-4.22zM588.24 213.56h4.22v4.04h-4.22zM611.47 213.56h4.22v4.04h-4.22zM518.58 217.25h4.22v4.04h-4.22zM584.37 217.25h4.22v4.04h-4.22zM607.6 217.25h8.09v4.04h-8.09zM561.15 220.95h4.22v4.04h-4.22zM499.22 224.64h4.22v4.04h-4.22zM545.67 224.64h4.22v4.04h-4.22zM510.83 228.33h4.22v4.04h-4.22zM534.06 228.33h4.22v4.04h-4.22zM565.02 228.33h4.22v4.04h-4.22zM576.63 228.33h4.22v4.04h-4.22zM584.37 232.03h4.22v4.04h-4.22z"/>
<path fill="#addc30" d="M530.19 202.48h4.22v4.04h-4.22zM588.24 206.17h8.09v4.04h-8.09zM541.8 213.56h4.22v4.04h-4.22zM553.41 220.95h4.22v4.04h-4.22zM534.06 224.64h4.22v4.04h-4.22zM557.28 232.03h4.22v4.04h-4.22z"/>
<path fill="#22a884" d="M537.93 202.48h4.22v4.04h-4.22zM572.76 206.17h4.22v4.04h-4.22zM506.96 213.56h4.22v4.04h-4.22zM526.32 213.56h4.22v4.04h-4.22zM534.06 213.56h4.22v4.04h-4.22zM549.54 213.56h4.22v4.04h-4.22zM572.76 213.56h4.22v4.04h-4.22zM595.98 213.56h4.22v4.04h-4.22zM603.72 213.56h4.22v4.04h-4.22zM522.45 217.25h4.22v4.04h-4.22zM561.15 217.25h4.22v4.04h-4.22zM588.24 217.25h4.22v4.04h-4.22zM506.96 220.95h4.22v4.04h-4.22zM514.7 220.95h4.22v4.04h-4.22zM599.85 220.95h4.22v4.04h-4.22zM541.8 224.64h4.22v4.04h-4.22zM522.45 228.33h4.22v4.04h-4.22zM561.15 228.33h4.22v4.04h-4.22zM534.06 235.72h4.22v4.04h-4.22z"/>
<path fill="#28ae80" d="M541.8 202.48h4.22v4.04h-4.22zM545.67 206.17h4.22v4.04h-4.22zM506.96 209.87h4.22v4.04h-4.22zM592.11 213.56h4.22v4.04h-4.22zM499.22 217.25h4.22v4.04h-4.22zM572.76 217.25h4.22v4.04h-4.22zM615.34 217.25h4.22v4.04h-4.22zM514.7 224.64h4.22v4.04h-4.22zM522.45 224.64h4.22v4.04h-4.22zM607.6 224.64h4.22v4.04h-4.22zM611.47 228.33h4.22v4.04h-4.22zM553.41 232.03h4.22v4.04h-4.22zM588.24 232.03h4.22v4.04h-4.22z"/>
<path fill="#21918c" d="M572.76 202.48h4.22v4.04h-4.22zM576.63 206.17h4.22v4.04h-4.22zM611.47 206.17h4.22v4.04h-4.22zM588.24 209.87h4.22v4.04h-4.22zM599.85 209.87h4.22v4.04h-4.22zM495.35 213.56h4.22v4.04h-4.22zM522.45 213.56h4.22v4.04h-4.22zM576.63 213.56h4.22v4.04h-4.22zM576.63 217.25h4.22v4.04h-4.22zM549.54 220.95h4.22v4.04h-4.22zM615.34 220.95h4.22v4.04h-4.22zM592.11 228.33h4.22v4.04h-4.22zM607.6 228.33h4.22v4.04h-4.22zM526.32 232.03h4.22v4.04h-4.22zM580.5 232.03h4.22v4.04h-4.22zM545.67 235.72h4.22v4.04h-4.22z"/>
<path fill="#efe51c" d="M576.63 202.48h4.22v4.04h-4.22zM623.08 213.56h4.22v4.04h-4.22zM623.08 224.64h4.22v4.04h-4.22z"/>
<path fill="#1fa287" d="M580.5 202.48h4.22v4.04h-4.22zM541.8 206.17h4.22v4.04h-4.22zM580.5 209.87h4.22v4.04h-4.22zM565.02 213.56h4.22v4.04h-4.22zM503.09 217.25h4.22v4.04h-4.22zM537.93 217.25h4.22v4.04h-4.22zM595.98 217.25h4.22v4.04h-4.22zM530.19 220.95h4.22v4.04h-4.22zM530.19 224.64h4.22v4.04h-4.22zM565.02 224.64h4.22v4.04h-4.22zM588.24 224.64h4.22v4.04h-4.22zM545.67 228.33h4.22v4.04h-4.22zM595.98 228.33h4.22v4.04h-4.22zM576.63 232.03h4.22v4.04h-4.22zM576.63 235.72h4.22v4.04h-4.22z"/>
<path fill="#44bf70" d="M503.09 206.17h4.22v4.04h-4.22zM553.41 209.87h4.22v4.04h-4.22zM518.58 213.56h4.22v4.04h-4.22zM592.11 217.25h4.22v4.04h-4.22zM510.83 220.95h4.22v4.04h-4.22zM572.76 220.95h4.22v4.04h-4.22zM592.11 220.95h4.22v4.04h-4.22zM626.95 232.03h4.22v4.04h-4.22z"/>
<path fill="#7ad151" d="M510.83 206.17h4.22v4.04h-4.22zM545.67 213.56h4.22v4.04h-4.22z"/>
<path fill="#50c46a" d="M537.93 206.17h4.22v4.04h-4.22zM568.89 206.17h4.22v4.04h-4.22zM561.15 213.56h4.22v4.04h-4.22zM584.37 213.56h4.22v4.04h-4.22zM568.89 217.25h4.22v4.04h-4.22z"/>
<path fill="#cde11d" d="M557.28 206.17h4.22v4.04h-4.22z"/>
<path fill="#8bd646" d="M607.6 206.17h4.22v4.04h-4.22zM503.09 209.87h4.22v4.04h-4.22zM541.8 209.87h4.22v4.04h-4.22zM557.28 209.87h4.22v4.04h-4.22zM595.98 209.87h4.22v4.04h-4.22zM595.98 232.03h4.22v4.04h-4.22z"/>
<path fill="#dfe318" d="M499.22 209.87h4.22v4.04h-4.22zM623.08 217.25h4.22v4.04h-4.22zM487.61 220.95h4.22v4.04h-4.22z"/>
<path fill="#5ec962" d="M607.6 209.87h4.22v4.04h-4.22zM553.41 213.56h4.22v4.04h-4.22zM568.89 213.56h4.22v4.04h-4.22zM557.28 217.25h4.22v4.04h-4.22zM483.74 220.95h4.22v4.04h-4.22zM561.15 232.03h4.22v4.04h-4.22z"/>
<path fill="#6ccd5a" d="M584.37 224.64h4.22v4.04h-4.22z"/>
<text x="561.6" y="186.66" text-anchor="middle">Number of displacements</text>
<text x="470.4" y="206.36" text-anchor="end">0.2</text>
<text x="470.4" y="221.76" text-anchor="end">0.0</text>
<text x="470.4" y="237.16" text-anchor="end">-0.2</text>
<linearGradient id="gv2" x1="0" y1="0" x2="0" y2="1"><stop offset="0" stop-color="#fde725"/><stop offset=".1" stop-color="#bddf26"/><stop offset=".2" stop-color="#7ad151"/><stop offset=".3" stop-color="#44bf70"/><stop offset=".4" stop-color="#22a884"/><stop offset=".5" stop-color="#21918c"/><stop offset=".6" stop-color="#2a788e"/><stop offset=".7" stop-color="#355f8d"/><stop offset=".8" stop-color="#414487"/><stop offset=".9" stop-color="#482475"/><stop offset="1" stop-color="#440154"/></linearGradient>
<rect x="656.3" y="188.9" width="3.8" height="60.3" fill="url(#gv2)"/>
<text x="665.2" y="199.76">40</text>
<text x="665.2" y="226.46">20</text>
<text x="665.2" y="249.66">0</text>
<path d="M476 202.9h-2.4M476 218.3h-2.4M476 233.7h-2.4M486.8 246.8v2.4M506.05 246.8v2.4M525.3 246.8v2.4M544.55 246.8v2.4M563.8 246.8v2.4M583.05 246.8v2.4M602.3 246.8v2.4M621.55 246.8v2.4M640.8 246.8v2.4M660.1 196.3h2.2M660.1 223h2.2M660.1 246.2h2.2M660.1 209.6h1.6M660.1 234.6h1.6" stroke="#111" stroke-width="1.1" fill="none"/>
<rect x="474.6" y="269" width="171" height="55" fill="#000000"/>
<path fill="#1818ff" d="M540.67 269h4.24v4.02h-4.24zM567.87 269h4.24v4.02h-4.24zM540.67 272.67h4.24v4.02h-4.24zM548.44 272.67h8.12v4.02h-8.12zM563.99 272.67h4.24v4.02h-4.24zM490.15 276.33h4.24v4.02h-4.24zM501.8 276.33h4.24v4.02h-4.24zM540.67 276.33h4.24v4.02h-4.24zM560.1 276.33h4.24v4.02h-4.24zM598.96 276.33h12.01v4.02h-12.01zM618.4 276.33h4.24v4.02h-4.24zM494.03 280h4.24v4.02h-4.24zM509.58 280h4.24v4.02h-4.24zM525.12 280h4.24v4.02h-4.24zM591.19 280h4.24v4.02h-4.24zM598.96 280h8.12v4.02h-8.12zM622.28 280h8.12v4.02h-8.12zM490.15 283.67h4.24v4.02h-4.24zM591.19 283.67h4.24v4.02h-4.24zM602.85 283.67h4.24v4.02h-4.24zM622.28 283.67h4.24v4.02h-4.24zM630.05 283.67h4.24v4.02h-4.24zM474.6 287.33h8.12v4.02h-8.12zM497.92 287.33h4.24v4.02h-4.24zM529.01 287.33h4.24v4.02h-4.24zM544.55 287.33h4.24v4.02h-4.24zM583.42 287.33h4.24v4.02h-4.24zM591.19 287.33h4.24v4.02h-4.24zM630.05 287.33h4.24v4.02h-4.24zM478.49 291h4.24v4.02h-4.24zM505.69 291h4.24v4.02h-4.24zM556.21 291h8.12v4.02h-8.12zM575.65 291h8.12v4.02h-8.12zM587.3 291h4.24v4.02h-4.24zM478.49 294.67h4.24v4.02h-4.24zM529.01 294.67h4.24v4.02h-4.24zM591.19 294.67h4.24v4.02h-4.24zM618.4 294.67h4.24v4.02h-4.24zM486.26 298.33h4.24v4.02h-4.24zM501.8 298.33h4.24v4.02h-4.24zM540.67 298.33h4.24v4.02h-4.24zM579.53 298.33h4.24v4.02h-4.24zM610.62 298.33h4.24v4.02h-4.24zM618.4 298.33h4.24v4.02h-4.24zM630.05 298.33h4.24v4.02h-4.24zM478.49 302h4.24v4.02h-4.24zM494.03 302h4.24v4.02h-4.24zM513.46 302h4.24v4.02h-4.24zM548.44 302h4.24v4.02h-4.24zM563.99 302h4.24v4.02h-4.24zM571.76 302h4.24v4.02h-4.24zM587.3 302h4.24v4.02h-4.24zM630.05 302h8.12v4.02h-8.12zM482.37 305.67h4.24v4.02h-4.24zM501.8 305.67h4.24v4.02h-4.24zM575.65 305.67h4.24v4.02h-4.24zM618.4 305.67h4.24v4.02h-4.24zM626.17 305.67h4.24v4.02h-4.24zM633.94 305.67h4.24v4.02h-4.24zM490.15 309.33h4.24v4.02h-4.24zM536.78 309.33h4.24v4.02h-4.24zM552.33 309.33h4.24v4.02h-4.24zM614.51 309.33h8.12v4.02h-8.12zM494.03 313h4.24v4.02h-4.24zM567.87 313h4.24v4.02h-4.24zM598.96 313h4.24v4.02h-4.24zM614.51 313h12.01v4.02h-12.01zM490.15 316.67h4.24v4.02h-4.24zM501.8 316.67h4.24v4.02h-4.24zM525.12 316.67h4.24v4.02h-4.24zM536.78 316.67h4.24v4.02h-4.24zM548.44 316.67h4.24v4.02h-4.24zM571.76 316.67h4.24v4.02h-4.24zM598.96 316.67h4.24v4.02h-4.24zM606.74 316.67h4.24v4.02h-4.24zM509.58 320.33h8.12v3.67h-8.12zM556.21 320.33h8.12v3.67h-8.12z"/>
<path fill="#3232ff" d="M517.35 272.67h8.12v4.02h-8.12zM544.55 272.67h4.24v4.02h-4.24zM556.21 272.67h4.24v4.02h-4.24zM567.87 272.67h8.12v4.02h-8.12zM598.96 272.67h4.24v4.02h-4.24zM505.69 276.33h4.24v4.02h-4.24zM525.12 276.33h4.24v4.02h-4.24zM579.53 276.33h4.24v4.02h-4.24zM587.3 276.33h8.12v4.02h-8.12zM610.62 276.33h4.24v4.02h-4.24zM490.15 280h4.24v4.02h-4.24zM517.35 280h4.24v4.02h-4.24zM579.53 280h4.24v4.02h-4.24zM614.51 280h4.24v4.02h-4.24zM494.03 283.67h4.24v4.02h-4.24zM513.46 283.67h12.01v4.02h-12.01zM556.21 283.67h4.24v4.02h-4.24zM626.17 283.67h4.24v4.02h-4.24zM482.37 287.33h4.24v4.02h-4.24zM517.35 287.33h4.24v4.02h-4.24zM552.33 287.33h4.24v4.02h-4.24zM579.53 287.33h4.24v4.02h-4.24zM587.3 287.33h4.24v4.02h-4.24zM618.4 287.33h4.24v4.02h-4.24zM497.92 291h4.24v4.02h-4.24zM536.78 291h4.24v4.02h-4.24zM544.55 291h4.24v4.02h-4.24zM552.33 291h4.24v4.02h-4.24zM563.99 291h4.24v4.02h-4.24zM602.85 291h4.24v4.02h-4.24zM614.51 291h4.24v4.02h-4.24zM517.35 294.67h4.24v4.02h-4.24zM571.76 294.67h8.12v4.02h-8.12zM602.85 294.67h4.24v4.02h-4.24zM610.62 294.67h8.12v4.02h-8.12zM633.94 294.67h4.24v4.02h-4.24zM474.6 298.33h4.24v4.02h-4.24zM490.15 298.33h4.24v4.02h-4.24zM497.92 298.33h4.24v4.02h-4.24zM517.35 298.33h4.24v4.02h-4.24zM614.51 298.33h4.24v4.02h-4.24zM633.94 298.33h4.24v4.02h-4.24zM626.17 302h4.24v4.02h-4.24zM497.92 305.67h4.24v4.02h-4.24zM505.69 305.67h4.24v4.02h-4.24zM529.01 305.67h4.24v4.02h-4.24zM587.3 305.67h8.12v4.02h-8.12zM598.96 305.67h8.12v4.02h-8.12zM610.62 305.67h4.24v4.02h-4.24zM637.83 305.67h4.24v4.02h-4.24zM478.49 309.33h8.12v4.02h-8.12zM501.8 309.33h4.24v4.02h-4.24zM525.12 309.33h4.24v4.02h-4.24zM548.44 309.33h4.24v4.02h-4.24zM556.21 309.33h4.24v4.02h-4.24zM567.87 309.33h4.24v4.02h-4.24zM575.65 309.33h4.24v4.02h-4.24zM591.19 309.33h12.01v4.02h-12.01zM606.74 309.33h4.24v4.02h-4.24zM509.58 313h4.24v4.02h-4.24zM536.78 313h8.12v4.02h-8.12zM552.33 313h4.24v4.02h-4.24zM583.42 313h4.24v4.02h-4.24zM591.19 313h4.24v4.02h-4.24zM610.62 313h4.24v4.02h-4.24zM494.03 316.67h4.24v4.02h-4.24zM513.46 316.67h4.24v4.02h-4.24zM532.9 316.67h4.24v4.02h-4.24zM540.67 316.67h4.24v4.02h-4.24zM552.33 316.67h4.24v4.02h-4.24zM560.1 316.67h4.24v4.02h-4.24zM575.65 316.67h4.24v4.02h-4.24zM595.08 316.67h4.24v4.02h-4.24zM610.62 316.67h4.24v4.02h-4.24zM517.35 320.33h4.24v3.67h-4.24zM540.67 320.33h12.01v3.67h-12.01zM598.96 320.33h4.24v3.67h-4.24z"/>
<path fill="#2626ff" d="M525.12 272.67h4.24v4.02h-4.24zM536.78 272.67h4.24v4.02h-4.24zM497.92 276.33h4.24v4.02h-4.24zM529.01 276.33h4.24v4.02h-4.24zM544.55 276.33h4.24v4.02h-4.24zM505.69 280h4.24v4.02h-4.24zM536.78 280h4.24v4.02h-4.24zM544.55 280h4.24v4.02h-4.24zM556.21 280h4.24v4.02h-4.24zM571.76 280h4.24v4.02h-4.24zM587.3 280h4.24v4.02h-4.24zM618.4 280h4.24v4.02h-4.24zM486.26 283.67h4.24v4.02h-4.24zM509.58 283.67h4.24v4.02h-4.24zM544.55 283.67h4.24v4.02h-4.24zM583.42 283.67h4.24v4.02h-4.24zM606.74 283.67h8.12v4.02h-8.12zM486.26 287.33h4.24v4.02h-4.24zM501.8 287.33h8.12v4.02h-8.12zM540.67 287.33h4.24v4.02h-4.24zM598.96 287.33h4.24v4.02h-4.24zM610.62 287.33h8.12v4.02h-8.12zM626.17 287.33h4.24v4.02h-4.24zM482.37 291h4.24v4.02h-4.24zM494.03 291h4.24v4.02h-4.24zM521.24 291h4.24v4.02h-4.24zM540.67 291h4.24v4.02h-4.24zM583.42 291h4.24v4.02h-4.24zM630.05 291h8.12v4.02h-8.12zM482.37 294.67h8.12v4.02h-8.12zM497.92 294.67h4.24v4.02h-4.24zM505.69 294.67h8.12v4.02h-8.12zM544.55 294.67h4.24v4.02h-4.24zM556.21 294.67h4.24v4.02h-4.24zM587.3 294.67h4.24v4.02h-4.24zM626.17 294.67h4.24v4.02h-4.24zM513.46 298.33h4.24v4.02h-4.24zM575.65 298.33h4.24v4.02h-4.24zM606.74 298.33h4.24v4.02h-4.24zM626.17 298.33h4.24v4.02h-4.24zM637.83 298.33h4.24v4.02h-4.24zM497.92 302h4.24v4.02h-4.24zM505.69 302h8.12v4.02h-8.12zM536.78 302h4.24v4.02h-4.24zM552.33 302h4.24v4.02h-4.24zM595.08 302h4.24v4.02h-4.24zM618.4 302h4.24v4.02h-4.24zM641.71 302h3.89v4.02h-3.89zM478.49 305.67h4.24v4.02h-4.24zM490.15 305.67h4.24v4.02h-4.24zM513.46 305.67h4.24v4.02h-4.24zM494.03 309.33h4.24v4.02h-4.24zM505.69 309.33h4.24v4.02h-4.24zM513.46 309.33h4.24v4.02h-4.24zM587.3 309.33h4.24v4.02h-4.24zM602.85 309.33h4.24v4.02h-4.24zM610.62 309.33h4.24v4.02h-4.24zM622.28 309.33h4.24v4.02h-4.24zM513.46 313h4.24v4.02h-4.24zM509.58 316.67h4.24v4.02h-4.24zM517.35 316.67h4.24v4.02h-4.24zM587.3 316.67h8.12v4.02h-8.12zM525.12 320.33h4.24v3.67h-4.24zM532.9 320.33h4.24v3.67h-4.24zM552.33 320.33h4.24v3.67h-4.24z"/>
<path fill="#ff2626" d="M529.01 272.67h4.24v4.02h-4.24z"/>
<path fill="#0c0cff" d="M560.1 272.67h4.24v4.02h-4.24zM575.65 272.67h4.24v4.02h-4.24zM583.42 272.67h4.24v4.02h-4.24zM614.51 276.33h4.24v4.02h-4.24zM501.8 280h4.24v4.02h-4.24zM529.01 280h8.12v4.02h-8.12zM575.65 280h4.24v4.02h-4.24zM610.62 280h4.24v4.02h-4.24zM505.69 283.67h4.24v4.02h-4.24zM525.12 283.67h4.24v4.02h-4.24zM532.9 283.67h4.24v4.02h-4.24zM618.4 283.67h4.24v4.02h-4.24zM490.15 287.33h8.12v4.02h-8.12zM509.58 287.33h4.24v4.02h-4.24zM575.65 287.33h4.24v4.02h-4.24zM606.74 287.33h4.24v4.02h-4.24zM474.6 291h4.24v4.02h-4.24zM490.15 291h4.24v4.02h-4.24zM591.19 291h4.24v4.02h-4.24zM606.74 291h4.24v4.02h-4.24zM618.4 291h4.24v4.02h-4.24zM626.17 291h4.24v4.02h-4.24zM501.8 294.67h4.24v4.02h-4.24zM598.96 294.67h4.24v4.02h-4.24zM637.83 294.67h4.24v4.02h-4.24zM482.37 298.33h4.24v4.02h-4.24zM494.03 298.33h4.24v4.02h-4.24zM509.58 298.33h4.24v4.02h-4.24zM536.78 298.33h4.24v4.02h-4.24zM544.55 298.33h4.24v4.02h-4.24zM598.96 298.33h4.24v4.02h-4.24zM486.26 302h4.24v4.02h-4.24zM544.55 302h4.24v4.02h-4.24zM556.21 302h4.24v4.02h-4.24zM567.87 302h4.24v4.02h-4.24zM598.96 302h4.24v4.02h-4.24zM610.62 302h8.12v4.02h-8.12zM637.83 302h4.24v4.02h-4.24zM525.12 305.67h4.24v4.02h-4.24zM532.9 305.67h4.24v4.02h-4.24zM544.55 305.67h4.24v4.02h-4.24zM567.87 305.67h4.24v4.02h-4.24zM622.28 305.67h4.24v4.02h-4.24zM630.05 305.67h4.24v4.02h-4.24zM529.01 309.33h4.24v4.02h-4.24zM626.17 309.33h4.24v4.02h-4.24zM633.94 309.33h4.24v4.02h-4.24zM482.37 313h8.12v4.02h-8.12zM497.92 313h12.01v4.02h-12.01zM563.99 313h4.24v4.02h-4.24zM571.76 313h4.24v4.02h-4.24zM602.85 313h8.12v4.02h-8.12zM626.17 313h4.24v4.02h-4.24zM521.24 316.67h4.24v4.02h-4.24zM556.21 316.67h4.24v4.02h-4.24zM563.99 316.67h4.24v4.02h-4.24zM583.42 316.67h4.24v4.02h-4.24zM529.01 320.33h4.24v3.67h-4.24zM536.78 320.33h4.24v3.67h-4.24zM595.08 320.33h4.24v3.67h-4.24z"/>
<path fill="#8c8cff" d="M579.53 272.67h4.24v4.02h-4.24zM536.78 276.33h4.24v4.02h-4.24zM525.12 291h4.24v4.02h-4.24zM560.1 294.67h4.24v4.02h-4.24zM583.42 294.67h4.24v4.02h-4.24zM509.58 305.67h4.24v4.02h-4.24zM595.08 305.67h4.24v4.02h-4.24z"/>
<path fill="#ccccff" d="M587.3 272.67h4.24v4.02h-4.24zM571.76 276.33h4.24v4.02h-4.24zM482.37 283.67h4.24v4.02h-4.24zM501.8 291h4.24v4.02h-4.24zM517.35 291h4.24v4.02h-4.24zM494.03 305.67h4.24v4.02h-4.24zM505.69 316.67h4.24v4.02h-4.24z"/>
<path fill="#9898ff" d="M591.19 272.67h4.24v4.02h-4.24zM563.99 283.67h4.24v4.02h-4.24zM513.46 287.33h4.24v4.02h-4.24zM567.87 294.67h4.24v4.02h-4.24zM521.24 298.33h4.24v4.02h-4.24zM525.12 302h4.24v4.02h-4.24zM509.58 309.33h4.24v4.02h-4.24zM563.99 309.33h4.24v4.02h-4.24z"/>
<path fill="#fff2f2" d="M595.08 272.67h4.24v4.02h-4.24zM529.01 291h4.24v4.02h-4.24zM579.53 313h4.24v4.02h-4.24z"/>
<path fill="#a6a6ff" d="M602.85 272.67h4.24v4.02h-4.24zM560.1 283.67h4.24v4.02h-4.24zM560.1 287.33h4.24v4.02h-4.24zM494.03 294.67h4.24v4.02h-4.24zM517.35 305.67h4.24v4.02h-4.24zM497.92 309.33h4.24v4.02h-4.24zM532.9 313h4.24v4.02h-4.24zM497.92 316.67h4.24v4.02h-4.24z"/>
<path fill="#4040ff" d="M494.03 276.33h4.24v4.02h-4.24zM532.9 276.33h4.24v4.02h-4.24zM548.44 276.33h8.12v4.02h-8.12zM513.46 280h4.24v4.02h-4.24zM501.8 283.67h4.24v4.02h-4.24zM540.67 283.67h4.24v4.02h-4.24zM548.44 283.67h4.24v4.02h-4.24zM532.9 287.33h4.24v4.02h-4.24zM486.26 291h4.24v4.02h-4.24zM513.46 291h4.24v4.02h-4.24zM595.08 294.67h4.24v4.02h-4.24zM606.74 294.67h4.24v4.02h-4.24zM622.28 294.67h4.24v4.02h-4.24zM630.05 294.67h4.24v4.02h-4.24zM478.49 298.33h4.24v4.02h-4.24zM602.85 298.33h4.24v4.02h-4.24zM622.28 298.33h4.24v4.02h-4.24zM540.67 305.67h4.24v4.02h-4.24zM517.35 309.33h4.24v4.02h-4.24zM544.55 309.33h4.24v4.02h-4.24zM583.42 309.33h4.24v4.02h-4.24zM490.15 313h4.24v4.02h-4.24zM579.53 316.67h4.24v4.02h-4.24zM505.69 320.33h4.24v3.67h-4.24z"/>
<path fill="#ff8c8c" d="M509.58 276.33h4.24v4.02h-4.24zM556.21 276.33h4.24v4.02h-4.24zM571.76 287.33h4.24v4.02h-4.24zM525.12 294.67h4.24v4.02h-4.24z"/>
<path fill="#ffd8d8" d="M513.46 276.33h4.24v4.02h-4.24zM497.92 280h4.24v4.02h-4.24zM606.74 280h4.24v4.02h-4.24zM536.78 283.67h4.24v4.02h-4.24zM575.65 283.67h4.24v4.02h-4.24zM598.96 283.67h4.24v4.02h-4.24zM548.44 291h4.24v4.02h-4.24zM595.08 291h4.24v4.02h-4.24zM548.44 294.67h4.24v4.02h-4.24zM517.35 302h4.24v4.02h-4.24zM575.65 313h4.24v4.02h-4.24z"/>
<path fill="#4c4cff" d="M517.35 276.33h4.24v4.02h-4.24zM622.28 287.33h4.24v4.02h-4.24zM536.78 294.67h4.24v4.02h-4.24zM567.87 298.33h4.24v4.02h-4.24zM560.1 302h4.24v4.02h-4.24zM579.53 305.67h4.24v4.02h-4.24zM525.12 313h4.24v4.02h-4.24zM548.44 313h4.24v4.02h-4.24zM567.87 316.67h4.24v4.02h-4.24z"/>
<path fill="#c0c0ff" d="M521.24 276.33h4.24v4.02h-4.24zM583.42 276.33h4.24v4.02h-4.24zM567.87 280h4.24v4.02h-4.24zM595.08 287.33h4.24v4.02h-4.24zM567.87 291h4.24v4.02h-4.24zM521.24 294.67h4.24v4.02h-4.24zM505.69 298.33h4.24v4.02h-4.24zM556.21 298.33h4.24v4.02h-4.24zM482.37 302h4.24v4.02h-4.24zM540.67 309.33h4.24v4.02h-4.24zM517.35 313h8.12v4.02h-8.12zM544.55 313h4.24v4.02h-4.24z"/>
<path fill="#6666ff" d="M563.99 276.33h4.24v4.02h-4.24zM521.24 287.33h4.24v4.02h-4.24zM610.62 291h4.24v4.02h-4.24zM532.9 294.67h4.24v4.02h-4.24zM529.01 298.33h4.24v4.02h-4.24zM529.01 302h8.12v4.02h-8.12zM536.78 305.67h4.24v4.02h-4.24zM614.51 305.67h4.24v4.02h-4.24z"/>
<path fill="#fffefe" d="M567.87 276.33h4.24v4.02h-4.24zM595.08 276.33h4.24v4.02h-4.24zM552.33 280h4.24v4.02h-4.24zM583.42 280h4.24v4.02h-4.24zM552.33 283.67h4.24v4.02h-4.24zM536.78 287.33h4.24v4.02h-4.24zM532.9 291h4.24v4.02h-4.24zM579.53 302h4.24v4.02h-4.24zM591.19 302h4.24v4.02h-4.24zM606.74 305.67h4.24v4.02h-4.24zM571.76 309.33h4.24v4.02h-4.24zM529.01 313h4.24v4.02h-4.24zM544.55 316.67h4.24v4.02h-4.24zM587.3 320.33h4.24v3.67h-4.24z"/>
<path fill="#5858ff" d="M575.65 276.33h4.24v4.02h-4.24zM548.44 280h4.24v4.02h-4.24zM529.01 283.67h4.24v4.02h-4.24zM587.3 283.67h4.24v4.02h-4.24zM595.08 283.67h4.24v4.02h-4.24zM525.12 287.33h4.24v4.02h-4.24zM509.58 291h4.24v4.02h-4.24zM571.76 291h4.24v4.02h-4.24zM474.6 294.67h4.24v4.02h-4.24zM513.46 294.67h4.24v4.02h-4.24zM560.1 298.33h4.24v4.02h-4.24zM606.74 302h4.24v4.02h-4.24zM521.24 305.67h4.24v4.02h-4.24zM548.44 305.67h4.24v4.02h-4.24zM571.76 305.67h4.24v4.02h-4.24zM521.24 309.33h4.24v4.02h-4.24zM532.9 309.33h4.24v4.02h-4.24zM560.1 309.33h4.24v4.02h-4.24z"/>
<path fill="#ffbebe" d="M521.24 280h4.24v4.02h-4.24zM595.08 280h4.24v4.02h-4.24zM571.76 283.67h4.24v4.02h-4.24zM598.96 291h4.24v4.02h-4.24zM548.44 298.33h4.24v4.02h-4.24z"/>
<path fill="#7272ff" d="M540.67 280h4.24v4.02h-4.24zM563.99 280h4.24v4.02h-4.24zM497.92 283.67h4.24v4.02h-4.24zM567.87 283.67h4.24v4.02h-4.24zM567.87 287.33h4.24v4.02h-4.24zM622.28 291h4.24v4.02h-4.24zM490.15 294.67h4.24v4.02h-4.24zM552.33 298.33h4.24v4.02h-4.24zM563.99 298.33h4.24v4.02h-4.24zM490.15 302h4.24v4.02h-4.24zM622.28 302h4.24v4.02h-4.24zM486.26 305.67h4.24v4.02h-4.24zM486.26 309.33h4.24v4.02h-4.24z"/>
<path fill="#b2b2ff" d="M560.1 280h4.24v4.02h-4.24zM579.53 283.67h4.24v4.02h-4.24zM591.19 298.33h4.24v4.02h-4.24zM552.33 305.67h4.24v4.02h-4.24zM579.53 309.33h4.24v4.02h-4.24zM587.3 313h4.24v4.02h-4.24zM595.08 313h4.24v4.02h-4.24z"/>
<path fill="#f2f2ff" d="M614.51 283.67h4.24v4.02h-4.24zM563.99 287.33h4.24v4.02h-4.24zM602.85 287.33h4.24v4.02h-4.24zM540.67 294.67h4.24v4.02h-4.24zM525.12 298.33h4.24v4.02h-4.24zM521.24 302h4.24v4.02h-4.24zM575.65 302h4.24v4.02h-4.24zM630.05 313h4.24v4.02h-4.24zM622.28 316.67h4.24v4.02h-4.24z"/>
<path fill="#ffcccc" d="M548.44 287.33h4.24v4.02h-4.24zM633.94 287.33h4.24v4.02h-4.24zM552.33 294.67h4.24v4.02h-4.24zM579.53 294.67h4.24v4.02h-4.24zM532.9 298.33h4.24v4.02h-4.24zM571.76 298.33h4.24v4.02h-4.24zM587.3 298.33h4.24v4.02h-4.24zM602.85 316.67h4.24v4.02h-4.24z"/>
<path fill="#8080ff" d="M556.21 287.33h4.24v4.02h-4.24zM595.08 298.33h4.24v4.02h-4.24zM501.8 302h4.24v4.02h-4.24zM583.42 305.67h4.24v4.02h-4.24zM556.21 313h4.24v4.02h-4.24zM591.19 320.33h4.24v3.67h-4.24z"/>
<path fill="#ff7e7e" d="M637.83 291h4.24v4.02h-4.24zM583.42 302h4.24v4.02h-4.24zM556.21 305.67h4.24v4.02h-4.24z"/>
<path fill="#ff0c0c" d="M563.99 294.67h4.24v4.02h-4.24zM560.1 305.67h4.24v4.02h-4.24z"/>
<path fill="#ff7272" d="M583.42 298.33h4.24v4.02h-4.24zM540.67 302h4.24v4.02h-4.24zM602.85 302h4.24v4.02h-4.24zM563.99 305.67h4.24v4.02h-4.24zM560.1 313h4.24v4.02h-4.24z"/>
<path fill="#ff0000" d="M630.05 309.33h4.24v4.02h-4.24z"/>
<path fill="#ff1818" d="M529.01 316.67h4.24v4.02h-4.24z"/>
<text x="567.7" y="264.66" text-anchor="middle">Diffusivity map</text>
<text x="470.4" y="283.56" text-anchor="end">0.2</text>
<text x="470.4" y="298.96" text-anchor="end">0.0</text>
<text x="470.4" y="314.36" text-anchor="end">-0.2</text>
<text x="485.8" y="337.26" text-anchor="middle">-1.0</text>
<text x="524.5" y="337.26" text-anchor="middle">-0.5</text>
<text x="563.2" y="337.26" text-anchor="middle">0.0</text>
<text x="601.9" y="337.26" text-anchor="middle">0.5</text>
<text x="640.6" y="337.26" text-anchor="middle">1.0</text>
<linearGradient id="gb2" x1="0" y1="0" x2="0" y2="1"><stop offset="0" stop-color="#ff0000"/><stop offset=".1" stop-color="#ff3232"/><stop offset=".2" stop-color="#ff6666"/><stop offset=".3" stop-color="#ff9898"/><stop offset=".4" stop-color="#ffcccc"/><stop offset=".5" stop-color="#fffefe"/><stop offset=".6" stop-color="#ccccff"/><stop offset=".7" stop-color="#9898ff"/><stop offset=".8" stop-color="#6666ff"/><stop offset=".9" stop-color="#3232ff"/><stop offset="1" stop-color="#0000ff"/></linearGradient>
<rect x="655.7" y="265.9" width="3.4" height="60.4" fill="url(#gb2)"/>
<text x="665" y="278.06">4</text>
<text x="665" y="290.76">3</text>
<text x="665" y="303.76">2</text>
<text x="665" y="316.86">1</text>
<path d="M474.6 280.1h-2.4M474.6 295.5h-2.4M474.6 310.9h-2.4M485.2 324v2.4M504.55 324v2.4M523.9 324v2.4M543.25 324v2.4M562.6 324v2.4M581.95 324v2.4M601.3 324v2.4M620.65 324v2.4M640 324v2.4M659.1 274.6h2.2M659.1 287.3h2.2M659.1 300.3h2.2M659.1 313.4h2.2" stroke="#111" stroke-width="1.1" fill="none"/>
<text x="683.72" y="299.2" text-anchor="middle" transform="rotate(-90 683.72 299.2)" font-size="10.9">D<tspan font-size="7.63">L</tspan> (µm²/s)</text>
<path d="M50.6 403.6V463M67.9 403.6V463M85.2 403.6V463M102.5 403.6V463M119.8 403.6V463M137.1 403.6V463M154.4 403.6V463M171.7 403.6V463M189 403.6V463M42.7 405.58H192M42.7 419.24H192M42.7 432.9H192M42.7 446.56H192M42.7 460.22H192" stroke="#e2e2e2" stroke-width=".8" fill="none"/>
<path d="m67.5 428.4h0m13.7-10.5h0m-11 .9h0m11.1 16.1h0m87.5-14.5h0m-28.3 3.1h0m-6.7-4.6h0m-65.4 5.2h0m5.1 15.5h0m-16.9 7.8h0m13.8-18.6h0m92.4 18.5h0m-19.5-22.7h0m13.6 12.8h0m-32.9 13.3h0m-59.4-22.7h0m.6-9.7h0m33.4 3.6h0m81 12.5h0m-8.4-8.1h0m-110.1 20.7h0m-6.8-9.6h0m3-8.8h0m6.6 .6h0m37.4 5.6h0m-14.7-17h0m-32.8 21h0m59 4.7h0m42.8 1.8h0m-100.6 .2h0m115-13.9h0m4.2 .1h0m-89.6 .3h0m13.2 9.4h0m11.3 6.3h0m-52.4-19.7h0m33.3-5.1h0m81.5 7.5h0m-64.5-16.2h0m63.5 11.6h0m-81.6-5.6h0m67 34.6h0m-9.3-6.4h0m-19.8 2h0m-27.9-10.1h0m71.2-20.6h0m-71 12.9h0m44.8 18.2h0m-72.7-18.4h0m-12.2 6.4h0m49.1-27.9h0m16.6 32h0m-15.1 10.9h0m-.9-35.8h0m-39.9 10.6h0m86.1 18.2h0m-13.9-33.2h0m8.8 29.1h0m-46.5-15.3h0m45.8 21.4h0m-27.3 .4h0m-35.2-20.8h0m95.2 2.5h0m-57.2 16.9h0m-64.7-26.3h0m31 12.3h0m78.5 0h0m-.6-2h0m-36.2 11.1h0m-36.4-31h0m37.3 24.4h0m-50.8-17.6h0m64.6 24.3h0m-80.7-14h0m13.4-5.8h0m62.9 26.1h0m-87.1-14.9h0m113.9-4.1h0m-80.2 8.8h0m86.9-2.1h0m-75.3 13.9h0m19.8 0h0m-56.5-21h0m91.9 12.2h0m3.5-1.5h0m-66.3 9.2h0m-28.1-21.9h0m-1.6-7.7h0m20.4 18.7h0m49.4-17.7h0m-72.9 9.9h0m8.6-7.5h0m23.2 23.3h0m64-5.9h0m-40.8-28.8h0m28.1 9.7h0m26.1 27.5h0m-105.8-24.5h0m2.7 9h0m112.8 4.6h0m-106.6-9.6h0m53.5 21.8h0m10.9-6.8h0m-71.4-15.5h0m98.5 .2h0m-25.5 18.1h0m-16.1-34.9h0m52 21.2h0m-50.9 16.5h0m4.2-34.2h0m17.4 18.5h0m-85.5 13.9h0m80.8-27.1h0m6.2 27.9h0m21.9-23.4h0m-82.5 5.9h0m60.1 12h0m-22.4 5.2h0m-6.7 3.1h0m7.2-31.7h0m49.4 .7h0m-27.7-7.3h0m-95 26.3h0m123.4-16.6h0m-23.7 27.7h0m14.2-33.9h0m-59.6 32.4h0m54.8-9.6h0m8.1-15h0m-24.7 25.5h0m-4.4-1.2h0m32-6.6h0m7.6-11.2h0m-123.6 1.8h0m112.9-13.3h0m-86.7 4.1h0m63.3 25.6h0m24.6-27.1h0m-30-6.4h0m-43.7 6.1h0m57.5 23.5h0m-11.6 1.1h0m-2.9-29.5h0m1 1.2h0m1 1h0m-82.1 20.3h0m4.5-20.3h0m78.3 1.1h0m24.1 10.3h0m-68.1-.5h0m11.8-2.8h0m29.1-12.6h0m-23.8 3.7h0m-20.7 3.4h0m-31.5 9.8h0m4.1-9.9h0m62.8 17.3h0m-65-19.4h0m48.4-6.9h0m-58.6 24.1h0m59.1-24.7h0m26.1 25.3h0m-48.4-11.2h0m-16.9 25.1h0m42.3-1h0m40.2-3h0m-65.3-9.2h0m83-3.8h0m-32.6-3.9h0m-88.9 9h0m13.5-16.3h0m30.6-8.7h0m-29.4 18.7h0m32.9-13.7h0m-16.7 10.1h0m7.9 8.1h0m.6-9.5h0m3.3 18.7h0m31.3 4.1h0m20.2-27.6h0m19.8-5.1h0m11.8 18.4h0m-13.9 .7h0m-25.8 2.9h0m-12.3-11.4h0m-30 22.3h0m19-.6h0m-61.4-7.9h0m89.7-2.4h0m-78.8-6.8h0m19.6-12.1h0m-23.6 5h0m53.5-12.5h0m31.2 28.5h0m-81-17.9h0m81.9 .6h0m27 2.7h0m-5.7 18.6h0m6.7-21.7h0m-87.6 30.8h0m-13.9-15.5h0m13.6-24.9h0m72.7 13.3h0m-8.2 14.4h0m19.6-13h0m-43.5 19.7h0m8 5.1h0m6.5-35.8h0m-44.9 9.8h0m-14.5 14.1h0m88.7-8.8h0m-93.1-11h0m58.3-3.8h0m22.6-2.5h0m-34.4 32.3h0m-2.4 1.7h0m47.8-11h0m-53.8-20h0m-50.4 3.7h0m57.4 26.5h0m5.8-1.5h0m-42.3-.3h0m-17.3-15.2h0m49.7 16.7h0m-61.2-14.6h0m72.5-19.5h0m7.6 2.8h0m-44.1 1.6h0m53.3 24.8h0m-48.3-21.2h0m34.2-11.3h0m32.4 28.9h0m-72.4-4h0m41.5-19.8h0m-68.5 9.7h0m75.2 12.2h0m-13.2-1.1h0m-58.9 12h0m-13.2-4.8h0m119.8-16.3h0m4.4 .2h0m-59.6 25.4h0m52.6-23.6h0m-2.9 .7h0m-108-12.5h0m102.4 2h0m-11.6 23.7h0m-4.6 5.3h0m-47-33.8h0m-35.5 29h0m75.4-30.9h0m-44 17h0m-30.5-2.8h0m76.3 18.1h0m-30.3 2.2h0m-37.1-4.4h0m91.1-21.1h0m-55.8 9.3h0m-16.5-1.5h0m-27.6 .9h0m86.2 8.8h0m-87.5-15.2h0m48 28.4h0m30.2-31.9h0m-25.7-10.3h0m25.5 .5h0m10 18.1h0m-66.2 7h0m37.6-1h0m-48.7-13.8h0m81.5 22h0m-63.1-13h0m3.8 2h0m-8.7-20.2h0m56.3 10.4h0m17.4-6.8h0m-74.3-.8h0m57.8 13.2h0m-23.7 20.2h0m31.9-8h0m-96.4 3.4h0m45.2 8.4h0m56.6-33.6h0m11.8 23.2h0m-16.3-25h0m18.3 12.7h0m-102.3 1.2h0m78.1 7h0m-62.2-10.2h0m5.4 6.9h0m-15.1 16h0m80.9-9.1h0m-1.7 4.1h0m-103.3-11h0m14.1-4.7h0m85.4 8.7h0m2.7 6.9h0m-53.5-7.7h0m53.7 9.8h0m-74.4-32.3h0m-20.6 12.1h0m7-1.6h0m33.3 21.6h0m68.5-20.4h0m-24.9 12h0m27.9-20.1h0m-6.4 2.7h0m-77.1 10h0m2-7.9h0m70.1-4h0m-55.5 5.5h0m67 1.5h0m-115 8.8h0m31.7-12.1h0m1.4 14.6h0m-15.2-22.3h0m90.5 .9h0m-70.3 20.7h0m54.1 16.1h0m-37.7-41.1h0m34.5 24.6h0m-89.1 10.3h0m114.9-23h0m-29.9 9h0m-40.7-19.9h0m69.9 17.1h0m-12.5 4.8h0m-88.8-4.2h0m-5.4-11.8h0m13.4-.9h0m86.2 1.1h0m-39 17h0m37.9-20h0m-15.4 2.4h0m-15.1 18.1h0m37-14h0m8.8 17.1h0m-5.8-12.4h0m-8.4 9.5h0m-81.6-19.8h0m66.5 24.4h0m-88-18.5h0m12-9.2h0m-2.6 19.9h0m24-7.7h0m40.5-12.9h0m-31.9 12.3h0m-14.6 6h0m20.7-11.6h0m-52.9 .2h0m17.7 14.7h0m67.1-2.2h0m11.8 .4h0m16.2-.1h0m-40.9 15.1h0m44.6-20.5h0m-45.8-7.5h0m50 13.7h0m-110-9.5h0m-13.5 11.2h0m21.2-1h0m-12.4-8.2h0m107.4 19.4h0m-74-14.1h0m-34.5 11.3h0m34.6-16.2h0m-2.5-2.2h0m67.8 9.4h0m9.9-.1h0m-24.2 11h0m28.8-22.7h0m-82.9-.9h0m-23.1 3.9h0m100.8 8.9h0m-27.6 10.6h0m22.1-7.6h0m-95.6-17.8h0m23.7 15.3h0m79.1 1.6h0m-21.3-9.1h0m-67.3 12.6h0m-23.8 4.9h0m64.2-2h0m24.6-1.4h0m-66.2-12.5h0m88.2-4.4h0m-18.2 2.4h0m6.5 18.9h0m-100.4-9.2h0m21.3-7.1h0m70.6 13.3h0m-15.8-24.1h0m20.3 24.3h0m-35.2-14.5h0m13.4-10.6h0m-72.4 20.2h0m106.7 3.8h0m-26.6 8.7h0m-23.9-38.7h0m62.4 19.7h0m-44 4.1h0m7.1-13.9h0m-20.6 18.7h0m53.1-7.7h0m1.1-10.4h0m-3.4 8.1h0m-115.1-5.7h0m39.1 13.4h0m69.4 .2h0m-113.4-4h0m44.3 17.9h0m-41-22.1h0m91.3 15.9h0m-56.6-18.1h0m61.7-8.2h0m-27.7 33.2h0m15.3-41.6h0m41.6 26.9h0m-90.9 3.2h0m-9.3-24.3h0m2.5 18.7h0m-27.8 9.8h0m3.6-16.8h0m72.6 5.7h0m44.8-5.5h0m-38.3 6.3h0m-48.1-7.7h0m85.7 16.7h0m-40.1-26h0m31.9 7.9h0m-87.9 9.8h0m95.7-5.2h0m-15.7 11.7h0m9.9-16.1h0m-51.1 23h0m-44.3 4h0m90.5-36.3h0m-20.1 27.3h0m-63.1-23.8h0m65.7 20.1h0m-52.6-13.6h0m-29 3.9h0m84.7 15.2h0m-81.6-15.3h0m3.5 22.4h0m4.8-17h0m75-23h0m-16.6 2.1h0m-41.9 9h0m61.2 19.8h0m-47.3-34.4h0m-10.7 24.2h0m19.9 11.1h0m-52.1-17.5h0m92.3 18.7h0m7.9-21.2h0m-27.6-9.9h0m2.6 2.7h0m24.7 25.1h0m-24.5 8.6h0m-28.8-20.7h0m58.5 11.7h0m-36.9-12.1h0m9.3 20.5h0m25.5-18h0m3.5-12.8h0m.4 15.5h0m-47.4 1.3h0m42.8-13.8h0m-20 .1h0m-46.7 20.5h0m52.2-.7h0m-17.1-28.8h0m13.6 24.8h0m12.7-20.7h0m-25.7-1.1h0m19.6 18.1h0m-76.9 9.7h0m8-25.3h0m-1.5 13.1h0m52.1-16.3h0m6.7-4.5h0m-54.5 4.8h0m-27.9 22.9h0m107.2 1h0m-64.5-4.1h0m-12.7-7.4h0m63.2-10.8h0m-60.6 3.3h0m53.5 25.8h0m-91.8-9.8h0m28.1-6h0m63.9 10.1h0m-25.9-25.5h0m-48.4 37.1h0m64-20.8h0m26.9-9.3h0m-4.2 18h0m-60.4-14.2h0m-25.5-8.7h0m33 24.7h0m33.7-32.1h0m24.4 5.9h0m-72.2-4.3h0m54.1 4.8h0m-80.9 7.4h0m82.5 19h0m-77.8 6.2h0m67.8-30.9h0m28.4 17.8h0m-24.8-20.3h0m33.5 15.8h0m-61.9 17.5h0m-5.8-38h0m-3.5 35h0m-10.3-20.8h0m57.7 21.2h0m-51-24.4h0m72.8 14.1h0m-67.4-3.7h0m-4.9-15h0m49.9 25.4h0m-1.3-24.4h0m-99.8 21.3h0m21.4-5h0m7.2 1.3h0m70.7-18.3h0m-18.4 33.9h0m29.6-34.2h0m-56.8 33.4h0m-45.6-31.8h0m-8.1 19.4h0m90.2-20.7h0m-72.6 16.3h0m.3 1.5h0m94.2 9h0m-71-15.2h0m26.3 18.2h0m-12.9-37h0m10.3-2h0m-54.3 19.1h0m86.3 17.5h0m-8-1.7h0m14 4.7h0m19.3-14.4h0m-71.4 17h0m-30.3-10.5h0m-7.5 1.2h0m-10.9-3.3h0m7.3-17.4h0m89.6 17.9h0m10.8-4.2h0m-.4 10.1h0m-14.7 .4h0m24.5-22.7h0m-102.6 25.9h0m20-19.1h0m-29.3-6.2h0m19.4 12.1h0m-5.2-15.9h0m83.3 24.3h0m-98.8-23.1h0m16.5-.2h0m18.9-.2h0m-15.5 20.4h0m-20-15.9h0m23.2-9.3h0m89.9 13.4h0m-23.5 17.7h0m-74.1-15.6h0m94.2-.8h0m-104.6-8h0m81.1 28.2h0m3.2-7.5h0m-93-8.6h0m112-11.9h0m6.5 9.2h0m-77.3 15.3h0m56.2-5.2h0m-84.7-17.6h0m66.9 15.5h0m1.4-21.4h0m16.1 22.4h0m-93.9 2.9h0m65.1 5.9h0m22.3-15.5h0m-8.7-17.3h0m22.4-.9h0m-51.2 35.1h0m16.7-.2h0m-3.3-15.9h0m26.7-8.4h0m.3-8.8h0m-63.3-1h0m67.2 30.7h0m-8.9-25.5h0m-59.2 27.1h0m-18.7-20.9h0m106.7 2.1h0m-64-15.7h0m-53.7 14.3h0m94.6 13.2h0m-24.8 9.1h0m52.4-16.7h0m-112.5 10.5h0m24.3-27.3h0m-28.7 19.4h0m95.9 7.1h0m-44-29.9h0m62.6 20.5h0m8.9-2.7h0m-22 20.2h0m6.6-16.3h0m-26.2-14.3h0m-13.9 28.1h0m-3.6-2.8h0m38.9-6.2h0m1.8 8.4h0m-80.9-30.3h0m64.7 22.4h0m16.6-21.3h0m-66 9.9h0m-2.6-12.2h0m12.4 17.6h0m-15.8-9.8h0m-26.3-4.7h0m-9.3 26.1h0m88.8 1.7h0m-84.6-9.5h0m26.4 9.8h0m9.3-19.4h0m46.2-12.8h0m38.5 19.8h0m-5.8-14.1h0m-9.1 6.3h0m-4 9.6h0m-31.2 12.6h0m33.2-8.9h0m-31.6-27.5h0m-43.2 40.9h0m76.3-24.6h0m-36.6-11.5h0m-76 22.5h0m116.7-4.9h0m.7 13.9h0m-107.9-20.2h0m33.2-8.6h0m52.1-6.6h0m-44.9-3.4h0m68.2 23.8h0m-87.2 4.7h0m10.6 5.6h0m-4.2-11.3h0m12.8-20.2h0m69.2 14.2h0m-3.3 10.1h0m-105.1-3.9h0m13.9-12.8h0m47.9 26.8h0m-54.7-11.9h0m-.6-.8h0m25.7 13.4h0m-42-8.5h0m9.4-19.1h0m62.8-2.9h0m53 13.2h0m-124.4 10.2h0m30.5-4h0m-33.6 1.9h0m13.7-11.9h0m69.5-2.3h0m30 6.7h0m-19.4-18.8h0m-11.3 22.7h0m-75.5-15.3h0m86.1 23.9h0m28.2-13.2h0m.7 4.8h0m-56.8-21.7h0m38.7 32.3h0m-35.7-19.6h0m26.5 22.7h0m-49.1-13.4h0m-15.3-3.3h0m-6.9 0h0m-15 11.4h0m87.7 5.6h0m8.7-7h0m-21.8-30.4h0m-18-2.7h0m-55 25.8h0m-1.8 6.2h0m-7.4-5.9h0m120.1-14.5h0m-72.2 4.2h0m-46 5.1h0m49.5-17h0m22.5-3.4h0m36.7 34.4h0m4.5-3h0m2.7-22.1h0m-59.1 15.7h0m-22.5-14h0m3.4 7.4h0m81.1-2.9h0m-55.9-12.9h0m-19.8 14.3h0m51.4 .4h0m28.4 5.9h0m-82.5-13h0m-31.4 14.5h0m34-21.4h0m30.5-4.7h0m-2.4 37.8h0m-49.9-28.8h0m57 2.8h0m5.2-6.5h0m-73.9 12.2h0m6.2 7.4h0m64.8-7.6h0m34.1-5.4h0m-86.8 17.9h0m82.2-12.4h0m-110.5 12.9h0m80.1 4.4h0m-37.3-24.5h0m72.4 7.2h0m-85-9.5h0m8.1-1.7h0m52.6 32.4h0m25.7-15.7h0m-5.9-10.4h0m8.5 17.9h0m-22.5 2.4h0m-13-19.5h0m-21 .7h0m40.3 18.1h0m-99.6-8.1h0m-3.2 8.2h0m-2.4-1.8h0m68.9 .1h0m-27.6-9.3h0m31.2 21.9h0m-35.2-4.1h0m33.1-7.2h0m-19.9-29.3h0m65.6 19.3h0m4.4-.1h0m1.7 .6h0m-51.7 16.7h0m-34.8-16.5h0m53.9-16.2h0m16.5 20.7h0m22.9 1.3h0m-70.8-26.8h0m-28.2 14.7h0m63.4-10h0m-12.8 33h0m13.2-9.8h0m-35.8 1.7h0m-30.6-23.8h0m28.2 6.7h0m-18.1 13.8h0m80.9-10.2h0m-69.5-2.1h0m-15.9 22.7h0m92-18.2h0m-1.7-.9h0m-110.3 1h0m73.4 6.3h0m-86.1 4.3h0m11.9-16.7h0m25.8 6h0m-3.2-3.3h0m66.2-10.7h0m-48.4-4.4h0m-41.8 9.5h0m79.8 30.5h0m-68.3-27.4h0m-17.5-1.2h0m110.7 2.4h0m-92.9 12.4h0m60.7 .6h0m13.1 11.1h0m1-25.5h0m-3.9 20.1h0m7.7-25.5h0m17.3 8.2h0m-25.1-4.1h0m15.1-5.3h0m-14 6h0m-64.3 24.1h0m-16.3-28.3h0m102.1 14.9h0m-40.7 15.4h0m-51.9-23.9h0m55.5 8.7h0m36.8 1.9h0m-87.1 5.3h0m93.1-13.5h0m-45.4 19.7h0m43-17.3h0m5.6 4.2h0m-102.7 2.1h0m-17.7 7.9h0m100.9-24.4h0m15.5 15.3h0m-22.4-10.1h0m-4.3 .3h0m-26.6 25.1h0m29.8-39h0m-10.9 1.3h0m-52.9 38.2h0m4.4-30h0m14.2 20.3h0m-21.4-22.9h0m33.2-9.5h0m-47.7 12h0m109.6 15.4h0m-125.2 1.6h0m117.6 5.8h0m-24.3-20h0m-79.9-.9h0m4.5-4.3h0m67.1 25h0m-37.2-5.9h0m-13.9-22.2h0m84.2 34.2h0m-25.7-24.8h0m-7.2 26h0m-50.9-31.8h0m-31 4.2h0m108.6 5.6h0m-25.1-5.6h0m-5-2.5h0m.2-4.1h0m40.6 8.8h0m-71.7-11.2h0m62.6 3.6h0m3.6 5.8h0m2.2 18.5h0m1-14.7h0m-43.3 10.4h0m-74.6-14.2h0m30.7 28.7h0m78.4-6.8h0m-4.8-2.7h0m-59.6-21.3h0m66-2.5h0m-103.3 1.7h0m18.2 15.7h0m1.1 10.9h0m-23.1-10.7h0m.7-8.4h0m71.1 4.8h0m-49.8 5.7h0m85.9-6.2h0m-80.9-15.4h0m91.6 5.3h0m-117.8-2.1h0m15.8 32.4h0m60.7-32.8h0m-42.7 15h0m15.8 13.7h0m63.9-13h0m-59.9-13.7h0m29-2.8h0m-62.6 32.2h0m50.8-11.6h0m40.5-8h0m-41.3-13.7h0m-2.6 16.8h0m-60.3-1.5h0m-6.9 1.4h0m109.5-14.6h0m-71.1 11.6h0m-26.3 1.6h0m63.6 1.8h0m10.4 1.3h0m-39.1-24.8h0m11.3 36.1h0m-54.7-15.2h0m57.2 16.2h0m-44.4-16.6h0m69 9.2h0m23.4-6.6h0m-51.4 15.7h0m9.3 1h0m-32.3-.3h0m27-40.3h0m-40 3.1h0m65 11.3h0m27.2 5h0m-35.9 4h0m27.7-11.7h0m0 14.1h0m-11.1-.4h0m-63.5-10h0m87.8 7.9h0m-35.8-22h0m-56.4 26.5h0m-9.5-11.7h0m-12.3 5.9h0m11.9 3.9h0m63.3-23.9h0m25.3 26.2h0m-49.2 14.7h0m-38.8-10.9h0m85.9-17.2h0m-15.2-9.7h0m-49.3 7.3h0m6.5-1.6h0m53.9 21.2h0m-17.7 1.9h0m5.2-28.1h0m7.4 28.3h0m-53-15.6h0m-10 16.5h0m80.8-27.5h0m-112.5 6.7h0m54.8-15.6h0m4.4 35.7h0m-22.5 5.6h0m-28.2-7.5h0m63.7-13.8h0m-47.1-7.4h0m44.3-10h0m-34.1 29h0m37.5-16h0m19.3 28.4h0m1.7-12.3h0m-61.2-14h0m50.1 24.4h0m-36.4-39.1h0m16.7 36.9h0m-34.3 2.4h0m17.5-29.7h0m-12.3 5.8h0m77.3 7.7h0m-19.7 4.9h0m27-10.5h0m-48.9 7.4h0m42.8-16.1h0m-36.5 14.8h0m-29.8 7.3h0m12.7 9.7h0m48.9-27.3h0m-21.8-13h0m-6.2 9.6h0m-61.8-8.8h0m96.1 7h0m-25.7 2.3h0m-4.1 26.9h0m29.7-2.2h0m-98.9-11.6h0m69.7 3.2h0m-77.1-2.9h0m14.3-16.5h0m63.4 27.8h0m-39-33.4h0m-10.3 38.1h0m49.4-39.3h0m-65.4 25.4h0m1.5-23.6h0m65.3-1h0m-91.5 23.5h0m19.7 2.3h0m32.6-25.8h0m55.8 26.4h0m-42.1 12.1h0m-68.6-19.8h0m31.8 2.8h0m42.6 12.7h0m-10.9-35.9h0m-56.2 32.4h0m33.5-19.8h0m47.3 11h0m24.4 2.1h0m-20.6-17.6h0m-2.7 2.9h0m24.4-6.3h0m-53.7 4.5h0m42.8 19.6h0m-78.7 15.3h0m8.9-36.4h0m.1 4.2h0m44.7 21.7h0m42-14h0m-56.4 20h0m36.6-18.8h0m30.9 .1h0m-110.9 20.7h0m68.9-16.2h0m28.2-11h0m-61-13.8h0m-28.6 1.8h0m-1.3 23.1h0m87.3 6.6h0m-60-32h0m19.4 37.1h0m44.4-30.4h0m-82.9 21h0m63.2-26.9h0m21.1 13.9h0m-31.2-11.8h0m-12.1-3.1h0m-6 33.9h0m3.4 3.1h0m-22.1-36h0m40-2.2h0m-17.5 36.3h0m-1 3h0m-50.4-19.1h0m54.5 23.3h0m-5.2-1.6h0m36.1-35.7h0m-72.6 23.4h0m4.8-12.3h0m-21.9 .9h0m36.9 5h0m59.6 2.1h0m-85.4-5.2h0m3.9-12.6h0m-30.6 13.3h0m92.3-12.9h0m-76.8 3.8h0m6.1 29.1h0m90.2-3.7h0m-111.6-10.8h0m30.1-20h0m-7.3 6.2h0m70.9-7.4h0m24.4 13.1h0m-74.5 23.4h0m61.4-34.2h0m-77.1 30.4h0m91.7-7.1h0m1.8-13.5h0m-53.2 19.9h0m-41.2-7h0m-15.1-19h0m82 1.7h0m-96.1 13.4h0m8.5-5.3h0m94.2 14.6h0m-58.7-23.7h0m74.1 14.7h0m-94.8 16.8h0m57.2-20.1h0m-48.2-8.4h0m51.9-9.1h0m14.7 19.7h0m20.1 9.1h0m-31.8-26h0m2.3 26.7h0m19.4 .3h0m-94.2-13.5h0m82.3-2.1h0m6.4 1.1h0m-81.7-6.9h0m45.9-15.3h0m-59.4 16h0m-5.6 10.2h0m22.1 10.7h0m90.6-13.1h0m-71.6 12.2h0m-18.4 5.5h0m93-24.9h0m-83.4 24.1h0m35.7-28.5h0m24.9 19.1h0m-71.4-1.7h0m1 15.3h0m29.2-27.3h0m66.1-7.9h0m-2 14.5h0m-93-14.9h0m54 7h0m12.7 16.6h0m25.2-8.8h0m-.2-.8h0m-16.3-14.9h0m-64.7 7.4h0m-15.9-5.2h0m-4.8 11.1h0m82-10.1h0m-23.3 26.2h0m-5.9 .4h0m48.3-13.9h0m5.8-8.5h0m-23.3-4.9h0m12.7 19.3h0m4.9-7.5h0m-85 19.5h0m66.3-33h0m-86.1 11.7h0m30.4-5.8h0m37.6-6.3h0m43.1 17.2h0m-7.9-4h0m-84 13.1h0m86.7-9.6h0m-108.2 7.8h0m106.1-14.1h0m4.3-1.7h0m-109.4 .6h0m35.5-7.8h0m12.3-10.9h0m20.2 3.8h0m-13.2-.3h0m-62.5 27.4h0m48.6-24.1h0m59 25.4h0m-18-27h0m-87.6 16.2h0m116.9 .7h0m-77.1-4.5h0m-12.8 28h0m30.8-41.8h0m-60.6 23.7h0m36.3-.6h0m-.7 12.1h0m53.1-2.9h0m-1.3-28.3h0m-5.6 16.5h0m-70.8-6.2h0m39.2-16h0m11.1 4.8h0m51.7 19h0m-17.3 8h0m-13.2-22.9h0m-61.6 2.8h0m99.8 10.3h0m-122.7 6.6h0m103-21.5h0m20.2 15h0m-81.8-8.4h0m-10.8 1.3h0m15.4 15.2h0m38.6-27h0m13.2 4h0m-10-6.6h0m-73.1 18h0m62.9 20.4h0m-53.5-15.4h0m4.6-9.9h0m64.3-5.4h0m-4.2-5.5h0m-21.4 34.2h0m23.7-28.2h0m-55.2 30h0m87.8-22h0m-3.4 4.3h0m-119.4 2.8h0m20.3-2.1h0m89.7-2.1h0m-18.6-10.1h0m12.5-1.9h0m-26.1 2h0m-61.5 2.5h0m64.7-4.8h0m14.1 35.3h0m-48.5-26.4h0m72-1.5h0m4.4 8.1h0m-3.8-11.5h0m-119.4 15h0m118.1-11.5h0m-33.9-6.6h0m-42.9 9h0m-35-.3h0m89.6 14.8h0m-28.1 .1h0m53.8-19.5h0m-56.7 1.3h0m18.2-7.5h0m-.4 19h0m-14 15.3h0m-31.7-38.6h0m35.2 16.3h0m37.1-11.6h0m-54.3-7.6h0m65.1 20.1h0m-117.3 8.1h0m112.1-11h0m-3.6 11.2h0m-13-26.5h0m-7.1 33.3h0m30.3-10.3h0m-40.8-3.3h0m-63.7-1.8h0m33.2-13.5h0m49.8 26h0m-92 3.6h0m19.9-13.7h0m62.8-4.3h0m-34.6 9.1h0m38.7 10.4h0m17-21.1h0m-21.7-4.5h0m-87.8 16.5h0m19.1-14.5h0m63.4 15.1h0m-58.2-12.8h0m8.1 1.1h0m-10.6 10h0m93.1-4h0m-86.7-12.5h0m-19.5 19h0m18-22.2h0m-19.4 18.9h0m81.1-2.6h0m-51 18.2h0m.2-31.5h0m-10.2 27.8h0m26.5-35.2h0m37 7.9h0m21.5-2.2h0m7.2 15.7h0m.7-4h0m-8.1-13.5h0m-60 9.4h0m75.5 6h0m-50.7-11.6h0m18.5 27h0m25.2-8.9h0m-26.6-22.8h0m-90.7 13.4h0m109.8 .8h0m5.3-1.6h0m-16.9 16.2h0m15.2-21.3h0m-27.9-12h0m-74.4 15h0m104.4 10.8h0m-7.6-6.2h0m-35.4 17.3h0m19.8-4.6h0m-59.6-24.9h0m-32.9 28.1h0m11.7-19.1h0m75.8 17.1h0m-66.3-28.1h0m60.8-1.3h0m28.2 20.6h0m-103.7 5.3h0m59.1 7.5h0m-48.9 0h0m29.3-.4h0m-5.9-27.2h0m70.4 6.1h0m-28.1-12.9h0m19.3 27.6h0m5.3-25.9h0m-82.6 4.3h0m36.9 28.8h0m8.1-9.6h0m1.7 5.7h0m-76.1-5.5h0m94.1 9.1h0m-2.2-32.7h0m-81.2 17.4h0m102.6-14.2h0m-107.8 21.5h0m82.9-15.6h0m-70 2h0m53.3-14.6h0m21.4 9.5h0m-39.2-6.5h0m-27.4 2.9h0m51 20.5h0m-2.7 8.1h0m-65.7-23.5h0m60.9 2.9h0m51.7 13.3h0m-5.5-7.6h0m-1.1-2.8h0m-108.8 14.2h0m27.2-26.9h0m80.9 5.4h0m-109.3-1.9h0m119.5 9.4h0m-56.6 1h0m-33-4.5h0m-7.4-11.6h0m-2.5 4.1h0m4.7-2.4h0m84.1 13.4h0m-83.5-12.3h0m87.7 15.4h0m-60.3 18.7h0m10.8-2.4h0m-17.1-37.9h0m69.9 22.8h0m-39.9-12.3h0m-78.8 21.7h0m92.3 1.2h0m-1.9-28.5h0m-3.3 2.5h0m-38.8 31.5h0m56.1-34.4h0m-7.1 27.7h0m-57.9 7.6h0m45.8-33.1h0m28.9 9.3h0m-3.7 12.4h0m-48.2 4.3h0m24.1-19.3h0m-79.2-3.5h0m-1.9-2.4h0m28.5 10.6h0m20.6-15.2h0m20 8h0m-13.6-5.6h0m25.1 .1h0m29.9 14.1h0m-38.6 10.7h0m16.3-16.5h0m-19 23.2h0m-36.1-17.3h0m-32.9-2.3h0m95.2 6.5h0m-14.9-13.4h0m32.3 21.6h0m-112.6-.4h0m42.4-31.7h0m-24.3 34.7h0m17.6 3.8h0m76-7.3h0m-19 2.8h0m-2.4-22h0m-69.7-5h0m50.3-1.6h0m-67.9 7.6h0m48.3 2.1h0m-42.6-.7h0m13.9 21.2h0m92.1-14.5h0m-95.5 21.1h0m-22.2-13.9h0m30.7-22.8h0m60.6 23.7h0m-54-4.9h0m48.6 14.6h0m9.4-30.2h0m-28.2 17.9h0m22.3 1.8h0m-77.3-13.2h0m97.1-8.5h0m-110.7 21.3h0m-2.1 2.5h0m108-.4h0m8.4-8h0m-8.4-18.3h0m10.2 27.7h0m-80-20h0m73.4-2.6h0m-55.9-6.3h0m28-.4h0m6.2 37.7h0m5.3-9.9h0m-24.4 5.5h0m-51.4-24.8h0m92.9 5.2h0m2-2.2h0m-15.2 13.9h0m15.6 .7h0m-26.7-24.4h0m24.4 18.8h0m-3.2-17.9h0m-20.4 33h0m32.8-9.9h0m-113.6 6.8h0m60.7-36.4h0m-25.3 32.9h0m54.6 1.1h0m-83.5-16.6h0m11-11.7h0m58.4 1.9h0m-62.6 34.4h0m-18.5-9.9h0m64.1 6.3h0m17.2-32.1h0m-4.7 22.4h0m-54.3 12.5h0m-11-2.8h0m106-15.3h0m-92.7-2.5h0m29.2-15.2h0m-46.7 23.5h0m16-2.1h0m66.4-14h0m-79.7 9.3h0m48.9 12.9h0m21.1-26.5h0m-26.9 21.5h0m63.7-6.9h0m-6.2-1h0m-74.2 21.7h0m75.7-20.1h0m-47.9 17h0m-59.1-33.6h0m54.1 30.6h0m20.2-27.4h0m12.2-1.5h0m11.7 22.9h0m-93.7-4.6h0m88.6-15.6h0m-65.1-4.7h0m8.7 7.9h0m73.7 24.2h0m-74-20.4h0m-.4-15.3h0m76.4 14.8h0m-31.4-3.2h0m-6.2-14.6h0m13.6 35.6h0m-92.2 1.2h0m30.2-13.4h0m60 11.3h0m-61.2-15.7h0m4.2 6.5h0m-10.6 19.3h0m36.3-6.1h0m9.8 2.9h0m41.5-4.9h0m-108.8-24h0m113.2 .8h0m-60.4 11h0m-48.9-5.2h0m81.6 8.7h0m-27.5 5.1h0m53.6-12.7h0m2.3-7h0m4 .3h0m-57.2 23.6h0m-41.2-29.3h0m13.8 6.8h0m46.6-6.4h0m27.2 19.7h0m10.8 4.3h0m-27.2 5.2h0m-86.5-5.2h0m87.1-1.7h0m-2.8 5.4h0m8.1-8h0m-103.4-1.5h0m28-4.6h0m90-12.6h0m-22.8 5.6h0m-3.2 23.6h0m-71.3-27h0m87.8 11.6h0m-75.3-17.9h0m37.1 35.7h0m-55.2-22.1h0m67.9-.9h0m-40.9-6.6h0m76 3.5h0m-51.1 23h0m12.7-34h0m23.5 30.3h0m-77-10.1h0m-27.2 3.3h0m113.6 3.2h0m-3.4-20.7h0m-83.6-6.7h0m68.7 5.9h0m26.1 14.2h0m-28.3 16.4h0m-80.7-11.4h0m67.5-23h0m-62.3 14.4h0m81.2-17h0m16.4 34.9h0m-44 2.1h0m-17.9-34.1h0m-11.2 14h0m7.3 19.9h0m-33.4-19.2h0m57.2 16.7h0m-51.1-28.4h0m55.4 19.9h0m43.7-18.4h0m-21 26.6h0m-99.4-5.8h0m9.7-20.3h0m14.3 34.7h0m46.4-4.7h0m47.4-8.8h0m-119.3-7.1h0m89.8-12.1h0m-45.4-5h0m75.1 5h0m-1.1-2.8h0m-109.4 27h0m117.1-22.5h0m-32.6-4.4h0m-21.1 29.3h0m-62.5-27.4h0m105.4 18.7h0m-59.5 9.5h0m35.9-2.4h0m-31-36h0m53.3 7.9h0m-74.5 4.8h0m53.2 24.8h0m14.5-2.9h0m-85.3-18h0m99.7-5.8h0m-22.2 25.7h0m-17.7-13.8h0m17.9 5.9h0m-92 3.9h0m28-8.5h0m73.5 5.7h0m-81.3-25.6h0m85.7 18.5h0m-96.2-7.3h0m39.2 11.7h0m57.4 4h0m-57.3-33.1h0m38.6 10.7h0m-62.2-4.8h0m65.7 24.7h0m-60.7 11.2h0m-26.2-22.7h0m104.6 10.1h0m-76 1.4h0m91.8-7.9h0m-126.1-2.8h0m27.2-12.4h0m-31.5 18.6h0m37.8-6.9h0m53.5-13.6h0m-4.2 7.2h0m-74.8 8.6h0m8.3-8h0m39.7-12.6h0m-21.6 42.4h0m-8.5-40h0m12.7 37.2h0m45.8 2h0m-7.8-11.9h0m-64.5-4.4h0m100.5 7.3h0m9.4-8h0m-2.4-6h0m-24.3 14.2h0m-74.3-23.9h0m31.5 3.9h0m-42.3 12.2h0m2.7 17.9h0m13.3-35.9h0m43.7 33.8h0m-63.7-23.6h0m30.5-1.5h0m52 21.1h0m28.7-10.1h0m-88.4-24h0m52.6 31.1h0m4.3 6.1h0m26.7-13.4h0m-63.8 10.9h0m63.2-17.8h0m-114.3 10.7h0m100.9-24h0m12.3 9h0m-37-6.5h0m40.1 21.6h0m-3.7-21.2h0m-77.9 8h0m36.1 1.1h0m-70 7.9h0m4.2-13.4h0m56.3 17.1h0m66.6-9h0m-67.2 12.7h0m53.9-4.9h0m-6-11h0m8.7-1.7h0m-93.1 18.2h0m-16.1-22.3h0m16.4 4.6h0m91.3-.8h0m-18.3 23.2h0m18-17.2h0m-113.3 12.7h0m63.4 2.2h0m50.8-9.7h0m-2.9-4.9h0m-1 6h0m-104.1-14.1h0m66.3-7.4h0m-49.8 27.5h0m17.8-25.4h0m62.8 6.9h0m-85.2-6.7h0m83-4.3h0m-5.6 26.7h0m-64.7-16.5h0m-21.5 3.9h0m67.1-15h0m-61.7 4.6h0m21.8 11.5h0m32.2 5h0m-42.7-4.7h0m59.6 20.7h0m-90.1-14.9h0m98.8-12.2h0m-20.7 15.9h0m-20-30.4h0m68.4 31.5h0m-28.5 4.9h0m-61.7-19.7h0m-7.6-3.5h0m15 2.8h0m14.8 22.4h0m-34.8-33.4h0m25.6 26.9h0m-34.9-18.8h0m78.4 .5h0m-82.1 7.9h0m87 11.8h0m16-1h0m7.3-13.8h0m-89.4 6.8h0m78 15.1h0m-58.9-8.2h0m6.1-31.8h0m49.9 18.1h0m-12.7 13.4h0m16.1 6.2h0m-51.1 6.6h0m-1.7-43.2h0m65.3 15h0m-53.6 27.8h0m38.6-6.7h0m-95.7-20.7h0m30.1-.8h0m-40.7 8.6h0m27.6 18.4h0m-19-6.1h0m36.5-15.4h0m31.9 8.5h0m20.6 5.7h0m-95.5-15.5h0m103.7-7.7h0m-72.4 7.1h0m79.2 12.8h0m-81.9-13.3h0m65.7-12.2h0m-64.2 .3h0m21.7 25.3h0m-48.5-14.9h0m11.5-6.4h0m4.3 33.3h0m94-35.8h0m-77.6 15.7h0m88.5 6.9h0m-13.1 2.1h0m-95-12.6h0m74.7-4.2h0m-5-8.8h0m32.9 11.4h0m-101.2-4.5h0m36-10.6h0m20.2 35.2h0m-16.9 1.5h0m-46.5-16.9h0m57.8-12.1h0m-19.4 22.6h0m-44.4-20.3h0m81.9 .5h0m1.9-7h0m-14.5 19.2h0m32.3-13.8h0m-53.1 24h0m16.5 3.6h0m46.6-21h0m-110.4 5h0m101.7 9.5h0m-19-20.3h0m-82 3h0m78.4 16.5h0m1.3-27.9h0m-15 34.2h0m52.2-22.6h0m-10.4-8.5h0m-60.4-6.3h0m30.8 33.4h0m-72.1-11.2h0m95.5-13.1h0m-17.6-1h0m-55.9 2.9h0m-32.3 12.6h0m117.8-4.1h0m-50.1 19.1h0m-5.6-34.6h0m-35.2 2h0m88.9 14.9h0m-29.5-19.1h0m-48.4 18.1h0m77.3-2.2h0m-32-13.2h0m12 11.2h0m.4 24.2h0m-15.7-15.8h0m28-17.1h0m5.6 21.2h0m-27.5-29h0m14.8 33.8h0m-17.6 9.6h0m-65.1-35.3h0m67.6-2.7h0m-5.3 20h0m-22.1-15.9h0m47.2 17.5h0m-100.4-6.4h0m23.5-18.2h0m92.5 30.4h0m-16-24h0m6.8 15.4h0m-83.6-11.4h0m-22.7 15h0m24.9-18.9h0m7-1.1h0m12.9 31.5h0m-15.3 .8h0m3.4-25.8h0m77.9 2.1h0m-116.6 8.6h0m10.1-8.3h0m83.5 19h0m10.9 .8h0m-104.8-23h0m109.7 11.9h0m-29.7-10.8h0m-27.6 20.9h0m48.5 1h0m.1-13h0m-102.7 6.8h0m88.3-29.8h0m-67.4 6.9h0m23.4 3.9h0m-45.9 13.8h0m78.6-22.5h0m-11.6 22.7h0m-54.3-6.7h0m112.1 3.8h0m-52.2 14.4h0m9.9-34.6h0m30.9 8.5h0m-11.6 9.8h0m18.5-11.1h0m-88.7 22.7h0m71.4 0h0m-21-24.8h0m23.4 22.3h0m-68.6-18.6h0m78.2 14.3h0m-54.4-23.6h0m-49 13.5h0m103.3 22.9h0m-68.8-16.7h0m36.8-2.9h0m30.8 3.6h0m13.6 4.6h0m-60.2-6.4h0m58.6-1.4h0m-93.6-1.8h0m25.3 24.6h0m33.4-2.7h0m-17.2-35.1h0m49.7 10.4h0m-110.4 23.8h0m37.3-36.3h0m40.9 10h0m-1.4-1.9h0m-61.5-5.7h0m97 21.4h0m-100.3 18.3h0m95.8-18.6h0m-33.3-21.8h0m-36.3 .1h0m-13.6 12.2h0m51-9.8h0m-41 1.4h0m73.6 17h0m-78.9-14.4h0m25.7-11h0m3.3 38.6h0m-17.4-21.4h0m69-.6h0m-92.5-9.9h0m86.7 5.3h0m5.3-.5h0m-94.9-2.7h0m33.7 31.6h0m-49.1-31.2h0m-8.8 18.5h0m93.7 7.7h0m-60.4-14.7h0m39.3 9.5h0m-38.7 4.7h0m70.8-9.8h0m13.3-11.9h0m-33.2 29.5h0m7-8.1h0m-35.4-20.4h0m-30.3-5.4h0m23.6 30.6h0m-44.8-17.1h0m24.9-14.9h0m7 11.4h0m-20.6-13.3h0m99.1 16.4h0m-80.3-15.7h0m1.8 4.3h0m-3.3 32.5h0m83.3-24.4h0m1.3 19.5h0m-94-31.7h0m62.1-1.6h0m-47.1 15.5h0m9.2 2.3h0m19.4 15.6h0m16.8-31.9h0m35.5 19.1h0m-6.8 4.7h0m-80.2-11.9h0m71.8 13.2h0m-85.7-26.2h0m63.3-3.6h0m-24.6 23.1h0m-34.9 4.2h0m71.7 12h0m-72.3-35.5h0m15.2 3.4h0m-41.2 21.1h0m109-21.5h0m8.8 19.6h0m-55.5-28.9h0m-45.3 37.9h0m15.9 2.1h0m85.9-23.3h0m-117.9 11h0m4.2-14.5h0m86.2 1.7h0m28.3 18.2h0m-38.9-28.1h0m23.8 34.8h0m-8.6-2.8h0m-10.8-34.5h0m28.6 34.4h0m-63.5-19.4h0m-17 4h0m61.4-15.3h0m-51.6 13.9h0m75.9 6.1h0m-50.8-21.9h0m-1.8 34.6h0m-55.2-21.4h0m68.5 18h0m.8-5.2h0m-48.2 9.9h0m.3 4.2h0m15.2-21.2h0m-37.6 6.8h0m-1.8-19h0m63.1 29.3h0m18.5-8.1h0m-85.6 3.9h0m43-2.7h0m77.3-6.7h0m-92.2-16.4h0m23.6 .4h0m48.1 4h0m-16.1 11.2h0m-61.9-.7h0m-18.3 5.4h0m22-25.1h0m-12.6 33.3h0m65.5-30.7h0m-21.6 17.6h0m15 12h0m-34.3-27.6h0m-4.2 32.4h0m-2.2-37.5h0m59.2 8.4h0m28.6 4.3h0m-96.4-11.1h0m94.4 9.5h0m-85 19.1h0m54.1-25.6h0m-3.5-1.5h0m32.7 8.6h0m0 .2h0m-6.3 6.8h0m-29.4-14.8h0m13.9 6.3h0m19.8 5.1h0m-99.9 22.1h0m16.9 2.3h0m51.1-32.1h0m8.2 6h0m-49.2-1.7h0m2.7-1.4h0m-8.4 24.7h0m-31.2-28.7h0m94.5 23h0m-43.4-5h0m12.6 10h0m37.2-11.6h0m-2.9 2.9h0m-45.9-26.3h0m53.1 14.6h0m-74.4-1h0m-37.5 10.6h0m77.4 6h0m38.7-10.4h0m-89.6 18.6h0m11.3-11h0m-6.4-19.5h0m81.4 4.7h0m-1.4 14.9h0m-86.1-26.9h0m95.2 21.4h0m-61.3-23.3h0m-50.2 5.8h0m77.9-1.3h0m-35-5.5h0m6.3 9.6h0m4.1-10.8h0m59.6 17.7h0m-112.1-.5h0m30.2-7.6h0m-14.3 11.2h0m56.4-13.9h0m-25.5 27h0m16.5 6.9h0m-7-.9h0m38.3-26.8h0m-105.8 13.1h0m79.8 17.2h0m-76.6-22h0m80.2-16.5h0m7.7 20.8h0m-87.2-7.8h0m-1.3 15.6h0m106.8-2.9h0m-76.6-9.8h0m4.4-2.3h0m5.6-4.7h0m79.6 5.1h0m-111.6 5.3h0m-3.9 3.9h0m-1.5 .7h0m48.1 8.8h0m32.6-22.5h0m-87.1 13.5h0m23-7.5h0m19.5-8.2h0m-19.9 23.7h0m17.7 2.1h0m-3.9-19.7h0m65.4 4.3h0m20.6-6.5h0m-38.6-1.8h0m-9.7 20.6h0m8.6-30.6h0m42.8 5.3h0m-1.1 14.3h0m-4.4 2.4h0m5.6-1.5h0m-8.6-11.8h0m-81.3-1.8h0m66.8 23.6h0m13.3-4.3h0m-44.4 5.2h0m-34.7-29.5h0m78.7 4.6h0m-23.5 6.1h0m36.3 5.6h0m-25.6 15.1h0m-53.7-13.3h0m11.9 18.5h0m-58.4-12.8h0m51.9 9.8h0m47.9-7.3h0m-69.1-25.8h0m-23.3 0h0m25.5 27.5h0m-22.1-12h0m60.2 14.9h0m44.4-8.7h0m-34.3-23h0m11.8-.9h0m-21.9 36.8h0m-68.4-10.2h0m22.3-22.9h0m73.8-1.8h0m-89.3 21.7h0m-9.5-3.7h0m56.6-4h0m-26.1-9.5h0m34.6-12.5h0m-51.8 12.2h0m77.9-9.6h0m-56 37.1h0m-18-34.6h0m60.1 23.9h0m-4.5 12.5h0m39.6-9.4h0m-91 15.2h0m42.3-46.4h0m61.3 29.6h0m-31.8 10.8h0m-94.5-14.8h0m20.3-10.6h0m83 26.2h0m-1.4-12.8h0m-63.4-15.3h0m82.2 13.8h0m-34.6-16.2h0m-32.3-3.1h0m16.5 30.5h0m-44.4-30.9h0m86.4 1.1h0m-66.4 5.5h0m69.2-6.5h0m-106.4 8.2h0m107.3-8.6h0m-37.5 7.5h0m49.2 3.5h0m-56.9 20.3h0m9-34.3h0m17 6.1h0m15.6 24.9h0m-85.4-29.9h0m57.2 2.3h0m-11.2 33.5h0m-14.7-40.3h0m54.9 22.9h0m10.1-2h0m-58.4 9.3h0m-22.2-1.6h0m-9.3 2.3h0m79.4-23h0m-48.3-3.3h0m45.3 19.5h0m7.5-3.8h0m.2-6.8h0m-56.2-11.8h0m10.6 35.2h0m-38.2-25.3h0m40.4 7.5h0m-35 6.2h0m-30.6-4.4h0m67.2 7.6h0m53.5-7h0m-89-7.1h0m79.9 10.3h0m-82.6-11.4h0m79-4.3h0m10.4 9.7h0m-101.3-4.9h0m3.4 15h0m67.3-20.8h0m1 26.5h0m9.1-22.8h0m14.5 9.2h0m-28 18.2h0m-18.7-1.1h0m39.9-12.8h0m-22.9-7.2h0m31.3 15.7h0m-92.4-28.1h0m92.7 8.1h0m-85.4-12.1h0m4.7 41.2h0m-35.9-11.5h0m-1.3-17h0m116 21.4h0m-83.9-27.6h0m8.2 5.4h0m34.5-14.1h0m33.9 13.9h0m-15.9-2h0m7.1 21.7h0m-81.8 10.8h0m44.9-4h0m-58.7-22.4h0m14.7 28h0m38.8-16.6h0m-17.7-2.1h0m13.7-4h0m53.6-11h0m-17.2 8.9h0m-74.8 5.3h0m100.8-14.6h0m-104.4 6h0m99.2 2.3h0m-42.5 18.8h0m-1.3-.1h0m27.4-35h0m-87.3 14.2h0m106.3 3h0m-4.9-14.1h0m-4.8 22.7h0m7.3-17.9h0m-114.2 15.4h0m19.8 18.8h0m43.2-18.7h0m54.5-9.1h0m-115.3 8h0m115.4 10.8h0m-110.1-20.5h0m101.8 13.1h0m-37.4 10.4h0m1.4-15.3h0m16.4 10.9h0m-80.3-18.4h0m108.2-7.6h0m-113.3 23.9h0m-3.7-1.8h0m74.5-4h0m51.6-11.1h0m-71.7 27.5h0m37.7-37.8h0m-33.7 33.5h0m-3.3-39.7h0m49.4 25.6h0m-18.5-21.2h0m-81.3 20.9h0m50-21.1h0m14.1 32.6h0m18.2-24.7h0m29.6 14.4h0m-36.3 4.5h0m-10.2 7.6h0m-34.1 1.7h0m-2.9-30.1h0m55 10.7h0m31.6 1h0m-88 15.7h0m-33.8-13.2h0m38-15.5h0m69.7 28h0m-33.2 3.2h0m-22.8-11h0m-.1-11.6h0m-11.2 22.9h0m-25.6-19.4h0m97.8-12h0m-77-3.8h0m89.5 21.9h0m-48.1 2.9h0m-76.6 1.2h0m128.9-3.1h0m-28.3 9.8h0m14.5-24.6h0m8.7 10.9h0m-117.1-.5h0m81.4 18.9h0m-48.8-24.9h0m57.8-11.9h0m-96.1 22.6h0m89 6.9h0m-15.6 5.8h0m-44.3 .9h0m-24.6-9.9h0m54-31.5h0m-21.8 42h0m-29.1-21.3h0m87.6 9.3h0m2.9 3.3h0m19.4-14.6h0m-28.6 22.7h0m-34.9-39.9h0m-3 37.8h0m37.5-31.7h0m-30.8-4.4h0m-16.8 35.7h0m43.1-33.5h0m5.2 5.1h0m-91.8 15.1h0m30 1.7h0m-13.7-17.1h0m-13.4 17.3h0m94.9-26.5h0m-91 10.2h0m65.4-11.8h0m-30.8 43h0m-14.9-14.1h0m69.5-18.8h0m-77.5 25.4h0m96.8-15.3h0m-88.8-10.2h0m-25.3 18.3h0m10.2-16.9h0m81.4-2.1h0m-89.2 16.1h0m97.8 11.1h0m16.3-16.5h0m-75.6 17.5h0m82.9-8.5h0m-28.4-17h0m-59.5 2.5h0m-2.8-2.6h0m77.2-6.4h0m10.6 24.3h0m-110.3-6.1h0m10.9 17.3h0m98.7-20.9h0m-16.2 23.8h0m6.9-16.5h0m14.3-4.8h0m-29.4-6.4h0m22.9 7.5h0m-10.7 6.1h0m11.7-8.3h0m-76.5 11.4h0m-36.8-3h0m-.5-11.4h0m24.4 8.8h0m63.6 8.3h0m-76.9-18.6h0m77.3-5.1h0m-66.1 20.2h0m-13.6-9.4h0m61.6-.1h0m24 11.9h0m-16.5 1.8h0m27.1-21.9h0m-98.6-2h0m104 2.1h0m-107.6 .3h0m117.9 5h0m-16.6 12.1h0m-59.8-27.1h0m75.6 18.9h0m-94.4-17.6h0m38.9-3h0m-33.1 11.1h0m51.3-4.2h0m-33.9 20.9h0m-28.7-24.6h0m6.5-3.4h0m-20.7 6.9h0m63.5-1.2h0m-4.4 1h0m-37.6-6h0m85.5 7.8h0m-16.8 25.7h0m-76.3-23h0m72.9 17.9h0m-17.7-9.4h0m-22.9-22.8h0m55.5 39.1h0m-8.1-14.6h0m-9.3-12.8h0m22.3 13.7h0m-3.7 6.8h0m2.7-.5h0m-113.8 3.2h0m89.1 1h0m-4.6 .8h0m27.8-22.9h0m-45.2 24h0m-58.4-16.5h0m82.3 17.7h0m7.4-8.6h0m19.1-8.5h0m-81.3-12.1h0m-16.7 21.3h0m98.9-21.9h0m-30.3 26.8h0m3.3 3.1h0m23.1-14.2h0m3.2-9.3h0m-61.8 24.3h0m-.1 1.4h0m45.6-6.5h0m-92.4-23.4h0m82.5 20.2h0m20.3-20.3h0m-74.8-2.1h0m86.2 19.3h0m-11.3 8h0m-23.3-29.7h0m-29.6-3.2h0m15 29h0m-3.7-18.4h0m14.2 9.7h0m-19.4 18h0m5.1-4.2h0m-37.1-23.5h0m13.4 24.4h0m71.4-10.2h0m4.8 5h0m-98.1 .7h0m4.3-15.3h0m87.2-4.2h0m-118.4 17.8h0m90.1-10.5h0m-79-7.1h0m86.2 10.8h0m-3.5 7.6h0m30.5-5.9h0m-118.1-11.1h0m112.3 1.4h0m-24 14.7h0m19.6-2.3h0m-8.4 2.8h0m-107.8-9.2h0m107.4 5.4h0m-67.8-6.1h0m-16.3 14.2h0m62.1-33h0m-14.2 13.6h0m41.5 11.9h0m-26.5-25.5h0m7.2 11.2h0m-4.3 28.5h0m36.9-20.8h0m-5.4 11.7h0m-51 4.1h0m.4-9.5h0m-48.8-7.5h0m74.6 5.1h0m-58.5-6.7h0m80-12.3h0m-94.8 37.4h0m76.3-8.2h0m-88.5-10.8h0m-6.5 8h0m45.6-25.1h0m76.3 22.4h0m-6.5-18.2h0m-29.1-12.2h0m27.1 22.9h0m-1.4-12.3h0m-17.7-.1h0m-25.4 12.9h0m-32.9-9h0m61.2 22.2h0m-32.4-7.1h0m23.6-24.3h0m4.9 5.2h0m18.3 15.2h0m-47.1-20.6h0m11.7-.8h0m-70 16.1h0m65.5 17.6h0m23.9-17.2h0m-73.2-14.8h0m89.9 11.6h0m-71.4-10.3h0m79.4 7h0m-77 19.6h0m51.5-22.3h0m-55.3 13.5h0m2.8-19h0m75.1 3.8h0m-65.9 28.9h0m17-11.2h0m8.7-21.6h0m-68.8 22.7h0m110.7-6.6h0m-87.3-18.1h0m-28 26.9h0m82.5-11.9h0m-45.1 4.7h0m38.6-2.8h0m9.1-13.3h0m-13.2 11.8h0m-39.5-11.4h0m-40.5 18h0m124.8-5.6h0m-77.6-1.5h0m32 16.4h0m13 3.1h0m-32.3-32.1h0m34.5 33.1h0m-10.2-34.5h0m-75.3 9.3h0m105.9 16.5h0m-92.4-8.5h0m58.3 14.2h0m-23.2-1.8h0m-54.1-4.1h0m79.8 3.3h0m-44.9 1.4h0m93.3-7.2h0m-130.6-.2h0m34.3 14.2h0m-2.9-33.3h0m71.5-4.7h0m-69 4.3h0m80.7 13.8h0m13.5 3.4h0m-34.9-2.3h0m-46 12.3h0m38.7-29.3h0m-11.9 3.4h0m-59.6 3.9h0m47.3-10.9h0m44.9 6.3h0m13.7-.8h0m-109 11.7h0m113.7 14.2h0m-38.8-31.9h0m-11.1 36.9h0m44.8-25.5h0m-22.9-3.8h0m-8.1-1.6h0m-33 2.1h0m65.6 8.8h0m-61.7-17.8h0m-58.7 26.9h0m106-24.4h0m-27 19.4h0m-17.5-21.5h0m-40.8 42.8h0m17.1-38.3h0m58.4 25.5h0m-22.2-2.6h0m-17-10h0m-42.7-11.9h0m18.3 9.6h0m79.3 6.7h0m-92.8 1.7h0m73.8-5.5h0m-64.3-14.5h0m25.3-4.2h0m6.4 40.8h0m-22.9-28.5h0m55.9-7h0m20.1 13.4h0m-79.6 19.1h0m28.9-33.2h0m-44.1 10.1h0m88.4 9.7h0m-42.8 9.6h0m42.1-.7h0m-104.6-1.3h0m97.8 .1h0m-28.7 4.7h0m-63-7.1h0m70.7-2h0m19 7.6h0m-5.3 2.1h0m23.1-18.5h0m2.6-4.4h0m-111.2-3.4h0m14 4.5h0m97.9 7.6h0m-59.6 18.1h0m-8.3-11.9h0m53.1 3h0m-72.8-5.5h0m62.5-10h0m22.1 5.3h0m-12.9-12.9h0m25.2 8.6h0m-55.9 22.7h0m-68-26.8h0m88.4 11.4h0m9.4 7.7h0m2.4-6.9h0m-63.2-9.4h0m27.1-7.3h0m-16.5-11.3h0m20.2 33.5h0m-9.1 2.7h0m-21.4-27h0m78 15.9h0m-16 10.2h0m-1.3-4.8h0m-82.5 9.9h0m3.5-33.1h0m55.5 21.4h0m-40.9 6.5h0m53-28.4h0m7.6 12.2h0m29 8.1h0m-118.6-15.7h0m-3.6 21.6h0m87.2 6.1h0m-40.3-17.6h0m17.3 15.7h0m21.8-30.8h0m-67.1 .5h0m92.3 17.7h0m9.1-3.9h0m-81.1 3.6h0m54.7 5.7h0m17.2-22.2h0m-58.5 32.1h0m11.1-2.3h0m-65.3-27.1h0m37.1 1.5h0m69.7-2.6h0m-66.8 6.2h0m-12.1-1.1h0m88.1 8.5h0m-5.7 11.6h0m-46.3 5.4h0m-25.5-26.9h0m2.9 25.7h0m-13.3-.5h0m52.5-9h0m-26-25.7h0m53.7 9.5h0m4.7 11.1h0m-29.5-19.1h0m-.3 36.6h0m-9.3-33.6h0m-43.5 13.5h0m29.8-7.2h0m-35.2-6.9h0m-10.7 29.7h0m23.1-21.7h0m-34.8-3.1h0m115.5 11.9h0m-25.6 6.8h0m-41 4.6h0m57.6-16.3h0m-76.3-4.1h0m-2.4 3.3h0m19.9-4.1h0m-38.5 6.3h0m71.3-14.1h0m-41.3 5.6h0m27.7-5.7h0m-27.8 20.6h0m13.1-5.4h0m-53.7 10.1h0m109.6-12.7h0m-43.8 19.8h0m22.7-1.2h0m31.9-23.2h0m-31.5 3.7h0m-3.4-16.1h0m4.2 18.9h0m-.8 16h0m-88-1.7h0m67.7 4.9h0m15.3-.7h0m6.8-9h0m-66.8-21h0m64.8 8.8h0m-6 9.1h0m-48-9.9h0m52-9.7h0m16.3 1.7h0m-18.9-5.2h0m8.3 10.5h0m-8.1-5.6h0m-31.4-3.1h0m-24.6 17.9h0m-34.8 3.2h0m121.5-11.7h0m-1.5 8.1h0m-40.1-17.8h0m-67.2 1.1h0m97.6 19.3h0m5.4-16.7h0m-35.2 16.8h0m-46.5-20.1h0m7.7 1.6h0m77.4 13.4h0m-42 14.3h0m-44.8-1.5h0m79-9.4h0m-68.8-13.2h0m73.6-2.2h0m-76.2-2.5h0m-20.5 23h0m79.3-20.6h0m-41 31.5h0m60.2-33.4h0m-35.8 23.1h0m-68.7 4.3h0m91.7-14.5h0m-60.8-7.3h0m15.9-9.1h0m-43.3 4.9h0m39.5-3.4h0m39.9 24.3h0m24.8-5.5h0m-54 .8h0m57.4-5.9h0m-23.1 6.2h0m-16.7-16.1h0m-37.1 17.7h0m-36.5-10.1h0m86.1-13.5h0m-64 5.9h0m89.9 6.2h0m-65.4-14.5h0m-41.5 33.8h0m81.7-29.7h0m29.6 21.2h0m-78.6 2.1h0m59.6-23.4h0m-23.4-2.2h0m-76.2 24.6h0m74.3-20.2h0m31.4 3.1h0m-37.1 9.8h0m-6.8 23h0m21.4-6.1h0m-12.7-28.7h0m-43 9.7h0m88.4 7.1h0m-65-11.2h0m45.5 17.9h0m-56.3-19.1h0m28.7 26.9h0m11.1-35.5h0m-65.1 27.5h0m-17.3-2.7h0m37.1 1.5h0m74.3-10h0m-45.7-5.6h0m-23.7-.4h0m24.8 26.3h0m-40.6-26.7h0m-23.9 21.2h0m16.2-8.6h0m19.1-9.1h0m-1.5 10.6h0m23.2 8.8h0m12.5 1.3h0m44.5-19.6h0m-51.1 21.4h0m-48.2-2.6h0m67.1 6.4h0m-27.6-41.7h0m-48.3 23h0m54.9 14h0m52.7-18.5h0m-107.2 .2h0m96.5 18.9h0m-100-18.9h0m-1.9-2h0m15.1-10.6h0m78.9 26.3h0m6.9-28.6h0m-43.4 35.7h0m62.2-20.4h0m-7.2-6h0m-115.9 18h0m3.9-14.7h0m30.7-6.5h0m78.5 4.8h0m11.2 11.9h0m-76.3-14.3h0m61.4 2.6h0m-7.2-6.2h0m-73.2-2.8h0m79.9 18.5h0m-25.1 9h0m29.1-25.1h0m-52.9-6h0m-9.4 10.6h0m-22-5.9h0m-13.1 35.6h0m60.1-42.5h0m34.5 9.2h0m-74.3 2.9h0m-24.5-6.5h0m27.2 16.3h0m-39.9 4.2h0m67.9 12.5h0m24.5-34.6h0m-65.2 20.7h0m61-17.8h0m-74.5 2.8h0m-14.4 21.8h0m12.3-13.3h0m112.8-1.7h0m-91.4-12.8h0m-25.5 30.2h0m32.8-18.3h0m72.2-7.6h0m-104.6 4h0m107.2 25.8h0m-29.8-35h0m20.7 33h0m-38.8 1.7h0m45.5-11.7h0m-3 2.4h0m-54.4-30.8h0m62.9 38.1h0m-51.8-37.1h0m-34.1 42.9h0m-8 .4h0m14.1-24.5h0m69.8-12.5h0m-92.1 23h0m-18.9-4.4h0m116.9 5.8h0m-76.8-10.9h0m21.2-18.9h0m52.9 26.1h0m-29.2-20.5h0m-49.5 23.3h0m-.5 11.7h0m18.3-37.8h0m39.1 35h0m22.8-24.9h0m-1.2-4h0m-64.5-7.8h0m67.8 14.4h0m-3.6-3.1h0m-100.1 20.5h0m10.8-24.1h0m-19.8 5.1h0m33.5 6.3h0m18.8 17.3h0m59.5-24.1h0m-5.2 19.9h0m-80.4-23.1h0m59.1-10.7h0m26 25.8h0m-98.4-6h0m98.7 1.5h0m-16.5 6.8h0m-82.6-11.4h0m-8.5 1.7h0m19.2-7.3h0m-18.4 12.5h0m2-14.4h0m24 26.6h0m64.3-4.5h0m-7.6-23.6h0m-84 1.9h0m86.6 2.9h0m31.1 14.6h0m-116.7 5.2h0m2.9-15.6h0m52.3 15h0m37.7-.4h0m13.4-13.8h0m-6.6 9.2h0m12.2-7.7h0m-2-9.9h0m-34.4 16.3h0m.9-24.7h0m-73.4 7.3h0m67.2-7.1h0m14.7 37.4h0m23.3-26h0m-95.7 21.5h0m14.4-31.3h0m71 2.6h0m-73.3 2.8h0m-33.5 18.6h0m24.1-19.7h0m75-4h0m-6.5 6.5h0m-40.5 17.9h0m68-.3h0m-10.9 9.7h0m7.1-20h0m-2.4-4.9h0m-42.6 27.7h0m-19.8-3.5h0m-25.1 4.2h0m13.9-18.9h0m-5.5-13.1h0m23.8-8.6h0m61.7 24h0m-81.2-3.9h0m-26.3-8.4h0m-10.8 14.7h0m10.8-15.2h0m-2.6-.3h0m20.1 17.7h0m64.2 9.1h0m-52-19.5h0m79.1-8.8h0m-37.9-.2h0m10.7 25.4h0m-63.9-27.6h0m85.4 3.2h0m-1.2 2.8h0m-4.6 18h0m-30.9-16.1h0m-7.4 24.8h0m-37.6 5h0m78.5-22.7h0m-31.9 8.1h0m-43.3 2.7h0m30.2 6.5h0m-42.2-35.4h0m89.6 5.5h0m-37 14.6h0m42.3-.2h0m-107.6-13.3h0m77.4 26.7h0m-26.1-33h0m20.8 2.8h0m-83.2 26.9h0m3.7 1.6h0m87.5-26.4h0m-79.3 5.6h0m88 23.3h0m-41.6-5.8h0m35.8-19.6h0m-1.8-1.7h0m-29.8-10.6h0m-22.5 30.2h0m60.7-24.3h0m-92.2 10.5h0m73.1 21.5h0m-12.7 1.7h0m30.4-5.1h0m-71.6-28.3h0m-20.9 5.7h0m39.5 8.7h0m30.3-19.1h0m39.8 29.9h0m.1-16.1h0m-14.2 21h0m-73.4 3.2h0m61.7-30.6h0m-30.1 12.9h0m40-15.5h0m11 10.5h0m-78.2-4.2h0m-5.2 27.3h0m-31.7-14h0m92.4 10.9h0m-76.6-21.5h0m-13.7 9.8h0m66.7 7.8h0m-5.7 7.1h0m50.7-25.1h0m-12.8 26.8h0m-100.7-18h0m27.9-12.4h0m2.5-6.8h0m85.3 30.2h0m-1.6-11.8h0m-20-14.8h0m-74 2.2h0m87.8 26.4h0m-60.8-12.7h0m6.4 12.6h0m-41.4-18.9h0m87.6-7.4h0m25.5 22.1h0m-98.3 11.7h0m15.2-4.5h0m-33.5-11.9h0m57.2 11.9h0m22.2-36.3h0" stroke="#b7a818" stroke-width="1.15" stroke-linecap="round" fill="none" opacity=".92"/>
<rect x="42.7" y="403.6" width="149.3" height="59.4" fill="none" stroke="#111" stroke-width="1.3"/>
<text x="110" y="394.66" text-anchor="middle">2861 starting positions</text>
<text x="49.2" y="477.06" text-anchor="middle">-1.0</text>
<text x="84.2" y="477.06" text-anchor="middle">-0.5</text>
<text x="119.2" y="477.06" text-anchor="middle">0.0</text>
<text x="153" y="477.06" text-anchor="middle">0.5</text>
<text x="188.4" y="477.06" text-anchor="middle">1.0</text>
<text x="38.4" y="409.04" text-anchor="end">0.4</text>
<text x="38.4" y="422.7" text-anchor="end">0.2</text>
<text x="38.4" y="436.36" text-anchor="end">0.0</text>
<text x="38.4" y="450.02" text-anchor="end">-0.2</text>
<text x="38.4" y="463.68" text-anchor="end">-0.4</text>
<text x="117.7" y="495.86" text-anchor="middle">(µm)</text>
<path d="M270.8 485.6H276.9V420.74H270.8ZM277.91 485.6H284.01V386.34H277.91ZM285.02 485.6H291.12V428.07H285.02ZM292.13 485.6H298.23V452.47H292.13ZM299.24 485.6H305.34V468.4H299.24ZM306.35 485.6H312.45V475.59H306.35ZM313.46 485.6H319.56V475.03H313.46ZM320.57 485.6H326.67V475.73H320.57ZM327.68 485.6H333.78V476.44H327.68ZM334.79 485.6H340.89V477.14H334.79ZM341.9 485.6H348V477.85H341.9ZM349.01 485.6H355.11V478.55H349.01ZM356.12 485.6H362.22V474.32H356.12ZM363.23 485.6H369.33V476.44H363.23ZM370.34 485.6H376.44V475.73H370.34ZM377.45 485.6H383.55V479.25H377.45ZM384.56 485.6H390.66V477.14H384.56ZM391.67 485.6H397.77V479.96H391.67ZM398.78 485.6H404.88V480.67H398.78Z" fill="#1f77b4"/>
<path d="M269.38 485.77C269.67 481.63 270.5 469.95 271.13 460.95C271.76 451.95 272.49 441.48 273.18 431.75C273.86 422.02 274.49 410.83 275.22 402.55C275.95 394.28 276.68 386.64 277.55 382.12C278.43 377.59 279.5 375.64 280.47 375.4C281.45 375.16 282.52 377.59 283.39 380.66C284.27 383.72 284.76 387.71 285.73 393.8C286.7 399.88 287.92 408.88 289.23 417.15C290.55 425.43 292.15 435.89 293.61 443.43C295.07 450.97 296.53 457.79 297.99 462.41C299.45 467.03 300.67 469.12 302.37 471.17C304.08 473.21 306.02 474.14 308.21 474.67C310.4 475.21 312.83 474.53 315.51 474.38C318.19 474.23 320.86 473.7 324.27 473.8C327.68 473.89 332.06 474.53 335.95 474.96C339.84 475.4 343.25 475.99 347.63 476.42C352.01 476.86 356.39 477.25 362.23 477.59C368.07 477.93 375.36 478.32 382.66 478.47C389.96 478.61 402.13 478.47 406.02 478.47" fill="none" stroke="#111111" stroke-width="1.4" stroke-linejoin="round"/>
<path d="M269.38 485.77C270.74 485.28 274.73 483.87 277.55 482.85C280.38 481.82 283.39 480.56 286.31 479.64C289.23 478.71 292.15 477.93 295.07 477.3C297.99 476.67 300.91 476.18 303.83 475.84C306.75 475.5 309.67 475.35 312.59 475.26C315.51 475.16 318.43 475.11 321.35 475.26C324.27 475.4 326.7 475.69 330.11 476.13C333.52 476.57 337.41 477.2 341.79 477.88C346.17 478.56 351.52 479.54 356.39 480.22C361.25 480.9 365.63 481.44 370.99 481.97C376.34 482.51 382.66 483.04 388.5 483.43C394.34 483.82 403.1 484.16 406.02 484.31" fill="none" stroke="#f01010" stroke-width="1.4" stroke-linejoin="round"/>
<path d="M269.38 485.77C269.57 482.6 270.16 473.36 270.55 466.79C270.94 460.22 271.28 453.65 271.72 446.35C272.15 439.05 272.69 430.29 273.18 422.99C273.66 415.69 273.91 409.12 274.64 402.55C275.36 395.99 276.58 387.47 277.55 383.58C278.53 379.68 279.5 378.71 280.47 379.2C281.45 379.68 282.18 380.66 283.39 386.5C284.61 392.34 286.31 404.74 287.77 414.23C289.23 423.72 290.69 434.91 292.15 443.43C293.61 451.95 295.07 459.49 296.53 465.33C297.99 471.17 299.45 475.45 300.91 478.47C302.37 481.48 303.35 482.36 305.29 483.43C307.24 484.5 308.94 484.7 312.59 484.89C316.24 485.09 319.89 484.89 327.19 484.6C334.49 484.31 346.65 483.58 356.39 483.14C366.12 482.7 377.31 482.26 385.58 481.97C393.86 481.68 402.62 481.48 406.02 481.39" fill="none" stroke="#0d860d" stroke-width="1.4" stroke-linejoin="round"/>
<rect x="263.2" y="369.9" width="148.7" height="117.1" fill="none" stroke="#0a0a0a" stroke-width="1.35"/>
<text x="269.4" y="501.26" text-anchor="middle">0.0</text>
<text x="292.07" y="501.26" text-anchor="middle">0.1</text>
<text x="314.74" y="501.26" text-anchor="middle">0.2</text>
<text x="337.41" y="501.26" text-anchor="middle">0.3</text>
<text x="360.08" y="501.26" text-anchor="middle">0.4</text>
<text x="382.75" y="501.26" text-anchor="middle">0.5</text>
<text x="405.42" y="501.26" text-anchor="middle">0.6</text>
<text x="258.3" y="376.26" text-anchor="end">8.0</text>
<text x="258.3" y="404.46" text-anchor="end">6.0</text>
<text x="258.3" y="432.66" text-anchor="end">4.0</text>
<text x="258.3" y="460.86" text-anchor="end">2.0</text>
<text x="255.5" y="489.06" text-anchor="end">0</text>
<path d="M269.4 487.5v1.7M292.07 487.5v1.7M314.74 487.5v1.7M337.41 487.5v1.7M360.08 487.5v1.7M382.75 487.5v1.7M405.42 487.5v1.7M262.7 372.8h-1.7M262.7 401h-1.7M262.7 429.2h-1.7M262.7 457.4h-1.7M262.7 485.6h-1.7M262.7 386.9h-1.1M262.7 415.1h-1.1M262.7 443.3h-1.1M262.7 471.5h-1.1" stroke="#1c1c1c" stroke-width=".9" fill="none"/>
<text x="329.5" y="516.66" text-anchor="middle">Displacement (µm)</text>
<text x="235.76" y="434.7" text-anchor="middle" transform="rotate(-90 235.76 434.7)">Probability density</text>
<path d="M295.1 376.9L305.3 376.9" stroke="#111111" stroke-width="1.25"/>
<text x="309.4" y="379.38" font-size="6.9">Sum</text>
<path d="M295.1 385.9L305.3 385.9" stroke="#f01010" stroke-width="1.25"/>
<text x="309.4" y="388.38" font-size="6.9">D1 = 2.17 µm²/s | Fr = 0.30</text>
<path d="M295.1 395.8L305.3 395.8" stroke="#0d860d" stroke-width="1.25"/>
<text x="309.4" y="398.28" font-size="6.9">D2 = 0.11 µm²/s | mBd = 0.70</text>
<rect x="481.7" y="366.9" width="159.5" height="56.8" fill="#440154"/>
<path fill="#482475" d="M541.51 366.9h4.34v4.41h-4.34zM549.49 366.9h4.34v4.41h-4.34zM553.48 370.96h4.34v4.41h-4.34zM561.45 370.96h4.34v4.41h-4.34zM489.68 379.07h4.34v4.41h-4.34zM509.61 379.07h4.34v4.41h-4.34zM533.54 379.07h4.34v4.41h-4.34zM497.65 383.13h4.34v4.41h-4.34zM569.43 383.13h8.33v4.41h-8.33zM489.68 387.19h4.34v4.41h-4.34zM541.51 387.19h4.34v4.41h-4.34zM553.48 387.19h4.34v4.41h-4.34zM569.43 387.19h4.34v4.41h-4.34zM613.29 387.19h4.34v4.41h-4.34zM509.61 391.24h4.34v4.41h-4.34zM521.58 391.24h4.34v4.41h-4.34zM541.51 391.24h4.34v4.41h-4.34zM557.46 391.24h4.34v4.41h-4.34zM577.4 391.24h4.34v4.41h-4.34zM505.62 395.3h8.33v4.41h-8.33zM541.51 395.3h4.34v4.41h-4.34zM581.39 395.3h4.34v4.41h-4.34zM605.31 395.3h8.33v4.41h-8.33zM545.5 399.36h4.34v4.41h-4.34zM565.44 399.36h4.34v4.41h-4.34zM525.56 403.41h4.34v4.41h-4.34zM533.54 403.41h4.34v4.41h-4.34zM541.51 403.41h8.33v4.41h-8.33zM557.46 403.41h4.34v4.41h-4.34zM569.43 403.41h4.34v4.41h-4.34zM497.65 407.47h4.34v4.41h-4.34zM505.62 407.47h4.34v4.41h-4.34zM517.59 407.47h4.34v4.41h-4.34zM557.46 407.47h4.34v4.41h-4.34zM581.39 407.47h4.34v4.41h-4.34zM497.65 411.53h8.33v4.41h-8.33zM529.55 411.53h4.34v4.41h-4.34zM621.26 411.53h4.34v4.41h-4.34zM629.24 411.53h4.34v4.41h-4.34zM581.39 415.59h4.34v4.41h-4.34zM605.31 415.59h4.34v4.41h-4.34zM513.6 419.64h4.34v4.06h-4.34zM521.58 419.64h4.34v4.06h-4.34zM585.38 419.64h4.34v4.06h-4.34zM597.34 419.64h4.34v4.06h-4.34z"/>
<path fill="#472d7b" d="M545.5 366.9h4.34v4.41h-4.34zM541.51 370.96h4.34v4.41h-4.34zM549.49 370.96h4.34v4.41h-4.34zM541.51 375.01h8.33v4.41h-8.33zM597.34 375.01h4.34v4.41h-4.34zM605.31 375.01h4.34v4.41h-4.34zM621.26 375.01h4.34v4.41h-4.34zM605.31 379.07h4.34v4.41h-4.34zM625.25 379.07h4.34v4.41h-4.34zM489.68 383.13h4.34v4.41h-4.34zM545.5 383.13h4.34v4.41h-4.34zM561.45 383.13h4.34v4.41h-4.34zM609.3 383.13h4.34v4.41h-4.34zM517.59 387.19h8.33v4.41h-8.33zM549.49 387.19h4.34v4.41h-4.34zM557.46 387.19h4.34v4.41h-4.34zM597.34 387.19h8.33v4.41h-8.33zM609.3 387.19h4.34v4.41h-4.34zM485.69 391.24h4.34v4.41h-4.34zM505.62 391.24h4.34v4.41h-4.34zM513.6 391.24h4.34v4.41h-4.34zM561.45 391.24h4.34v4.41h-4.34zM585.38 391.24h12.31v4.41h-12.31zM609.3 391.24h4.34v4.41h-4.34zM569.43 395.3h4.34v4.41h-4.34zM585.38 395.3h4.34v4.41h-4.34zM521.58 399.36h8.33v4.41h-8.33zM537.52 399.36h8.33v4.41h-8.33zM553.48 399.36h4.34v4.41h-4.34zM561.45 399.36h4.34v4.41h-4.34zM589.36 399.36h4.34v4.41h-4.34zM629.24 399.36h4.34v4.41h-4.34zM501.64 403.41h8.33v4.41h-8.33zM529.55 403.41h4.34v4.41h-4.34zM561.45 403.41h4.34v4.41h-4.34zM573.41 403.41h4.34v4.41h-4.34zM581.39 403.41h4.34v4.41h-4.34zM481.7 407.47h4.34v4.41h-4.34zM513.6 407.47h4.34v4.41h-4.34zM521.58 407.47h4.34v4.41h-4.34zM577.4 407.47h4.34v4.41h-4.34zM585.38 407.47h4.34v4.41h-4.34zM613.29 407.47h4.34v4.41h-4.34zM521.58 411.53h4.34v4.41h-4.34zM533.54 411.53h4.34v4.41h-4.34zM577.4 411.53h4.34v4.41h-4.34zM509.61 415.59h8.33v4.41h-8.33zM529.55 415.59h4.34v4.41h-4.34zM545.5 415.59h8.33v4.41h-8.33zM617.28 415.59h4.34v4.41h-4.34zM505.62 419.64h4.34v4.06h-4.34zM517.59 419.64h4.34v4.06h-4.34zM569.43 419.64h4.34v4.06h-4.34z"/>
<path fill="#471365" d="M553.48 366.9h4.34v4.41h-4.34zM573.41 366.9h4.34v4.41h-4.34zM581.39 366.9h8.33v4.41h-8.33zM509.61 370.96h4.34v4.41h-4.34zM521.58 370.96h4.34v4.41h-4.34zM565.44 370.96h4.34v4.41h-4.34zM605.31 370.96h8.33v4.41h-8.33zM617.28 370.96h4.34v4.41h-4.34zM509.61 375.01h4.34v4.41h-4.34zM529.55 375.01h4.34v4.41h-4.34zM625.25 375.01h4.34v4.41h-4.34zM497.65 379.07h4.34v4.41h-4.34zM565.44 379.07h4.34v4.41h-4.34zM485.69 383.13h4.34v4.41h-4.34zM553.48 383.13h4.34v4.41h-4.34zM581.39 383.13h4.34v4.41h-4.34zM601.33 383.13h4.34v4.41h-4.34zM481.7 387.19h4.34v4.41h-4.34zM573.41 387.19h4.34v4.41h-4.34zM581.39 387.19h4.34v4.41h-4.34zM605.31 387.19h4.34v4.41h-4.34zM637.21 387.19h3.99v4.41h-3.99zM481.7 391.24h4.34v4.41h-4.34zM593.35 395.3h4.34v4.41h-4.34zM517.59 399.36h4.34v4.41h-4.34zM585.38 399.36h4.34v4.41h-4.34zM637.21 399.36h3.99v4.41h-3.99zM513.6 403.41h4.34v4.41h-4.34zM585.38 403.41h4.34v4.41h-4.34zM637.21 403.41h3.99v4.41h-3.99zM633.23 407.47h7.98v4.41h-7.98zM541.51 411.53h4.34v4.41h-4.34zM581.39 411.53h4.34v4.41h-4.34zM497.65 415.59h4.34v4.41h-4.34zM505.62 415.59h4.34v4.41h-4.34zM525.56 415.59h4.34v4.41h-4.34zM633.23 415.59h4.34v4.41h-4.34zM489.68 419.64h4.34v4.06h-4.34zM537.52 419.64h4.34v4.06h-4.34zM581.39 419.64h4.34v4.06h-4.34zM605.31 419.64h20.29v4.06h-20.29z"/>
<path fill="#460a5d" d="M557.46 366.9h8.33v4.41h-8.33zM569.43 366.9h4.34v4.41h-4.34zM577.4 366.9h4.34v4.41h-4.34zM589.36 366.9h16.3v4.41h-16.3zM513.6 370.96h8.33v4.41h-8.33zM525.56 370.96h16.3v4.41h-16.3zM569.43 370.96h4.34v4.41h-4.34zM601.33 370.96h4.34v4.41h-4.34zM613.29 370.96h4.34v4.41h-4.34zM621.26 370.96h4.34v4.41h-4.34zM485.69 375.01h16.3v4.41h-16.3zM533.54 375.01h4.34v4.41h-4.34zM565.44 375.01h4.34v4.41h-4.34zM629.24 375.01h4.34v4.41h-4.34zM485.69 379.07h4.34v4.41h-4.34zM501.64 379.07h8.33v4.41h-8.33zM569.43 379.07h4.34v4.41h-4.34zM629.24 379.07h4.34v4.41h-4.34zM565.44 383.13h4.34v4.41h-4.34zM577.4 383.13h4.34v4.41h-4.34zM605.31 383.13h4.34v4.41h-4.34zM629.24 383.13h8.33v4.41h-8.33zM485.69 387.19h4.34v4.41h-4.34zM565.44 387.19h4.34v4.41h-4.34zM577.4 387.19h4.34v4.41h-4.34zM633.23 387.19h4.34v4.41h-4.34zM553.48 391.24h4.34v4.41h-4.34zM573.41 391.24h4.34v4.41h-4.34zM637.21 391.24h3.99v4.41h-3.99zM513.6 395.3h4.34v4.41h-4.34zM565.44 395.3h4.34v4.41h-4.34zM601.33 395.3h4.34v4.41h-4.34zM637.21 395.3h3.99v4.41h-3.99zM513.6 399.36h4.34v4.41h-4.34zM601.33 399.36h8.33v4.41h-8.33zM521.58 403.41h4.34v4.41h-4.34zM481.7 411.53h4.34v4.41h-4.34zM537.52 411.53h4.34v4.41h-4.34zM633.23 411.53h4.34v4.41h-4.34zM481.7 415.59h12.31v4.41h-12.31zM541.51 415.59h4.34v4.41h-4.34zM577.4 415.59h4.34v4.41h-4.34zM609.3 415.59h4.34v4.41h-4.34zM621.26 415.59h12.31v4.41h-12.31zM493.66 419.64h4.34v4.06h-4.34zM529.55 419.64h8.33v4.06h-8.33zM541.51 419.64h8.33v4.06h-8.33zM577.4 419.64h4.34v4.06h-4.34zM601.33 419.64h4.34v4.06h-4.34z"/>
<path fill="#355f8d" d="M545.5 370.96h4.34v4.41h-4.34zM513.6 387.19h4.34v4.41h-4.34zM617.28 387.19h4.34v4.41h-4.34zM625.25 387.19h4.34v4.41h-4.34zM529.55 399.36h4.34v4.41h-4.34zM577.4 403.41h4.34v4.41h-4.34zM513.6 411.53h4.34v4.41h-4.34zM517.59 415.59h4.34v4.41h-4.34zM553.48 415.59h4.34v4.41h-4.34z"/>
<path fill="#463480" d="M557.46 370.96h4.34v4.41h-4.34zM593.35 370.96h8.33v4.41h-8.33zM549.49 375.01h8.33v4.41h-8.33zM569.43 375.01h4.34v4.41h-4.34zM601.33 375.01h4.34v4.41h-4.34zM609.3 375.01h4.34v4.41h-4.34zM493.66 379.07h4.34v4.41h-4.34zM525.56 379.07h8.33v4.41h-8.33zM541.51 379.07h8.33v4.41h-8.33zM553.48 379.07h12.31v4.41h-12.31zM501.64 383.13h12.31v4.41h-12.31zM525.56 383.13h4.34v4.41h-4.34zM533.54 383.13h4.34v4.41h-4.34zM541.51 383.13h4.34v4.41h-4.34zM493.66 387.19h4.34v4.41h-4.34zM505.62 387.19h8.33v4.41h-8.33zM537.52 387.19h4.34v4.41h-4.34zM585.38 387.19h4.34v4.41h-4.34zM517.59 391.24h4.34v4.41h-4.34zM525.56 391.24h4.34v4.41h-4.34zM549.49 391.24h4.34v4.41h-4.34zM605.31 391.24h4.34v4.41h-4.34zM633.23 391.24h4.34v4.41h-4.34zM481.7 395.3h4.34v4.41h-4.34zM493.66 395.3h4.34v4.41h-4.34zM521.58 395.3h12.31v4.41h-12.31zM537.52 395.3h4.34v4.41h-4.34zM545.5 395.3h8.33v4.41h-8.33zM557.46 395.3h4.34v4.41h-4.34zM573.41 395.3h8.33v4.41h-8.33zM633.23 395.3h4.34v4.41h-4.34zM501.64 399.36h4.34v4.41h-4.34zM509.61 399.36h4.34v4.41h-4.34zM533.54 399.36h4.34v4.41h-4.34zM549.49 399.36h4.34v4.41h-4.34zM569.43 399.36h8.33v4.41h-8.33zM581.39 399.36h4.34v4.41h-4.34zM609.3 399.36h4.34v4.41h-4.34zM493.66 403.41h4.34v4.41h-4.34zM509.61 403.41h4.34v4.41h-4.34zM553.48 403.41h4.34v4.41h-4.34zM565.44 403.41h4.34v4.41h-4.34zM589.36 403.41h4.34v4.41h-4.34zM597.34 403.41h4.34v4.41h-4.34zM609.3 403.41h4.34v4.41h-4.34zM633.23 403.41h4.34v4.41h-4.34zM509.61 407.47h4.34v4.41h-4.34zM549.49 407.47h4.34v4.41h-4.34zM621.26 407.47h8.33v4.41h-8.33zM485.69 411.53h4.34v4.41h-4.34zM493.66 411.53h4.34v4.41h-4.34zM505.62 411.53h8.33v4.41h-8.33zM525.56 411.53h4.34v4.41h-4.34zM549.49 411.53h4.34v4.41h-4.34zM557.46 411.53h4.34v4.41h-4.34zM597.34 411.53h4.34v4.41h-4.34zM609.3 411.53h4.34v4.41h-4.34zM493.66 415.59h4.34v4.41h-4.34zM593.35 415.59h4.34v4.41h-4.34zM613.29 415.59h4.34v4.41h-4.34zM549.49 419.64h8.33v4.06h-8.33zM589.36 419.64h8.33v4.06h-8.33z"/>
<path fill="#443b84" d="M573.41 370.96h4.34v4.41h-4.34zM513.6 375.01h4.34v4.41h-4.34zM521.58 375.01h8.33v4.41h-8.33zM561.45 375.01h4.34v4.41h-4.34zM613.29 375.01h8.33v4.41h-8.33zM549.49 379.07h4.34v4.41h-4.34zM573.41 379.07h4.34v4.41h-4.34zM593.35 379.07h8.33v4.41h-8.33zM609.3 379.07h4.34v4.41h-4.34zM621.26 379.07h4.34v4.41h-4.34zM493.66 383.13h4.34v4.41h-4.34zM521.58 383.13h4.34v4.41h-4.34zM537.52 383.13h4.34v4.41h-4.34zM597.34 383.13h4.34v4.41h-4.34zM613.29 383.13h8.33v4.41h-8.33zM625.25 383.13h4.34v4.41h-4.34zM525.56 387.19h4.34v4.41h-4.34zM593.35 387.19h4.34v4.41h-4.34zM629.24 387.19h4.34v4.41h-4.34zM489.68 391.24h4.34v4.41h-4.34zM545.5 391.24h4.34v4.41h-4.34zM565.44 391.24h4.34v4.41h-4.34zM613.29 391.24h4.34v4.41h-4.34zM489.68 395.3h4.34v4.41h-4.34zM501.64 395.3h4.34v4.41h-4.34zM517.59 395.3h4.34v4.41h-4.34zM553.48 395.3h4.34v4.41h-4.34zM561.45 395.3h4.34v4.41h-4.34zM589.36 395.3h4.34v4.41h-4.34zM629.24 395.3h4.34v4.41h-4.34zM493.66 399.36h4.34v4.41h-4.34zM593.35 399.36h8.33v4.41h-8.33zM633.23 399.36h4.34v4.41h-4.34zM481.7 403.41h4.34v4.41h-4.34zM497.65 403.41h4.34v4.41h-4.34zM537.52 403.41h4.34v4.41h-4.34zM549.49 403.41h4.34v4.41h-4.34zM593.35 403.41h4.34v4.41h-4.34zM541.51 407.47h8.33v4.41h-8.33zM553.48 407.47h4.34v4.41h-4.34zM589.36 407.47h4.34v4.41h-4.34zM517.59 411.53h4.34v4.41h-4.34zM585.38 411.53h4.34v4.41h-4.34zM593.35 411.53h4.34v4.41h-4.34zM613.29 411.53h8.33v4.41h-8.33zM625.25 411.53h4.34v4.41h-4.34zM521.58 415.59h4.34v4.41h-4.34zM537.52 415.59h4.34v4.41h-4.34zM557.46 415.59h4.34v4.41h-4.34zM585.38 415.59h4.34v4.41h-4.34zM597.34 415.59h4.34v4.41h-4.34zM497.65 419.64h4.34v4.06h-4.34zM557.46 419.64h4.34v4.06h-4.34zM573.41 419.64h4.34v4.06h-4.34z"/>
<path fill="#3b528b" d="M577.4 370.96h4.34v4.41h-4.34zM573.41 375.01h4.34v4.41h-4.34zM577.4 379.07h4.34v4.41h-4.34zM629.24 391.24h4.34v4.41h-4.34zM613.29 395.3h4.34v4.41h-4.34zM613.29 403.41h4.34v4.41h-4.34zM621.26 403.41h4.34v4.41h-4.34zM573.41 407.47h4.34v4.41h-4.34zM573.41 415.59h4.34v4.41h-4.34z"/>
<path fill="#38598c" d="M581.39 370.96h8.33v4.41h-8.33zM517.59 375.01h4.34v4.41h-4.34zM513.6 379.07h4.34v4.41h-4.34zM521.58 379.07h4.34v4.41h-4.34zM581.39 379.07h8.33v4.41h-8.33zM517.59 383.13h4.34v4.41h-4.34zM561.45 407.47h4.34v4.41h-4.34zM561.45 415.59h4.34v4.41h-4.34z"/>
<path fill="#3e4a89" d="M589.36 370.96h4.34v4.41h-4.34zM593.35 375.01h4.34v4.41h-4.34zM589.36 379.07h4.34v4.41h-4.34zM497.65 387.19h4.34v4.41h-4.34zM533.54 387.19h4.34v4.41h-4.34zM493.66 391.24h4.34v4.41h-4.34zM501.64 391.24h4.34v4.41h-4.34zM529.55 391.24h4.34v4.41h-4.34zM537.52 391.24h4.34v4.41h-4.34zM485.69 395.3h4.34v4.41h-4.34zM497.65 395.3h4.34v4.41h-4.34zM533.54 395.3h4.34v4.41h-4.34zM481.7 399.36h4.34v4.41h-4.34zM489.68 399.36h4.34v4.41h-4.34zM625.25 399.36h4.34v4.41h-4.34zM601.33 403.41h4.34v4.41h-4.34zM597.34 407.47h4.34v4.41h-4.34zM601.33 411.53h4.34v4.41h-4.34z"/>
<path fill="#481c6e" d="M537.52 375.01h4.34v4.41h-4.34zM537.52 379.07h4.34v4.41h-4.34zM601.33 379.07h4.34v4.41h-4.34zM549.49 383.13h4.34v4.41h-4.34zM557.46 383.13h4.34v4.41h-4.34zM545.5 387.19h4.34v4.41h-4.34zM561.45 387.19h4.34v4.41h-4.34zM569.43 391.24h4.34v4.41h-4.34zM581.39 391.24h4.34v4.41h-4.34zM597.34 391.24h8.33v4.41h-8.33zM597.34 395.3h4.34v4.41h-4.34zM497.65 399.36h4.34v4.41h-4.34zM505.62 399.36h4.34v4.41h-4.34zM557.46 399.36h4.34v4.41h-4.34zM517.59 403.41h4.34v4.41h-4.34zM625.25 403.41h8.33v4.41h-8.33zM501.64 407.47h4.34v4.41h-4.34zM525.56 407.47h16.3v4.41h-16.3zM617.28 407.47h4.34v4.41h-4.34zM629.24 407.47h4.34v4.41h-4.34zM545.5 411.53h4.34v4.41h-4.34zM501.64 415.59h4.34v4.41h-4.34zM533.54 415.59h4.34v4.41h-4.34zM601.33 415.59h4.34v4.41h-4.34zM501.64 419.64h4.34v4.06h-4.34zM509.61 419.64h4.34v4.06h-4.34zM525.56 419.64h4.34v4.06h-4.34zM561.45 419.64h8.33v4.06h-8.33z"/>
<path fill="#2f6c8e" d="M557.46 375.01h4.34v4.41h-4.34zM513.6 383.13h4.34v4.41h-4.34zM529.55 383.13h4.34v4.41h-4.34zM501.64 387.19h4.34v4.41h-4.34zM577.4 399.36h4.34v4.41h-4.34zM613.29 399.36h4.34v4.41h-4.34zM621.26 399.36h4.34v4.41h-4.34zM617.28 403.41h4.34v4.41h-4.34zM553.48 411.53h4.34v4.41h-4.34zM589.36 415.59h4.34v4.41h-4.34z"/>
<path fill="#1f968b" d="M577.4 375.01h4.34v4.41h-4.34zM625.25 391.24h4.34v4.41h-4.34zM617.28 395.3h4.34v4.41h-4.34z"/>
<path fill="#1fa287" d="M581.39 375.01h8.33v4.41h-8.33zM517.59 379.07h4.34v4.41h-4.34z"/>
<path fill="#21918c" d="M589.36 375.01h4.34v4.41h-4.34zM497.65 391.24h4.34v4.41h-4.34zM533.54 391.24h4.34v4.41h-4.34zM485.69 399.36h4.34v4.41h-4.34zM601.33 407.47h4.34v4.41h-4.34z"/>
<path fill="#2a788e" d="M613.29 379.07h8.33v4.41h-8.33zM593.35 383.13h4.34v4.41h-4.34zM621.26 383.13h4.34v4.41h-4.34zM529.55 387.19h4.34v4.41h-4.34zM485.69 403.41h4.34v4.41h-4.34zM565.44 407.47h4.34v4.41h-4.34zM593.35 407.47h4.34v4.41h-4.34zM561.45 411.53h4.34v4.41h-4.34zM589.36 411.53h4.34v4.41h-4.34zM565.44 415.59h4.34v4.41h-4.34z"/>
<path fill="#414487" d="M585.38 383.13h4.34v4.41h-4.34zM589.36 387.19h4.34v4.41h-4.34zM489.68 403.41h4.34v4.41h-4.34zM605.31 403.41h4.34v4.41h-4.34zM485.69 407.47h4.34v4.41h-4.34zM493.66 407.47h4.34v4.41h-4.34zM609.3 407.47h4.34v4.41h-4.34zM489.68 411.53h4.34v4.41h-4.34zM605.31 411.53h4.34v4.41h-4.34z"/>
<path fill="#25848e" d="M589.36 383.13h4.34v4.41h-4.34zM621.26 387.19h4.34v4.41h-4.34zM617.28 391.24h4.34v4.41h-4.34zM489.68 407.47h4.34v4.41h-4.34zM605.31 407.47h4.34v4.41h-4.34z"/>
<path fill="#efe51c" d="M621.26 391.24h4.34v4.41h-4.34z"/>
<path fill="#50c46a" d="M621.26 395.3h4.34v4.41h-4.34z"/>
<path fill="#31668e" d="M625.25 395.3h4.34v4.41h-4.34z"/>
<path fill="#6ccd5a" d="M617.28 399.36h4.34v4.41h-4.34z"/>
<path fill="#2c728e" d="M569.43 407.47h4.34v4.41h-4.34zM573.41 411.53h4.34v4.41h-4.34zM569.43 415.59h4.34v4.41h-4.34z"/>
<path fill="#addc30" d="M565.44 411.53h4.34v4.41h-4.34z"/>
<path fill="#8bd646" d="M569.43 411.53h4.34v4.41h-4.34z"/>
<text x="565.2" y="361.36" text-anchor="middle">Number of displacements</text>
<text x="474" y="381.16" text-anchor="end">0.2</text>
<text x="474" y="397.36" text-anchor="end">0.0</text>
<text x="474" y="413.56" text-anchor="end">-0.2</text>
<linearGradient id="gv3" x1="0" y1="0" x2="0" y2="1"><stop offset="0" stop-color="#fde725"/><stop offset=".1" stop-color="#bddf26"/><stop offset=".2" stop-color="#7ad151"/><stop offset=".3" stop-color="#44bf70"/><stop offset=".4" stop-color="#22a884"/><stop offset=".5" stop-color="#21918c"/><stop offset=".6" stop-color="#2a788e"/><stop offset=".7" stop-color="#355f8d"/><stop offset=".8" stop-color="#414487"/><stop offset=".9" stop-color="#482475"/><stop offset="1" stop-color="#440154"/></linearGradient>
<rect x="651" y="366.9" width="3.4" height="56.8" fill="url(#gv3)"/>
<text x="658.9" y="369.06">40</text>
<text x="658.9" y="398.06">20</text>
<text x="658.9" y="424.96">0</text>
<path d="M481.7 377.7h-2.4M481.7 393.9h-2.4M481.7 410.1h-2.4M483.8 423.7v2.4M503.88 423.7v2.4M523.95 423.7v2.4M544.02 423.7v2.4M564.1 423.7v2.4M584.18 423.7v2.4M604.25 423.7v2.4M624.33 423.7v2.4M654.4 365.6h2.2M654.4 394.6h2.2M654.4 421.5h2.2M654.4 380.5h1.6M654.4 408.6h1.6" stroke="#111" stroke-width="1.1" fill="none"/>
<rect x="482.2" y="447.9" width="159.4" height="56.9" fill="#000000"/>
<path fill="#2626ff" d="M545.96 451.96h4.34v4.41h-4.34zM581.83 451.96h4.34v4.41h-4.34zM597.76 451.96h4.34v4.41h-4.34zM514.08 456.03h4.34v4.41h-4.34zM557.91 456.03h4.34v4.41h-4.34zM597.76 456.03h4.34v4.41h-4.34zM534 460.09h4.34v4.41h-4.34zM553.93 460.09h4.34v4.41h-4.34zM561.9 460.09h4.34v4.41h-4.34zM589.8 460.09h4.34v4.41h-4.34zM617.69 460.09h4.34v4.41h-4.34zM494.15 464.16h4.34v4.41h-4.34zM506.11 464.16h4.34v4.41h-4.34zM545.96 464.16h4.34v4.41h-4.34zM561.9 464.16h4.34v4.41h-4.34zM569.87 464.16h4.34v4.41h-4.34zM609.72 464.16h4.34v4.41h-4.34zM621.67 464.16h4.34v4.41h-4.34zM498.14 468.22h4.34v4.41h-4.34zM498.14 472.29h4.34v4.41h-4.34zM518.07 472.29h4.34v4.41h-4.34zM534 472.29h4.34v4.41h-4.34zM545.96 472.29h4.34v4.41h-4.34zM561.9 472.29h4.34v4.41h-4.34zM621.67 472.29h4.34v4.41h-4.34zM490.17 476.35h8.32v4.41h-8.32zM545.96 476.35h4.34v4.41h-4.34zM557.91 476.35h8.32v4.41h-8.32zM597.76 476.35h4.34v4.41h-4.34zM482.2 480.41h4.34v4.41h-4.34zM494.15 480.41h4.34v4.41h-4.34zM506.11 484.48h4.34v4.41h-4.34zM526.03 484.48h4.34v4.41h-4.34zM482.2 488.54h8.32v4.41h-8.32zM510.09 488.54h4.34v4.41h-4.34zM526.03 488.54h8.32v4.41h-8.32zM569.87 488.54h4.34v4.41h-4.34zM577.84 488.54h4.34v4.41h-4.34zM589.8 488.54h4.34v4.41h-4.34zM609.72 488.54h4.34v4.41h-4.34zM621.67 488.54h8.32v4.41h-8.32zM494.15 492.61h4.34v4.41h-4.34zM561.9 492.61h4.34v4.41h-4.34zM617.69 492.61h4.34v4.41h-4.34zM534 496.67h4.34v4.41h-4.34zM565.88 496.67h4.34v4.41h-4.34zM589.8 496.67h4.34v4.41h-4.34zM553.93 500.74h4.34v4.06h-4.34zM569.87 500.74h8.32v4.06h-8.32zM589.8 500.74h4.34v4.06h-4.34z"/>
<path fill="#1818ff" d="M549.95 451.96h4.34v4.41h-4.34zM581.83 456.03h4.34v4.41h-4.34zM605.74 456.03h4.34v4.41h-4.34zM613.71 456.03h8.32v4.41h-8.32zM490.17 460.09h4.34v4.41h-4.34zM514.08 460.09h4.34v4.41h-4.34zM530.02 460.09h4.34v4.41h-4.34zM541.98 460.09h4.34v4.41h-4.34zM577.84 460.09h4.34v4.41h-4.34zM613.71 460.09h4.34v4.41h-4.34zM518.07 464.16h4.34v4.41h-4.34zM541.98 464.16h4.34v4.41h-4.34zM589.8 464.16h4.34v4.41h-4.34zM494.15 468.22h4.34v4.41h-4.34zM569.87 468.22h4.34v4.41h-4.34zM589.8 468.22h8.32v4.41h-8.32zM601.75 468.22h4.34v4.41h-4.34zM621.67 468.22h4.34v4.41h-4.34zM510.09 472.29h8.32v4.41h-8.32zM577.84 472.29h4.34v4.41h-4.34zM486.19 476.35h4.34v4.41h-4.34zM498.14 476.35h4.34v4.41h-4.34zM569.87 476.35h4.34v4.41h-4.34zM617.69 476.35h4.34v4.41h-4.34zM625.66 476.35h4.34v4.41h-4.34zM506.11 480.41h4.34v4.41h-4.34zM530.02 480.41h4.34v4.41h-4.34zM557.91 480.41h4.34v4.41h-4.34zM609.72 480.41h4.34v4.41h-4.34zM617.69 480.41h8.32v4.41h-8.32zM486.19 484.48h4.34v4.41h-4.34zM502.12 484.48h4.34v4.41h-4.34zM530.02 484.48h4.34v4.41h-4.34zM577.84 484.48h4.34v4.41h-4.34zM633.63 484.48h4.34v4.41h-4.34zM490.17 488.54h4.34v4.41h-4.34zM498.14 488.54h4.34v4.41h-4.34zM506.11 488.54h4.34v4.41h-4.34zM541.98 488.54h4.34v4.41h-4.34zM573.86 488.54h4.34v4.41h-4.34zM613.71 488.54h4.34v4.41h-4.34zM486.19 492.61h4.34v4.41h-4.34zM506.11 492.61h4.34v4.41h-4.34zM565.88 492.61h4.34v4.41h-4.34zM589.8 492.61h20.28v4.41h-20.28zM522.05 496.67h4.34v4.41h-4.34zM557.91 496.67h4.34v4.41h-4.34zM581.83 496.67h4.34v4.41h-4.34zM601.75 496.67h4.34v4.41h-4.34zM617.69 496.67h4.34v4.41h-4.34zM498.14 500.74h4.34v4.06h-4.34zM565.88 500.74h4.34v4.06h-4.34z"/>
<path fill="#0c0cff" d="M557.91 451.96h4.34v4.41h-4.34zM577.84 451.96h4.34v4.41h-4.34zM589.8 451.96h4.34v4.41h-4.34zM518.07 456.03h4.34v4.41h-4.34zM545.96 456.03h4.34v4.41h-4.34zM553.93 456.03h4.34v4.41h-4.34zM589.8 456.03h4.34v4.41h-4.34zM526.03 460.09h4.34v4.41h-4.34zM537.99 460.09h4.34v4.41h-4.34zM549.95 460.09h4.34v4.41h-4.34zM581.83 460.09h8.32v4.41h-8.32zM593.78 460.09h8.32v4.41h-8.32zM621.67 460.09h4.34v4.41h-4.34zM530.02 464.16h4.34v4.41h-4.34zM585.81 464.16h4.34v4.41h-4.34zM625.66 464.16h4.34v4.41h-4.34zM518.07 468.22h4.34v4.41h-4.34zM613.71 468.22h4.34v4.41h-4.34zM625.66 468.22h4.34v4.41h-4.34zM486.19 472.29h4.34v4.41h-4.34zM530.02 472.29h4.34v4.41h-4.34zM537.99 472.29h8.32v4.41h-8.32zM585.81 472.29h4.34v4.41h-4.34zM609.72 472.29h4.34v4.41h-4.34zM625.66 472.29h4.34v4.41h-4.34zM482.2 476.35h4.34v4.41h-4.34zM502.12 476.35h4.34v4.41h-4.34zM581.83 476.35h4.34v4.41h-4.34zM510.09 480.41h4.34v4.41h-4.34zM593.78 480.41h4.34v4.41h-4.34zM625.66 480.41h8.32v4.41h-8.32zM541.98 484.48h8.32v4.41h-8.32zM553.93 484.48h4.34v4.41h-4.34zM573.86 484.48h4.34v4.41h-4.34zM545.96 488.54h4.34v4.41h-4.34zM565.88 488.54h4.34v4.41h-4.34zM617.69 488.54h4.34v4.41h-4.34zM498.14 492.61h4.34v4.41h-4.34zM518.07 492.61h4.34v4.41h-4.34zM530.02 492.61h8.32v4.41h-8.32zM545.96 492.61h8.32v4.41h-8.32zM621.67 492.61h4.34v4.41h-4.34zM629.64 492.61h4.34v4.41h-4.34zM530.02 496.67h4.34v4.41h-4.34zM593.78 496.67h8.32v4.41h-8.32zM557.91 500.74h4.34v4.06h-4.34z"/>
<path fill="#3232ff" d="M573.86 451.96h4.34v4.41h-4.34zM585.81 451.96h4.34v4.41h-4.34zM526.03 456.03h4.34v4.41h-4.34zM541.98 456.03h4.34v4.41h-4.34zM577.84 456.03h4.34v4.41h-4.34zM585.81 456.03h4.34v4.41h-4.34zM518.07 460.09h8.32v4.41h-8.32zM545.96 460.09h4.34v4.41h-4.34zM605.74 460.09h4.34v4.41h-4.34zM534 464.16h4.34v4.41h-4.34zM573.86 464.16h4.34v4.41h-4.34zM593.78 464.16h4.34v4.41h-4.34zM490.17 468.22h4.34v4.41h-4.34zM530.02 468.22h4.34v4.41h-4.34zM537.99 468.22h8.32v4.41h-8.32zM549.95 468.22h4.34v4.41h-4.34zM597.76 468.22h4.34v4.41h-4.34zM617.69 468.22h4.34v4.41h-4.34zM549.95 472.29h4.34v4.41h-4.34zM565.88 472.29h4.34v4.41h-4.34zM581.83 472.29h4.34v4.41h-4.34zM589.8 472.29h8.32v4.41h-8.32zM629.64 472.29h4.34v4.41h-4.34zM549.95 476.35h4.34v4.41h-4.34zM577.84 476.35h4.34v4.41h-4.34zM621.67 476.35h4.34v4.41h-4.34zM629.64 476.35h8.32v4.41h-8.32zM486.19 480.41h4.34v4.41h-4.34zM502.12 480.41h4.34v4.41h-4.34zM553.93 480.41h4.34v4.41h-4.34zM561.9 480.41h4.34v4.41h-4.34zM613.71 480.41h4.34v4.41h-4.34zM589.8 484.48h4.34v4.41h-4.34zM601.75 484.48h8.32v4.41h-8.32zM613.71 484.48h8.32v4.41h-8.32zM494.15 488.54h4.34v4.41h-4.34zM557.91 488.54h4.34v4.41h-4.34zM593.78 488.54h12.31v4.41h-12.31zM629.64 488.54h4.34v4.41h-4.34zM490.17 492.61h4.34v4.41h-4.34zM502.12 492.61h4.34v4.41h-4.34zM526.03 492.61h4.34v4.41h-4.34zM553.93 492.61h4.34v4.41h-4.34zM502.12 496.67h4.34v4.41h-4.34zM514.08 496.67h4.34v4.41h-4.34zM553.93 496.67h4.34v4.41h-4.34zM585.81 496.67h4.34v4.41h-4.34zM613.71 496.67h4.34v4.41h-4.34zM502.12 500.74h4.34v4.06h-4.34zM510.09 500.74h4.34v4.06h-4.34zM561.9 500.74h4.34v4.06h-4.34zM593.78 500.74h4.34v4.06h-4.34z"/>
<path fill="#a6a6ff" d="M522.05 456.03h4.34v4.41h-4.34zM537.99 456.03h4.34v4.41h-4.34zM609.72 460.09h4.34v4.41h-4.34zM557.91 464.16h4.34v4.41h-4.34zM510.09 468.22h8.32v4.41h-8.32zM561.9 468.22h4.34v4.41h-4.34zM541.98 480.41h4.34v4.41h-4.34zM597.76 480.41h4.34v4.41h-4.34zM629.64 484.48h4.34v4.41h-4.34zM549.95 496.67h4.34v4.41h-4.34z"/>
<path fill="#9898ff" d="M549.95 456.03h4.34v4.41h-4.34zM557.91 460.09h4.34v4.41h-4.34zM502.12 468.22h4.34v4.41h-4.34zM605.74 472.29h4.34v4.41h-4.34zM534 480.41h4.34v4.41h-4.34zM510.09 484.48h4.34v4.41h-4.34zM518.07 484.48h4.34v4.41h-4.34zM605.74 488.54h4.34v4.41h-4.34zM577.84 492.61h4.34v4.41h-4.34z"/>
<path fill="#ccccff" d="M561.9 456.03h4.34v4.41h-4.34zM537.99 484.48h4.34v4.41h-4.34zM597.76 484.48h4.34v4.41h-4.34z"/>
<path fill="#fffefe" d="M569.87 456.03h4.34v4.41h-4.34zM625.66 460.09h4.34v4.41h-4.34zM510.09 464.16h4.34v4.41h-4.34zM597.76 464.16h4.34v4.41h-4.34zM522.05 468.22h4.34v4.41h-4.34zM537.99 480.41h4.34v4.41h-4.34zM573.86 480.41h4.34v4.41h-4.34zM534 484.48h4.34v4.41h-4.34z"/>
<path fill="#ffd8d8" d="M593.78 456.03h4.34v4.41h-4.34zM526.03 468.22h4.34v4.41h-4.34zM553.93 468.22h4.34v4.41h-4.34zM557.91 472.29h4.34v4.41h-4.34zM522.05 480.41h4.34v4.41h-4.34zM545.96 496.67h4.34v4.41h-4.34z"/>
<path fill="#fff2f2" d="M601.75 456.03h4.34v4.41h-4.34zM573.86 460.09h4.34v4.41h-4.34z"/>
<path fill="#ff2626" d="M609.72 456.03h4.34v4.41h-4.34zM553.93 476.35h4.34v4.41h-4.34zM573.86 496.67h4.34v4.41h-4.34z"/>
<path fill="#7272ff" d="M494.15 460.09h4.34v4.41h-4.34zM609.72 468.22h4.34v4.41h-4.34zM585.81 476.35h4.34v4.41h-4.34zM561.9 484.48h4.34v4.41h-4.34zM625.66 492.61h4.34v4.41h-4.34z"/>
<path fill="#b2b2ff" d="M601.75 460.09h4.34v4.41h-4.34zM537.99 476.35h8.32v4.41h-8.32zM605.74 476.35h4.34v4.41h-4.34zM613.71 476.35h4.34v4.41h-4.34zM545.96 480.41h4.34v4.41h-4.34zM498.14 484.48h4.34v4.41h-4.34zM522.05 488.54h4.34v4.41h-4.34zM510.09 492.61h4.34v4.41h-4.34zM573.86 492.61h4.34v4.41h-4.34zM609.72 492.61h4.34v4.41h-4.34zM510.09 496.67h4.34v4.41h-4.34z"/>
<path fill="#f2f2ff" d="M490.17 464.16h4.34v4.41h-4.34zM526.03 476.35h4.34v4.41h-4.34zM557.91 484.48h4.34v4.41h-4.34z"/>
<path fill="#4040ff" d="M498.14 464.16h4.34v4.41h-4.34zM522.05 464.16h4.34v4.41h-4.34zM537.99 464.16h4.34v4.41h-4.34zM617.69 464.16h4.34v4.41h-4.34zM585.81 468.22h4.34v4.41h-4.34zM629.64 468.22h4.34v4.41h-4.34zM490.17 472.29h8.32v4.41h-8.32zM522.05 472.29h4.34v4.41h-4.34zM510.09 476.35h4.34v4.41h-4.34zM522.05 476.35h4.34v4.41h-4.34zM530.02 476.35h4.34v4.41h-4.34zM577.84 480.41h8.32v4.41h-8.32zM633.63 480.41h4.34v4.41h-4.34zM482.2 484.48h4.34v4.41h-4.34zM609.72 484.48h4.34v4.41h-4.34zM621.67 484.48h4.34v4.41h-4.34zM557.91 492.61h4.34v4.41h-4.34zM569.87 496.67h4.34v4.41h-4.34zM522.05 500.74h8.32v4.06h-8.32zM585.81 500.74h4.34v4.06h-4.34zM597.76 500.74h4.34v4.06h-4.34z"/>
<path fill="#8c8cff" d="M502.12 464.16h4.34v4.41h-4.34zM522.05 492.61h4.34v4.41h-4.34z"/>
<path fill="#5858ff" d="M514.08 464.16h4.34v4.41h-4.34zM617.69 472.29h4.34v4.41h-4.34zM633.63 472.29h4.34v4.41h-4.34zM569.87 484.48h4.34v4.41h-4.34zM581.83 484.48h4.34v4.41h-4.34zM502.12 488.54h4.34v4.41h-4.34z"/>
<path fill="#ff0000" d="M526.03 464.16h4.34v4.41h-4.34z"/>
<path fill="#4c4cff" d="M549.95 464.16h4.34v4.41h-4.34zM534 468.22h4.34v4.41h-4.34zM502.12 472.29h8.32v4.41h-8.32zM609.72 476.35h4.34v4.41h-4.34zM490.17 480.41h4.34v4.41h-4.34zM625.66 484.48h4.34v4.41h-4.34z"/>
<path fill="#ff8c8c" d="M613.71 464.16h4.34v4.41h-4.34zM526.03 472.29h4.34v4.41h-4.34zM534 488.54h4.34v4.41h-4.34zM553.93 488.54h4.34v4.41h-4.34z"/>
<path fill="#ff1818" d="M545.96 468.22h4.34v4.41h-4.34zM537.99 488.54h4.34v4.41h-4.34zM494.15 496.67h4.34v4.41h-4.34zM506.11 500.74h4.34v4.06h-4.34z"/>
<path fill="#ff0c0c" d="M557.91 468.22h4.34v4.41h-4.34zM518.07 496.67h4.34v4.41h-4.34z"/>
<path fill="#ff7e7e" d="M569.87 472.29h4.34v4.41h-4.34zM561.9 488.54h4.34v4.41h-4.34z"/>
<path fill="#8080ff" d="M597.76 472.29h4.34v4.41h-4.34zM534 476.35h4.34v4.41h-4.34zM569.87 480.41h4.34v4.41h-4.34z"/>
<path fill="#6666ff" d="M601.75 472.29h4.34v4.41h-4.34zM613.71 472.29h4.34v4.41h-4.34zM506.11 476.35h4.34v4.41h-4.34zM518.07 476.35h4.34v4.41h-4.34zM589.8 476.35h4.34v4.41h-4.34zM498.14 480.41h4.34v4.41h-4.34zM549.95 488.54h4.34v4.41h-4.34zM561.9 496.67h4.34v4.41h-4.34zM605.74 496.67h4.34v4.41h-4.34z"/>
<path fill="#c0c0ff" d="M573.86 476.35h4.34v4.41h-4.34zM490.17 484.48h4.34v4.41h-4.34zM549.95 484.48h4.34v4.41h-4.34zM585.81 492.61h4.34v4.41h-4.34zM613.71 492.61h4.34v4.41h-4.34zM549.95 500.74h4.34v4.06h-4.34z"/>
<path fill="#ffcccc" d="M526.03 480.41h4.34v4.41h-4.34zM494.15 484.48h4.34v4.41h-4.34zM565.88 484.48h4.34v4.41h-4.34zM537.99 496.67h4.34v4.41h-4.34z"/>
<path fill="#ff9898" d="M549.95 480.41h4.34v4.41h-4.34zM565.88 480.41h4.34v4.41h-4.34z"/>
<path fill="#ffbebe" d="M589.8 480.41h4.34v4.41h-4.34z"/>
<path fill="#ff7272" d="M569.87 492.61h4.34v4.41h-4.34z"/>
<text x="569.8" y="443.96" text-anchor="middle">Diffusivity map</text>
<text x="474" y="461.76" text-anchor="end">0.2</text>
<text x="474" y="477.96" text-anchor="end">0.0</text>
<text x="474" y="494.16" text-anchor="end">-0.2</text>
<text x="484.95" y="516.96" text-anchor="middle">-1.0</text>
<text x="525.02" y="516.96" text-anchor="middle">-0.5</text>
<text x="565.1" y="516.96" text-anchor="middle">0.0</text>
<text x="605.17" y="516.96" text-anchor="middle">0.5</text>
<linearGradient id="gb3" x1="0" y1="0" x2="0" y2="1"><stop offset="0" stop-color="#ff0000"/><stop offset=".1" stop-color="#ff3232"/><stop offset=".2" stop-color="#ff6666"/><stop offset=".3" stop-color="#ff9898"/><stop offset=".4" stop-color="#ffcccc"/><stop offset=".5" stop-color="#fffefe"/><stop offset=".6" stop-color="#ccccff"/><stop offset=".7" stop-color="#9898ff"/><stop offset=".8" stop-color="#6666ff"/><stop offset=".9" stop-color="#3232ff"/><stop offset="1" stop-color="#0000ff"/></linearGradient>
<rect x="651" y="447.9" width="3.4" height="56.9" fill="url(#gb3)"/>
<text x="658.9" y="457.16">3</text>
<text x="658.9" y="473.26">2</text>
<text x="658.9" y="490.06">1</text>
<path d="M482.2 458.3h-2.4M482.2 474.5h-2.4M482.2 490.7h-2.4M484.15 504.8v2.4M504.19 504.8v2.4M524.22 504.8v2.4M544.26 504.8v2.4M564.3 504.8v2.4M584.34 504.8v2.4M604.38 504.8v2.4M624.41 504.8v2.4M654.4 453.7h2.2M654.4 469.8h2.2M654.4 486.6h2.2" stroke="#111" stroke-width="1.1" fill="none"/>
<text x="683.26" y="475.6" text-anchor="middle" transform="rotate(-90 683.26 475.6)">D<tspan font-size="6.72">L</tspan> (µm²/s)</text>
<path d="M41.1 579.9V642.2M59.45 579.9V642.2M77.8 579.9V642.2M96.15 579.9V642.2M114.5 579.9V642.2M132.85 579.9V642.2M151.2 579.9V642.2M169.55 579.9V642.2M187.9 579.9V642.2M40.4 581.8H194.1M40.4 596.55H194.1M40.4 611.3H194.1M40.4 626.05H194.1M40.4 640.8H194.1" stroke="#e2e2e2" stroke-width=".8" fill="none"/>
<path d="m63.2 608.6h0m-1.3 .3h0m3.6-.1h0m1.6 3.3h0m-3.8-.5h0m-2.2-1.3h0m2.6-1.6h0m.7-4.6h0m.9 9.8h0m-1.7-2.5h0m-1.8-4.9h0m.7 8.4h0m1.4-4.3h0m-3.8 1.6h0m1.4-2.3h0m.5-.3h0m5.8 2.3h0m-6.8-1.4h0m4.9 1.1h0m.9 1.6h0m-6.3-3.2h0m.4 1.4h0m3.4-3.4h0m-.9 2.5h0m3.2-1.7h0m-4.1-2.1h0m-1.7 2.7h0m4 .5h0m-3.2-1h0m.1 2.5h0m-1.2-4.9h0m1.2 .3h0m2.4 3.7h0m.7-1.4h0m-1.3 4.3h0m-.2-5.9h0m1.1-.2h0m2.5 1.5h0m1.3 4.9h0m-5.7 2.6h0m2.7-6.7h0m2.3 1.2h0m-9.6-4.3h0m1.8 6.6h0m3-4.9h0m-.9 1.1h0m-3.5-3.9h0m4.6 4.1h0m1.7-.1h0m-1 2.8h0m-.8-3.5h0m3 1.4h0m-2.4-1.1h0m1.2 .3h0m-2.1 1.8h0m3.5-2h0m-2.8-8.3h0m2.2 6.8h0m-1.9 4.8h0m2.5-2.3h0m-2.7-2.9h0m2.4 2h0m-2.5-4.8h0m1.4 8.1h0m.4-3.1h0m-1.8-1.3h0m.5-3.5h0m-.1 4.6h0m2.5 2.1h0m-.4-1.3h0m.5 2h0m-2 2h0m-2.2-4.2h0m2.4-5.1h0m3.4 8.6h0m-6.6-6.7h0m3 6.7h0m.2-.6h0m-3.5 .4h0m1.6-9.1h0m1.6 6.1h0m5.5 .9h0m-6.9-.5h0m1.5 .1h0m2.7 0h0m-2.3-1.4h0m-3.7 3.1h0m2.1 3.4h0m.2-6.1h0m.3 .4h0m.5 .7h0m.8 3.3h0m.7-1.9h0m-1.1-1.1h0m-2.4 .9h0m4.6 .7h0m-6.6-3.3h0m3.8 .4h0m-3.1 1.8h0m4.7 1h0m-.7-4.6h0m-1.2 5h0m4.5-3.4h0m-4.4 1.3h0m-2.9-.3h0m2.9 1.5h0m-.2-5.1h0m.8 3.2h0m1.6-2.6h0m-.4 4.4h0m-13-6.5h0m9.6 8.6h0m2.1 .6h0m-5.6-16.6h0m-5 7.1h0m13.3-6.8h0m-3.8 9.2h0m-6 3.6h0m-6.1 4.4h0m10.6-3.4h0m-2.3-9.4h0m-5.7 7.6h0m6.1 .7h0m2.3-14h0m-5.7 4.4h0m12.6 10.8h0m-10.3 8.2h0m-7.9-12.4h0m7.5-10.6h0m5.2 23.8h0m-4.3-11.3h0m3.3 8.3h0m-2.1-3.5h0m3.9-5.4h0m-1.3 6.3h0m2.9-.2h0m-8.3-1h0m2.6-.9h0m4.9-11.9h0m-5.3 4.2h0m3.1 5.3h0m8.1 4.5h0m-6.2 8.4h0m-.1-11.4h0m-8 3.1h0m-5.7 3.4h0m11.7 11.6h0m4.7-26.6h0m-9.4 18.1h0m-3.3-1.5h0m1.4-14.9h0m12.1 12.4h0m-7.7-11.9h0m-2-4.2h0m14.4 9.6h0m-15.3-4.8h0m6 9.9h0m-2.5-6.1h0m3.3-7.8h0m-5 17.9h0m.3-6.5h0m14.8-11.2h0m-1.1 9.5h0m-15.1 2.6h0m6.9-7h0m-1.3-13.6h0m4.9 24.7h0m-4.7-12.4h0m2.5-6.8h0m-7.5 19.6h0m6.6-6.9h0m-6.8-.8h0m4-1.8h0m-2.1-2.3h0m16-5.3h0m-17.6-6.3h0m.2 26.4h0m8.4-3.3h0m-13.3-3.9h0m6.3 5h0m-1.9-9.1h0m6.3 6.9h0m-.5-8.8h0m-.1 5.8h0m-8.8-11h0m9 12h0m-7-10h0m14.4 2.4h0m2.6 .4h0m-11.2-1.3h0m3.8 14.7h0m-4.8-20.5h0m-8.8 7.6h0m11.9-11h0m4.2 13h0m2.6 7.9h0m-17.9-18h0m10.7 18.3h0m2.1-14.9h0m-1.8 9.7h0m-10.4 9.2h0m5.5-11.3h0m-1.5 3h0m7.4 4.3h0m-8.1-3.8h0m8.8 8.7h0m2.9-3.9h0m-12.7 .1h0m-.6-4.1h0m9.7-5h0m2.3-6.2h0m-13.5 5.6h0m3.3 3.3h0m28.5 14h0m.9 3.7h0m-1.8-2.5h0m6-.3h0m-5.6-.4h0m2.4 1.7h0m-2.7-1.5h0m.3 .2h0m-1.5-.5h0m-2.3-2.3h0m3.9 5.1h0m-.9-4.1h0m.3 1.6h0m-6.2-2.3h0m7 5h0m-1.5-5.1h0m2.4 4.4h0m-2.8-2.6h0m7.8 .1h0m-3.9 .8h0m-2.1 1h0m-4 .5h0m2.1-3.9h0m1.7 .1h0m2.4 1.6h0m-3.8-3h0m4.8 1.4h0m4.1-.4h0m-6.7 1.6h0m.9-2.7h0m-4.6 6h0m1.6-2.7h0m-.3-1.4h0m3.5 1.5h0m-1.6-2.9h0m5.7 .2h0m-7 .8h0m-2.3 4.5h0m8.5-4h0m-3.1-.8h0m2.9 1.7h0m-4.1-.5h0m1.7 .6h0m-6.4-3.4h0m1.7 4.6h0m4-.8h0m-.2-3.7h0m2.7 4.3h0m-3.3-.6h0m2.8 1.2h0m-6.6 1.2h0m4.4-3.1h0m.6-.7h0m-5.7 1.8h0m.4-2.4h0m19.3-11.6h0m-.8-4.6h0m-1.1-1.7h0m-1.9 3h0m-.1 1h0m-1-5.4h0m4.2 4.2h0m-5.7-7.5h0m4.3 6.1h0m1.6-4.4h0m-2.5 12h0m0-6.9h0m-.7-4.4h0m.4 3.4h0m-1-1.3h0m.3-.2h0m2.2 2h0m.4 5.2h0m-2-5.4h0m.2-2.9h0m3.3 5.7h0m.8-1.5h0m-1.7-4.3h0m-4.3 6h0m2.8-1.7h0m-4.2-2.6h0m4.7 1.3h0m.4-1.5h0m-2.9 1.2h0m1 2.3h0m-1.1-5h0m-4.1 5.7h0m8.1-1.1h0m-3.5-4.1h0m-.7 4h0m3.5 .7h0m-2.4-1.8h0m3.8 3h0m-1.1-2.6h0m-2.3 3.8h0m5.4-5.6h0m-3.8 2.6h0m3.5 1h0m-6.8 .4h0m2.5-3.3h0m-5 .1h0m5.8-2.3h0m-1.5-1.2h0m6 5.9h0m-5.9-4.5h0m3.8 2.9h0m-.1 4.6h0m-.6-5.9h0m-.1-.1h0m-.6 2.8h0m1.9 4.8h0m-2.9-4.3h0m4.3 1.5h0m-4.7-3.3h0m1.8-.1h0m-4.8 .4h0m5.7-2.6h0m-4.8 5.9h0m-1.5-3.4h0m2.9 .8h0m-.9-1.6h0m4.7-2.4h0m-4.5 .6h0m.5-1.5h0m3.3 1h0m3-.2h0m-3.3-1.1h0m-5 5.1h0m1.7-3.5h0m1 6.2h0m-2-3.1h0m.7 .8h0m-2.6-1.8h0m.5 1.6h0m1.7-.3h0m5.3 .4h0m-4.7 6.1h0m-1.3-8.1h0m1.5-1.6h0m.1 0h0m1.4-.9h0m-1.4 .6h0m-.5 4.9h0m4.2 1.8h0m-5.4-8.9h0m2.9 3.7h0m.1 1.2h0m4.5-.2h0m-1.4 .1h0m-5.5 .8h0m17.4-5.5h0m-1.7 3.9h0m-2.4-.2h0m3.6 .3h0m.6 1.6h0m-.1-.9h0m2.5 .2h0m-3 2.2h0m2.6-2h0m-4.6-2.6h0m4.7 2.3h0m-2.2 2.4h0m-6.3-2.7h0m2.3-.9h0m2.9 .7h0m-.5-.3h0m3.4 .5h0m0-1.2h0m-2.4 4.6h0m2-2h0m-4.2 2.3h0m-1.9-5.9h0m9.1 0h0m.6 6h0m-3.3-1h0m-5.7-3.7h0m6.2 2.9h0m-6.6 1.2h0m3.7-4.5h0m5.6 .8h0m-7.8 2.8h0m2.8-3.2h0m-5.3 .7h0m3.5-1h0m-2.6-.3h0m7.9-.8h0m.3 2.4h0m-3.7 2.3h0m-.3-.6h0m1.6-2.8h0m-1.9-1.6h0m-3.1 4h0m7.8-.6h0m-2.6 4.2h0m2.1-3.4h0m-5.6-3.1h0m1.9 5h0m3.3-1.4h0m-4.4-.6h0m-.2-.4h0m2.9 16.3h0m14.7-1.4h0m-9.8 1.7h0m6.2-2.1h0m-8.8 2h0m3.7 2.1h0m-7.7-2.5h0m5.4-.9h0m-9.4-.8h0m5.3 2h0m2.9-.3h0m-3 .1h0m5.8-.8h0m-2.3 1.3h0m4.8-1.5h0m-9.8-1.7h0m-3.2 3.3h0m11.2-.5h0m-5.8-.2h0m1.7-1.5h0m3.1 2.1h0m-5.6 2.4h0m-.1-4.5h0m2.7-1.3h0m-1.6 1.7h0m5.9 2.6h0m2.5 .4h0m-8.3 .8h0m-.1-1.5h0m6.3 1.9h0m-2.5-4.4h0m.5-1.2h0m1.4 3.5h0m-1.1-.3h0m-6.6-.8h0m.9 .6h0m7.8-1.3h0m-14.9 1.6h0m7.1-5.6h0m3.8 5.1h0m1 3.3h0m5.5-3.6h0m-12.6-2.1h0m.8 3.5h0m8.1-5.6h0m-5.9 3.7h0m1.2-.9h0m-1.5 .5h0m-1.8 .5h0m8.1 2.5h0m-.5-5.9h0m-7.1 3.8h0m4-.6h0m-6.1-1.6h0m8.8-.3h0m.4 2.9h0m-4.4 .1h0m13.9-.4h0m-8.6-3.5h0m-5.1 2.3h0m2.7-2.5h0m-8.2 2.4h0m8.3-.3h0m-6.2-.8h0m6.4 3.4h0m-7.7-5.4h0m2.2 6.5h0m5.2-.9h0m-2.2-2.9h0m-4.6 3.5h0m14.2-.2h0m-15.4-2.3h0m8.1 .1h0m-6.7-1.8h0m-1.1 3.1h0m9-3.3h0m-1.1 .2h0m-.3 .2h0m-5.6 2.8h0m6.5-3.2h0m-5 3.2h0m1.4-3.3h0m.3 2.4h0m-.4 .1h0m3.4 .2h0m15.3-29.6h0m-1.9-.8h0m2.3 5.1h0m-.1-5.7h0m-.8 3.8h0m-1.2-5h0m-.5-.9h0m1.1 1.8h0m-5.6-.5h0m6.8 6.2h0m1.8-3.3h0m-4.7-5.4h0m5.6 1h0m-1.2-.3h0m-5.6 3.8h0m6.8-2.2h0m-2.8 2.5h0m-1 1.4h0m.5 6h0m2.5-8.2h0m-8.5 0h0m6.7 .4h0m1-2.7h0m-.2 7.2h0m-5.9-2.6h0m6.6 3.2h0m-3.1-3.8h0m.8 3h0m1.6-3.9h0m.7-1.1h0m-2-2.6h0m2.9 1.4h0m-4.4 .5h0m3.9-1.3h0m1.2-1.1h0m-4.3-2.8h0m2.3 4.2h0m-1.1 5.6h0m-4.7-5.5h0m6.5-3h0m-4 5.1h0m.7-2.1h0m-.5 4.3h0m-1.6-1.9h0m5.3 3.1h0m-3.1-7.8h0m-.8 10.3h0m-.3-8.5h0m2.1 5.1h0m-1.5-6.3h0m-1.5-.5h0m2.1 2.4h0m-1.4 4.3h0m7.5-2.1h0m-7.4-2h0m.6 4.4h0m-.3-1.3h0m4.8 3.2h0m-2 0h0m.3-3.3h0m36.1 5.7h0m.7-2.1h0m-1.2 .1h0m-1.9 2.2h0m-.7-2h0m2.6 1.6h0m-3.3-.2h0m3.5-1.9h0m-2.4 .2h0m-1.3 2.6h0m.3-1.5h0m.4 2.1h0m4.2-3.9h0m-5.9-.1h0m5.5 .3h0m-2.8-.9h0m2.2 5.9h0m-5.9-.7h0m1.7-3.4h0m3.3 .8h0m1.1-2h0m-1.2-1.6h0m1.5 1.3h0m1 4.7h0m.8-.1h0m-3.2-1.4h0m-2.2-.4h0m-1.5-1.5h0m3.1 2.8h0m.6-2.2h0m-.6 4.9h0m1.2-4.8h0m1.6-.6h0m-1.6 2.2h0m-1.8 .9h0m-.7 .1h0m4.3-5.7h0m-9 3.8h0m1.6 3.1h0m4.2-2.5h0m7.3-.8h0m-8.8 3.5h0m3-1.6h0m-2 1.3h0m3.5-4.1h0m0 2.3h0m-2.4-.4h0m-2.4-2.2h0m-1.8 2.8h0m1.2-1.6h0m-.5 .5h0m1.4 .7h0m.9-5.3h0m-1.1 1.5h0m1.2-3.7h0m1.4 4.2h0m-3.5-1.1h0m2.8 5.1h0m4.1 9.1h0m-2 5.4h0m5.3-3.2h0m-6.3 9.6h0m5.8-7.6h0m-.7-1.9h0m-2 1.2h0m-1.9 3.4h0m2.1 1.4h0m-1-8.3h0m.3 3h0m1 7.8h0m.4-4.3h0m-3.7-2.9h0m1.1-4.7h0m-3.9 2h0m8.2 3.5h0m-6.5 6.4h0m-2.7-5.5h0m5.5-2.5h0m1.5 1.1h0m-5.5 1.7h0m6-3.5h0m-8.8-.3h0m2.3 4h0m5.9-7.5h0m1.1 7.5h0m-4.1 3.7h0m-1.6-2.5h0m1.5-5.3h0m-.6 1.5h0m2.5 6h0m1.6-3h0m-2.6-1.1h0m3.2-2.6h0m-1.3 5.5h0m4.5-.6h0m-3.6-6.9h0m-3.3 6.9h0m2.8 1.9h0m-2-4.4h0m2 3.2h0m3.7-7.1h0m-4.2 2.3h0m-3.9-.9h0m4.6 .7h0m1.2 1.9h0m-2.2 6.4h0m-5-.7h0m7.4-5.1h0m-4.1 3.1h0m3.9-2.2h0m2.5 1.1h0m-7.7 6.4h0m.7-9.2h0m-2-1h0m4.7 4.2h0m1.4 2.1h0m-2.4-5.7h0m-.9 3.3h0m-.8-5.1h0m2.9 .9h0m1.9 1.1h0m-1.4 4h0m-26.9-31.8h0m-3.6 1.7h0m5.9-3h0m-.6 1.8h0m2.8-1h0m-.2 .2h0m-3.5 0h0m3.7-.3h0m-9-.7h0m3.4 3.2h0m-2.4-1.7h0m-3.1 1.8h0m7.1-2.1h0m4.2 .7h0m-6.7 .9h0m4.3-1h0m-1.3 .9h0m-3.5-.1h0m3.2-1.1h0m3.7-.3h0m-3.9-.7h0m-4.7 2.2h0m6.1-1.8h0m-1.6 2.6h0m-4.2-1.9h0m-41.5 9.8h0m-4.1-5.6h0m6.5-3.4h0m-6.5 6h0m1-.9h0m-2.4-3.7h0m3.3 9.4h0m-.2-9h0m-5.7-3h0m7.5 4.4h0m-4.1-2.9h0m7.1 5.2h0m-15.2-5.8h0m9.7 9.7h0m5.6 1.6h0m-7.7-3.2h0m-3.5-4.5h0m16.5 2.6h0m-4.6-.2h0m-9.9-2.7h0m-3.8-4.4h0m4.4 9.1h0m3-3.4h0m-2.9-2h0m10.5 1.7h0m-10.1-3.5h0m7.7 4.9h0m-5.3 .4h0m-5.6-4.9h0m8.8-2h0m5.7 12.3h0m-13.8-7.3h0m13.8-.6h0m-4.1 2.5h0m1.8-6.7h0m14-2.3h0m-7.6 4h0m-.3-2.3h0m7.7 .2h0m-2.8 .3h0m.4-.5h0m.9-1.7h0m-1.2 3.4h0m-2.6-3h0m5.2 .5h0m-6.9 1.6h0m-1.6 .4h0m3 .6h0m-1.4 1.9h0m-.3-5.9h0m-1.4 .1h0m8.2 3h0m-9.6-1.6h0m2 .9h0m10.2-.5h0m-13.8 .8h0m8 1.2h0m-.7-.8h0m-4.2 2.4h0m3.4-1.3h0m-.8-2.9h0m-46.9 36.2h0m-2.4 .5h0m-7.1-3.1h0m10.8 2.4h0m-8 1.6h0m2.4-3.7h0m2.2 3.3h0m-.6 .2h0m-1.6-2.8h0m2.1 3.4h0m-3.4-2.7h0m3.6 .5h0m.2-2.6h0m-6.2 1.5h0m11.7 0h0m-7.5-1.3h0m3.5 1.4h0m-9.9 .4h0m7.6-.9h0m3.9 3.2h0m-7.9-2.5h0m5.9 1.2h0m-5.4-1.6h0m3.1-.7h0m-.8 .7h0m-4.3-.1h0m6 1.1h0m-4.9-2.8h0m6.4 2.6h0m-.1-2.9h0m9.8-31.1h0m6.5 5.2h0m-6.2-4.7h0m8.2 1.9h0m-11.6 3.2h0m5.1 2.9h0m-9-1.7h0m11.8-4.1h0m-3.1-.3h0m9.9 5.2h0m-4.5-1.7h0m3.5 3.8h0m-6.8 .1h0m-1.7-5.2h0m-1.8-2.5h0m-5.3 2.8h0m11.4 .4h0m-.6-.9h0m-2.2 2.3h0m-8.6-1h0m14.8-2.7h0m-9.8 3.1h0m9.1-4.2h0m-6.9 .4h0m.7-2h0m-6.1 3.3h0m8.7-.8h0m-7.5 3.3h0m8.9-6.9h0m-9.6 5.7h0m89.4 22.7h0m-3.3-6.8h0m-4.9-5.9h0m1.5 13.7h0m5.3-9h0m-10.8 6.8h0m1.8-.4h0m-4.2-1.2h0m14.9 4.7h0m-8.9-2.5h0m-6.1-.5h0m4.9 4.2h0m11.3-1.2h0m-5.7-2.4h0m2.8 3.5h0m-6.7-3.6h0m10.5-5h0m-20.9-8.3h0m18.2 15h0m-13.5 1.8h0m-3.8-1.6h0m15.7-2.2h0m-10.3-3.4h0m8.1 1.3h0m1-7.2h0m-.7 1.7h0m2.6 8.1h0m-1.5-.9h0m-6.5-2.6h0m5.5-2.4h0m-2.2 13.5h0m-.9-10.7h0m4.3-.2h0m-4.9 2.4h0m7.1-5.4h0m-6.7 3.6h0m.7 3.9h0m-.9-.2h0m4.3 3.2h0m-6.4-8.6h0m4.8 9h0m-7.5-3.7h0m7-6.4h0m-2.6-5.1h0m5 18.8h0m-6-14.3h0m7.6 7.4h0m-7.8-1.3h0m2.7 5.4h0m8.1-.2h0m.1 1h0m-1.5 .3h0m.6 1.4h0m-1-2.1h0m2.4 2.2h0m-2-1.9h0m2.1 7.7h0m-2.7-6.9h0m2.2 3h0m.8-1.1h0m-1-4.3h0m-60.8 1.5h0m-.1-.8h0m2.4-7.5h0m-4 5.8h0m-1.9-5.5h0m9.2 2.6h0m-.8-1.8h0m-6 4.3h0m1-3.3h0m-3.7 6.1h0m5.3-1.4h0m-5.6 .7h0m6.4-7.4h0m-1.7 1h0m-3.9 3.9h0m4.6 1.3h0m-1.4-8.9h0m-3.9 12.3h0m4.7-7.2h0m-4.8 5.1h0m3.3-2.5h0m-3.6-1.8h0m5.7 2.6h0m-6-4.9h0m4.7 8.1h0m37.7-18.9h0m-11.9 3.2h0m4.4 4.2h0m6.2 7.4h0m.8-16.8h0m-5.5 6h0m.4 4.2h0m9.6 4h0m-10-22h0m.6 17.9h0m.7 1.8h0m-1.2-11.8h0m-8.2 24.8h0m11.7-11.2h0m-5.2-3.2h0m1.1 6.4h0m.6-5.1h0m-6.3-2.6h0m18.3-2.6h0m1.7 4.4h0m-8.9-.8h0m-9.4 6.8h0m-6.4-11.5h0m9.9 2.3h0m-6.9 12.4h0m2.5-18.3h0m19.1-8.7h0m-10.7 16.5h0m-11.8 13h0m7.5-13h0m1.8 8.4h0m-.2-10.8h0m3.8-11.2h0m-11.3 11.7h0m4.4 7.3h0m5.2 6.2h0m9.7-13.1h0m-1.8-.2h0m3.7 7.8h0m-17.9-22.5h0m-62.4 3.5h0m11.8 7.6h0m27.8-16.6h0m38.7 4.6h0m-81.8 23.9h0m54.2 9.2h0m-57.7-37.1h0m-6.2 2.6h0m-.1 2.5h0m69.8 18.6h0m-10.5-23.8h0m-44.5 15.1h0m7.2 17.3h0m9.6-16.9h0m-8.4-1.8h0m29.4-5h0m16.1 27.1h0m-2.2-25h0m53.8 16.1h0m-104.4 11.5h0m65.7-2.4h0m-23.8-26.3h0m46.1 1h0m-7.8 21.7h0m1.7-21h0m-25.4 19.8h0m-68.2-10.1h0m31.9-23.3h0m40.1 33.4h0m-11.3 5.3h0m17.8-11.6h0m-71.7-17.8h0m91.9 31.2h0m-36.7-31.1h0m-31.8 13.4h0m8.3 13.2h0m72.2 .8h0m-83.1-22.5h0m84.7-5h0m-21.2-6.3h0m17.9 18.8h0m-28-2.7h0m-70.7-3h0m7.1 8.1h0m38.9 .3h0m-40.1-21h0m92.1 17.6h0m-92.3-20.7h0m53.8 38.3h0m11.2-20.6h0m-65.4-6.4h0m67.3 25.1h0m-69.3-7.9h0m43.2-25.2h0m51.3 19.3h0m-81.1 14.3h0m-.8 4.7h0m3.3-7.4h0m79.9-15.8h0m-54.7 0h0m12.3 19.1h0m-79.4-12.5h0m134.2-3.9h0m-74.6 2.3h0m57.7-2.6h0m-17.2 7.1h0m-27.4 6.4h0m60.3-13.8h0m-30.3 12h0m-53.1 7.2h0m24.8-21.5h0m25-18.7h0m-75.8 30.4h0m-17-22.8h0m22.4 24.2h0m72.7-.4h0m-67.8-29.7h0m18.5 25.9h0m3.9-28.3h0m-15.6 2.1h0m-33.8 5.2h0m39.6 12.3h0m46.4 13.9h0m19.1-17.7h0m-23.1-1.8h0m10.4 25.9h0m-3.6-30.5h0m-1.1 .7h0m-21.2-2.4h0m23.5 3.4h0m-74.5 13.2h0m42.9 4.6h0m-14.7-9.5h0m-11.4 16h0m31.8 3.1h0m-72.2-12.4h0m79.5-13.4h0m-10.3 22.2h0m-11.3 6.7h0m24-38.8h0m-39.4 28h0m54.9-11.4h0m23.2-3.9h0m-111.5-6h0m80.6 12.7h0m-51.3 18.3h0m86.2-16.5h0m-59.3-3h0m10.8-8h0m-60.8-7.2h0m94.2 33.9h0m-37.5-33.8h0m4 33.6h0m8.3-2.6h0m16-22.7h0m-88.4 11.2h0m70.3 3h0m-38.3-7.6h0m64.4-8.8h0m-18.6-7.3h0m-30 26.4h0m30.4-22.5h0m-8.1 25.8h0m-26.8-31.2h0m34.9 31h0m-24-9.1h0m10.2-6.3h0m-71.1 2.8h0m77.1-4.8h0m6.1 1.4h0m-49.7-2.1h0m81.8-5.4h0m-112.9 6.7h0m46.7-14h0m43.5 3.3h0m-11.5 3.2h0m-11.6 30.4h0m3-8.1h0m-2.9 3.8h0m-2.8-3.7h0m11.3-18h0m-17.3 13.6h0m37.3-11.6h0m-70.4 14.8h0m55.6-4.5h0m-13.7 15h0m4.8-32.2h0m23.6-2h0m-69.9 6.1h0m70.2 16.3h0m-70.1 4.9h0m-11.5-12.6h0m13.5 8.5h0m20-23.1h0m51.8 32.5h0m13.2-4.9h0m-106.8-17.6h0m87.2 14.5h0m-10.5-28.2h0m24 4.1h0m-111.9 17.8h0m104.7-24.2h0m-28.2 7.1h0m20.9 29.7h0m-31.7-11.2h0m-25.1-16.6h0m28.4 28h0m9.4-27.8h0m-63.3 5.9h0m67.4-3.7h0m-29.9 4.1h0m-3.6 .1h0m59.7-.8h0m-101.3-8.8h0m101.8 34h0m18.9-15.6h0m-69.3 14.5h0m25.4-20.8h0m-80.4-6h0m68.2-15h0m-3.5 24.1h0m22-4.8h0m42.2 5.3h0m-35.1-7.2h0m-67.2 20.6h0m88.6-1.4h0m-119.7-20.4h0m12.7 5.4h0m6.6 18.7h0m-15.8-28.6h0m6.3 3.7h0m78.4 11.9h0m5.3-21h0m-18.1 19.6h0m42.5-3.7h0m-85.2 20h0m88.4-25.1h0m-25.3 .4h0m-24.2 14.2h0m26-3.9h0m-77.6 8.3h0m43.4-21.3h0m-62.2 7.7h0m9.3 14.9h0m22.2-15.4h0m-9.4 5.6h0m58-7.2h0m-51.2-10.5h0m17.6 16h0m27.3-4.9h0m-46 10.9h0m-22.7-22.2h0m72.4 14.5h0m-54.2 2.2h0m95.2-18.1h0m-45.4 8.4h0m-73.6 15.4h0m103.4-3.7h0m14.1 2h0m-56.4-24.2h0m12.1-1.5h0m35.1 16.3h0m-68.1-2.7h0m51 1.6h0m-85.9 3.6h0m102.8-9.4h0m-44.5 26.1h0m48.4-13.6h0m-11.5-2.8h0m9-6.3h0m-86.9-10.2h0m38.2 12.5h0m42.5 .9h0m22.4 13.6h0m-74 6.4h0m-22.6 1.8h0" stroke="#bdae1c" stroke-width="1.25" stroke-linecap="round" fill="none" opacity=".92"/>
<rect x="40.4" y="579.9" width="153.7" height="62.3" fill="none" stroke="#111" stroke-width="1.3"/>
<text x="110" y="573.06" text-anchor="middle">1188 starting positions</text>
<text x="38.9" y="654.76" text-anchor="middle">-1.0</text>
<text x="76.5" y="654.76" text-anchor="middle">-0.5</text>
<text x="113.9" y="654.76" text-anchor="middle">0.0</text>
<text x="150.2" y="654.76" text-anchor="middle">0.5</text>
<text x="188.3" y="654.76" text-anchor="middle">1.0</text>
<text x="35.6" y="584.16" text-anchor="end">0.4</text>
<text x="35.6" y="598.91" text-anchor="end">0.2</text>
<text x="35.6" y="613.66" text-anchor="end">0.0</text>
<text x="35.6" y="628.41" text-anchor="end">-0.2</text>
<text x="35.6" y="643.16" text-anchor="end">-0.4</text>
<text x="113.3" y="672.96" text-anchor="middle">(µm)</text>
<path d="M267.3 669.2H274.8V592.12H267.3ZM275.91 669.2H283.41V574.73H275.91ZM284.52 669.2H292.02V636.66H284.52ZM293.13 669.2H300.63V650.35H293.13ZM301.74 669.2H309.24V656.07H301.74ZM310.35 669.2H317.85V663.37H310.35ZM318.96 669.2H326.46V662.24H318.96ZM327.57 669.2H335.07V663.93H327.57ZM336.18 669.2H343.68V666.06H336.18ZM344.79 669.2H352.29V664.26H344.79ZM353.4 669.2H360.9V664.26H353.4ZM362.01 669.2H369.51V665.72H362.01ZM370.62 669.2H378.12V666.62H370.62ZM379.23 669.2H386.73V665.39H379.23ZM387.84 669.2H395.34V667.74H387.84ZM396.45 669.2H403.95V668.08H396.45Z" fill="#1f77b4"/>
<path d="M265.88 670.15C266.12 667.23 266.85 658.95 267.34 652.63C267.82 646.3 268.31 639.98 268.8 632.19C269.28 624.4 269.77 614.18 270.26 605.91C270.74 597.64 271.08 590.1 271.72 582.55C272.35 575.01 273.32 565.13 274.05 560.66C274.78 556.18 275.36 555.69 276.09 555.69C276.82 555.69 277.7 557.4 278.43 560.66C279.16 563.92 279.89 570.63 280.47 575.26C281.06 579.88 281.3 583.04 281.93 588.39C282.57 593.75 283.54 601.53 284.27 607.37C285 613.21 285.24 616.86 286.31 623.43C287.38 630 289.23 641.19 290.69 646.79C292.15 652.38 293.61 654.72 295.07 657.01C296.53 659.29 297.75 659.83 299.45 660.51C301.16 661.19 303.1 661.09 305.29 661.09C307.48 661.09 309.91 660.66 312.59 660.51C315.27 660.36 317.94 660.22 321.35 660.22C324.76 660.22 328.65 660.17 333.03 660.51C337.41 660.85 342.27 661.48 347.63 662.26C352.98 663.04 359.31 664.31 365.15 665.18C370.99 666.06 375.85 666.79 382.66 667.52C389.48 668.25 402.13 669.22 406.02 669.56" fill="none" stroke="#111111" stroke-width="1.4" stroke-linejoin="round"/>
<path d="M265.88 670.15C267.82 669.66 273.66 668.2 277.55 667.23C281.45 666.25 285.34 665.18 289.23 664.31C293.13 663.43 297.02 662.6 300.91 661.97C304.81 661.34 309.18 660.8 312.59 660.51C316 660.22 317.94 660.22 321.35 660.22C324.76 660.22 328.65 660.17 333.03 660.51C337.41 660.85 342.27 661.48 347.63 662.26C352.98 663.04 359.31 664.31 365.15 665.18C370.99 666.06 375.85 666.79 382.66 667.52C389.48 668.25 402.13 669.22 406.02 669.56" fill="none" stroke="#f01010" stroke-width="1.4" stroke-linejoin="round"/>
<path d="M265.88 670.15C266.12 666.74 266.85 657.01 267.34 649.71C267.82 642.41 268.31 634.62 268.8 626.35C269.28 618.08 269.77 608.35 270.26 600.07C270.74 591.8 271.08 583.14 271.72 576.72C272.35 570.29 273.32 564.45 274.05 561.53C274.78 558.61 275.36 558.61 276.09 559.2C276.82 559.78 277.7 561.39 278.43 565.04C279.16 568.69 279.89 575.74 280.47 581.09C281.06 586.45 281.3 591.31 281.93 597.15C282.57 602.99 283.54 610.29 284.27 616.13C285 621.97 285.24 625.62 286.31 632.19C287.38 638.76 289.23 649.95 290.69 655.55C292.15 661.14 293.61 663.43 295.07 665.77C296.53 668.1 297.99 668.83 299.45 669.56C300.91 670.29 303.1 670.05 303.83 670.15" fill="none" stroke="#0d860d" stroke-width="1.4" stroke-linejoin="round"/>
<rect x="259.2" y="549.9" width="153.2" height="120.9" fill="none" stroke="#0a0a0a" stroke-width="1.35"/>
<text x="265.9" y="685.06" text-anchor="middle">0.0</text>
<text x="289.1" y="685.06" text-anchor="middle">0.1</text>
<text x="312.3" y="685.06" text-anchor="middle">0.2</text>
<text x="335.5" y="685.06" text-anchor="middle">0.3</text>
<text x="358.7" y="685.06" text-anchor="middle">0.4</text>
<text x="381.9" y="685.06" text-anchor="middle">0.5</text>
<text x="405.1" y="685.06" text-anchor="middle">0.6</text>
<text x="255.2" y="560.46" text-anchor="end">10.0</text>
<text x="255.2" y="582.9" text-anchor="end">8.0</text>
<text x="255.2" y="605.34" text-anchor="end">6.0</text>
<text x="255.2" y="627.78" text-anchor="end">4.0</text>
<text x="255.2" y="650.22" text-anchor="end">2.0</text>
<text x="252.4" y="672.66" text-anchor="end">0</text>
<path d="M265.9 671.3v1.7M289.1 671.3v1.7M312.3 671.3v1.7M335.5 671.3v1.7M358.7 671.3v1.7M381.9 671.3v1.7M405.1 671.3v1.7M258.7 557h-1.7M258.7 579.44h-1.7M258.7 601.88h-1.7M258.7 624.32h-1.7M258.7 646.76h-1.7M258.7 669.2h-1.7M258.7 568.22h-1.1M258.7 590.66h-1.1M258.7 613.1h-1.1M258.7 635.54h-1.1M258.7 657.98h-1.1" stroke="#1c1c1c" stroke-width=".9" fill="none"/>
<text x="333" y="701.26" text-anchor="middle">Displacement (µm)</text>
<text x="235.26" y="614" text-anchor="middle" transform="rotate(-90 235.26 614)">Probability density</text>
<path d="M297.1 558L307.3 558" stroke="#111111" stroke-width="1.25"/>
<text x="310.5" y="560.48" font-size="6.9">Sum</text>
<path d="M297.1 567.4L307.3 567.4" stroke="#f01010" stroke-width="1.25"/>
<text x="310.5" y="569.88" font-size="6.9">D1 = 2.66 µm²/s | Fr = 0.33</text>
<path d="M297.1 577.3L307.3 577.3" stroke="#0d860d" stroke-width="1.25"/>
<text x="310.5" y="579.78" font-size="6.9">D2 = 0.09 µm²/s | mBd = 0.67</text>
<rect x="481.7" y="548.3" width="161.5" height="57.4" fill="#440154"/>
<path fill="#460a5d" d="M518.97 548.3h12.77v4.45h-12.77zM556.24 548.3h16.91v4.45h-16.91zM597.65 548.3h4.49v4.45h-4.49zM502.41 552.4h4.49v4.45h-4.49zM510.69 552.4h12.77v4.45h-12.77zM527.25 552.4h4.49v4.45h-4.49zM535.53 552.4h4.49v4.45h-4.49zM552.1 552.4h4.49v4.45h-4.49zM576.94 552.4h12.77v4.45h-12.77zM605.93 552.4h12.77v4.45h-12.77zM489.98 556.5h4.49v4.45h-4.49zM502.41 556.5h4.49v4.45h-4.49zM510.69 556.5h4.49v4.45h-4.49zM523.11 556.5h16.91v4.45h-16.91zM568.66 556.5h4.49v4.45h-4.49zM605.93 556.5h4.49v4.45h-4.49zM614.21 556.5h4.49v4.45h-4.49zM485.84 560.6h4.49v4.45h-4.49zM506.55 560.6h4.49v4.45h-4.49zM514.83 560.6h4.49v4.45h-4.49zM523.11 560.6h4.49v4.45h-4.49zM531.39 560.6h4.49v4.45h-4.49zM552.1 560.6h4.49v4.45h-4.49zM589.37 560.6h4.49v4.45h-4.49zM610.07 560.6h8.63v4.45h-8.63zM481.7 564.7h4.49v4.45h-4.49zM510.69 564.7h8.63v4.45h-8.63zM523.11 564.7h4.49v4.45h-4.49zM535.53 564.7h4.49v4.45h-4.49zM547.96 564.7h4.49v4.45h-4.49zM601.79 564.7h4.49v4.45h-4.49zM610.07 564.7h4.49v4.45h-4.49zM630.78 564.7h12.42v4.45h-12.42zM481.7 568.8h4.49v4.45h-4.49zM527.25 568.8h4.49v4.45h-4.49zM572.8 568.8h8.63v4.45h-8.63zM589.37 568.8h4.49v4.45h-4.49zM601.79 568.8h16.91v4.45h-16.91zM639.06 568.8h4.14v4.45h-4.14zM481.7 572.9h4.49v4.45h-4.49zM506.55 572.9h8.63v4.45h-8.63zM527.25 572.9h4.49v4.45h-4.49zM585.23 572.9h4.49v4.45h-4.49zM593.51 572.9h4.49v4.45h-4.49zM610.07 572.9h4.49v4.45h-4.49zM639.06 572.9h4.14v4.45h-4.14zM518.97 577h8.63v4.45h-8.63zM564.52 577h4.49v4.45h-4.49zM572.8 577h8.63v4.45h-8.63zM610.07 577h4.49v4.45h-4.49zM630.78 577h4.49v4.45h-4.49zM639.06 577h4.14v4.45h-4.14zM481.7 581.1h8.63v4.45h-8.63zM518.97 581.1h4.49v4.45h-4.49zM589.37 581.1h16.91v4.45h-16.91zM634.92 581.1h8.28v4.45h-8.28zM481.7 585.2h4.49v4.45h-4.49zM518.97 585.2h8.63v4.45h-8.63zM535.53 585.2h4.49v4.45h-4.49zM552.1 585.2h4.49v4.45h-4.49zM560.38 585.2h4.49v4.45h-4.49zM568.66 585.2h4.49v4.45h-4.49zM593.51 585.2h4.49v4.45h-4.49zM639.06 585.2h4.14v4.45h-4.14zM485.84 589.3h8.63v4.45h-8.63zM506.55 589.3h16.91v4.45h-16.91zM527.25 589.3h12.77v4.45h-12.77zM572.8 589.3h4.49v4.45h-4.49zM618.35 589.3h4.49v4.45h-4.49zM634.92 589.3h4.49v4.45h-4.49zM539.67 593.4h8.63v4.45h-8.63zM585.23 593.4h4.49v4.45h-4.49zM593.51 593.4h4.49v4.45h-4.49zM610.07 593.4h4.49v4.45h-4.49zM618.35 593.4h4.49v4.45h-4.49zM506.55 597.5h4.49v4.45h-4.49zM531.39 597.5h8.63v4.45h-8.63zM581.08 597.5h12.77v4.45h-12.77zM601.79 597.5h12.77v4.45h-12.77zM618.35 597.5h8.63v4.45h-8.63zM630.78 597.5h4.49v4.45h-4.49zM506.55 601.6h4.49v4.1h-4.49zM531.39 601.6h4.49v4.1h-4.49zM543.82 601.6h37.62v4.1h-37.62zM601.79 601.6h4.49v4.1h-4.49z"/>
<path fill="#471365" d="M552.1 548.3h4.49v4.45h-4.49zM593.51 548.3h4.49v4.45h-4.49zM601.79 548.3h4.49v4.45h-4.49zM506.55 552.4h4.49v4.45h-4.49zM568.66 552.4h8.63v4.45h-8.63zM589.37 552.4h4.49v4.45h-4.49zM494.12 556.5h8.63v4.45h-8.63zM552.1 556.5h4.49v4.45h-4.49zM589.37 556.5h4.49v4.45h-4.49zM481.7 560.6h4.49v4.45h-4.49zM510.69 560.6h4.49v4.45h-4.49zM527.25 560.6h4.49v4.45h-4.49zM630.78 560.6h4.49v4.45h-4.49zM502.41 564.7h8.63v4.45h-8.63zM568.66 564.7h4.49v4.45h-4.49zM593.51 564.7h8.63v4.45h-8.63zM614.21 564.7h4.49v4.45h-4.49zM506.55 568.8h8.63v4.45h-8.63zM547.96 568.8h4.49v4.45h-4.49zM581.08 568.8h4.49v4.45h-4.49zM593.51 568.8h8.63v4.45h-8.63zM630.78 568.8h4.49v4.45h-4.49zM523.11 572.9h4.49v4.45h-4.49zM572.8 572.9h4.49v4.45h-4.49zM581.08 572.9h4.49v4.45h-4.49zM614.21 572.9h4.49v4.45h-4.49zM634.92 572.9h4.49v4.45h-4.49zM514.83 581.1h4.49v4.45h-4.49zM527.25 581.1h4.49v4.45h-4.49zM547.96 581.1h4.49v4.45h-4.49zM564.52 581.1h16.91v4.45h-16.91zM527.25 585.2h4.49v4.45h-4.49zM556.24 585.2h4.49v4.45h-4.49zM564.52 585.2h4.49v4.45h-4.49zM572.8 585.2h12.77v4.45h-12.77zM481.7 589.3h4.49v4.45h-4.49zM576.94 589.3h4.49v4.45h-4.49zM589.37 589.3h4.49v4.45h-4.49zM639.06 589.3h4.14v4.45h-4.14zM535.53 593.4h4.49v4.45h-4.49zM589.37 593.4h4.49v4.45h-4.49zM543.82 597.5h4.49v4.45h-4.49zM626.64 597.5h4.49v4.45h-4.49zM581.08 601.6h4.49v4.1h-4.49zM589.37 601.6h12.77v4.1h-12.77zM610.07 601.6h4.49v4.1h-4.49zM618.35 601.6h4.49v4.1h-4.49z"/>
<path fill="#463480" d="M523.11 552.4h4.49v4.45h-4.49zM518.97 556.5h4.49v4.45h-4.49zM564.52 556.5h4.49v4.45h-4.49zM576.94 556.5h4.49v4.45h-4.49zM593.51 556.5h4.49v4.45h-4.49zM601.79 556.5h4.49v4.45h-4.49zM539.67 560.6h4.49v4.45h-4.49zM568.66 560.6h8.63v4.45h-8.63zM593.51 560.6h4.49v4.45h-4.49zM605.93 560.6h4.49v4.45h-4.49zM485.84 564.7h4.49v4.45h-4.49zM531.39 564.7h4.49v4.45h-4.49zM539.67 564.7h4.49v4.45h-4.49zM556.24 564.7h4.49v4.45h-4.49zM564.52 564.7h4.49v4.45h-4.49zM576.94 564.7h4.49v4.45h-4.49zM589.37 564.7h4.49v4.45h-4.49zM605.93 564.7h4.49v4.45h-4.49zM514.83 568.8h4.49v4.45h-4.49zM531.39 568.8h4.49v4.45h-4.49zM543.82 568.8h4.49v4.45h-4.49zM556.24 568.8h4.49v4.45h-4.49zM568.66 568.8h4.49v4.45h-4.49zM485.84 572.9h4.49v4.45h-4.49zM552.1 572.9h4.49v4.45h-4.49zM560.38 572.9h4.49v4.45h-4.49zM510.69 577h4.49v4.45h-4.49zM552.1 577h4.49v4.45h-4.49zM560.38 577h4.49v4.45h-4.49zM601.79 577h4.49v4.45h-4.49zM634.92 577h4.49v4.45h-4.49zM531.39 581.1h4.49v4.45h-4.49zM543.82 581.1h4.49v4.45h-4.49zM556.24 581.1h4.49v4.45h-4.49zM610.07 581.1h8.63v4.45h-8.63zM614.21 585.2h4.49v4.45h-4.49zM630.78 585.2h4.49v4.45h-4.49zM498.26 589.3h4.49v4.45h-4.49zM506.55 593.4h4.49v4.45h-4.49zM622.49 593.4h4.49v4.45h-4.49zM630.78 593.4h4.49v4.45h-4.49zM514.83 597.5h4.49v4.45h-4.49zM572.8 597.5h4.49v4.45h-4.49zM514.83 601.6h4.49v4.1h-4.49z"/>
<path fill="#481c6e" d="M539.67 552.4h4.49v4.45h-4.49zM547.96 552.4h4.49v4.45h-4.49zM593.51 552.4h4.49v4.45h-4.49zM601.79 552.4h4.49v4.45h-4.49zM556.24 560.6h4.49v4.45h-4.49zM601.79 560.6h4.49v4.45h-4.49zM485.84 568.8h4.49v4.45h-4.49zM518.97 568.8h4.49v4.45h-4.49zM514.83 572.9h4.49v4.45h-4.49zM568.66 572.9h4.49v4.45h-4.49zM605.93 577h4.49v4.45h-4.49zM581.08 581.1h4.49v4.45h-4.49zM605.93 581.1h4.49v4.45h-4.49zM502.41 585.2h4.49v4.45h-4.49zM510.69 585.2h4.49v4.45h-4.49zM543.82 585.2h4.49v4.45h-4.49zM523.11 589.3h4.49v4.45h-4.49zM614.21 589.3h4.49v4.45h-4.49zM605.93 593.4h4.49v4.45h-4.49zM614.21 593.4h4.49v4.45h-4.49zM547.96 597.5h4.49v4.45h-4.49zM576.94 597.5h4.49v4.45h-4.49zM614.21 597.5h4.49v4.45h-4.49zM510.69 601.6h4.49v4.1h-4.49z"/>
<path fill="#482475" d="M543.82 552.4h4.49v4.45h-4.49zM564.52 552.4h4.49v4.45h-4.49zM506.55 556.5h4.49v4.45h-4.49zM572.8 556.5h4.49v4.45h-4.49zM489.98 560.6h4.49v4.45h-4.49zM502.41 560.6h4.49v4.45h-4.49zM535.53 560.6h4.49v4.45h-4.49zM543.82 560.6h4.49v4.45h-4.49zM597.65 560.6h4.49v4.45h-4.49zM552.1 568.8h4.49v4.45h-4.49zM564.52 568.8h4.49v4.45h-4.49zM585.23 568.8h4.49v4.45h-4.49zM634.92 568.8h4.49v4.45h-4.49zM564.52 572.9h4.49v4.45h-4.49zM576.94 572.9h4.49v4.45h-4.49zM481.7 577h4.49v4.45h-4.49zM589.37 577h4.49v4.45h-4.49zM614.21 577h4.49v4.45h-4.49zM552.1 581.1h4.49v4.45h-4.49zM560.38 581.1h4.49v4.45h-4.49zM531.39 585.2h4.49v4.45h-4.49zM585.23 585.2h4.49v4.45h-4.49zM601.79 585.2h4.49v4.45h-4.49zM494.12 589.3h4.49v4.45h-4.49zM502.41 589.3h4.49v4.45h-4.49zM593.51 589.3h4.49v4.45h-4.49zM605.93 589.3h8.63v4.45h-8.63zM514.83 593.4h4.49v4.45h-4.49zM531.39 593.4h4.49v4.45h-4.49zM547.96 593.4h4.49v4.45h-4.49zM576.94 593.4h4.49v4.45h-4.49zM601.79 593.4h4.49v4.45h-4.49zM494.12 597.5h4.49v4.45h-4.49zM502.41 597.5h4.49v4.45h-4.49zM552.1 597.5h4.49v4.45h-4.49zM593.51 597.5h4.49v4.45h-4.49zM614.21 601.6h4.49v4.1h-4.49z"/>
<path fill="#443b84" d="M556.24 552.4h8.63v4.45h-8.63zM585.23 556.5h4.49v4.45h-4.49zM610.07 556.5h4.49v4.45h-4.49zM494.12 560.6h8.63v4.45h-8.63zM547.96 560.6h4.49v4.45h-4.49zM564.52 560.6h4.49v4.45h-4.49zM622.49 560.6h4.49v4.45h-4.49zM518.97 564.7h4.49v4.45h-4.49zM543.82 564.7h4.49v4.45h-4.49zM572.8 564.7h4.49v4.45h-4.49zM585.23 564.7h4.49v4.45h-4.49zM618.35 564.7h4.49v4.45h-4.49zM626.64 564.7h4.49v4.45h-4.49zM523.11 568.8h4.49v4.45h-4.49zM618.35 568.8h4.49v4.45h-4.49zM626.64 568.8h4.49v4.45h-4.49zM489.98 572.9h4.49v4.45h-4.49zM518.97 572.9h4.49v4.45h-4.49zM589.37 572.9h4.49v4.45h-4.49zM597.65 572.9h4.49v4.45h-4.49zM605.93 572.9h4.49v4.45h-4.49zM618.35 572.9h4.49v4.45h-4.49zM630.78 572.9h4.49v4.45h-4.49zM485.84 577h4.49v4.45h-4.49zM568.66 577h4.49v4.45h-4.49zM581.08 577h4.49v4.45h-4.49zM618.35 577h4.49v4.45h-4.49zM626.64 577h4.49v4.45h-4.49zM494.12 581.1h4.49v4.45h-4.49zM502.41 581.1h4.49v4.45h-4.49zM585.23 581.1h4.49v4.45h-4.49zM622.49 581.1h12.77v4.45h-12.77zM489.98 585.2h12.77v4.45h-12.77zM618.35 585.2h8.63v4.45h-8.63zM552.1 589.3h8.63v4.45h-8.63zM568.66 589.3h4.49v4.45h-4.49zM581.08 589.3h8.63v4.45h-8.63zM502.41 593.4h4.49v4.45h-4.49zM518.97 593.4h4.49v4.45h-4.49zM527.25 593.4h4.49v4.45h-4.49zM572.8 593.4h4.49v4.45h-4.49zM597.65 593.4h4.49v4.45h-4.49zM510.69 597.5h4.49v4.45h-4.49zM556.24 597.5h4.49v4.45h-4.49zM568.66 597.5h4.49v4.45h-4.49zM518.97 601.6h4.49v4.1h-4.49zM527.25 601.6h4.49v4.1h-4.49z"/>
<path fill="#414487" d="M597.65 552.4h4.49v4.45h-4.49zM581.08 556.5h4.49v4.45h-4.49zM585.23 560.6h4.49v4.45h-4.49zM498.26 564.7h4.49v4.45h-4.49zM581.08 564.7h4.49v4.45h-4.49zM535.53 568.8h4.49v4.45h-4.49zM531.39 572.9h4.49v4.45h-4.49zM601.79 572.9h4.49v4.45h-4.49zM622.49 572.9h4.49v4.45h-4.49zM531.39 577h4.49v4.45h-4.49zM543.82 577h4.49v4.45h-4.49zM585.23 577h4.49v4.45h-4.49zM535.53 581.1h8.63v4.45h-8.63zM589.37 585.2h4.49v4.45h-4.49zM634.92 585.2h4.49v4.45h-4.49z"/>
<path fill="#472d7b" d="M514.83 556.5h4.49v4.45h-4.49zM539.67 556.5h4.49v4.45h-4.49zM547.96 556.5h4.49v4.45h-4.49zM556.24 556.5h4.49v4.45h-4.49zM518.97 560.6h4.49v4.45h-4.49zM560.38 560.6h4.49v4.45h-4.49zM618.35 560.6h4.49v4.45h-4.49zM626.64 560.6h4.49v4.45h-4.49zM489.98 564.7h4.49v4.45h-4.49zM527.25 564.7h4.49v4.45h-4.49zM552.1 564.7h4.49v4.45h-4.49zM560.38 564.7h4.49v4.45h-4.49zM489.98 568.8h4.49v4.45h-4.49zM560.38 568.8h4.49v4.45h-4.49zM547.96 572.9h4.49v4.45h-4.49zM626.64 572.9h4.49v4.45h-4.49zM489.98 577h4.49v4.45h-4.49zM506.55 577h4.49v4.45h-4.49zM514.83 577h4.49v4.45h-4.49zM547.96 577h4.49v4.45h-4.49zM593.51 577h8.63v4.45h-8.63zM622.49 577h4.49v4.45h-4.49zM489.98 581.1h4.49v4.45h-4.49zM510.69 581.1h4.49v4.45h-4.49zM485.84 585.2h4.49v4.45h-4.49zM506.55 585.2h4.49v4.45h-4.49zM539.67 585.2h4.49v4.45h-4.49zM547.96 585.2h4.49v4.45h-4.49zM597.65 585.2h4.49v4.45h-4.49zM605.93 585.2h4.49v4.45h-4.49zM539.67 589.3h12.77v4.45h-12.77zM597.65 589.3h4.49v4.45h-4.49zM494.12 593.4h4.49v4.45h-4.49zM510.69 593.4h4.49v4.45h-4.49zM552.1 593.4h4.49v4.45h-4.49zM581.08 593.4h4.49v4.45h-4.49zM498.26 597.5h4.49v4.45h-4.49zM597.65 597.5h4.49v4.45h-4.49z"/>
<path fill="#31668e" d="M543.82 556.5h4.49v4.45h-4.49zM560.38 556.5h4.49v4.45h-4.49zM597.65 556.5h4.49v4.45h-4.49zM498.26 568.8h4.49v4.45h-4.49zM502.41 572.9h4.49v4.45h-4.49zM610.07 585.2h4.49v4.45h-4.49z"/>
<path fill="#25848e" d="M576.94 560.6h4.49v4.45h-4.49zM556.24 572.9h4.49v4.45h-4.49zM556.24 577h4.49v4.45h-4.49z"/>
<path fill="#2fb47c" d="M581.08 560.6h4.49v4.45h-4.49zM535.53 572.9h4.49v4.45h-4.49z"/>
<path fill="#2a788e" d="M494.12 564.7h4.49v4.45h-4.49zM498.26 593.4h4.49v4.45h-4.49z"/>
<path fill="#1f968b" d="M622.49 564.7h4.49v4.45h-4.49z"/>
<path fill="#3e4a89" d="M494.12 568.8h4.49v4.45h-4.49zM502.41 568.8h4.49v4.45h-4.49zM539.67 568.8h4.49v4.45h-4.49zM543.82 572.9h4.49v4.45h-4.49zM626.64 585.2h4.49v4.45h-4.49zM622.49 589.3h4.49v4.45h-4.49zM630.78 589.3h4.49v4.45h-4.49zM626.64 593.4h4.49v4.45h-4.49z"/>
<path fill="#1e9c89" d="M622.49 568.8h4.49v4.45h-4.49zM494.12 572.9h4.49v4.45h-4.49z"/>
<path fill="#fde725" d="M498.26 572.9h4.49v4.45h-4.49z"/>
<path fill="#38b977" d="M539.67 572.9h4.49v4.45h-4.49zM626.64 589.3h4.49v4.45h-4.49z"/>
<path fill="#38598c" d="M494.12 577h4.49v4.45h-4.49zM502.41 577h4.49v4.45h-4.49zM498.26 581.1h4.49v4.45h-4.49zM564.52 589.3h4.49v4.45h-4.49zM601.79 589.3h4.49v4.45h-4.49zM523.11 593.4h4.49v4.45h-4.49zM568.66 593.4h4.49v4.45h-4.49zM527.25 597.5h4.49v4.45h-4.49zM564.52 597.5h4.49v4.45h-4.49zM523.11 601.6h4.49v4.1h-4.49z"/>
<path fill="#7ad151" d="M498.26 577h4.49v4.45h-4.49zM564.52 593.4h4.49v4.45h-4.49zM523.11 597.5h4.49v4.45h-4.49z"/>
<path fill="#22a884" d="M535.53 577h8.63v4.45h-8.63z"/>
<path fill="#2f6c8e" d="M506.55 581.1h4.49v4.45h-4.49zM618.35 581.1h4.49v4.45h-4.49z"/>
<path fill="#3b528b" d="M560.38 589.3h4.49v4.45h-4.49zM556.24 593.4h4.49v4.45h-4.49zM560.38 597.5h4.49v4.45h-4.49z"/>
<path fill="#5ec962" d="M560.38 593.4h4.49v4.45h-4.49z"/>
<path fill="#238a8d" d="M518.97 597.5h4.49v4.45h-4.49z"/>
<text x="560.9" y="544.96" text-anchor="middle">Number of displacements</text>
<text x="474" y="561.96" text-anchor="end">0.2</text>
<text x="474" y="579.96" text-anchor="end">0.0</text>
<text x="474" y="597.96" text-anchor="end">-0.2</text>
<linearGradient id="gv4" x1="0" y1="0" x2="0" y2="1"><stop offset="0" stop-color="#fde725"/><stop offset=".1" stop-color="#bddf26"/><stop offset=".2" stop-color="#7ad151"/><stop offset=".3" stop-color="#44bf70"/><stop offset=".4" stop-color="#22a884"/><stop offset=".5" stop-color="#21918c"/><stop offset=".6" stop-color="#2a788e"/><stop offset=".7" stop-color="#355f8d"/><stop offset=".8" stop-color="#414487"/><stop offset=".9" stop-color="#482475"/><stop offset="1" stop-color="#440154"/></linearGradient>
<rect x="653.5" y="548.3" width="3.4" height="57.4" fill="url(#gv4)"/>
<text x="661.7" y="561.96">20</text>
<text x="661.7" y="584.66">10</text>
<text x="661.7" y="607.16">0</text>
<path d="M481.7 558.5h-2.4M481.7 576.5h-2.4M481.7 594.5h-2.4M494.93 605.7v2.4M516.15 605.7v2.4M537.38 605.7v2.4M558.6 605.7v2.4M579.83 605.7v2.4M601.05 605.7v2.4M622.27 605.7v2.4M656.9 558.5h2.2M656.9 581.2h2.2M656.9 603.7h2.2M656.9 548.6h1.6M656.9 569.9h1.6M656.9 592.4h1.6" stroke="#111" stroke-width="1.1" fill="none"/>
<rect x="479.3" y="631.9" width="161.8" height="57.6" fill="#000000"/>
<path fill="#2626ff" d="M520.79 636.01h4.5v4.46h-4.5zM558.13 636.01h4.5v4.46h-4.5zM541.53 640.13h4.5v4.46h-4.5zM553.98 640.13h4.5v4.46h-4.5zM562.27 640.13h4.5v4.46h-4.5zM583.02 644.24h4.5v4.46h-4.5zM537.38 648.36h4.5v4.46h-4.5zM570.57 648.36h4.5v4.46h-4.5zM603.76 648.36h4.5v4.46h-4.5zM483.45 652.47h4.5v4.46h-4.5zM491.75 652.47h4.5v4.46h-4.5zM624.51 652.47h4.5v4.46h-4.5zM483.45 656.59h4.5v4.46h-4.5zM495.89 656.59h4.5v4.46h-4.5zM624.51 656.59h4.5v4.46h-4.5zM491.75 660.7h4.5v4.46h-4.5zM500.04 660.7h8.65v4.46h-8.65zM566.42 660.7h4.5v4.46h-4.5zM632.8 660.7h4.5v4.46h-4.5zM628.65 664.81h4.5v4.46h-4.5zM616.21 668.93h4.5v4.46h-4.5zM624.51 668.93h4.5v4.46h-4.5zM562.27 673.04h4.5v4.46h-4.5zM591.32 673.04h8.65v4.46h-8.65zM524.94 677.16h4.5v4.46h-4.5zM549.83 677.16h4.5v4.46h-4.5zM562.27 677.16h8.65v4.46h-8.65zM578.87 677.16h4.5v4.46h-4.5zM516.64 681.27h8.65v4.46h-8.65zM545.68 681.27h4.5v4.46h-4.5zM566.42 681.27h4.5v4.46h-4.5zM612.06 681.27h4.5v4.46h-4.5z"/>
<path fill="#ffcccc" d="M553.98 636.01h4.5v4.46h-4.5zM587.17 648.36h4.5v4.46h-4.5zM491.75 664.81h4.5v4.46h-4.5zM500.04 677.16h4.5v4.46h-4.5z"/>
<path fill="#0c0cff" d="M562.27 636.01h4.5v4.46h-4.5zM595.46 636.01h4.5v4.46h-4.5zM558.13 640.13h4.5v4.46h-4.5zM595.46 640.13h4.5v4.46h-4.5zM500.04 644.24h4.5v4.46h-4.5zM562.27 644.24h4.5v4.46h-4.5zM574.72 644.24h4.5v4.46h-4.5zM591.32 644.24h4.5v4.46h-4.5zM491.75 648.36h4.5v4.46h-4.5zM495.89 652.47h4.5v4.46h-4.5zM533.23 656.59h4.5v4.46h-4.5zM558.13 656.59h4.5v4.46h-4.5zM595.46 656.59h4.5v4.46h-4.5zM541.53 660.7h4.5v4.46h-4.5zM612.06 660.7h4.5v4.46h-4.5zM483.45 668.93h4.5v4.46h-4.5zM587.17 668.93h4.5v4.46h-4.5zM541.53 673.04h8.65v4.46h-8.65zM583.02 673.04h4.5v4.46h-4.5zM558.13 677.16h4.5v4.46h-4.5zM591.32 681.27h4.5v4.46h-4.5zM512.49 685.39h4.5v4.11h-4.5z"/>
<path fill="#a6a6ff" d="M504.19 640.13h4.5v4.46h-4.5zM624.51 648.36h4.5v4.46h-4.5zM533.23 652.47h4.5v4.46h-4.5zM545.68 660.7h4.5v4.46h-4.5zM599.61 668.93h4.5v4.46h-4.5zM574.72 681.27h4.5v4.46h-4.5z"/>
<path fill="#1818ff" d="M512.49 640.13h4.5v4.46h-4.5zM607.91 640.13h4.5v4.46h-4.5zM491.75 644.24h4.5v4.46h-4.5zM566.42 644.24h4.5v4.46h-4.5zM578.87 644.24h4.5v4.46h-4.5zM516.64 648.36h4.5v4.46h-4.5zM524.94 648.36h4.5v4.46h-4.5zM541.53 648.36h4.5v4.46h-4.5zM583.02 648.36h4.5v4.46h-4.5zM537.38 652.47h4.5v4.46h-4.5zM562.27 652.47h4.5v4.46h-4.5zM616.21 652.47h8.65v4.46h-8.65zM487.6 656.59h8.65v4.46h-8.65zM541.53 656.59h4.5v4.46h-4.5zM562.27 656.59h4.5v4.46h-4.5zM587.17 656.59h4.5v4.46h-4.5zM479.3 660.7h4.5v4.46h-4.5zM495.89 660.7h4.5v4.46h-4.5zM512.49 660.7h4.5v4.46h-4.5zM553.98 660.7h4.5v4.46h-4.5zM595.46 660.7h4.5v4.46h-4.5zM620.36 660.7h4.5v4.46h-4.5zM578.87 664.81h4.5v4.46h-4.5zM616.21 664.81h8.65v4.46h-8.65zM583.02 668.93h4.5v4.46h-4.5zM595.46 668.93h4.5v4.46h-4.5zM495.89 673.04h8.65v4.46h-8.65zM520.79 673.04h4.5v4.46h-4.5zM549.83 673.04h4.5v4.46h-4.5zM607.91 673.04h4.5v4.46h-4.5zM624.51 673.04h4.5v4.46h-4.5zM495.89 677.16h4.5v4.46h-4.5zM516.64 677.16h8.65v4.46h-8.65zM529.08 677.16h4.5v4.46h-4.5zM574.72 677.16h4.5v4.46h-4.5zM612.06 677.16h4.5v4.46h-4.5zM512.49 681.27h4.5v4.46h-4.5zM553.98 681.27h4.5v4.46h-4.5zM562.27 681.27h4.5v4.46h-4.5zM570.57 681.27h4.5v4.46h-4.5zM595.46 681.27h4.5v4.46h-4.5zM508.34 685.39h4.5v4.11h-4.5z"/>
<path fill="#7272ff" d="M516.64 640.13h4.5v4.46h-4.5zM487.6 652.47h4.5v4.46h-4.5zM508.34 660.7h4.5v4.46h-4.5zM583.02 660.7h4.5v4.46h-4.5zM599.61 660.7h4.5v4.46h-4.5zM620.36 673.04h4.5v4.46h-4.5zM570.57 677.16h4.5v4.46h-4.5z"/>
<path fill="#3232ff" d="M537.38 640.13h4.5v4.46h-4.5zM591.32 640.13h4.5v4.46h-4.5zM599.61 640.13h4.5v4.46h-4.5zM495.89 644.24h4.5v4.46h-4.5zM533.23 644.24h4.5v4.46h-4.5zM603.76 644.24h4.5v4.46h-4.5zM495.89 648.36h4.5v4.46h-4.5zM553.98 648.36h4.5v4.46h-4.5zM566.42 652.47h4.5v4.46h-4.5zM537.38 656.59h4.5v4.46h-4.5zM553.98 656.59h4.5v4.46h-4.5zM483.45 660.7h8.65v4.46h-8.65zM537.38 660.7h4.5v4.46h-4.5zM578.87 660.7h4.5v4.46h-4.5zM603.76 660.7h4.5v4.46h-4.5zM616.21 660.7h4.5v4.46h-4.5zM541.53 664.81h4.5v4.46h-4.5zM624.51 664.81h4.5v4.46h-4.5zM487.6 668.93h4.5v4.46h-4.5zM529.08 668.93h4.5v4.46h-4.5zM545.68 668.93h4.5v4.46h-4.5zM607.91 668.93h4.5v4.46h-4.5zM628.65 668.93h4.5v4.46h-4.5zM537.38 673.04h4.5v4.46h-4.5zM553.98 673.04h8.65v4.46h-8.65zM545.68 677.16h4.5v4.46h-4.5zM553.98 677.16h4.5v4.46h-4.5zM595.46 677.16h8.65v4.46h-8.65zM508.34 681.27h4.5v4.46h-4.5zM549.83 681.27h4.5v4.46h-4.5zM558.13 681.27h4.5v4.46h-4.5zM612.06 685.39h4.5v4.11h-4.5z"/>
<path fill="#6666ff" d="M545.68 640.13h4.5v4.46h-4.5zM537.38 644.24h4.5v4.46h-4.5zM529.08 648.36h4.5v4.46h-4.5zM516.64 652.47h4.5v4.46h-4.5zM512.49 656.59h4.5v4.46h-4.5zM495.89 664.81h4.5v4.46h-4.5zM612.06 664.81h4.5v4.46h-4.5zM612.06 668.93h4.5v4.46h-4.5zM632.8 668.93h4.5v4.46h-4.5zM624.51 677.16h4.5v4.46h-4.5z"/>
<path fill="#5858ff" d="M574.72 640.13h4.5v4.46h-4.5zM620.36 648.36h4.5v4.46h-4.5zM587.17 660.7h8.65v4.46h-8.65z"/>
<path fill="#ccccff" d="M578.87 640.13h4.5v4.46h-4.5zM558.13 648.36h4.5v4.46h-4.5zM504.19 677.16h4.5v4.46h-4.5z"/>
<path fill="#4c4cff" d="M583.02 640.13h4.5v4.46h-4.5zM541.53 644.24h4.5v4.46h-4.5zM483.45 648.36h4.5v4.46h-4.5zM616.21 648.36h4.5v4.46h-4.5zM549.83 652.47h4.5v4.46h-4.5zM632.8 652.47h4.5v4.46h-4.5zM599.61 656.59h4.5v4.46h-4.5zM620.36 668.93h4.5v4.46h-4.5z"/>
<path fill="#8c8cff" d="M516.64 644.24h4.5v4.46h-4.5zM628.65 656.59h4.5v4.46h-4.5zM508.34 677.16h4.5v4.46h-4.5z"/>
<path fill="#4040ff" d="M545.68 644.24h4.5v4.46h-4.5zM562.27 648.36h4.5v4.46h-4.5zM500.04 656.59h4.5v4.46h-4.5zM616.21 656.59h8.65v4.46h-8.65zM533.23 660.7h4.5v4.46h-4.5zM537.38 664.81h4.5v4.46h-4.5zM603.76 668.93h4.5v4.46h-4.5zM566.42 673.04h4.5v4.46h-4.5zM524.94 681.27h4.5v4.46h-4.5z"/>
<path fill="#ffbebe" d="M558.13 644.24h4.5v4.46h-4.5zM500.04 652.47h4.5v4.46h-4.5zM541.53 652.47h4.5v4.46h-4.5zM566.42 656.59h4.5v4.46h-4.5zM491.75 668.93h4.5v4.46h-4.5z"/>
<path fill="#ffd8d8" d="M549.83 648.36h4.5v4.46h-4.5zM583.02 652.47h4.5v4.46h-4.5z"/>
<path fill="#fffefe" d="M574.72 648.36h4.5v4.46h-4.5zM574.72 656.59h4.5v4.46h-4.5z"/>
<path fill="#ff8c8c" d="M512.49 652.47h4.5v4.46h-4.5zM512.49 677.16h4.5v4.46h-4.5z"/>
<path fill="#f2f2ff" d="M520.79 652.47h4.5v4.46h-4.5zM545.68 656.59h4.5v4.46h-4.5zM624.51 660.7h4.5v4.46h-4.5z"/>
<path fill="#ff0c0c" d="M558.13 652.47h4.5v4.46h-4.5z"/>
<path fill="#fff2f2" d="M516.64 656.59h4.5v4.46h-4.5zM558.13 660.7h4.5v4.46h-4.5zM607.91 664.81h4.5v4.46h-4.5zM495.89 668.93h4.5v4.46h-4.5zM537.38 668.93h4.5v4.46h-4.5z"/>
<path fill="#c0c0ff" d="M549.83 656.59h4.5v4.46h-4.5z"/>
<path fill="#b2b2ff" d="M603.76 656.59h4.5v4.46h-4.5zM541.53 668.93h4.5v4.46h-4.5z"/>
<path fill="#ff0000" d="M549.83 660.7h4.5v4.46h-4.5z"/>
<path fill="#8080ff" d="M487.6 664.81h4.5v4.46h-4.5zM504.19 664.81h4.5v4.46h-4.5zM603.76 664.81h4.5v4.46h-4.5z"/>
<path fill="#ff7e7e" d="M583.02 664.81h4.5v4.46h-4.5z"/>
<path fill="#ff1818" d="M578.87 673.04h4.5v4.46h-4.5z"/>
<text x="565.2" y="629.66" text-anchor="middle">Diffusivity map</text>
<text x="474" y="647.06" text-anchor="end">0.2</text>
<text x="474" y="664.06" text-anchor="end">0.0</text>
<text x="474" y="681.06" text-anchor="end">-0.2</text>
<text x="514.5" y="700.46" text-anchor="middle">-0.5</text>
<text x="557.6" y="700.46" text-anchor="middle">0.0</text>
<text x="600.7" y="700.46" text-anchor="middle">0.5</text>
<linearGradient id="gb4" x1="0" y1="0" x2="0" y2="1"><stop offset="0" stop-color="#ff0000"/><stop offset=".1" stop-color="#ff3232"/><stop offset=".2" stop-color="#ff6666"/><stop offset=".3" stop-color="#ff9898"/><stop offset=".4" stop-color="#ffcccc"/><stop offset=".5" stop-color="#fffefe"/><stop offset=".6" stop-color="#ccccff"/><stop offset=".7" stop-color="#9898ff"/><stop offset=".8" stop-color="#6666ff"/><stop offset=".9" stop-color="#3232ff"/><stop offset="1" stop-color="#0000ff"/></linearGradient>
<rect x="651" y="631.9" width="3.4" height="57.6" fill="url(#gb4)"/>
<text x="658.9" y="646.16">1.5</text>
<text x="658.9" y="661.56">1.0</text>
<text x="658.9" y="676.56">0.5</text>
<path d="M479.3 643.6h-2.4M479.3 660.6h-2.4M479.3 677.6h-2.4M492.45 689.5v2.4M514 689.5v2.4M535.55 689.5v2.4M557.1 689.5v2.4M578.65 689.5v2.4M600.2 689.5v2.4M621.75 689.5v2.4M654.4 642.7h2.2M654.4 658.1h2.2M654.4 673.1h2.2" stroke="#111" stroke-width="1.1" fill="none"/>
<text x="683.26" y="661.3" text-anchor="middle" transform="rotate(-90 683.26 661.3)">D<tspan font-size="6.72">L</tspan> (µm²/s)</text>
<text x="558.7" y="714.06" text-anchor="middle">(µm)</text>
</svg>
</body></html>
